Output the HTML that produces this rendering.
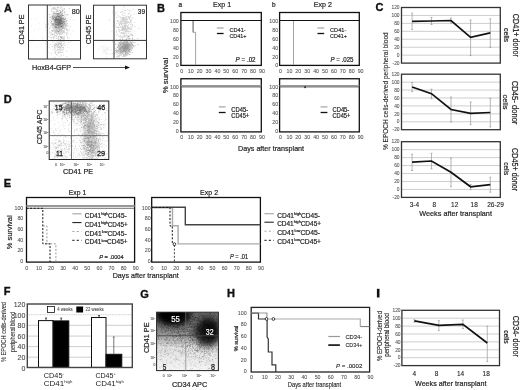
<!DOCTYPE html><html><head><meta charset="utf-8"><style>html,body{margin:0;padding:0;background:#fff;overflow:hidden;}svg{display:block;will-change:transform;}</style></head><body>
<svg width="520" height="390" viewBox="0 0 520 390" font-family='"Liberation Sans", sans-serif'>
<defs>
<filter id="bl6" x="-50%" y="-50%" width="200%" height="200%"><feGaussianBlur stdDeviation="0.6"/></filter>
<filter id="bl10" x="-50%" y="-50%" width="200%" height="200%"><feGaussianBlur stdDeviation="1.0"/></filter>
<filter id="bl15" x="-50%" y="-50%" width="200%" height="200%"><feGaussianBlur stdDeviation="1.5"/></filter>
<filter id="bl20" x="-50%" y="-50%" width="200%" height="200%"><feGaussianBlur stdDeviation="2.0"/></filter>
<filter id="bl25" x="-50%" y="-50%" width="200%" height="200%"><feGaussianBlur stdDeviation="2.5"/></filter>
<filter id="bl30" x="-50%" y="-50%" width="200%" height="200%"><feGaussianBlur stdDeviation="3.0"/></filter>
<filter id="bl35" x="-50%" y="-50%" width="200%" height="200%"><feGaussianBlur stdDeviation="3.5"/></filter>
<filter id="bl40" x="-50%" y="-50%" width="200%" height="200%"><feGaussianBlur stdDeviation="4.0"/></filter>
</defs>
<rect width="520" height="390" fill="#fff"/>
<text x="3.9" y="12.1" font-size="11" font-weight="bold" fill="#111" stroke="#111" stroke-width="0.35">A</text>
<ellipse cx="58.5" cy="22" rx="5" ry="8" fill="#000" fill-opacity="0.2" filter="url(#bl20)" transform="rotate(0,58.5,22)"/>
<path d="M57.5 21.8h0.8v0.8h-0.8zM57.6 18.1h0.8v0.8h-0.8zM55.5 18.5h0.8v0.8h-0.8zM61.6 21.4h0.8v0.8h-0.8zM61.4 20.6h0.8v0.8h-0.8zM59.5 20.3h0.8v0.8h-0.8zM53.3 23.3h0.8v0.8h-0.8zM59.8 21.7h0.8v0.8h-0.8zM53.2 11.7h0.8v0.8h-0.8zM55.6 17.4h0.8v0.8h-0.8zM59.2 19.3h0.8v0.8h-0.8zM59.9 16.6h0.8v0.8h-0.8zM59.2 21.3h0.8v0.8h-0.8zM56.3 27.2h0.8v0.8h-0.8zM60.0 24.9h0.8v0.8h-0.8zM56.4 16.2h0.8v0.8h-0.8zM57.3 19.0h0.8v0.8h-0.8zM60.2 20.6h0.8v0.8h-0.8zM57.0 15.2h0.8v0.8h-0.8zM56.7 25.0h0.8v0.8h-0.8zM55.9 20.6h0.8v0.8h-0.8zM59.6 12.8h0.8v0.8h-0.8zM58.4 25.4h0.8v0.8h-0.8zM52.3 18.1h0.8v0.8h-0.8zM58.0 15.8h0.8v0.8h-0.8zM59.8 19.2h0.8v0.8h-0.8zM53.9 23.2h0.8v0.8h-0.8zM60.3 23.8h0.8v0.8h-0.8zM62.6 21.1h0.8v0.8h-0.8zM58.7 13.7h0.8v0.8h-0.8zM60.1 16.7h0.8v0.8h-0.8zM56.9 13.8h0.8v0.8h-0.8zM55.4 17.1h0.8v0.8h-0.8zM62.2 10.4h0.8v0.8h-0.8zM53.9 20.6h0.8v0.8h-0.8zM62.6 22.1h0.8v0.8h-0.8zM52.6 8.2h0.8v0.8h-0.8zM59.4 16.2h0.8v0.8h-0.8zM54.9 23.9h0.8v0.8h-0.8zM61.6 20.2h0.8v0.8h-0.8zM59.0 21.5h0.8v0.8h-0.8zM63.1 22.3h0.8v0.8h-0.8zM59.9 22.0h0.8v0.8h-0.8zM53.6 25.3h0.8v0.8h-0.8zM61.2 21.9h0.8v0.8h-0.8zM52.4 16.6h0.8v0.8h-0.8zM60.8 11.3h0.8v0.8h-0.8zM57.7 24.1h0.8v0.8h-0.8zM54.4 26.7h0.8v0.8h-0.8zM60.0 18.8h0.8v0.8h-0.8zM59.3 22.4h0.8v0.8h-0.8zM58.7 24.7h0.8v0.8h-0.8zM56.3 17.6h0.8v0.8h-0.8zM61.4 19.6h0.8v0.8h-0.8zM55.7 23.8h0.8v0.8h-0.8zM62.7 17.5h0.8v0.8h-0.8zM54.2 18.9h0.8v0.8h-0.8zM57.9 18.2h0.8v0.8h-0.8zM62.5 14.9h0.8v0.8h-0.8zM62.1 13.8h0.8v0.8h-0.8zM55.9 22.3h0.8v0.8h-0.8zM61.7 23.4h0.8v0.8h-0.8zM59.3 20.1h0.8v0.8h-0.8zM58.8 22.1h0.8v0.8h-0.8zM57.8 20.7h0.8v0.8h-0.8zM60.0 19.5h0.8v0.8h-0.8zM60.6 22.0h0.8v0.8h-0.8zM64.3 21.0h0.8v0.8h-0.8zM57.0 17.8h0.8v0.8h-0.8zM58.3 23.7h0.8v0.8h-0.8zM57.3 21.2h0.8v0.8h-0.8zM63.8 8.0h0.8v0.8h-0.8zM54.9 20.6h0.8v0.8h-0.8zM59.5 20.6h0.8v0.8h-0.8zM57.0 22.4h0.8v0.8h-0.8zM59.1 17.2h0.8v0.8h-0.8zM65.6 21.1h0.8v0.8h-0.8zM56.6 19.1h0.8v0.8h-0.8zM57.6 19.2h0.8v0.8h-0.8zM50.1 17.3h0.8v0.8h-0.8zM61.3 14.2h0.8v0.8h-0.8zM58.1 23.8h0.8v0.8h-0.8zM60.9 26.2h0.8v0.8h-0.8zM53.2 17.9h0.8v0.8h-0.8zM57.3 22.3h0.8v0.8h-0.8zM61.6 7.4h0.8v0.8h-0.8zM61.6 13.0h0.8v0.8h-0.8zM60.3 12.8h0.8v0.8h-0.8zM58.8 24.9h0.8v0.8h-0.8zM57.9 20.4h0.8v0.8h-0.8zM60.7 20.1h0.8v0.8h-0.8zM58.0 26.4h0.8v0.8h-0.8zM61.4 18.2h0.8v0.8h-0.8zM66.5 14.3h0.8v0.8h-0.8zM61.0 18.3h0.8v0.8h-0.8zM58.7 22.7h0.8v0.8h-0.8zM59.0 22.4h0.8v0.8h-0.8zM53.7 12.7h0.8v0.8h-0.8zM60.1 15.2h0.8v0.8h-0.8zM55.2 12.9h0.8v0.8h-0.8zM62.1 22.9h0.8v0.8h-0.8zM62.7 15.3h0.8v0.8h-0.8zM58.3 14.4h0.8v0.8h-0.8zM60.6 26.7h0.8v0.8h-0.8zM55.6 26.5h0.8v0.8h-0.8zM61.3 18.7h0.8v0.8h-0.8zM52.4 25.8h0.8v0.8h-0.8zM58.0 16.8h0.8v0.8h-0.8zM59.5 21.3h0.8v0.8h-0.8zM62.8 14.9h0.8v0.8h-0.8zM61.7 26.2h0.8v0.8h-0.8zM62.7 18.7h0.8v0.8h-0.8zM56.1 24.1h0.8v0.8h-0.8zM58.6 20.1h0.8v0.8h-0.8zM62.6 18.3h0.8v0.8h-0.8zM51.4 17.8h0.8v0.8h-0.8zM52.7 23.2h0.8v0.8h-0.8zM59.3 16.7h0.8v0.8h-0.8zM58.3 23.2h0.8v0.8h-0.8zM58.5 25.5h0.8v0.8h-0.8zM58.1 24.2h0.8v0.8h-0.8zM62.8 26.7h0.8v0.8h-0.8zM56.3 23.5h0.8v0.8h-0.8zM52.7 14.6h0.8v0.8h-0.8zM52.4 24.3h0.8v0.8h-0.8zM54.6 19.4h0.8v0.8h-0.8zM57.7 19.4h0.8v0.8h-0.8zM56.5 20.6h0.8v0.8h-0.8zM63.7 19.7h0.8v0.8h-0.8zM59.9 24.0h0.8v0.8h-0.8zM57.7 13.8h0.8v0.8h-0.8zM56.6 24.3h0.8v0.8h-0.8zM53.4 16.8h0.8v0.8h-0.8zM61.3 23.1h0.8v0.8h-0.8zM58.3 23.1h0.8v0.8h-0.8zM58.8 14.2h0.8v0.8h-0.8zM53.6 16.6h0.8v0.8h-0.8zM61.1 17.0h0.8v0.8h-0.8zM55.6 16.0h0.8v0.8h-0.8zM53.7 19.0h0.8v0.8h-0.8zM54.8 21.1h0.8v0.8h-0.8zM51.2 21.0h0.8v0.8h-0.8zM56.4 10.8h0.8v0.8h-0.8zM60.5 18.3h0.8v0.8h-0.8zM51.6 15.6h0.8v0.8h-0.8zM59.2 17.4h0.8v0.8h-0.8zM60.6 22.9h0.8v0.8h-0.8zM60.3 21.0h0.8v0.8h-0.8zM62.3 22.5h0.8v0.8h-0.8zM59.7 10.1h0.8v0.8h-0.8zM61.0 25.4h0.8v0.8h-0.8zM57.4 17.4h0.8v0.8h-0.8zM64.1 11.6h0.8v0.8h-0.8zM59.7 30.4h0.8v0.8h-0.8zM55.5 22.6h0.8v0.8h-0.8zM64.0 19.0h0.8v0.8h-0.8zM60.0 23.6h0.8v0.8h-0.8zM55.6 19.1h0.8v0.8h-0.8zM59.2 23.2h0.8v0.8h-0.8zM58.2 18.6h0.8v0.8h-0.8zM55.3 17.9h0.8v0.8h-0.8zM61.0 20.0h0.8v0.8h-0.8zM55.7 15.7h0.8v0.8h-0.8zM66.3 24.6h0.8v0.8h-0.8zM60.2 7.8h0.8v0.8h-0.8zM60.2 21.7h0.8v0.8h-0.8zM63.4 21.4h0.8v0.8h-0.8zM58.1 21.9h0.8v0.8h-0.8zM52.5 24.1h0.8v0.8h-0.8zM59.3 16.3h0.8v0.8h-0.8zM62.3 27.6h0.8v0.8h-0.8zM54.1 16.5h0.8v0.8h-0.8zM59.2 20.3h0.8v0.8h-0.8zM57.1 15.1h0.8v0.8h-0.8zM64.7 24.2h0.8v0.8h-0.8zM54.7 13.4h0.8v0.8h-0.8zM63.4 24.0h0.8v0.8h-0.8zM63.8 23.1h0.8v0.8h-0.8zM55.7 20.7h0.8v0.8h-0.8zM51.8 16.1h0.8v0.8h-0.8zM58.1 21.9h0.8v0.8h-0.8zM56.1 18.9h0.8v0.8h-0.8zM59.7 21.2h0.8v0.8h-0.8zM60.2 20.4h0.8v0.8h-0.8zM57.3 23.1h0.8v0.8h-0.8zM58.4 15.8h0.8v0.8h-0.8zM56.4 19.5h0.8v0.8h-0.8zM58.0 20.2h0.8v0.8h-0.8zM58.3 20.3h0.8v0.8h-0.8zM57.9 13.8h0.8v0.8h-0.8zM59.6 24.2h0.8v0.8h-0.8zM59.6 18.6h0.8v0.8h-0.8zM59.6 15.2h0.8v0.8h-0.8zM52.6 19.8h0.8v0.8h-0.8zM55.5 22.8h0.8v0.8h-0.8zM55.0 7.7h0.8v0.8h-0.8zM55.2 26.6h0.8v0.8h-0.8zM57.2 13.3h0.8v0.8h-0.8zM56.0 21.8h0.8v0.8h-0.8zM59.8 20.3h0.8v0.8h-0.8zM62.8 22.7h0.8v0.8h-0.8zM58.2 22.2h0.8v0.8h-0.8zM63.3 23.9h0.8v0.8h-0.8zM61.4 14.6h0.8v0.8h-0.8zM57.9 22.8h0.8v0.8h-0.8zM57.4 24.3h0.8v0.8h-0.8zM60.1 23.6h0.8v0.8h-0.8zM57.7 31.0h0.8v0.8h-0.8zM62.0 18.5h0.8v0.8h-0.8zM58.6 31.2h0.8v0.8h-0.8zM57.3 23.4h0.8v0.8h-0.8zM61.2 19.5h0.8v0.8h-0.8zM54.8 20.3h0.8v0.8h-0.8zM59.4 24.6h0.8v0.8h-0.8zM60.6 19.6h0.8v0.8h-0.8zM60.9 21.9h0.8v0.8h-0.8zM58.9 19.7h0.8v0.8h-0.8zM57.6 22.6h0.8v0.8h-0.8zM55.1 16.7h0.8v0.8h-0.8zM58.3 12.9h0.8v0.8h-0.8zM57.0 10.5h0.8v0.8h-0.8zM56.3 22.1h0.8v0.8h-0.8zM60.0 19.3h0.8v0.8h-0.8zM57.6 13.1h0.8v0.8h-0.8zM63.8 21.8h0.8v0.8h-0.8zM61.6 15.5h0.8v0.8h-0.8zM57.7 11.3h0.8v0.8h-0.8zM60.6 23.7h0.8v0.8h-0.8zM52.6 19.3h0.8v0.8h-0.8zM60.2 11.6h0.8v0.8h-0.8zM52.8 14.7h0.8v0.8h-0.8zM56.4 13.2h0.8v0.8h-0.8zM58.4 20.6h0.8v0.8h-0.8zM60.2 22.7h0.8v0.8h-0.8zM62.8 24.7h0.8v0.8h-0.8zM54.4 17.2h0.8v0.8h-0.8zM55.1 14.7h0.8v0.8h-0.8zM58.1 19.5h0.8v0.8h-0.8zM59.8 12.4h0.8v0.8h-0.8zM54.6 19.4h0.8v0.8h-0.8zM57.7 18.1h0.8v0.8h-0.8zM58.1 16.1h0.8v0.8h-0.8zM60.4 21.1h0.8v0.8h-0.8zM58.0 16.5h0.8v0.8h-0.8zM57.8 7.3h0.8v0.8h-0.8zM55.4 19.7h0.8v0.8h-0.8zM53.8 20.4h0.8v0.8h-0.8zM58.7 13.3h0.8v0.8h-0.8zM57.5 18.1h0.8v0.8h-0.8zM59.7 22.3h0.8v0.8h-0.8zM58.2 15.7h0.8v0.8h-0.8zM57.9 19.2h0.8v0.8h-0.8zM60.5 20.8h0.8v0.8h-0.8zM56.1 13.4h0.8v0.8h-0.8zM57.2 16.2h0.8v0.8h-0.8zM55.0 19.0h0.8v0.8h-0.8zM56.8 20.0h0.8v0.8h-0.8zM59.9 17.6h0.8v0.8h-0.8zM65.3 18.1h0.8v0.8h-0.8zM61.6 20.0h0.8v0.8h-0.8z" fill="#000" fill-opacity="0.35"/>
<path d="M54.9 27.1h0.8v0.8h-0.8zM61.4 44.9h0.8v0.8h-0.8zM60.0 35.9h0.8v0.8h-0.8zM62.2 33.1h0.8v0.8h-0.8zM60.9 23.7h0.8v0.8h-0.8zM60.9 15.8h0.8v0.8h-0.8zM64.2 16.4h0.8v0.8h-0.8zM59.7 43.0h0.8v0.8h-0.8zM57.4 25.2h0.8v0.8h-0.8zM64.1 25.2h0.8v0.8h-0.8zM54.6 27.2h0.8v0.8h-0.8zM61.3 31.0h0.8v0.8h-0.8zM54.8 39.9h0.8v0.8h-0.8zM66.5 25.2h0.8v0.8h-0.8zM59.8 21.4h0.8v0.8h-0.8zM65.3 19.0h0.8v0.8h-0.8zM61.7 20.9h0.8v0.8h-0.8zM55.2 31.1h0.8v0.8h-0.8zM64.9 24.9h0.8v0.8h-0.8zM55.2 31.9h0.8v0.8h-0.8zM58.3 27.6h0.8v0.8h-0.8zM65.8 34.6h0.8v0.8h-0.8zM56.0 44.4h0.8v0.8h-0.8zM58.5 31.7h0.8v0.8h-0.8zM55.4 24.6h0.8v0.8h-0.8zM50.1 40.2h0.8v0.8h-0.8zM65.1 14.7h0.8v0.8h-0.8zM51.3 11.2h0.8v0.8h-0.8zM64.1 21.1h0.8v0.8h-0.8zM58.2 22.3h0.8v0.8h-0.8zM57.9 15.8h0.8v0.8h-0.8zM58.6 12.8h0.8v0.8h-0.8zM58.2 27.6h0.8v0.8h-0.8zM60.7 23.0h0.8v0.8h-0.8zM54.2 26.4h0.8v0.8h-0.8zM56.2 38.3h0.8v0.8h-0.8zM62.2 24.0h0.8v0.8h-0.8zM56.2 19.0h0.8v0.8h-0.8zM54.0 22.0h0.8v0.8h-0.8zM59.9 29.4h0.8v0.8h-0.8zM61.2 42.8h0.8v0.8h-0.8zM55.1 25.1h0.8v0.8h-0.8zM71.9 9.1h0.8v0.8h-0.8zM56.0 26.4h0.8v0.8h-0.8zM59.2 28.5h0.8v0.8h-0.8zM57.4 28.1h0.8v0.8h-0.8zM58.8 31.6h0.8v0.8h-0.8zM49.4 17.5h0.8v0.8h-0.8zM58.5 16.2h0.8v0.8h-0.8zM53.5 30.3h0.8v0.8h-0.8zM55.4 30.4h0.8v0.8h-0.8zM62.1 27.6h0.8v0.8h-0.8zM60.9 24.1h0.8v0.8h-0.8zM51.7 24.7h0.8v0.8h-0.8zM60.7 20.5h0.8v0.8h-0.8zM58.0 31.4h0.8v0.8h-0.8zM54.3 30.4h0.8v0.8h-0.8zM67.4 20.3h0.8v0.8h-0.8zM59.2 23.7h0.8v0.8h-0.8zM65.9 27.7h0.8v0.8h-0.8zM62.8 19.1h0.8v0.8h-0.8zM58.4 24.9h0.8v0.8h-0.8zM50.0 37.2h0.8v0.8h-0.8zM62.8 10.1h0.8v0.8h-0.8zM62.1 23.9h0.8v0.8h-0.8zM60.7 28.1h0.8v0.8h-0.8zM51.3 23.2h0.8v0.8h-0.8zM65.7 20.1h0.8v0.8h-0.8zM53.6 13.4h0.8v0.8h-0.8zM52.6 27.9h0.8v0.8h-0.8zM66.6 28.7h0.8v0.8h-0.8zM59.7 44.0h0.8v0.8h-0.8zM56.0 19.3h0.8v0.8h-0.8zM61.0 29.7h0.8v0.8h-0.8zM53.6 15.1h0.8v0.8h-0.8zM59.9 27.1h0.8v0.8h-0.8zM52.2 23.3h0.8v0.8h-0.8zM55.9 28.9h0.8v0.8h-0.8zM57.9 24.3h0.8v0.8h-0.8zM56.8 34.0h0.8v0.8h-0.8zM65.2 21.9h0.8v0.8h-0.8zM62.6 18.6h0.8v0.8h-0.8zM58.8 31.4h0.8v0.8h-0.8zM65.8 21.7h0.8v0.8h-0.8zM58.1 26.7h0.8v0.8h-0.8zM51.3 25.1h0.8v0.8h-0.8zM55.3 28.2h0.8v0.8h-0.8zM53.1 8.2h0.8v0.8h-0.8zM58.7 27.2h0.8v0.8h-0.8zM55.9 32.6h0.8v0.8h-0.8zM57.2 19.9h0.8v0.8h-0.8zM60.8 11.7h0.8v0.8h-0.8zM55.2 24.8h0.8v0.8h-0.8zM62.6 23.6h0.8v0.8h-0.8zM60.0 19.4h0.8v0.8h-0.8zM59.9 39.1h0.8v0.8h-0.8zM55.2 45.1h0.8v0.8h-0.8zM55.4 25.1h0.8v0.8h-0.8zM59.3 33.7h0.8v0.8h-0.8zM52.6 7.1h0.8v0.8h-0.8zM61.4 31.8h0.8v0.8h-0.8zM61.5 47.4h0.8v0.8h-0.8zM59.5 27.2h0.8v0.8h-0.8zM63.0 28.1h0.8v0.8h-0.8zM66.5 14.5h0.8v0.8h-0.8zM62.4 21.8h0.8v0.8h-0.8zM62.9 43.3h0.8v0.8h-0.8zM58.5 22.8h0.8v0.8h-0.8zM56.1 17.9h0.8v0.8h-0.8zM55.5 30.4h0.8v0.8h-0.8zM58.7 25.6h0.8v0.8h-0.8zM57.7 32.8h0.8v0.8h-0.8zM60.9 23.8h0.8v0.8h-0.8zM61.7 23.7h0.8v0.8h-0.8zM53.0 37.4h0.8v0.8h-0.8zM60.7 16.9h0.8v0.8h-0.8zM63.7 27.9h0.8v0.8h-0.8zM51.0 38.7h0.8v0.8h-0.8zM60.1 32.6h0.8v0.8h-0.8zM59.4 23.7h0.8v0.8h-0.8zM51.1 33.3h0.8v0.8h-0.8zM58.6 22.6h0.8v0.8h-0.8zM60.2 25.7h0.8v0.8h-0.8zM61.7 21.8h0.8v0.8h-0.8zM58.3 6.8h0.8v0.8h-0.8zM56.5 30.7h0.8v0.8h-0.8zM64.9 21.9h0.8v0.8h-0.8zM57.9 38.5h0.8v0.8h-0.8zM56.9 31.2h0.8v0.8h-0.8zM66.6 25.3h0.8v0.8h-0.8zM64.4 19.0h0.8v0.8h-0.8zM59.5 24.3h0.8v0.8h-0.8zM59.1 34.6h0.8v0.8h-0.8zM70.0 19.3h0.8v0.8h-0.8zM55.7 29.2h0.8v0.8h-0.8zM53.4 29.2h0.8v0.8h-0.8zM61.2 22.6h0.8v0.8h-0.8zM61.0 11.8h0.8v0.8h-0.8zM62.1 11.9h0.8v0.8h-0.8zM55.2 20.3h0.8v0.8h-0.8zM56.6 32.3h0.8v0.8h-0.8zM58.9 21.6h0.8v0.8h-0.8zM61.1 38.4h0.8v0.8h-0.8zM58.5 28.1h0.8v0.8h-0.8zM64.5 27.3h0.8v0.8h-0.8zM52.3 46.2h0.8v0.8h-0.8zM69.1 8.1h0.8v0.8h-0.8zM58.3 28.5h0.8v0.8h-0.8zM63.1 30.7h0.8v0.8h-0.8zM57.2 16.0h0.8v0.8h-0.8zM59.0 33.8h0.8v0.8h-0.8zM53.3 16.3h0.8v0.8h-0.8zM58.4 8.5h0.8v0.8h-0.8zM57.3 21.3h0.8v0.8h-0.8zM60.7 19.0h0.8v0.8h-0.8zM54.3 21.6h0.8v0.8h-0.8zM58.3 19.4h0.8v0.8h-0.8zM58.6 31.4h0.8v0.8h-0.8zM64.2 39.5h0.8v0.8h-0.8zM54.7 21.4h0.8v0.8h-0.8zM46.6 41.1h0.8v0.8h-0.8zM55.0 24.7h0.8v0.8h-0.8zM61.0 13.5h0.8v0.8h-0.8zM60.7 24.8h0.8v0.8h-0.8zM49.7 27.5h0.8v0.8h-0.8zM64.2 9.1h0.8v0.8h-0.8zM62.4 26.8h0.8v0.8h-0.8zM60.8 28.8h0.8v0.8h-0.8zM64.8 23.1h0.8v0.8h-0.8zM62.7 21.5h0.8v0.8h-0.8zM62.0 18.1h0.8v0.8h-0.8zM58.0 39.7h0.8v0.8h-0.8zM60.6 23.7h0.8v0.8h-0.8zM53.0 18.3h0.8v0.8h-0.8zM59.4 33.0h0.8v0.8h-0.8zM60.5 29.5h0.8v0.8h-0.8zM58.3 36.5h0.8v0.8h-0.8zM56.6 20.3h0.8v0.8h-0.8zM62.8 25.5h0.8v0.8h-0.8zM57.2 20.1h0.8v0.8h-0.8zM57.3 30.3h0.8v0.8h-0.8zM60.2 14.7h0.8v0.8h-0.8zM60.5 26.5h0.8v0.8h-0.8zM53.7 31.6h0.8v0.8h-0.8zM57.2 22.1h0.8v0.8h-0.8zM62.3 36.2h0.8v0.8h-0.8zM55.2 28.7h0.8v0.8h-0.8zM54.3 44.7h0.8v0.8h-0.8zM56.1 35.2h0.8v0.8h-0.8zM55.4 31.9h0.8v0.8h-0.8zM56.4 29.3h0.8v0.8h-0.8zM58.1 19.3h0.8v0.8h-0.8zM68.8 25.7h0.8v0.8h-0.8zM50.6 32.3h0.8v0.8h-0.8zM50.2 34.8h0.8v0.8h-0.8zM55.7 26.2h0.8v0.8h-0.8zM64.6 26.0h0.8v0.8h-0.8zM51.8 10.6h0.8v0.8h-0.8zM64.2 31.3h0.8v0.8h-0.8zM54.6 32.3h0.8v0.8h-0.8zM60.9 30.5h0.8v0.8h-0.8zM47.7 22.4h0.8v0.8h-0.8zM62.8 31.2h0.8v0.8h-0.8zM59.3 29.2h0.8v0.8h-0.8zM70.7 16.9h0.8v0.8h-0.8zM56.9 25.3h0.8v0.8h-0.8zM62.8 21.2h0.8v0.8h-0.8zM64.0 18.3h0.8v0.8h-0.8zM59.8 20.5h0.8v0.8h-0.8zM59.3 19.1h0.8v0.8h-0.8zM50.8 34.3h0.8v0.8h-0.8zM60.0 20.3h0.8v0.8h-0.8zM59.5 33.4h0.8v0.8h-0.8zM53.8 24.1h0.8v0.8h-0.8zM61.1 29.5h0.8v0.8h-0.8zM56.9 7.1h0.8v0.8h-0.8zM64.5 27.8h0.8v0.8h-0.8zM58.6 22.6h0.8v0.8h-0.8zM59.8 21.4h0.8v0.8h-0.8zM53.6 18.7h0.8v0.8h-0.8zM55.6 19.8h0.8v0.8h-0.8zM52.9 30.4h0.8v0.8h-0.8zM52.2 30.6h0.8v0.8h-0.8zM53.6 28.0h0.8v0.8h-0.8zM65.1 26.7h0.8v0.8h-0.8zM55.0 25.4h0.8v0.8h-0.8zM59.2 10.3h0.8v0.8h-0.8zM55.6 26.4h0.8v0.8h-0.8zM56.2 25.7h0.8v0.8h-0.8zM62.0 31.5h0.8v0.8h-0.8zM62.8 30.0h0.8v0.8h-0.8zM57.1 24.8h0.8v0.8h-0.8zM57.2 22.3h0.8v0.8h-0.8zM57.6 10.3h0.8v0.8h-0.8zM56.9 24.8h0.8v0.8h-0.8zM53.8 24.8h0.8v0.8h-0.8zM61.0 23.6h0.8v0.8h-0.8zM57.5 9.5h0.8v0.8h-0.8zM63.2 47.6h0.8v0.8h-0.8zM46.5 26.1h0.8v0.8h-0.8zM61.0 22.4h0.8v0.8h-0.8zM61.1 5.9h0.8v0.8h-0.8zM62.6 28.2h0.8v0.8h-0.8zM58.6 20.0h0.8v0.8h-0.8zM61.6 20.9h0.8v0.8h-0.8zM59.6 20.7h0.8v0.8h-0.8zM47.7 24.7h0.8v0.8h-0.8zM59.5 31.4h0.8v0.8h-0.8zM54.3 24.7h0.8v0.8h-0.8zM61.5 26.2h0.8v0.8h-0.8zM64.5 41.9h0.8v0.8h-0.8zM54.1 8.7h0.8v0.8h-0.8zM62.6 38.0h0.8v0.8h-0.8zM62.9 31.9h0.8v0.8h-0.8zM55.5 18.9h0.8v0.8h-0.8zM62.8 17.3h0.8v0.8h-0.8zM49.8 16.5h0.8v0.8h-0.8zM70.5 41.3h0.8v0.8h-0.8zM55.2 18.8h0.8v0.8h-0.8zM59.6 18.6h0.8v0.8h-0.8zM64.8 24.3h0.8v0.8h-0.8zM53.3 36.1h0.8v0.8h-0.8zM55.7 26.9h0.8v0.8h-0.8zM58.4 22.3h0.8v0.8h-0.8zM60.1 19.1h0.8v0.8h-0.8zM49.6 6.2h0.8v0.8h-0.8zM52.4 18.6h0.8v0.8h-0.8zM58.4 25.5h0.8v0.8h-0.8zM61.2 26.0h0.8v0.8h-0.8zM54.7 19.0h0.8v0.8h-0.8zM48.3 23.6h0.8v0.8h-0.8zM60.8 29.5h0.8v0.8h-0.8zM57.9 23.5h0.8v0.8h-0.8zM63.0 25.1h0.8v0.8h-0.8zM62.0 30.0h0.8v0.8h-0.8zM59.5 36.1h0.8v0.8h-0.8zM55.8 21.9h0.8v0.8h-0.8zM54.6 18.2h0.8v0.8h-0.8zM66.0 40.0h0.8v0.8h-0.8zM58.6 29.8h0.8v0.8h-0.8zM64.1 31.9h0.8v0.8h-0.8zM64.3 14.3h0.8v0.8h-0.8zM55.4 28.8h0.8v0.8h-0.8zM65.4 25.9h0.8v0.8h-0.8zM54.4 22.0h0.8v0.8h-0.8zM55.3 17.7h0.8v0.8h-0.8zM65.7 19.7h0.8v0.8h-0.8zM58.6 43.4h0.8v0.8h-0.8zM64.2 27.9h0.8v0.8h-0.8zM55.6 28.5h0.8v0.8h-0.8zM66.3 30.3h0.8v0.8h-0.8zM64.6 25.8h0.8v0.8h-0.8zM61.0 23.3h0.8v0.8h-0.8zM60.5 36.1h0.8v0.8h-0.8zM51.6 24.5h0.8v0.8h-0.8zM59.7 20.1h0.8v0.8h-0.8zM57.0 31.7h0.8v0.8h-0.8zM68.1 30.4h0.8v0.8h-0.8zM60.1 11.8h0.8v0.8h-0.8zM67.8 25.7h0.8v0.8h-0.8zM58.3 15.5h0.8v0.8h-0.8zM58.2 15.7h0.8v0.8h-0.8zM58.8 29.0h0.8v0.8h-0.8zM58.6 27.4h0.8v0.8h-0.8zM54.4 37.2h0.8v0.8h-0.8zM55.4 9.5h0.8v0.8h-0.8zM57.6 18.5h0.8v0.8h-0.8zM53.7 22.0h0.8v0.8h-0.8zM59.9 15.0h0.8v0.8h-0.8zM57.8 37.1h0.8v0.8h-0.8zM61.8 23.7h0.8v0.8h-0.8zM59.1 24.0h0.8v0.8h-0.8zM58.3 31.2h0.8v0.8h-0.8zM58.4 17.4h0.8v0.8h-0.8zM61.6 19.8h0.8v0.8h-0.8zM59.2 43.5h0.8v0.8h-0.8zM53.5 15.4h0.8v0.8h-0.8zM49.5 28.1h0.8v0.8h-0.8zM55.4 9.1h0.8v0.8h-0.8zM51.4 30.2h0.8v0.8h-0.8zM54.8 21.9h0.8v0.8h-0.8zM60.1 36.5h0.8v0.8h-0.8zM67.8 33.8h0.8v0.8h-0.8zM59.2 26.6h0.8v0.8h-0.8zM67.2 37.1h0.8v0.8h-0.8zM57.0 28.9h0.8v0.8h-0.8zM59.9 25.4h0.8v0.8h-0.8zM56.1 13.7h0.8v0.8h-0.8zM55.9 11.9h0.8v0.8h-0.8zM64.4 29.6h0.8v0.8h-0.8zM52.7 36.9h0.8v0.8h-0.8zM62.8 8.8h0.8v0.8h-0.8zM67.3 31.9h0.8v0.8h-0.8zM68.4 14.5h0.8v0.8h-0.8zM61.0 28.6h0.8v0.8h-0.8zM59.5 26.5h0.8v0.8h-0.8zM63.6 12.3h0.8v0.8h-0.8zM52.5 13.1h0.8v0.8h-0.8zM55.8 19.9h0.8v0.8h-0.8zM60.3 27.3h0.8v0.8h-0.8zM58.7 19.2h0.8v0.8h-0.8zM56.4 33.1h0.8v0.8h-0.8zM62.2 25.9h0.8v0.8h-0.8zM57.0 38.2h0.8v0.8h-0.8zM55.6 30.5h0.8v0.8h-0.8zM64.0 22.7h0.8v0.8h-0.8zM62.5 15.5h0.8v0.8h-0.8zM63.4 26.7h0.8v0.8h-0.8zM50.9 30.7h0.8v0.8h-0.8zM54.2 35.9h0.8v0.8h-0.8zM55.2 23.6h0.8v0.8h-0.8zM59.9 22.2h0.8v0.8h-0.8zM59.7 20.3h0.8v0.8h-0.8zM61.7 25.0h0.8v0.8h-0.8zM64.1 25.3h0.8v0.8h-0.8zM49.9 25.8h0.8v0.8h-0.8zM60.7 34.1h0.8v0.8h-0.8zM53.3 38.1h0.8v0.8h-0.8zM57.7 45.4h0.8v0.8h-0.8zM57.8 30.8h0.8v0.8h-0.8zM56.7 15.5h0.8v0.8h-0.8zM63.8 32.7h0.8v0.8h-0.8zM65.9 32.3h0.8v0.8h-0.8zM55.7 10.9h0.8v0.8h-0.8zM55.4 19.3h0.8v0.8h-0.8zM54.6 30.0h0.8v0.8h-0.8zM60.1 22.7h0.8v0.8h-0.8zM59.3 23.8h0.8v0.8h-0.8zM59.5 31.4h0.8v0.8h-0.8zM63.1 19.2h0.8v0.8h-0.8zM51.3 37.1h0.8v0.8h-0.8zM59.0 34.4h0.8v0.8h-0.8zM50.6 22.2h0.8v0.8h-0.8zM58.6 12.7h0.8v0.8h-0.8zM56.0 31.2h0.8v0.8h-0.8zM63.7 38.5h0.8v0.8h-0.8zM54.4 13.1h0.8v0.8h-0.8zM61.0 33.0h0.8v0.8h-0.8zM59.4 13.9h0.8v0.8h-0.8zM62.3 31.7h0.8v0.8h-0.8zM61.2 20.9h0.8v0.8h-0.8zM60.0 31.7h0.8v0.8h-0.8zM55.8 9.3h0.8v0.8h-0.8zM60.1 29.1h0.8v0.8h-0.8zM58.6 32.6h0.8v0.8h-0.8zM55.7 24.3h0.8v0.8h-0.8zM57.0 29.9h0.8v0.8h-0.8zM66.2 22.9h0.8v0.8h-0.8zM68.4 38.0h0.8v0.8h-0.8zM62.3 30.0h0.8v0.8h-0.8zM67.0 23.5h0.8v0.8h-0.8zM58.0 16.0h0.8v0.8h-0.8zM60.8 36.4h0.8v0.8h-0.8zM61.1 28.6h0.8v0.8h-0.8zM57.5 26.4h0.8v0.8h-0.8zM51.7 33.9h0.8v0.8h-0.8zM56.5 15.6h0.8v0.8h-0.8zM54.9 18.0h0.8v0.8h-0.8zM62.6 34.0h0.8v0.8h-0.8zM52.0 32.9h0.8v0.8h-0.8zM62.8 20.1h0.8v0.8h-0.8zM51.4 18.7h0.8v0.8h-0.8zM55.5 27.9h0.8v0.8h-0.8zM56.8 7.8h0.8v0.8h-0.8zM59.6 12.0h0.8v0.8h-0.8zM62.8 14.7h0.8v0.8h-0.8zM55.2 17.7h0.8v0.8h-0.8zM55.9 36.0h0.8v0.8h-0.8zM62.6 30.1h0.8v0.8h-0.8zM60.0 11.8h0.8v0.8h-0.8zM56.0 20.3h0.8v0.8h-0.8zM53.8 29.3h0.8v0.8h-0.8zM54.9 19.0h0.8v0.8h-0.8zM53.5 7.5h0.8v0.8h-0.8zM61.4 36.3h0.8v0.8h-0.8zM59.3 16.7h0.8v0.8h-0.8zM45.5 26.5h0.8v0.8h-0.8zM64.3 27.5h0.8v0.8h-0.8zM63.0 37.6h0.8v0.8h-0.8zM63.9 21.2h0.8v0.8h-0.8zM63.6 31.6h0.8v0.8h-0.8zM51.1 21.6h0.8v0.8h-0.8zM51.7 24.1h0.8v0.8h-0.8zM61.3 15.9h0.8v0.8h-0.8zM48.6 36.0h0.8v0.8h-0.8zM60.3 37.5h0.8v0.8h-0.8zM52.1 34.0h0.8v0.8h-0.8zM68.5 42.1h0.8v0.8h-0.8zM57.5 27.3h0.8v0.8h-0.8zM57.8 33.5h0.8v0.8h-0.8zM63.5 25.7h0.8v0.8h-0.8zM52.0 31.3h0.8v0.8h-0.8zM56.2 30.3h0.8v0.8h-0.8zM59.8 38.8h0.8v0.8h-0.8zM64.0 21.2h0.8v0.8h-0.8zM60.2 40.0h0.8v0.8h-0.8zM55.9 28.7h0.8v0.8h-0.8zM64.2 35.7h0.8v0.8h-0.8zM61.0 13.8h0.8v0.8h-0.8zM52.4 27.1h0.8v0.8h-0.8zM60.4 46.7h0.8v0.8h-0.8zM54.4 34.7h0.8v0.8h-0.8zM62.2 10.8h0.8v0.8h-0.8zM54.6 26.4h0.8v0.8h-0.8zM56.1 23.7h0.8v0.8h-0.8zM60.8 18.1h0.8v0.8h-0.8zM60.7 19.6h0.8v0.8h-0.8zM55.9 29.6h0.8v0.8h-0.8zM55.7 27.4h0.8v0.8h-0.8zM66.2 25.2h0.8v0.8h-0.8zM57.8 31.2h0.8v0.8h-0.8zM56.7 34.2h0.8v0.8h-0.8zM52.3 30.3h0.8v0.8h-0.8zM56.0 18.2h0.8v0.8h-0.8zM67.0 17.8h0.8v0.8h-0.8zM66.9 30.6h0.8v0.8h-0.8zM65.5 16.7h0.8v0.8h-0.8zM64.3 37.4h0.8v0.8h-0.8zM57.9 23.9h0.8v0.8h-0.8zM70.3 26.5h0.8v0.8h-0.8zM56.5 19.6h0.8v0.8h-0.8zM60.6 27.8h0.8v0.8h-0.8zM59.4 39.6h0.8v0.8h-0.8zM56.9 29.0h0.8v0.8h-0.8zM65.5 16.5h0.8v0.8h-0.8zM63.5 40.6h0.8v0.8h-0.8zM52.0 15.7h0.8v0.8h-0.8zM53.5 9.3h0.8v0.8h-0.8zM60.7 9.2h0.8v0.8h-0.8zM60.9 37.4h0.8v0.8h-0.8zM50.7 22.3h0.8v0.8h-0.8zM49.3 31.6h0.8v0.8h-0.8zM55.0 22.7h0.8v0.8h-0.8zM58.8 29.6h0.8v0.8h-0.8zM56.8 25.1h0.8v0.8h-0.8zM55.9 26.0h0.8v0.8h-0.8zM52.9 25.5h0.8v0.8h-0.8zM49.2 20.8h0.8v0.8h-0.8zM67.7 25.7h0.8v0.8h-0.8zM52.5 27.2h0.8v0.8h-0.8zM53.8 11.0h0.8v0.8h-0.8zM55.0 31.3h0.8v0.8h-0.8zM60.3 24.2h0.8v0.8h-0.8zM54.1 15.8h0.8v0.8h-0.8zM65.0 27.1h0.8v0.8h-0.8zM53.9 7.1h0.8v0.8h-0.8zM51.9 46.0h0.8v0.8h-0.8zM53.0 24.3h0.8v0.8h-0.8zM59.5 23.7h0.8v0.8h-0.8zM57.2 13.3h0.8v0.8h-0.8zM53.5 39.4h0.8v0.8h-0.8zM54.9 32.2h0.8v0.8h-0.8zM50.4 22.7h0.8v0.8h-0.8zM59.8 33.8h0.8v0.8h-0.8zM53.1 30.1h0.8v0.8h-0.8zM60.4 18.7h0.8v0.8h-0.8zM60.8 17.4h0.8v0.8h-0.8zM54.7 24.8h0.8v0.8h-0.8zM45.5 24.1h0.8v0.8h-0.8zM53.7 12.6h0.8v0.8h-0.8zM56.5 31.5h0.8v0.8h-0.8zM56.6 35.8h0.8v0.8h-0.8zM52.9 13.8h0.8v0.8h-0.8zM65.9 28.4h0.8v0.8h-0.8zM63.0 18.0h0.8v0.8h-0.8zM62.4 27.2h0.8v0.8h-0.8zM61.6 25.2h0.8v0.8h-0.8zM64.3 19.5h0.8v0.8h-0.8zM53.9 12.4h0.8v0.8h-0.8zM64.1 18.7h0.8v0.8h-0.8zM53.5 17.0h0.8v0.8h-0.8zM56.4 14.2h0.8v0.8h-0.8zM57.1 19.7h0.8v0.8h-0.8zM55.9 16.8h0.8v0.8h-0.8zM58.7 21.1h0.8v0.8h-0.8zM59.1 27.1h0.8v0.8h-0.8zM60.1 6.4h0.8v0.8h-0.8zM55.9 18.2h0.8v0.8h-0.8zM62.2 11.6h0.8v0.8h-0.8zM55.1 22.5h0.8v0.8h-0.8zM56.9 33.4h0.8v0.8h-0.8zM56.4 33.2h0.8v0.8h-0.8zM51.5 9.6h0.8v0.8h-0.8zM64.4 28.7h0.8v0.8h-0.8zM60.8 26.0h0.8v0.8h-0.8zM60.8 14.7h0.8v0.8h-0.8zM63.1 20.5h0.8v0.8h-0.8zM63.2 25.7h0.8v0.8h-0.8zM49.0 14.1h0.8v0.8h-0.8zM63.9 23.8h0.8v0.8h-0.8zM56.6 27.1h0.8v0.8h-0.8zM56.5 20.4h0.8v0.8h-0.8zM59.0 26.2h0.8v0.8h-0.8zM65.8 25.4h0.8v0.8h-0.8zM67.5 40.3h0.8v0.8h-0.8zM66.7 34.0h0.8v0.8h-0.8zM59.1 26.2h0.8v0.8h-0.8zM57.8 18.8h0.8v0.8h-0.8zM58.2 19.6h0.8v0.8h-0.8zM66.4 29.5h0.8v0.8h-0.8zM56.4 8.7h0.8v0.8h-0.8zM58.2 21.5h0.8v0.8h-0.8zM53.3 15.3h0.8v0.8h-0.8zM47.7 29.8h0.8v0.8h-0.8zM58.2 46.9h0.8v0.8h-0.8zM58.4 23.7h0.8v0.8h-0.8zM65.4 26.1h0.8v0.8h-0.8zM59.3 21.8h0.8v0.8h-0.8zM55.6 37.7h0.8v0.8h-0.8zM63.3 39.6h0.8v0.8h-0.8zM56.8 25.3h0.8v0.8h-0.8zM54.3 33.2h0.8v0.8h-0.8zM51.8 29.8h0.8v0.8h-0.8zM63.8 37.0h0.8v0.8h-0.8zM54.0 34.3h0.8v0.8h-0.8zM55.1 18.6h0.8v0.8h-0.8zM52.1 34.8h0.8v0.8h-0.8zM66.4 19.9h0.8v0.8h-0.8zM54.9 22.1h0.8v0.8h-0.8zM70.5 33.5h0.8v0.8h-0.8zM55.9 9.7h0.8v0.8h-0.8zM55.3 35.1h0.8v0.8h-0.8zM67.5 22.7h0.8v0.8h-0.8zM55.2 20.7h0.8v0.8h-0.8zM49.4 32.7h0.8v0.8h-0.8zM53.3 34.0h0.8v0.8h-0.8zM50.3 14.2h0.8v0.8h-0.8zM59.9 18.5h0.8v0.8h-0.8zM62.3 25.1h0.8v0.8h-0.8zM52.9 30.3h0.8v0.8h-0.8zM62.5 8.7h0.8v0.8h-0.8zM67.3 29.2h0.8v0.8h-0.8zM62.1 9.2h0.8v0.8h-0.8zM55.0 22.0h0.8v0.8h-0.8zM63.7 12.6h0.8v0.8h-0.8zM54.3 7.7h0.8v0.8h-0.8zM57.3 27.9h0.8v0.8h-0.8zM50.4 20.0h0.8v0.8h-0.8zM60.9 38.5h0.8v0.8h-0.8zM61.7 22.4h0.8v0.8h-0.8zM52.8 17.0h0.8v0.8h-0.8zM55.3 26.2h0.8v0.8h-0.8zM58.3 39.2h0.8v0.8h-0.8zM59.9 15.9h0.8v0.8h-0.8zM65.9 33.1h0.8v0.8h-0.8zM59.0 18.9h0.8v0.8h-0.8zM49.5 16.3h0.8v0.8h-0.8zM62.9 18.2h0.8v0.8h-0.8zM52.2 26.7h0.8v0.8h-0.8zM59.7 30.2h0.8v0.8h-0.8zM61.6 37.0h0.8v0.8h-0.8zM54.5 33.3h0.8v0.8h-0.8zM53.8 30.9h0.8v0.8h-0.8zM59.4 27.1h0.8v0.8h-0.8zM63.1 24.9h0.8v0.8h-0.8zM63.8 32.4h0.8v0.8h-0.8zM59.2 20.2h0.8v0.8h-0.8zM54.9 20.5h0.8v0.8h-0.8zM57.5 24.8h0.8v0.8h-0.8zM72.8 30.4h0.8v0.8h-0.8zM62.2 17.7h0.8v0.8h-0.8zM55.1 22.3h0.8v0.8h-0.8zM59.4 16.2h0.8v0.8h-0.8zM66.2 20.2h0.8v0.8h-0.8zM63.7 5.1h0.8v0.8h-0.8zM58.5 27.4h0.8v0.8h-0.8zM59.4 30.1h0.8v0.8h-0.8zM59.8 26.4h0.8v0.8h-0.8zM49.4 18.9h0.8v0.8h-0.8zM47.3 30.3h0.8v0.8h-0.8zM60.0 23.3h0.8v0.8h-0.8zM54.6 20.1h0.8v0.8h-0.8zM67.4 39.7h0.8v0.8h-0.8zM58.2 35.9h0.8v0.8h-0.8zM50.9 8.6h0.8v0.8h-0.8zM56.2 17.6h0.8v0.8h-0.8zM55.8 26.6h0.8v0.8h-0.8zM73.0 19.4h0.8v0.8h-0.8zM58.7 27.3h0.8v0.8h-0.8zM58.3 32.9h0.8v0.8h-0.8zM67.0 14.4h0.8v0.8h-0.8zM59.3 22.7h0.8v0.8h-0.8zM60.2 12.0h0.8v0.8h-0.8zM50.1 5.3h0.8v0.8h-0.8zM61.0 26.6h0.8v0.8h-0.8zM56.7 18.6h0.8v0.8h-0.8zM51.7 17.2h0.8v0.8h-0.8zM61.8 29.6h0.8v0.8h-0.8zM58.4 29.4h0.8v0.8h-0.8zM55.6 25.6h0.8v0.8h-0.8zM58.7 29.7h0.8v0.8h-0.8zM58.2 23.8h0.8v0.8h-0.8zM57.9 19.5h0.8v0.8h-0.8zM69.2 29.4h0.8v0.8h-0.8zM60.6 44.5h0.8v0.8h-0.8zM65.2 11.8h0.8v0.8h-0.8zM61.8 32.1h0.8v0.8h-0.8zM67.5 36.2h0.8v0.8h-0.8zM62.2 15.0h0.8v0.8h-0.8zM54.3 27.3h0.8v0.8h-0.8zM60.9 16.3h0.8v0.8h-0.8z" fill="#000" fill-opacity="0.22"/>
<path d="M57.0 45.0h0.8v0.8h-0.8zM58.7 48.7h0.8v0.8h-0.8zM57.4 40.8h0.8v0.8h-0.8zM63.2 55.0h0.8v0.8h-0.8zM58.1 52.1h0.8v0.8h-0.8zM60.2 50.3h0.8v0.8h-0.8zM60.3 43.2h0.8v0.8h-0.8zM60.7 52.1h0.8v0.8h-0.8zM55.1 56.8h0.8v0.8h-0.8zM66.4 56.1h0.8v0.8h-0.8zM66.1 50.7h0.8v0.8h-0.8zM57.2 44.0h0.8v0.8h-0.8zM55.4 47.6h0.8v0.8h-0.8zM58.4 50.4h0.8v0.8h-0.8zM67.2 46.9h0.8v0.8h-0.8zM61.1 49.4h0.8v0.8h-0.8zM59.5 46.0h0.8v0.8h-0.8zM58.0 42.9h0.8v0.8h-0.8zM59.2 46.9h0.8v0.8h-0.8zM59.7 42.7h0.8v0.8h-0.8zM58.7 47.2h0.8v0.8h-0.8zM60.8 41.7h0.8v0.8h-0.8zM60.1 51.9h0.8v0.8h-0.8zM60.8 45.2h0.8v0.8h-0.8zM56.6 45.8h0.8v0.8h-0.8zM61.3 54.8h0.8v0.8h-0.8zM57.9 43.8h0.8v0.8h-0.8zM59.9 48.0h0.8v0.8h-0.8zM55.0 43.3h0.8v0.8h-0.8zM58.1 50.4h0.8v0.8h-0.8zM54.0 41.9h0.8v0.8h-0.8zM60.4 40.9h0.8v0.8h-0.8zM58.9 48.8h0.8v0.8h-0.8zM58.1 41.9h0.8v0.8h-0.8zM58.3 45.3h0.8v0.8h-0.8zM59.8 42.8h0.8v0.8h-0.8zM62.6 38.6h0.8v0.8h-0.8zM57.8 47.0h0.8v0.8h-0.8zM62.2 44.0h0.8v0.8h-0.8zM60.6 44.2h0.8v0.8h-0.8zM61.3 55.7h0.8v0.8h-0.8zM57.0 49.2h0.8v0.8h-0.8zM55.0 51.9h0.8v0.8h-0.8zM63.1 47.2h0.8v0.8h-0.8zM54.2 49.0h0.8v0.8h-0.8zM62.9 52.4h0.8v0.8h-0.8zM61.6 37.8h0.8v0.8h-0.8zM55.9 54.1h0.8v0.8h-0.8zM53.8 52.7h0.8v0.8h-0.8zM65.7 50.8h0.8v0.8h-0.8zM62.8 45.3h0.8v0.8h-0.8zM53.8 46.5h0.8v0.8h-0.8zM57.7 46.8h0.8v0.8h-0.8zM61.1 46.3h0.8v0.8h-0.8zM59.2 49.1h0.8v0.8h-0.8zM58.5 56.2h0.8v0.8h-0.8zM60.2 47.4h0.8v0.8h-0.8zM57.7 43.9h0.8v0.8h-0.8zM63.6 47.8h0.8v0.8h-0.8zM54.4 44.2h0.8v0.8h-0.8zM58.0 44.8h0.8v0.8h-0.8zM62.6 41.2h0.8v0.8h-0.8zM60.4 47.7h0.8v0.8h-0.8zM54.0 47.2h0.8v0.8h-0.8zM58.1 49.5h0.8v0.8h-0.8zM56.8 48.5h0.8v0.8h-0.8zM52.2 41.6h0.8v0.8h-0.8zM61.5 52.2h0.8v0.8h-0.8zM58.5 44.0h0.8v0.8h-0.8zM62.6 36.5h0.8v0.8h-0.8zM55.5 50.4h0.8v0.8h-0.8zM61.0 41.8h0.8v0.8h-0.8zM51.3 54.3h0.8v0.8h-0.8zM59.1 42.5h0.8v0.8h-0.8zM58.7 51.5h0.8v0.8h-0.8zM48.7 52.6h0.8v0.8h-0.8zM61.3 36.6h0.8v0.8h-0.8zM61.4 38.1h0.8v0.8h-0.8zM62.8 49.0h0.8v0.8h-0.8zM67.1 43.9h0.8v0.8h-0.8zM58.5 52.2h0.8v0.8h-0.8zM56.1 43.5h0.8v0.8h-0.8zM57.1 46.6h0.8v0.8h-0.8zM54.4 49.4h0.8v0.8h-0.8zM60.6 47.4h0.8v0.8h-0.8zM65.0 45.4h0.8v0.8h-0.8zM63.5 44.3h0.8v0.8h-0.8zM61.4 37.3h0.8v0.8h-0.8zM59.3 46.1h0.8v0.8h-0.8zM56.6 43.9h0.8v0.8h-0.8zM57.2 43.4h0.8v0.8h-0.8zM50.2 44.0h0.8v0.8h-0.8zM56.4 44.4h0.8v0.8h-0.8zM54.5 46.3h0.8v0.8h-0.8zM61.5 45.7h0.8v0.8h-0.8zM56.6 53.8h0.8v0.8h-0.8zM62.2 51.6h0.8v0.8h-0.8zM62.9 45.4h0.8v0.8h-0.8zM58.0 52.6h0.8v0.8h-0.8zM56.4 46.4h0.8v0.8h-0.8zM59.9 48.9h0.8v0.8h-0.8zM57.4 51.9h0.8v0.8h-0.8zM57.8 50.6h0.8v0.8h-0.8zM62.6 50.3h0.8v0.8h-0.8zM61.3 41.2h0.8v0.8h-0.8zM53.5 43.9h0.8v0.8h-0.8zM60.3 54.5h0.8v0.8h-0.8zM53.9 48.5h0.8v0.8h-0.8zM55.3 43.3h0.8v0.8h-0.8zM57.4 50.5h0.8v0.8h-0.8zM59.3 52.9h0.8v0.8h-0.8zM54.8 51.4h0.8v0.8h-0.8zM62.0 47.3h0.8v0.8h-0.8zM60.3 44.2h0.8v0.8h-0.8zM54.4 45.0h0.8v0.8h-0.8zM56.7 55.3h0.8v0.8h-0.8zM59.3 48.6h0.8v0.8h-0.8zM61.3 43.1h0.8v0.8h-0.8zM62.0 48.9h0.8v0.8h-0.8zM52.7 50.0h0.8v0.8h-0.8zM60.6 49.3h0.8v0.8h-0.8zM64.5 44.9h0.8v0.8h-0.8zM60.4 50.7h0.8v0.8h-0.8zM55.1 53.0h0.8v0.8h-0.8zM53.0 40.5h0.8v0.8h-0.8zM60.5 41.6h0.8v0.8h-0.8zM58.1 38.8h0.8v0.8h-0.8zM58.8 41.3h0.8v0.8h-0.8zM59.8 39.3h0.8v0.8h-0.8zM60.2 45.7h0.8v0.8h-0.8zM58.7 46.7h0.8v0.8h-0.8zM59.0 40.4h0.8v0.8h-0.8zM48.8 47.2h0.8v0.8h-0.8zM54.9 44.7h0.8v0.8h-0.8zM60.1 37.1h0.8v0.8h-0.8zM55.6 43.9h0.8v0.8h-0.8zM54.5 48.6h0.8v0.8h-0.8zM58.0 42.9h0.8v0.8h-0.8zM54.8 51.0h0.8v0.8h-0.8zM56.0 49.9h0.8v0.8h-0.8zM60.2 37.5h0.8v0.8h-0.8zM54.4 47.0h0.8v0.8h-0.8zM59.8 50.9h0.8v0.8h-0.8zM61.5 52.2h0.8v0.8h-0.8zM57.1 45.9h0.8v0.8h-0.8zM61.4 44.9h0.8v0.8h-0.8zM62.5 39.1h0.8v0.8h-0.8zM61.0 46.1h0.8v0.8h-0.8zM51.0 51.9h0.8v0.8h-0.8zM59.7 47.1h0.8v0.8h-0.8zM54.4 44.7h0.8v0.8h-0.8zM64.2 42.9h0.8v0.8h-0.8zM45.3 42.7h0.8v0.8h-0.8zM53.9 46.3h0.8v0.8h-0.8zM57.0 42.4h0.8v0.8h-0.8zM55.3 52.2h0.8v0.8h-0.8zM53.0 56.8h0.8v0.8h-0.8zM56.4 41.5h0.8v0.8h-0.8z" fill="#000" fill-opacity="0.2"/>
<path d="M43.9 36.8h0.8v0.8h-0.8zM34.8 39.0h0.8v0.8h-0.8zM30.8 18.9h0.8v0.8h-0.8zM45.6 26.9h0.8v0.8h-0.8zM33.5 36.2h0.8v0.8h-0.8zM44.6 29.7h0.8v0.8h-0.8zM31.0 25.8h0.8v0.8h-0.8zM42.1 39.2h0.8v0.8h-0.8zM49.3 27.0h0.8v0.8h-0.8zM37.6 29.5h0.8v0.8h-0.8zM46.0 18.7h0.8v0.8h-0.8zM44.0 21.9h0.8v0.8h-0.8zM42.3 38.3h0.8v0.8h-0.8zM34.1 29.0h0.8v0.8h-0.8zM41.2 37.0h0.8v0.8h-0.8zM35.3 18.1h0.8v0.8h-0.8zM39.0 27.3h0.8v0.8h-0.8zM32.5 41.2h0.8v0.8h-0.8zM37.3 47.2h0.8v0.8h-0.8zM44.3 30.3h0.8v0.8h-0.8zM43.6 16.7h0.8v0.8h-0.8zM38.4 23.1h0.8v0.8h-0.8zM33.7 30.2h0.8v0.8h-0.8z" fill="#000" fill-opacity="0.1"/>
<rect x="28.5" y="5" width="52.00" height="54.00" fill="none" stroke="#333" stroke-width="1"/>
<line x1="47.3" y1="5" x2="47.3" y2="59" stroke="#333" stroke-width="1" stroke-linecap="butt"/>
<line x1="28.5" y1="40.5" x2="80.5" y2="40.5" stroke="#333" stroke-width="1" stroke-linecap="butt"/>
<text x="79.7" y="14.10" font-size="8" text-anchor="end" fill="#222" stroke="#222" stroke-width="0.2" textLength="8" lengthAdjust="spacingAndGlyphs">80</text>
<text transform="translate(21.3,29.5) rotate(-90)" x="0" y="2.80" font-size="8" text-anchor="middle" fill="#222" stroke="#222" stroke-width="0.2" textLength="29.8" lengthAdjust="spacingAndGlyphs">CD41 PE</text>
<path d="M123.8 36.5h0.8v0.8h-0.8zM109.1 19.6h0.8v0.8h-0.8zM120.3 21.3h0.8v0.8h-0.8zM126.4 28.2h0.8v0.8h-0.8zM124.6 21.2h0.8v0.8h-0.8zM126.8 27.9h0.8v0.8h-0.8zM116.0 22.9h0.8v0.8h-0.8zM118.2 15.5h0.8v0.8h-0.8zM125.2 25.5h0.8v0.8h-0.8zM125.0 18.0h0.8v0.8h-0.8zM123.6 17.7h0.8v0.8h-0.8zM126.3 30.5h0.8v0.8h-0.8zM132.6 35.1h0.8v0.8h-0.8zM120.8 21.3h0.8v0.8h-0.8zM120.2 27.4h0.8v0.8h-0.8zM133.6 30.7h0.8v0.8h-0.8zM114.4 14.9h0.8v0.8h-0.8zM118.6 29.1h0.8v0.8h-0.8zM124.5 27.4h0.8v0.8h-0.8zM132.7 18.4h0.8v0.8h-0.8zM120.6 40.7h0.8v0.8h-0.8zM126.1 18.8h0.8v0.8h-0.8zM115.2 12.8h0.8v0.8h-0.8zM113.3 25.5h0.8v0.8h-0.8zM124.7 32.9h0.8v0.8h-0.8zM123.9 19.5h0.8v0.8h-0.8zM121.1 40.2h0.8v0.8h-0.8zM116.4 26.4h0.8v0.8h-0.8zM124.6 29.9h0.8v0.8h-0.8zM122.6 29.0h0.8v0.8h-0.8zM128.3 23.8h0.8v0.8h-0.8zM122.4 23.5h0.8v0.8h-0.8zM120.1 23.3h0.8v0.8h-0.8zM123.1 26.7h0.8v0.8h-0.8zM130.6 35.5h0.8v0.8h-0.8zM122.5 29.8h0.8v0.8h-0.8zM125.9 31.1h0.8v0.8h-0.8zM124.6 27.1h0.8v0.8h-0.8zM122.3 18.7h0.8v0.8h-0.8zM128.5 35.4h0.8v0.8h-0.8zM127.5 28.5h0.8v0.8h-0.8zM125.7 21.4h0.8v0.8h-0.8zM116.3 30.3h0.8v0.8h-0.8zM125.4 20.6h0.8v0.8h-0.8zM120.1 35.2h0.8v0.8h-0.8zM116.2 39.1h0.8v0.8h-0.8zM127.4 44.0h0.8v0.8h-0.8zM121.2 24.8h0.8v0.8h-0.8zM122.2 26.2h0.8v0.8h-0.8zM123.5 19.0h0.8v0.8h-0.8zM129.4 18.7h0.8v0.8h-0.8zM122.2 29.4h0.8v0.8h-0.8zM122.0 21.5h0.8v0.8h-0.8zM126.1 22.1h0.8v0.8h-0.8zM118.8 24.2h0.8v0.8h-0.8zM123.5 38.6h0.8v0.8h-0.8zM119.5 32.8h0.8v0.8h-0.8zM120.9 22.2h0.8v0.8h-0.8zM123.0 27.2h0.8v0.8h-0.8zM128.5 39.0h0.8v0.8h-0.8zM121.6 35.6h0.8v0.8h-0.8zM129.1 31.5h0.8v0.8h-0.8zM121.0 32.2h0.8v0.8h-0.8zM124.0 27.8h0.8v0.8h-0.8zM123.3 30.3h0.8v0.8h-0.8zM129.6 34.0h0.8v0.8h-0.8zM123.6 33.0h0.8v0.8h-0.8zM131.2 17.5h0.8v0.8h-0.8zM131.3 14.3h0.8v0.8h-0.8zM127.0 29.8h0.8v0.8h-0.8zM131.3 27.2h0.8v0.8h-0.8zM122.3 18.6h0.8v0.8h-0.8zM118.7 31.1h0.8v0.8h-0.8zM123.4 19.3h0.8v0.8h-0.8zM126.9 18.9h0.8v0.8h-0.8zM122.5 21.3h0.8v0.8h-0.8zM132.1 36.7h0.8v0.8h-0.8zM123.8 12.4h0.8v0.8h-0.8zM125.8 25.6h0.8v0.8h-0.8zM126.1 29.5h0.8v0.8h-0.8zM123.0 32.4h0.8v0.8h-0.8zM128.3 26.7h0.8v0.8h-0.8zM122.6 21.2h0.8v0.8h-0.8zM127.7 16.2h0.8v0.8h-0.8zM123.8 19.0h0.8v0.8h-0.8zM118.1 29.8h0.8v0.8h-0.8zM124.4 25.3h0.8v0.8h-0.8zM128.5 13.0h0.8v0.8h-0.8zM124.2 27.3h0.8v0.8h-0.8zM128.3 16.3h0.8v0.8h-0.8zM127.8 26.8h0.8v0.8h-0.8zM130.7 34.1h0.8v0.8h-0.8zM127.0 42.2h0.8v0.8h-0.8zM124.5 21.6h0.8v0.8h-0.8zM122.9 17.5h0.8v0.8h-0.8zM124.4 10.0h0.8v0.8h-0.8zM124.1 28.4h0.8v0.8h-0.8zM129.1 22.2h0.8v0.8h-0.8zM130.9 19.8h0.8v0.8h-0.8zM123.9 10.0h0.8v0.8h-0.8zM121.0 18.7h0.8v0.8h-0.8zM131.2 29.1h0.8v0.8h-0.8zM119.5 29.2h0.8v0.8h-0.8zM126.7 23.2h0.8v0.8h-0.8zM124.6 22.6h0.8v0.8h-0.8zM122.1 11.2h0.8v0.8h-0.8zM124.1 35.0h0.8v0.8h-0.8zM130.9 22.8h0.8v0.8h-0.8zM121.1 23.3h0.8v0.8h-0.8zM128.5 27.7h0.8v0.8h-0.8zM121.9 27.8h0.8v0.8h-0.8zM123.6 29.0h0.8v0.8h-0.8zM122.7 13.5h0.8v0.8h-0.8zM124.8 30.9h0.8v0.8h-0.8zM119.5 24.2h0.8v0.8h-0.8zM128.4 22.1h0.8v0.8h-0.8zM121.6 40.8h0.8v0.8h-0.8zM128.2 33.0h0.8v0.8h-0.8zM120.3 37.7h0.8v0.8h-0.8zM117.1 21.0h0.8v0.8h-0.8zM127.8 35.4h0.8v0.8h-0.8zM120.3 19.8h0.8v0.8h-0.8zM125.4 10.0h0.8v0.8h-0.8zM127.4 29.4h0.8v0.8h-0.8zM122.5 29.2h0.8v0.8h-0.8zM128.0 27.4h0.8v0.8h-0.8zM126.8 36.8h0.8v0.8h-0.8zM122.4 26.3h0.8v0.8h-0.8zM122.2 33.0h0.8v0.8h-0.8zM122.7 28.7h0.8v0.8h-0.8zM125.1 25.5h0.8v0.8h-0.8zM132.2 24.3h0.8v0.8h-0.8zM130.8 31.4h0.8v0.8h-0.8zM130.4 23.7h0.8v0.8h-0.8zM128.6 30.9h0.8v0.8h-0.8zM121.8 27.1h0.8v0.8h-0.8zM123.9 24.7h0.8v0.8h-0.8zM130.3 19.4h0.8v0.8h-0.8zM117.0 11.5h0.8v0.8h-0.8zM122.5 20.0h0.8v0.8h-0.8zM124.6 29.4h0.8v0.8h-0.8zM132.3 27.4h0.8v0.8h-0.8zM126.6 19.3h0.8v0.8h-0.8zM127.1 35.5h0.8v0.8h-0.8zM130.5 9.9h0.8v0.8h-0.8zM128.5 37.2h0.8v0.8h-0.8zM128.2 13.5h0.8v0.8h-0.8zM123.1 29.5h0.8v0.8h-0.8zM126.3 18.7h0.8v0.8h-0.8zM120.6 32.4h0.8v0.8h-0.8zM118.6 36.1h0.8v0.8h-0.8zM124.6 27.3h0.8v0.8h-0.8zM118.6 20.4h0.8v0.8h-0.8zM127.6 13.7h0.8v0.8h-0.8zM133.7 14.2h0.8v0.8h-0.8zM119.1 25.3h0.8v0.8h-0.8zM126.6 30.6h0.8v0.8h-0.8zM122.9 23.4h0.8v0.8h-0.8zM123.5 20.6h0.8v0.8h-0.8zM113.1 32.4h0.8v0.8h-0.8zM125.6 26.2h0.8v0.8h-0.8zM121.7 26.9h0.8v0.8h-0.8zM124.4 24.4h0.8v0.8h-0.8zM129.4 11.8h0.8v0.8h-0.8zM125.6 16.8h0.8v0.8h-0.8zM123.1 36.5h0.8v0.8h-0.8zM119.7 24.2h0.8v0.8h-0.8zM121.9 32.3h0.8v0.8h-0.8zM120.2 12.1h0.8v0.8h-0.8zM126.8 22.3h0.8v0.8h-0.8zM123.1 33.3h0.8v0.8h-0.8zM120.6 22.1h0.8v0.8h-0.8zM125.2 28.2h0.8v0.8h-0.8zM122.2 33.0h0.8v0.8h-0.8zM134.4 21.9h0.8v0.8h-0.8zM132.8 8.8h0.8v0.8h-0.8zM130.7 22.4h0.8v0.8h-0.8zM125.1 22.4h0.8v0.8h-0.8zM121.7 15.2h0.8v0.8h-0.8zM122.8 35.0h0.8v0.8h-0.8zM129.5 22.3h0.8v0.8h-0.8zM122.2 19.6h0.8v0.8h-0.8zM119.2 38.9h0.8v0.8h-0.8zM127.4 25.9h0.8v0.8h-0.8zM122.3 17.1h0.8v0.8h-0.8zM130.3 31.0h0.8v0.8h-0.8zM120.3 32.6h0.8v0.8h-0.8zM119.6 29.9h0.8v0.8h-0.8zM120.3 21.8h0.8v0.8h-0.8zM126.7 28.3h0.8v0.8h-0.8zM129.0 18.6h0.8v0.8h-0.8zM131.5 35.3h0.8v0.8h-0.8zM124.5 28.6h0.8v0.8h-0.8zM121.1 23.8h0.8v0.8h-0.8zM118.7 25.7h0.8v0.8h-0.8zM125.4 35.3h0.8v0.8h-0.8zM128.7 31.3h0.8v0.8h-0.8zM122.9 23.3h0.8v0.8h-0.8zM123.0 26.7h0.8v0.8h-0.8zM116.0 30.9h0.8v0.8h-0.8zM117.6 21.0h0.8v0.8h-0.8zM124.6 21.1h0.8v0.8h-0.8zM131.8 24.2h0.8v0.8h-0.8zM131.4 34.0h0.8v0.8h-0.8zM122.3 28.1h0.8v0.8h-0.8zM130.2 22.4h0.8v0.8h-0.8zM124.9 20.7h0.8v0.8h-0.8zM124.8 22.3h0.8v0.8h-0.8zM124.9 32.7h0.8v0.8h-0.8zM130.7 26.0h0.8v0.8h-0.8zM125.4 31.6h0.8v0.8h-0.8zM123.2 16.9h0.8v0.8h-0.8zM129.4 17.8h0.8v0.8h-0.8zM128.6 17.6h0.8v0.8h-0.8zM132.6 17.0h0.8v0.8h-0.8zM128.2 36.5h0.8v0.8h-0.8zM120.3 36.4h0.8v0.8h-0.8zM120.9 11.5h0.8v0.8h-0.8zM127.7 30.4h0.8v0.8h-0.8zM123.6 5.6h0.8v0.8h-0.8zM124.3 22.7h0.8v0.8h-0.8zM122.8 22.8h0.8v0.8h-0.8zM116.6 20.6h0.8v0.8h-0.8zM132.4 36.9h0.8v0.8h-0.8zM122.9 19.5h0.8v0.8h-0.8zM126.3 33.2h0.8v0.8h-0.8zM127.7 16.0h0.8v0.8h-0.8zM125.2 26.1h0.8v0.8h-0.8zM130.9 34.2h0.8v0.8h-0.8zM126.8 34.3h0.8v0.8h-0.8zM122.8 36.8h0.8v0.8h-0.8zM122.6 28.0h0.8v0.8h-0.8zM128.6 18.0h0.8v0.8h-0.8zM121.4 11.5h0.8v0.8h-0.8zM125.2 24.6h0.8v0.8h-0.8zM123.1 28.8h0.8v0.8h-0.8zM115.2 24.8h0.8v0.8h-0.8zM124.9 23.0h0.8v0.8h-0.8zM128.0 38.5h0.8v0.8h-0.8zM122.5 17.8h0.8v0.8h-0.8zM121.8 25.7h0.8v0.8h-0.8zM127.1 18.4h0.8v0.8h-0.8zM128.9 17.1h0.8v0.8h-0.8zM128.2 28.3h0.8v0.8h-0.8zM126.5 41.6h0.8v0.8h-0.8zM123.3 23.7h0.8v0.8h-0.8zM126.6 31.6h0.8v0.8h-0.8zM118.6 27.1h0.8v0.8h-0.8zM121.2 29.8h0.8v0.8h-0.8zM130.5 25.4h0.8v0.8h-0.8zM124.0 26.4h0.8v0.8h-0.8zM111.5 30.9h0.8v0.8h-0.8zM127.0 26.3h0.8v0.8h-0.8zM122.8 19.4h0.8v0.8h-0.8zM123.7 34.3h0.8v0.8h-0.8zM124.0 35.3h0.8v0.8h-0.8zM113.1 21.5h0.8v0.8h-0.8zM125.7 24.9h0.8v0.8h-0.8zM117.2 19.9h0.8v0.8h-0.8zM130.0 15.1h0.8v0.8h-0.8zM120.1 16.6h0.8v0.8h-0.8zM122.1 29.9h0.8v0.8h-0.8zM127.1 9.4h0.8v0.8h-0.8zM130.9 20.5h0.8v0.8h-0.8zM121.9 37.8h0.8v0.8h-0.8zM124.1 15.5h0.8v0.8h-0.8zM121.7 19.4h0.8v0.8h-0.8zM120.0 22.4h0.8v0.8h-0.8zM128.4 27.7h0.8v0.8h-0.8zM118.4 46.4h0.8v0.8h-0.8zM120.1 25.9h0.8v0.8h-0.8zM124.6 30.8h0.8v0.8h-0.8zM123.0 28.5h0.8v0.8h-0.8zM133.8 25.7h0.8v0.8h-0.8zM119.7 27.5h0.8v0.8h-0.8zM121.0 22.2h0.8v0.8h-0.8zM125.3 27.6h0.8v0.8h-0.8zM123.2 31.5h0.8v0.8h-0.8zM123.6 15.0h0.8v0.8h-0.8zM128.4 22.2h0.8v0.8h-0.8zM129.9 20.0h0.8v0.8h-0.8zM127.0 27.4h0.8v0.8h-0.8zM112.6 13.5h0.8v0.8h-0.8zM119.6 35.8h0.8v0.8h-0.8zM116.2 32.0h0.8v0.8h-0.8zM129.3 28.8h0.8v0.8h-0.8zM127.5 21.2h0.8v0.8h-0.8zM124.5 26.7h0.8v0.8h-0.8zM126.4 30.4h0.8v0.8h-0.8zM123.6 19.6h0.8v0.8h-0.8zM122.0 28.2h0.8v0.8h-0.8zM117.2 15.4h0.8v0.8h-0.8zM122.7 20.8h0.8v0.8h-0.8zM123.0 23.1h0.8v0.8h-0.8zM127.9 9.8h0.8v0.8h-0.8zM123.1 28.6h0.8v0.8h-0.8zM126.7 34.2h0.8v0.8h-0.8zM129.2 16.9h0.8v0.8h-0.8zM127.3 22.4h0.8v0.8h-0.8zM121.0 36.8h0.8v0.8h-0.8zM121.7 18.4h0.8v0.8h-0.8zM122.7 18.4h0.8v0.8h-0.8zM129.0 27.9h0.8v0.8h-0.8zM130.7 28.2h0.8v0.8h-0.8zM121.8 33.1h0.8v0.8h-0.8zM121.6 21.4h0.8v0.8h-0.8zM123.8 25.3h0.8v0.8h-0.8zM129.8 20.3h0.8v0.8h-0.8zM126.1 24.8h0.8v0.8h-0.8zM118.9 16.6h0.8v0.8h-0.8zM123.5 28.1h0.8v0.8h-0.8zM125.9 28.7h0.8v0.8h-0.8zM124.7 21.5h0.8v0.8h-0.8zM126.4 17.3h0.8v0.8h-0.8zM118.5 22.4h0.8v0.8h-0.8zM118.2 21.0h0.8v0.8h-0.8zM121.2 20.7h0.8v0.8h-0.8zM124.3 18.8h0.8v0.8h-0.8zM122.6 11.8h0.8v0.8h-0.8zM125.1 18.2h0.8v0.8h-0.8zM120.9 26.9h0.8v0.8h-0.8zM113.7 22.2h0.8v0.8h-0.8zM124.9 25.8h0.8v0.8h-0.8zM117.9 26.8h0.8v0.8h-0.8zM125.2 17.5h0.8v0.8h-0.8zM127.8 24.6h0.8v0.8h-0.8zM124.6 21.5h0.8v0.8h-0.8zM126.9 25.8h0.8v0.8h-0.8zM129.5 28.5h0.8v0.8h-0.8zM121.8 23.3h0.8v0.8h-0.8zM128.6 22.2h0.8v0.8h-0.8zM126.2 29.0h0.8v0.8h-0.8zM123.7 7.0h0.8v0.8h-0.8zM125.1 26.7h0.8v0.8h-0.8zM125.1 19.1h0.8v0.8h-0.8zM129.9 24.0h0.8v0.8h-0.8zM121.7 19.5h0.8v0.8h-0.8zM126.1 16.6h0.8v0.8h-0.8zM120.0 40.5h0.8v0.8h-0.8zM130.3 33.2h0.8v0.8h-0.8zM130.6 29.6h0.8v0.8h-0.8zM117.0 34.2h0.8v0.8h-0.8zM130.0 28.8h0.8v0.8h-0.8zM115.8 34.6h0.8v0.8h-0.8zM130.6 21.2h0.8v0.8h-0.8zM125.1 31.0h0.8v0.8h-0.8zM124.1 33.5h0.8v0.8h-0.8zM124.9 30.4h0.8v0.8h-0.8zM124.9 13.5h0.8v0.8h-0.8zM120.1 49.5h0.8v0.8h-0.8zM125.7 35.2h0.8v0.8h-0.8zM129.6 38.3h0.8v0.8h-0.8zM127.0 20.4h0.8v0.8h-0.8zM124.6 10.1h0.8v0.8h-0.8zM123.7 32.0h0.8v0.8h-0.8zM114.9 26.5h0.8v0.8h-0.8zM128.2 35.3h0.8v0.8h-0.8zM120.4 19.9h0.8v0.8h-0.8zM116.1 17.1h0.8v0.8h-0.8zM126.9 41.1h0.8v0.8h-0.8zM119.4 35.7h0.8v0.8h-0.8zM126.4 21.2h0.8v0.8h-0.8zM134.3 5.4h0.8v0.8h-0.8zM124.2 26.7h0.8v0.8h-0.8zM134.0 39.0h0.8v0.8h-0.8zM134.6 26.0h0.8v0.8h-0.8zM128.9 35.6h0.8v0.8h-0.8zM126.8 27.8h0.8v0.8h-0.8zM123.7 21.8h0.8v0.8h-0.8zM119.0 40.2h0.8v0.8h-0.8zM122.5 8.8h0.8v0.8h-0.8zM125.7 24.7h0.8v0.8h-0.8zM125.3 39.1h0.8v0.8h-0.8zM124.0 22.9h0.8v0.8h-0.8zM121.2 24.8h0.8v0.8h-0.8zM122.5 26.6h0.8v0.8h-0.8zM138.5 28.1h0.8v0.8h-0.8zM120.7 40.0h0.8v0.8h-0.8zM128.4 31.4h0.8v0.8h-0.8zM127.7 31.4h0.8v0.8h-0.8zM127.5 36.0h0.8v0.8h-0.8zM129.0 35.5h0.8v0.8h-0.8zM122.3 25.0h0.8v0.8h-0.8zM121.2 32.5h0.8v0.8h-0.8zM128.2 21.4h0.8v0.8h-0.8zM127.1 45.4h0.8v0.8h-0.8zM130.0 16.3h0.8v0.8h-0.8zM124.1 29.9h0.8v0.8h-0.8zM124.3 28.0h0.8v0.8h-0.8zM129.8 27.6h0.8v0.8h-0.8zM119.6 30.6h0.8v0.8h-0.8zM124.1 25.9h0.8v0.8h-0.8zM122.0 14.2h0.8v0.8h-0.8zM118.9 22.2h0.8v0.8h-0.8zM129.6 16.0h0.8v0.8h-0.8zM121.3 29.1h0.8v0.8h-0.8zM113.7 35.5h0.8v0.8h-0.8zM121.1 30.1h0.8v0.8h-0.8zM122.3 27.4h0.8v0.8h-0.8zM125.0 25.0h0.8v0.8h-0.8zM116.3 13.5h0.8v0.8h-0.8zM124.3 36.0h0.8v0.8h-0.8zM122.1 29.1h0.8v0.8h-0.8zM125.2 28.8h0.8v0.8h-0.8zM128.9 13.3h0.8v0.8h-0.8zM125.7 23.6h0.8v0.8h-0.8zM123.1 18.3h0.8v0.8h-0.8zM121.0 17.0h0.8v0.8h-0.8zM119.6 44.6h0.8v0.8h-0.8zM132.1 25.1h0.8v0.8h-0.8zM127.8 17.4h0.8v0.8h-0.8zM112.0 10.8h0.8v0.8h-0.8zM125.1 36.2h0.8v0.8h-0.8zM124.3 17.2h0.8v0.8h-0.8zM123.4 17.2h0.8v0.8h-0.8zM118.2 23.2h0.8v0.8h-0.8zM122.7 18.7h0.8v0.8h-0.8zM120.5 17.7h0.8v0.8h-0.8zM125.6 35.9h0.8v0.8h-0.8zM123.6 42.4h0.8v0.8h-0.8zM117.2 27.1h0.8v0.8h-0.8zM119.3 23.7h0.8v0.8h-0.8zM125.0 29.4h0.8v0.8h-0.8zM129.6 20.7h0.8v0.8h-0.8zM118.9 23.5h0.8v0.8h-0.8zM125.8 19.6h0.8v0.8h-0.8zM128.5 38.1h0.8v0.8h-0.8zM118.1 27.8h0.8v0.8h-0.8zM129.1 10.0h0.8v0.8h-0.8zM125.4 23.2h0.8v0.8h-0.8zM118.1 35.3h0.8v0.8h-0.8zM125.5 21.3h0.8v0.8h-0.8zM126.5 30.0h0.8v0.8h-0.8zM127.9 29.5h0.8v0.8h-0.8zM126.3 15.8h0.8v0.8h-0.8zM122.6 26.0h0.8v0.8h-0.8zM112.1 41.6h0.8v0.8h-0.8zM122.8 16.8h0.8v0.8h-0.8zM116.3 26.9h0.8v0.8h-0.8zM124.6 20.4h0.8v0.8h-0.8zM122.6 18.1h0.8v0.8h-0.8zM121.1 24.2h0.8v0.8h-0.8zM121.6 30.3h0.8v0.8h-0.8zM123.9 26.0h0.8v0.8h-0.8zM126.3 34.9h0.8v0.8h-0.8zM127.2 26.8h0.8v0.8h-0.8zM123.8 18.7h0.8v0.8h-0.8z" fill="#000" fill-opacity="0.2"/>
<ellipse cx="124.6" cy="47.5" rx="5" ry="4.5" fill="#000" fill-opacity="0.18" filter="url(#bl20)" transform="rotate(-30,124.6,47.5)"/>
<path d="M123.2 50.2h0.8v0.8h-0.8zM125.5 45.6h0.8v0.8h-0.8zM119.0 43.2h0.8v0.8h-0.8zM125.9 50.7h0.8v0.8h-0.8zM126.2 41.8h0.8v0.8h-0.8zM123.7 48.4h0.8v0.8h-0.8zM120.8 49.7h0.8v0.8h-0.8zM123.8 44.4h0.8v0.8h-0.8zM119.4 51.8h0.8v0.8h-0.8zM126.1 43.6h0.8v0.8h-0.8zM120.4 51.8h0.8v0.8h-0.8zM127.1 45.5h0.8v0.8h-0.8zM131.3 44.4h0.8v0.8h-0.8zM120.2 52.6h0.8v0.8h-0.8zM123.8 48.8h0.8v0.8h-0.8zM124.8 43.5h0.8v0.8h-0.8zM119.6 48.0h0.8v0.8h-0.8zM130.5 41.9h0.8v0.8h-0.8zM130.3 46.5h0.8v0.8h-0.8zM119.9 49.6h0.8v0.8h-0.8zM127.0 43.3h0.8v0.8h-0.8zM115.7 51.1h0.8v0.8h-0.8zM120.0 50.2h0.8v0.8h-0.8zM116.6 49.0h0.8v0.8h-0.8zM121.2 42.7h0.8v0.8h-0.8zM123.6 48.2h0.8v0.8h-0.8zM122.3 43.6h0.8v0.8h-0.8zM125.5 40.6h0.8v0.8h-0.8zM126.8 48.5h0.8v0.8h-0.8zM131.6 48.6h0.8v0.8h-0.8zM126.1 47.9h0.8v0.8h-0.8zM124.7 42.3h0.8v0.8h-0.8zM130.7 47.5h0.8v0.8h-0.8zM123.4 43.4h0.8v0.8h-0.8zM130.8 47.5h0.8v0.8h-0.8zM119.6 51.2h0.8v0.8h-0.8zM132.5 45.0h0.8v0.8h-0.8zM126.3 45.3h0.8v0.8h-0.8zM122.0 52.0h0.8v0.8h-0.8zM137.5 44.1h0.8v0.8h-0.8zM124.1 50.4h0.8v0.8h-0.8zM123.3 50.4h0.8v0.8h-0.8zM128.1 42.6h0.8v0.8h-0.8zM120.1 48.3h0.8v0.8h-0.8zM128.1 47.4h0.8v0.8h-0.8zM129.8 40.8h0.8v0.8h-0.8zM126.7 44.4h0.8v0.8h-0.8zM125.0 48.4h0.8v0.8h-0.8zM120.6 47.6h0.8v0.8h-0.8zM119.7 49.6h0.8v0.8h-0.8zM121.1 46.5h0.8v0.8h-0.8zM125.5 44.6h0.8v0.8h-0.8zM129.4 43.6h0.8v0.8h-0.8zM128.1 47.4h0.8v0.8h-0.8zM120.3 47.7h0.8v0.8h-0.8zM121.1 46.9h0.8v0.8h-0.8zM123.5 54.3h0.8v0.8h-0.8zM122.9 53.6h0.8v0.8h-0.8zM126.5 41.9h0.8v0.8h-0.8zM115.0 52.5h0.8v0.8h-0.8zM116.3 52.3h0.8v0.8h-0.8zM128.9 47.5h0.8v0.8h-0.8zM123.7 46.6h0.8v0.8h-0.8zM125.7 45.9h0.8v0.8h-0.8zM122.4 46.6h0.8v0.8h-0.8zM129.5 43.6h0.8v0.8h-0.8zM126.2 42.6h0.8v0.8h-0.8zM121.6 43.1h0.8v0.8h-0.8zM123.8 50.1h0.8v0.8h-0.8zM125.9 45.1h0.8v0.8h-0.8zM127.1 45.3h0.8v0.8h-0.8zM126.2 47.9h0.8v0.8h-0.8zM126.9 37.5h0.8v0.8h-0.8zM119.2 51.7h0.8v0.8h-0.8zM124.2 55.7h0.8v0.8h-0.8zM123.6 45.5h0.8v0.8h-0.8zM130.8 47.6h0.8v0.8h-0.8zM132.5 47.0h0.8v0.8h-0.8zM123.8 50.2h0.8v0.8h-0.8zM121.3 46.6h0.8v0.8h-0.8zM122.3 47.1h0.8v0.8h-0.8zM127.8 44.6h0.8v0.8h-0.8zM125.9 45.1h0.8v0.8h-0.8zM128.3 36.1h0.8v0.8h-0.8zM123.7 48.2h0.8v0.8h-0.8zM120.1 52.3h0.8v0.8h-0.8zM125.5 51.8h0.8v0.8h-0.8zM128.6 48.5h0.8v0.8h-0.8zM124.0 43.5h0.8v0.8h-0.8zM123.7 45.9h0.8v0.8h-0.8zM125.6 45.3h0.8v0.8h-0.8zM137.3 37.9h0.8v0.8h-0.8zM129.5 44.2h0.8v0.8h-0.8zM123.6 51.0h0.8v0.8h-0.8zM124.6 42.8h0.8v0.8h-0.8zM126.3 46.1h0.8v0.8h-0.8zM116.1 50.4h0.8v0.8h-0.8zM120.2 45.8h0.8v0.8h-0.8zM126.6 47.8h0.8v0.8h-0.8zM123.4 55.6h0.8v0.8h-0.8zM126.3 44.6h0.8v0.8h-0.8zM125.6 46.6h0.8v0.8h-0.8zM115.4 44.0h0.8v0.8h-0.8zM118.8 56.5h0.8v0.8h-0.8zM123.8 46.5h0.8v0.8h-0.8zM122.3 51.6h0.8v0.8h-0.8zM124.7 53.6h0.8v0.8h-0.8zM127.9 52.4h0.8v0.8h-0.8zM124.1 48.8h0.8v0.8h-0.8zM122.8 47.2h0.8v0.8h-0.8zM117.4 47.2h0.8v0.8h-0.8zM120.7 46.0h0.8v0.8h-0.8zM129.6 46.9h0.8v0.8h-0.8zM129.7 49.0h0.8v0.8h-0.8zM128.4 49.9h0.8v0.8h-0.8zM122.1 51.0h0.8v0.8h-0.8zM123.3 45.7h0.8v0.8h-0.8zM129.6 53.9h0.8v0.8h-0.8zM120.5 54.8h0.8v0.8h-0.8zM128.0 43.2h0.8v0.8h-0.8zM125.7 48.3h0.8v0.8h-0.8zM126.2 45.6h0.8v0.8h-0.8zM119.3 48.9h0.8v0.8h-0.8zM128.2 49.2h0.8v0.8h-0.8zM127.3 50.6h0.8v0.8h-0.8zM120.5 48.3h0.8v0.8h-0.8zM126.0 50.6h0.8v0.8h-0.8zM125.2 49.0h0.8v0.8h-0.8zM125.2 54.9h0.8v0.8h-0.8zM115.6 49.7h0.8v0.8h-0.8zM134.9 45.3h0.8v0.8h-0.8zM117.0 49.9h0.8v0.8h-0.8zM118.7 46.5h0.8v0.8h-0.8zM125.5 53.3h0.8v0.8h-0.8zM126.5 49.2h0.8v0.8h-0.8zM128.8 46.9h0.8v0.8h-0.8zM121.0 47.9h0.8v0.8h-0.8zM126.0 45.9h0.8v0.8h-0.8zM121.8 46.8h0.8v0.8h-0.8zM118.4 45.3h0.8v0.8h-0.8zM124.2 46.1h0.8v0.8h-0.8zM124.8 52.4h0.8v0.8h-0.8zM125.8 46.8h0.8v0.8h-0.8zM119.7 44.7h0.8v0.8h-0.8zM126.2 43.7h0.8v0.8h-0.8zM126.4 42.9h0.8v0.8h-0.8zM125.2 46.9h0.8v0.8h-0.8zM128.7 44.7h0.8v0.8h-0.8zM123.1 48.6h0.8v0.8h-0.8zM124.8 53.4h0.8v0.8h-0.8zM123.5 45.6h0.8v0.8h-0.8zM123.3 49.4h0.8v0.8h-0.8zM125.6 49.6h0.8v0.8h-0.8zM118.9 58.0h0.8v0.8h-0.8zM132.2 45.1h0.8v0.8h-0.8zM119.6 49.3h0.8v0.8h-0.8zM126.3 38.6h0.8v0.8h-0.8zM124.7 41.9h0.8v0.8h-0.8zM126.5 51.8h0.8v0.8h-0.8zM128.9 40.6h0.8v0.8h-0.8zM130.3 49.0h0.8v0.8h-0.8zM123.1 49.6h0.8v0.8h-0.8zM130.9 44.3h0.8v0.8h-0.8zM124.5 45.3h0.8v0.8h-0.8zM129.4 38.1h0.8v0.8h-0.8zM130.5 42.1h0.8v0.8h-0.8zM128.4 40.3h0.8v0.8h-0.8zM120.7 46.2h0.8v0.8h-0.8zM128.0 40.4h0.8v0.8h-0.8zM127.1 44.3h0.8v0.8h-0.8zM129.7 44.7h0.8v0.8h-0.8zM126.6 46.1h0.8v0.8h-0.8zM132.0 43.9h0.8v0.8h-0.8zM124.5 54.6h0.8v0.8h-0.8zM124.9 49.7h0.8v0.8h-0.8zM121.5 48.9h0.8v0.8h-0.8zM115.2 50.3h0.8v0.8h-0.8zM121.9 42.5h0.8v0.8h-0.8zM118.7 53.1h0.8v0.8h-0.8zM126.4 41.2h0.8v0.8h-0.8zM132.1 42.7h0.8v0.8h-0.8zM123.1 48.6h0.8v0.8h-0.8zM119.9 42.7h0.8v0.8h-0.8zM121.5 52.5h0.8v0.8h-0.8zM128.5 40.4h0.8v0.8h-0.8zM129.6 46.0h0.8v0.8h-0.8zM126.7 46.9h0.8v0.8h-0.8zM126.3 43.1h0.8v0.8h-0.8zM120.8 45.8h0.8v0.8h-0.8zM123.1 50.0h0.8v0.8h-0.8zM119.6 54.6h0.8v0.8h-0.8zM122.0 45.9h0.8v0.8h-0.8zM127.5 48.1h0.8v0.8h-0.8zM123.2 43.8h0.8v0.8h-0.8zM120.5 42.6h0.8v0.8h-0.8zM129.3 50.0h0.8v0.8h-0.8zM132.3 47.0h0.8v0.8h-0.8zM126.0 49.7h0.8v0.8h-0.8zM128.5 45.3h0.8v0.8h-0.8zM126.1 54.8h0.8v0.8h-0.8zM117.6 44.1h0.8v0.8h-0.8zM120.6 51.2h0.8v0.8h-0.8zM129.5 44.7h0.8v0.8h-0.8zM127.4 46.3h0.8v0.8h-0.8zM125.8 45.0h0.8v0.8h-0.8zM124.5 47.3h0.8v0.8h-0.8zM129.3 54.2h0.8v0.8h-0.8zM117.1 51.4h0.8v0.8h-0.8zM124.6 50.9h0.8v0.8h-0.8zM129.0 48.9h0.8v0.8h-0.8zM127.9 42.9h0.8v0.8h-0.8zM117.5 55.4h0.8v0.8h-0.8zM129.6 42.4h0.8v0.8h-0.8zM129.9 48.3h0.8v0.8h-0.8zM114.4 53.4h0.8v0.8h-0.8zM120.5 52.7h0.8v0.8h-0.8zM121.8 45.4h0.8v0.8h-0.8zM118.2 48.3h0.8v0.8h-0.8zM128.8 43.7h0.8v0.8h-0.8zM116.9 57.3h0.8v0.8h-0.8zM132.2 47.7h0.8v0.8h-0.8zM122.4 43.5h0.8v0.8h-0.8zM117.8 51.2h0.8v0.8h-0.8zM130.0 41.9h0.8v0.8h-0.8zM124.6 46.3h0.8v0.8h-0.8zM123.5 49.4h0.8v0.8h-0.8zM133.3 42.5h0.8v0.8h-0.8zM128.1 50.3h0.8v0.8h-0.8zM123.4 47.1h0.8v0.8h-0.8zM119.0 52.8h0.8v0.8h-0.8zM122.4 45.5h0.8v0.8h-0.8zM124.9 44.1h0.8v0.8h-0.8zM120.3 47.4h0.8v0.8h-0.8zM130.8 44.8h0.8v0.8h-0.8zM126.8 41.3h0.8v0.8h-0.8zM116.5 56.2h0.8v0.8h-0.8zM122.9 42.1h0.8v0.8h-0.8zM124.2 49.7h0.8v0.8h-0.8zM117.4 46.1h0.8v0.8h-0.8zM125.7 43.6h0.8v0.8h-0.8zM127.9 49.9h0.8v0.8h-0.8zM126.4 45.2h0.8v0.8h-0.8zM124.4 45.0h0.8v0.8h-0.8zM124.1 48.6h0.8v0.8h-0.8zM123.4 51.2h0.8v0.8h-0.8zM135.4 42.3h0.8v0.8h-0.8zM126.0 49.9h0.8v0.8h-0.8zM127.3 45.7h0.8v0.8h-0.8zM122.6 51.6h0.8v0.8h-0.8zM127.2 48.4h0.8v0.8h-0.8zM121.3 50.6h0.8v0.8h-0.8zM127.9 45.7h0.8v0.8h-0.8zM127.3 54.6h0.8v0.8h-0.8zM116.8 51.7h0.8v0.8h-0.8zM119.7 43.6h0.8v0.8h-0.8zM123.6 49.6h0.8v0.8h-0.8zM124.8 42.9h0.8v0.8h-0.8zM118.6 46.9h0.8v0.8h-0.8zM124.7 44.2h0.8v0.8h-0.8zM118.4 55.5h0.8v0.8h-0.8zM121.1 47.7h0.8v0.8h-0.8zM122.3 45.8h0.8v0.8h-0.8zM124.8 46.2h0.8v0.8h-0.8zM127.2 42.2h0.8v0.8h-0.8zM118.4 56.2h0.8v0.8h-0.8zM124.3 50.2h0.8v0.8h-0.8zM129.5 48.0h0.8v0.8h-0.8zM124.8 41.5h0.8v0.8h-0.8zM117.9 52.8h0.8v0.8h-0.8zM127.4 48.6h0.8v0.8h-0.8zM117.7 41.4h0.8v0.8h-0.8zM120.2 44.2h0.8v0.8h-0.8zM125.3 43.3h0.8v0.8h-0.8zM131.2 43.2h0.8v0.8h-0.8zM122.3 51.1h0.8v0.8h-0.8zM126.0 43.6h0.8v0.8h-0.8zM128.0 53.5h0.8v0.8h-0.8zM119.5 47.8h0.8v0.8h-0.8zM120.1 41.4h0.8v0.8h-0.8zM127.2 49.2h0.8v0.8h-0.8zM128.7 47.8h0.8v0.8h-0.8zM116.2 49.5h0.8v0.8h-0.8zM121.8 43.7h0.8v0.8h-0.8zM120.0 51.4h0.8v0.8h-0.8zM123.4 54.9h0.8v0.8h-0.8zM126.6 39.7h0.8v0.8h-0.8zM128.3 50.9h0.8v0.8h-0.8zM124.7 42.8h0.8v0.8h-0.8zM132.0 40.4h0.8v0.8h-0.8zM124.2 40.3h0.8v0.8h-0.8zM119.4 42.5h0.8v0.8h-0.8zM129.2 50.4h0.8v0.8h-0.8zM122.9 42.7h0.8v0.8h-0.8zM124.3 48.8h0.8v0.8h-0.8zM118.2 44.8h0.8v0.8h-0.8zM124.2 50.0h0.8v0.8h-0.8zM124.9 48.9h0.8v0.8h-0.8zM119.4 39.5h0.8v0.8h-0.8zM125.9 43.5h0.8v0.8h-0.8zM124.1 46.0h0.8v0.8h-0.8zM126.6 43.9h0.8v0.8h-0.8zM130.7 45.7h0.8v0.8h-0.8zM126.8 49.0h0.8v0.8h-0.8zM129.0 47.6h0.8v0.8h-0.8zM117.3 47.0h0.8v0.8h-0.8zM132.4 46.9h0.8v0.8h-0.8zM127.0 48.4h0.8v0.8h-0.8zM121.9 45.5h0.8v0.8h-0.8zM121.9 52.4h0.8v0.8h-0.8zM126.1 53.5h0.8v0.8h-0.8zM126.7 53.8h0.8v0.8h-0.8zM126.5 42.3h0.8v0.8h-0.8zM131.9 46.5h0.8v0.8h-0.8zM129.6 46.7h0.8v0.8h-0.8zM123.2 48.3h0.8v0.8h-0.8zM119.9 44.2h0.8v0.8h-0.8zM120.9 46.4h0.8v0.8h-0.8zM118.9 48.5h0.8v0.8h-0.8zM125.9 54.5h0.8v0.8h-0.8zM132.4 44.9h0.8v0.8h-0.8zM128.3 45.4h0.8v0.8h-0.8zM126.2 46.7h0.8v0.8h-0.8zM122.3 48.2h0.8v0.8h-0.8zM118.4 50.7h0.8v0.8h-0.8zM123.4 43.6h0.8v0.8h-0.8zM123.1 49.8h0.8v0.8h-0.8zM121.7 49.9h0.8v0.8h-0.8zM127.0 52.5h0.8v0.8h-0.8zM120.0 48.2h0.8v0.8h-0.8zM126.8 52.3h0.8v0.8h-0.8zM125.7 49.8h0.8v0.8h-0.8zM118.4 46.8h0.8v0.8h-0.8zM131.6 44.3h0.8v0.8h-0.8zM133.8 42.0h0.8v0.8h-0.8zM123.4 41.6h0.8v0.8h-0.8zM127.3 47.5h0.8v0.8h-0.8zM133.2 45.5h0.8v0.8h-0.8zM123.5 42.3h0.8v0.8h-0.8zM124.3 51.0h0.8v0.8h-0.8zM127.7 51.0h0.8v0.8h-0.8zM128.3 46.1h0.8v0.8h-0.8zM127.2 47.2h0.8v0.8h-0.8zM118.9 55.3h0.8v0.8h-0.8zM126.2 42.9h0.8v0.8h-0.8zM126.2 47.9h0.8v0.8h-0.8zM128.8 51.6h0.8v0.8h-0.8zM111.7 53.0h0.8v0.8h-0.8zM131.1 41.9h0.8v0.8h-0.8zM116.7 50.6h0.8v0.8h-0.8zM126.0 48.2h0.8v0.8h-0.8zM119.9 46.9h0.8v0.8h-0.8zM125.4 49.9h0.8v0.8h-0.8zM133.9 45.8h0.8v0.8h-0.8zM122.0 39.1h0.8v0.8h-0.8zM129.2 45.5h0.8v0.8h-0.8zM124.1 43.7h0.8v0.8h-0.8zM127.7 39.7h0.8v0.8h-0.8zM125.1 47.6h0.8v0.8h-0.8zM125.9 51.9h0.8v0.8h-0.8zM124.2 47.8h0.8v0.8h-0.8zM128.3 40.4h0.8v0.8h-0.8zM123.4 47.9h0.8v0.8h-0.8zM128.7 43.1h0.8v0.8h-0.8zM128.0 47.8h0.8v0.8h-0.8zM118.3 43.5h0.8v0.8h-0.8zM118.5 49.5h0.8v0.8h-0.8zM125.5 49.8h0.8v0.8h-0.8zM128.1 44.2h0.8v0.8h-0.8zM129.2 49.1h0.8v0.8h-0.8zM126.6 48.6h0.8v0.8h-0.8zM119.1 50.2h0.8v0.8h-0.8zM120.2 44.0h0.8v0.8h-0.8zM123.1 48.2h0.8v0.8h-0.8zM124.4 46.1h0.8v0.8h-0.8zM120.3 49.2h0.8v0.8h-0.8zM121.4 42.8h0.8v0.8h-0.8zM125.0 52.7h0.8v0.8h-0.8zM122.9 43.8h0.8v0.8h-0.8zM130.5 52.1h0.8v0.8h-0.8zM123.3 46.9h0.8v0.8h-0.8zM125.2 50.9h0.8v0.8h-0.8zM126.5 39.9h0.8v0.8h-0.8zM119.9 43.9h0.8v0.8h-0.8zM126.5 47.2h0.8v0.8h-0.8zM132.3 44.1h0.8v0.8h-0.8zM125.9 47.2h0.8v0.8h-0.8zM125.2 55.9h0.8v0.8h-0.8zM125.8 52.6h0.8v0.8h-0.8zM130.2 43.4h0.8v0.8h-0.8zM127.5 45.0h0.8v0.8h-0.8zM125.1 47.8h0.8v0.8h-0.8zM124.7 45.5h0.8v0.8h-0.8zM131.3 44.4h0.8v0.8h-0.8zM127.6 52.8h0.8v0.8h-0.8zM127.3 50.5h0.8v0.8h-0.8zM130.6 49.8h0.8v0.8h-0.8zM132.0 39.8h0.8v0.8h-0.8zM133.0 45.1h0.8v0.8h-0.8zM117.1 47.0h0.8v0.8h-0.8zM118.6 48.9h0.8v0.8h-0.8zM118.2 45.3h0.8v0.8h-0.8zM125.9 47.5h0.8v0.8h-0.8zM121.2 47.4h0.8v0.8h-0.8zM124.2 47.7h0.8v0.8h-0.8zM124.6 46.5h0.8v0.8h-0.8zM128.4 40.1h0.8v0.8h-0.8zM122.5 48.4h0.8v0.8h-0.8zM122.9 45.7h0.8v0.8h-0.8zM122.7 48.6h0.8v0.8h-0.8zM129.9 45.1h0.8v0.8h-0.8zM123.5 49.0h0.8v0.8h-0.8zM123.6 40.2h0.8v0.8h-0.8zM125.8 45.5h0.8v0.8h-0.8zM122.1 50.4h0.8v0.8h-0.8zM124.8 45.1h0.8v0.8h-0.8zM115.2 43.4h0.8v0.8h-0.8zM124.7 46.8h0.8v0.8h-0.8zM126.5 47.6h0.8v0.8h-0.8zM122.5 43.1h0.8v0.8h-0.8zM119.9 48.1h0.8v0.8h-0.8zM119.7 51.6h0.8v0.8h-0.8zM118.9 42.1h0.8v0.8h-0.8zM123.8 40.8h0.8v0.8h-0.8zM131.6 41.6h0.8v0.8h-0.8zM124.4 46.4h0.8v0.8h-0.8zM121.1 41.5h0.8v0.8h-0.8zM116.6 52.8h0.8v0.8h-0.8zM129.0 54.3h0.8v0.8h-0.8zM118.3 51.2h0.8v0.8h-0.8zM124.5 50.5h0.8v0.8h-0.8zM122.4 50.7h0.8v0.8h-0.8zM128.5 48.5h0.8v0.8h-0.8zM130.8 44.9h0.8v0.8h-0.8zM131.2 42.8h0.8v0.8h-0.8zM131.8 34.8h0.8v0.8h-0.8zM124.7 44.2h0.8v0.8h-0.8zM124.6 51.2h0.8v0.8h-0.8zM127.7 46.8h0.8v0.8h-0.8zM131.9 39.6h0.8v0.8h-0.8zM121.1 54.0h0.8v0.8h-0.8zM126.0 39.0h0.8v0.8h-0.8zM126.1 42.4h0.8v0.8h-0.8zM131.0 49.9h0.8v0.8h-0.8zM122.2 52.9h0.8v0.8h-0.8zM121.0 51.8h0.8v0.8h-0.8zM127.1 46.1h0.8v0.8h-0.8zM118.5 47.9h0.8v0.8h-0.8zM114.8 47.9h0.8v0.8h-0.8zM116.6 54.2h0.8v0.8h-0.8zM120.4 39.2h0.8v0.8h-0.8zM127.1 48.0h0.8v0.8h-0.8zM122.4 56.0h0.8v0.8h-0.8zM127.9 46.6h0.8v0.8h-0.8zM121.8 36.8h0.8v0.8h-0.8zM126.7 50.4h0.8v0.8h-0.8zM122.1 42.6h0.8v0.8h-0.8zM124.4 41.0h0.8v0.8h-0.8zM124.6 50.2h0.8v0.8h-0.8zM131.1 46.5h0.8v0.8h-0.8zM125.4 49.9h0.8v0.8h-0.8zM130.6 44.4h0.8v0.8h-0.8zM119.3 45.8h0.8v0.8h-0.8zM119.2 45.4h0.8v0.8h-0.8zM124.1 48.8h0.8v0.8h-0.8zM125.3 47.4h0.8v0.8h-0.8zM123.1 49.3h0.8v0.8h-0.8zM128.4 49.1h0.8v0.8h-0.8zM131.0 44.4h0.8v0.8h-0.8zM123.5 54.1h0.8v0.8h-0.8zM125.5 48.6h0.8v0.8h-0.8zM123.2 51.4h0.8v0.8h-0.8zM122.9 43.9h0.8v0.8h-0.8zM124.3 45.7h0.8v0.8h-0.8zM128.2 44.9h0.8v0.8h-0.8zM125.1 46.3h0.8v0.8h-0.8zM126.1 44.5h0.8v0.8h-0.8zM129.4 40.5h0.8v0.8h-0.8zM122.9 45.1h0.8v0.8h-0.8zM127.4 46.7h0.8v0.8h-0.8zM126.7 45.5h0.8v0.8h-0.8zM121.5 43.9h0.8v0.8h-0.8zM123.2 45.7h0.8v0.8h-0.8zM125.8 48.3h0.8v0.8h-0.8zM128.8 45.7h0.8v0.8h-0.8zM121.4 44.1h0.8v0.8h-0.8zM124.9 48.6h0.8v0.8h-0.8zM133.0 45.7h0.8v0.8h-0.8zM132.2 52.3h0.8v0.8h-0.8zM120.1 53.2h0.8v0.8h-0.8zM129.5 51.1h0.8v0.8h-0.8zM124.6 51.0h0.8v0.8h-0.8zM122.5 47.6h0.8v0.8h-0.8zM124.7 54.1h0.8v0.8h-0.8zM123.7 51.2h0.8v0.8h-0.8zM124.9 44.5h0.8v0.8h-0.8zM125.6 49.5h0.8v0.8h-0.8zM121.5 50.6h0.8v0.8h-0.8zM121.5 44.8h0.8v0.8h-0.8zM125.5 46.1h0.8v0.8h-0.8zM120.4 42.3h0.8v0.8h-0.8zM124.7 48.2h0.8v0.8h-0.8zM122.6 48.6h0.8v0.8h-0.8zM118.0 50.6h0.8v0.8h-0.8zM126.4 47.9h0.8v0.8h-0.8zM122.0 48.3h0.8v0.8h-0.8zM125.2 51.2h0.8v0.8h-0.8zM125.8 47.9h0.8v0.8h-0.8zM121.5 51.5h0.8v0.8h-0.8zM129.6 44.0h0.8v0.8h-0.8zM127.3 47.7h0.8v0.8h-0.8zM124.4 42.5h0.8v0.8h-0.8zM132.2 38.1h0.8v0.8h-0.8zM125.9 45.5h0.8v0.8h-0.8zM129.5 44.3h0.8v0.8h-0.8zM124.8 49.6h0.8v0.8h-0.8zM126.6 44.8h0.8v0.8h-0.8zM127.5 48.0h0.8v0.8h-0.8zM128.8 44.2h0.8v0.8h-0.8zM124.4 45.9h0.8v0.8h-0.8z" fill="#000" fill-opacity="0.3"/>
<path d="M102.9 49.8h0.8v0.8h-0.8zM106.0 53.3h0.8v0.8h-0.8zM104.2 50.2h0.8v0.8h-0.8zM107.9 48.7h0.8v0.8h-0.8zM105.2 49.4h0.8v0.8h-0.8zM103.3 46.0h0.8v0.8h-0.8zM107.8 49.5h0.8v0.8h-0.8zM104.8 45.3h0.8v0.8h-0.8zM105.3 52.5h0.8v0.8h-0.8zM102.1 46.3h0.8v0.8h-0.8zM107.8 53.3h0.8v0.8h-0.8zM108.9 47.3h0.8v0.8h-0.8zM106.5 46.8h0.8v0.8h-0.8zM106.3 47.9h0.8v0.8h-0.8zM105.5 53.0h0.8v0.8h-0.8zM105.8 48.3h0.8v0.8h-0.8zM105.1 49.8h0.8v0.8h-0.8zM103.7 49.6h0.8v0.8h-0.8zM106.5 53.7h0.8v0.8h-0.8zM99.9 45.4h0.8v0.8h-0.8zM101.9 51.6h0.8v0.8h-0.8zM111.1 49.6h0.8v0.8h-0.8zM105.3 52.4h0.8v0.8h-0.8zM98.9 48.5h0.8v0.8h-0.8zM97.3 49.5h0.8v0.8h-0.8zM103.7 47.6h0.8v0.8h-0.8zM105.8 47.3h0.8v0.8h-0.8zM107.8 49.0h0.8v0.8h-0.8zM105.9 56.6h0.8v0.8h-0.8zM103.9 51.8h0.8v0.8h-0.8zM102.9 52.7h0.8v0.8h-0.8zM107.4 49.4h0.8v0.8h-0.8zM107.5 53.8h0.8v0.8h-0.8zM108.4 49.0h0.8v0.8h-0.8zM104.9 52.3h0.8v0.8h-0.8zM101.4 47.2h0.8v0.8h-0.8zM106.2 50.7h0.8v0.8h-0.8zM109.6 54.2h0.8v0.8h-0.8zM105.8 50.3h0.8v0.8h-0.8zM101.7 48.4h0.8v0.8h-0.8z" fill="#000" fill-opacity="0.12"/>
<rect x="93.5" y="5.2" width="53.00" height="53.60" fill="none" stroke="#333" stroke-width="1"/>
<line x1="114" y1="5.2" x2="114" y2="58.8" stroke="#333" stroke-width="1" stroke-linecap="butt"/>
<line x1="93.5" y1="40.4" x2="146.5" y2="40.4" stroke="#333" stroke-width="1" stroke-linecap="butt"/>
<text x="145" y="14.10" font-size="8" text-anchor="end" fill="#222" stroke="#222" stroke-width="0.2" textLength="7.2" lengthAdjust="spacingAndGlyphs">39</text>
<text transform="translate(88.2,29.5) rotate(-90)" x="0" y="2.80" font-size="8" text-anchor="middle" fill="#222" stroke="#222" stroke-width="0.2" textLength="29.5" lengthAdjust="spacingAndGlyphs">CD45 PE</text>
<text x="32" y="70.12" font-size="7.5" text-anchor="start" fill="#222" stroke="#222" stroke-width="0.2" textLength="39" lengthAdjust="spacingAndGlyphs">HoxB4-GFP</text>
<line x1="73" y1="67.5" x2="126" y2="67.5" stroke="#222" stroke-width="0.8" stroke-linecap="butt"/>
<polygon points="125,65.6 130,67.5 125,69.4" fill="#111"/>
<text x="156.9" y="12.1" font-size="11" font-weight="bold" fill="#111" stroke="#111" stroke-width="0.35">B</text>
<text x="178.5" y="7.28" font-size="6.5" text-anchor="start" fill="#222" stroke="#222" stroke-width="0.2" textLength="3.6" lengthAdjust="spacingAndGlyphs">a</text>
<text x="271.9" y="7.28" font-size="6.5" text-anchor="start" fill="#222" stroke="#222" stroke-width="0.2" textLength="3.6" lengthAdjust="spacingAndGlyphs">b</text>
<text x="213.1" y="6.76" font-size="7.6" text-anchor="start" fill="#222" stroke="#222" stroke-width="0.2" textLength="18.1" lengthAdjust="spacingAndGlyphs">Exp 1</text>
<text x="313.8" y="6.76" font-size="7.6" text-anchor="start" fill="#222" stroke="#222" stroke-width="0.2" textLength="18.1" lengthAdjust="spacingAndGlyphs">Exp 2</text>
<rect x="180.9" y="12.5" width="80.40" height="52.90" fill="none" stroke="#111" stroke-width="1.3"/>
<text x="178.8" y="23.36" font-size="5.3" text-anchor="end" fill="#555" stroke="#555" stroke-width="0.08">100</text>
<text x="178.8" y="32.05" font-size="5.3" text-anchor="end" fill="#555" stroke="#555" stroke-width="0.08">80</text>
<text x="178.8" y="41.05" font-size="5.3" text-anchor="end" fill="#555" stroke="#555" stroke-width="0.08">60</text>
<text x="178.8" y="49.95" font-size="5.3" text-anchor="end" fill="#555" stroke="#555" stroke-width="0.08">40</text>
<text x="178.8" y="58.75" font-size="5.3" text-anchor="end" fill="#555" stroke="#555" stroke-width="0.08">20</text>
<text x="178.8" y="67.45" font-size="5.3" text-anchor="end" fill="#555" stroke="#555" stroke-width="0.08">0</text>
<text x="181.8" y="72.86" font-size="5.3" text-anchor="middle" fill="#555" stroke="#555" stroke-width="0.08">0</text>
<text x="190.70000000000002" y="72.86" font-size="5.3" text-anchor="middle" fill="#555" stroke="#555" stroke-width="0.08">10</text>
<text x="199.60000000000002" y="72.86" font-size="5.3" text-anchor="middle" fill="#555" stroke="#555" stroke-width="0.08">20</text>
<text x="208.5" y="72.86" font-size="5.3" text-anchor="middle" fill="#555" stroke="#555" stroke-width="0.08">30</text>
<text x="217.4" y="72.86" font-size="5.3" text-anchor="middle" fill="#555" stroke="#555" stroke-width="0.08">40</text>
<text x="226.3" y="72.86" font-size="5.3" text-anchor="middle" fill="#555" stroke="#555" stroke-width="0.08">50</text>
<text x="235.20000000000002" y="72.86" font-size="5.3" text-anchor="middle" fill="#555" stroke="#555" stroke-width="0.08">60</text>
<text x="244.10000000000002" y="72.86" font-size="5.3" text-anchor="middle" fill="#555" stroke="#555" stroke-width="0.08">70</text>
<text x="253.0" y="72.86" font-size="5.3" text-anchor="middle" fill="#555" stroke="#555" stroke-width="0.08">80</text>
<text x="261.90000000000003" y="72.86" font-size="5.3" text-anchor="middle" fill="#555" stroke="#555" stroke-width="0.08">90</text>
<rect x="180.9" y="78.75" width="80.40" height="53.15" fill="none" stroke="#111" stroke-width="1.3"/>
<text x="178.8" y="88.76" font-size="5.3" text-anchor="end" fill="#555" stroke="#555" stroke-width="0.08">100</text>
<text x="178.8" y="97.45" font-size="5.3" text-anchor="end" fill="#555" stroke="#555" stroke-width="0.08">80</text>
<text x="178.8" y="106.26" font-size="5.3" text-anchor="end" fill="#555" stroke="#555" stroke-width="0.08">60</text>
<text x="178.8" y="114.95" font-size="5.3" text-anchor="end" fill="#555" stroke="#555" stroke-width="0.08">40</text>
<text x="178.8" y="124.06" font-size="5.3" text-anchor="end" fill="#555" stroke="#555" stroke-width="0.08">20</text>
<text x="178.8" y="133.05" font-size="5.3" text-anchor="end" fill="#555" stroke="#555" stroke-width="0.08">0</text>
<text x="181.8" y="139.16" font-size="5.3" text-anchor="middle" fill="#555" stroke="#555" stroke-width="0.08">0</text>
<text x="190.70000000000002" y="139.16" font-size="5.3" text-anchor="middle" fill="#555" stroke="#555" stroke-width="0.08">10</text>
<text x="199.60000000000002" y="139.16" font-size="5.3" text-anchor="middle" fill="#555" stroke="#555" stroke-width="0.08">20</text>
<text x="208.5" y="139.16" font-size="5.3" text-anchor="middle" fill="#555" stroke="#555" stroke-width="0.08">30</text>
<text x="217.4" y="139.16" font-size="5.3" text-anchor="middle" fill="#555" stroke="#555" stroke-width="0.08">40</text>
<text x="226.3" y="139.16" font-size="5.3" text-anchor="middle" fill="#555" stroke="#555" stroke-width="0.08">50</text>
<text x="235.20000000000002" y="139.16" font-size="5.3" text-anchor="middle" fill="#555" stroke="#555" stroke-width="0.08">60</text>
<text x="244.10000000000002" y="139.16" font-size="5.3" text-anchor="middle" fill="#555" stroke="#555" stroke-width="0.08">70</text>
<text x="253.0" y="139.16" font-size="5.3" text-anchor="middle" fill="#555" stroke="#555" stroke-width="0.08">80</text>
<text x="261.90000000000003" y="139.16" font-size="5.3" text-anchor="middle" fill="#555" stroke="#555" stroke-width="0.08">90</text>
<line x1="180.9" y1="85.6" x2="261.3" y2="85.6" stroke="#999" stroke-width="1.4" stroke-linecap="butt"/>
<line x1="180.9" y1="86.9" x2="261.3" y2="86.9" stroke="#555" stroke-width="1.0" stroke-linecap="butt"/>
<rect x="279.6" y="12.5" width="79.70" height="52.90" fill="none" stroke="#111" stroke-width="1.3"/>
<text x="278.2" y="23.36" font-size="5.3" text-anchor="end" fill="#555" stroke="#555" stroke-width="0.08">100</text>
<text x="278.2" y="32.05" font-size="5.3" text-anchor="end" fill="#555" stroke="#555" stroke-width="0.08">80</text>
<text x="278.2" y="41.05" font-size="5.3" text-anchor="end" fill="#555" stroke="#555" stroke-width="0.08">60</text>
<text x="278.2" y="49.95" font-size="5.3" text-anchor="end" fill="#555" stroke="#555" stroke-width="0.08">40</text>
<text x="278.2" y="58.75" font-size="5.3" text-anchor="end" fill="#555" stroke="#555" stroke-width="0.08">20</text>
<text x="278.2" y="67.45" font-size="5.3" text-anchor="end" fill="#555" stroke="#555" stroke-width="0.08">0</text>
<text x="280.5" y="72.86" font-size="5.3" text-anchor="middle" fill="#555" stroke="#555" stroke-width="0.08">0</text>
<text x="289.4" y="72.86" font-size="5.3" text-anchor="middle" fill="#555" stroke="#555" stroke-width="0.08">10</text>
<text x="298.3" y="72.86" font-size="5.3" text-anchor="middle" fill="#555" stroke="#555" stroke-width="0.08">20</text>
<text x="307.2" y="72.86" font-size="5.3" text-anchor="middle" fill="#555" stroke="#555" stroke-width="0.08">30</text>
<text x="316.1" y="72.86" font-size="5.3" text-anchor="middle" fill="#555" stroke="#555" stroke-width="0.08">40</text>
<text x="325.0" y="72.86" font-size="5.3" text-anchor="middle" fill="#555" stroke="#555" stroke-width="0.08">50</text>
<text x="333.9" y="72.86" font-size="5.3" text-anchor="middle" fill="#555" stroke="#555" stroke-width="0.08">60</text>
<text x="342.8" y="72.86" font-size="5.3" text-anchor="middle" fill="#555" stroke="#555" stroke-width="0.08">70</text>
<text x="351.7" y="72.86" font-size="5.3" text-anchor="middle" fill="#555" stroke="#555" stroke-width="0.08">80</text>
<text x="360.6" y="72.86" font-size="5.3" text-anchor="middle" fill="#555" stroke="#555" stroke-width="0.08">90</text>
<rect x="279.6" y="78.75" width="79.70" height="53.15" fill="none" stroke="#111" stroke-width="1.3"/>
<text x="278.2" y="88.76" font-size="5.3" text-anchor="end" fill="#555" stroke="#555" stroke-width="0.08">100</text>
<text x="278.2" y="97.45" font-size="5.3" text-anchor="end" fill="#555" stroke="#555" stroke-width="0.08">80</text>
<text x="278.2" y="106.26" font-size="5.3" text-anchor="end" fill="#555" stroke="#555" stroke-width="0.08">60</text>
<text x="278.2" y="114.95" font-size="5.3" text-anchor="end" fill="#555" stroke="#555" stroke-width="0.08">40</text>
<text x="278.2" y="124.06" font-size="5.3" text-anchor="end" fill="#555" stroke="#555" stroke-width="0.08">20</text>
<text x="278.2" y="133.05" font-size="5.3" text-anchor="end" fill="#555" stroke="#555" stroke-width="0.08">0</text>
<text x="280.5" y="139.16" font-size="5.3" text-anchor="middle" fill="#555" stroke="#555" stroke-width="0.08">0</text>
<text x="289.4" y="139.16" font-size="5.3" text-anchor="middle" fill="#555" stroke="#555" stroke-width="0.08">10</text>
<text x="298.3" y="139.16" font-size="5.3" text-anchor="middle" fill="#555" stroke="#555" stroke-width="0.08">20</text>
<text x="307.2" y="139.16" font-size="5.3" text-anchor="middle" fill="#555" stroke="#555" stroke-width="0.08">30</text>
<text x="316.1" y="139.16" font-size="5.3" text-anchor="middle" fill="#555" stroke="#555" stroke-width="0.08">40</text>
<text x="325.0" y="139.16" font-size="5.3" text-anchor="middle" fill="#555" stroke="#555" stroke-width="0.08">50</text>
<text x="333.9" y="139.16" font-size="5.3" text-anchor="middle" fill="#555" stroke="#555" stroke-width="0.08">60</text>
<text x="342.8" y="139.16" font-size="5.3" text-anchor="middle" fill="#555" stroke="#555" stroke-width="0.08">70</text>
<text x="351.7" y="139.16" font-size="5.3" text-anchor="middle" fill="#555" stroke="#555" stroke-width="0.08">80</text>
<text x="360.6" y="139.16" font-size="5.3" text-anchor="middle" fill="#555" stroke="#555" stroke-width="0.08">90</text>
<line x1="279.6" y1="85.6" x2="359.3" y2="85.6" stroke="#999" stroke-width="1.4" stroke-linecap="butt"/>
<line x1="279.6" y1="86.9" x2="359.3" y2="86.9" stroke="#555" stroke-width="1.0" stroke-linecap="butt"/>
<polyline points="193.1,20.5 193.1,32.3 195.6,32.3 195.6,65" fill="none" stroke="#999" stroke-width="0.9" stroke-linejoin="miter"/>
<line x1="193.1" y1="21" x2="193.1" y2="32.3" stroke="#777" stroke-width="0.9" stroke-linecap="butt"/>
<line x1="180.9" y1="20.5" x2="261.3" y2="20.5" stroke="#111" stroke-width="1.2" stroke-linecap="butt"/>
<line x1="293.5" y1="20.5" x2="293.5" y2="65" stroke="#999" stroke-width="0.9" stroke-linecap="butt"/>
<line x1="279.6" y1="20.5" x2="359.3" y2="20.5" stroke="#111" stroke-width="1.2" stroke-linecap="butt"/>
<line x1="216.9" y1="28.0" x2="223.6" y2="28.0" stroke="#aaa" stroke-width="1.3" stroke-linecap="butt"/>
<line x1="216.9" y1="33.5" x2="223.6" y2="33.5" stroke="#111" stroke-width="1.3" stroke-linecap="butt"/>
<text x="229.4" y="32.37" font-size="5.9" text-anchor="start" fill="#222" stroke="#222" stroke-width="0.15" textLength="16.3" lengthAdjust="spacingAndGlyphs">CD41-</text>
<text x="229.4" y="38.36" font-size="5.9" text-anchor="start" fill="#222" stroke="#222" stroke-width="0.15" textLength="17.0" lengthAdjust="spacingAndGlyphs">CD41+</text>
<line x1="317.5" y1="28.0" x2="324.2" y2="28.0" stroke="#aaa" stroke-width="1.3" stroke-linecap="butt"/>
<line x1="317.5" y1="33.5" x2="324.2" y2="33.5" stroke="#111" stroke-width="1.3" stroke-linecap="butt"/>
<text x="330.0" y="32.37" font-size="5.9" text-anchor="start" fill="#222" stroke="#222" stroke-width="0.15" textLength="16.3" lengthAdjust="spacingAndGlyphs">CD41-</text>
<text x="330.0" y="38.36" font-size="5.9" text-anchor="start" fill="#222" stroke="#222" stroke-width="0.15" textLength="17.0" lengthAdjust="spacingAndGlyphs">CD41+</text>
<line x1="218.8" y1="106.9" x2="225.60000000000002" y2="106.9" stroke="#aaa" stroke-width="1.3" stroke-linecap="butt"/>
<line x1="218.8" y1="112.5" x2="225.60000000000002" y2="112.5" stroke="#111" stroke-width="1.3" stroke-linecap="butt"/>
<text x="231.3" y="111.88" font-size="6.5" text-anchor="start" fill="#222" stroke="#222" stroke-width="0.2" textLength="16.8" lengthAdjust="spacingAndGlyphs">CD45-</text>
<text x="231.3" y="118.18" font-size="6.5" text-anchor="start" fill="#222" stroke="#222" stroke-width="0.2" textLength="17.8" lengthAdjust="spacingAndGlyphs">CD45+</text>
<line x1="320.6" y1="106.9" x2="327.40000000000003" y2="106.9" stroke="#aaa" stroke-width="1.3" stroke-linecap="butt"/>
<line x1="320.6" y1="112.5" x2="327.40000000000003" y2="112.5" stroke="#111" stroke-width="1.3" stroke-linecap="butt"/>
<text x="332.5" y="111.88" font-size="6.5" text-anchor="start" fill="#222" stroke="#222" stroke-width="0.2" textLength="16.8" lengthAdjust="spacingAndGlyphs">CD45-</text>
<text x="332.5" y="118.18" font-size="6.5" text-anchor="start" fill="#222" stroke="#222" stroke-width="0.2" textLength="17.8" lengthAdjust="spacingAndGlyphs">CD45+</text>
<rect x="304.3" y="86.3" width="1.6" height="1.8" fill="#222"/>
<text x="235.6" y="61.67" font-size="6.5" text-anchor="start" fill="#222" stroke="#222" stroke-width="0.2" textLength="20" lengthAdjust="spacingAndGlyphs"><tspan font-style="italic">P</tspan> =  .02</text>
<text x="330.6" y="61.67" font-size="6.5" text-anchor="start" fill="#222" stroke="#222" stroke-width="0.2" textLength="22.9" lengthAdjust="spacingAndGlyphs"><tspan font-style="italic">P</tspan> =  .025</text>
<text transform="translate(164.8,75.6) rotate(-90)" x="0" y="2.73" font-size="7.8" text-anchor="middle" fill="#222" stroke="#222" stroke-width="0.2" textLength="35.5" lengthAdjust="spacingAndGlyphs">% survival</text>
<text x="238.1" y="150.53" font-size="7.8" text-anchor="start" fill="#222" stroke="#222" stroke-width="0.2" textLength="66" lengthAdjust="spacingAndGlyphs">Days after transplant</text>
<text x="375.6" y="11.4" font-size="11" font-weight="bold" fill="#111" stroke="#111" stroke-width="0.35">C</text>
<line x1="401.5" y1="15.442857142857143" x2="500.3" y2="15.442857142857143" stroke="#c8c8c8" stroke-width="0.9" stroke-linecap="butt"/>
<line x1="401.5" y1="23.385714285714286" x2="500.3" y2="23.385714285714286" stroke="#c8c8c8" stroke-width="0.9" stroke-linecap="butt"/>
<line x1="401.5" y1="31.32857142857143" x2="500.3" y2="31.32857142857143" stroke="#c8c8c8" stroke-width="0.9" stroke-linecap="butt"/>
<line x1="401.5" y1="39.27142857142857" x2="500.3" y2="39.27142857142857" stroke="#c8c8c8" stroke-width="0.9" stroke-linecap="butt"/>
<line x1="401.5" y1="47.214285714285715" x2="500.3" y2="47.214285714285715" stroke="#c8c8c8" stroke-width="0.9" stroke-linecap="butt"/>
<line x1="401.5" y1="55.15714285714286" x2="500.3" y2="55.15714285714286" stroke="#c8c8c8" stroke-width="0.9" stroke-linecap="butt"/>
<text x="399.6" y="9.21" font-size="4.9" text-anchor="end" fill="#555" stroke="#555" stroke-width="0.08">120</text>
<text x="399.6" y="17.16" font-size="4.9" text-anchor="end" fill="#555" stroke="#555" stroke-width="0.08">100</text>
<text x="399.6" y="25.10" font-size="4.9" text-anchor="end" fill="#555" stroke="#555" stroke-width="0.08">80</text>
<text x="399.6" y="33.04" font-size="4.9" text-anchor="end" fill="#555" stroke="#555" stroke-width="0.08">60</text>
<text x="399.6" y="40.99" font-size="4.9" text-anchor="end" fill="#555" stroke="#555" stroke-width="0.08">40</text>
<text x="399.6" y="48.93" font-size="4.9" text-anchor="end" fill="#555" stroke="#555" stroke-width="0.08">20</text>
<text x="399.6" y="56.87" font-size="4.9" text-anchor="end" fill="#555" stroke="#555" stroke-width="0.08">0</text>
<text x="399.6" y="64.81" font-size="4.9" text-anchor="end" fill="#555" stroke="#555" stroke-width="0.08">-20</text>
<line x1="412.1" y1="13.1" x2="412.1" y2="29.4" stroke="#999" stroke-width="0.7" stroke-linecap="butt"/>
<line x1="411.1" y1="13.1" x2="413.1" y2="13.1" stroke="#999" stroke-width="0.7" stroke-linecap="butt"/>
<line x1="411.1" y1="29.4" x2="413.1" y2="29.4" stroke="#999" stroke-width="0.7" stroke-linecap="butt"/>
<line x1="431.5" y1="17.5" x2="431.5" y2="24.5" stroke="#999" stroke-width="0.7" stroke-linecap="butt"/>
<line x1="430.5" y1="17.5" x2="432.5" y2="17.5" stroke="#999" stroke-width="0.7" stroke-linecap="butt"/>
<line x1="430.5" y1="24.5" x2="432.5" y2="24.5" stroke="#999" stroke-width="0.7" stroke-linecap="butt"/>
<line x1="451.0" y1="18" x2="451.0" y2="23" stroke="#999" stroke-width="0.7" stroke-linecap="butt"/>
<line x1="450.0" y1="18" x2="452.0" y2="18" stroke="#999" stroke-width="0.7" stroke-linecap="butt"/>
<line x1="450.0" y1="23" x2="452.0" y2="23" stroke="#999" stroke-width="0.7" stroke-linecap="butt"/>
<line x1="470.6" y1="20" x2="470.6" y2="55.6" stroke="#999" stroke-width="0.7" stroke-linecap="butt"/>
<line x1="469.6" y1="20" x2="471.6" y2="20" stroke="#999" stroke-width="0.7" stroke-linecap="butt"/>
<line x1="469.6" y1="55.6" x2="471.6" y2="55.6" stroke="#999" stroke-width="0.7" stroke-linecap="butt"/>
<line x1="490.3" y1="18.8" x2="490.3" y2="47.5" stroke="#999" stroke-width="0.7" stroke-linecap="butt"/>
<line x1="489.3" y1="18.8" x2="491.3" y2="18.8" stroke="#999" stroke-width="0.7" stroke-linecap="butt"/>
<line x1="489.3" y1="47.5" x2="491.3" y2="47.5" stroke="#999" stroke-width="0.7" stroke-linecap="butt"/>
<polyline points="412.1,21.3 431.5,21.0 451.0,20.5 470.6,37.3 490.3,32.8" fill="none" stroke="#111" stroke-width="1.7" stroke-linejoin="miter"/>
<rect x="401.5" y="7.5" width="98.80" height="55.60" fill="none" stroke="#333" stroke-width="1.3"/>
<line x1="401.5" y1="82.12857142857143" x2="500.3" y2="82.12857142857143" stroke="#c8c8c8" stroke-width="0.9" stroke-linecap="butt"/>
<line x1="401.5" y1="90.05714285714285" x2="500.3" y2="90.05714285714285" stroke="#c8c8c8" stroke-width="0.9" stroke-linecap="butt"/>
<line x1="401.5" y1="97.98571428571428" x2="500.3" y2="97.98571428571428" stroke="#c8c8c8" stroke-width="0.9" stroke-linecap="butt"/>
<line x1="401.5" y1="105.91428571428571" x2="500.3" y2="105.91428571428571" stroke="#c8c8c8" stroke-width="0.9" stroke-linecap="butt"/>
<line x1="401.5" y1="113.84285714285713" x2="500.3" y2="113.84285714285713" stroke="#c8c8c8" stroke-width="0.9" stroke-linecap="butt"/>
<line x1="401.5" y1="121.77142857142856" x2="500.3" y2="121.77142857142856" stroke="#c8c8c8" stroke-width="0.9" stroke-linecap="butt"/>
<text x="399.6" y="75.92" font-size="4.9" text-anchor="end" fill="#555" stroke="#555" stroke-width="0.08">120</text>
<text x="399.6" y="83.84" font-size="4.9" text-anchor="end" fill="#555" stroke="#555" stroke-width="0.08">100</text>
<text x="399.6" y="91.77" font-size="4.9" text-anchor="end" fill="#555" stroke="#555" stroke-width="0.08">80</text>
<text x="399.6" y="99.70" font-size="4.9" text-anchor="end" fill="#555" stroke="#555" stroke-width="0.08">60</text>
<text x="399.6" y="107.63" font-size="4.9" text-anchor="end" fill="#555" stroke="#555" stroke-width="0.08">40</text>
<text x="399.6" y="115.56" font-size="4.9" text-anchor="end" fill="#555" stroke="#555" stroke-width="0.08">20</text>
<text x="399.6" y="123.49" font-size="4.9" text-anchor="end" fill="#555" stroke="#555" stroke-width="0.08">0</text>
<text x="399.6" y="131.41" font-size="4.9" text-anchor="end" fill="#555" stroke="#555" stroke-width="0.08">-20</text>
<line x1="412.1" y1="82.5" x2="412.1" y2="91.7" stroke="#999" stroke-width="0.7" stroke-linecap="butt"/>
<line x1="411.1" y1="82.5" x2="413.1" y2="82.5" stroke="#999" stroke-width="0.7" stroke-linecap="butt"/>
<line x1="411.1" y1="91.7" x2="413.1" y2="91.7" stroke="#999" stroke-width="0.7" stroke-linecap="butt"/>
<line x1="431.5" y1="89.2" x2="431.5" y2="98.7" stroke="#999" stroke-width="0.7" stroke-linecap="butt"/>
<line x1="430.5" y1="89.2" x2="432.5" y2="89.2" stroke="#999" stroke-width="0.7" stroke-linecap="butt"/>
<line x1="430.5" y1="98.7" x2="432.5" y2="98.7" stroke="#999" stroke-width="0.7" stroke-linecap="butt"/>
<line x1="451.0" y1="97" x2="451.0" y2="122" stroke="#999" stroke-width="0.7" stroke-linecap="butt"/>
<line x1="450.0" y1="97" x2="452.0" y2="97" stroke="#999" stroke-width="0.7" stroke-linecap="butt"/>
<line x1="450.0" y1="122" x2="452.0" y2="122" stroke="#999" stroke-width="0.7" stroke-linecap="butt"/>
<line x1="470.6" y1="102" x2="470.6" y2="124.7" stroke="#999" stroke-width="0.7" stroke-linecap="butt"/>
<line x1="469.6" y1="102" x2="471.6" y2="102" stroke="#999" stroke-width="0.7" stroke-linecap="butt"/>
<line x1="469.6" y1="124.7" x2="471.6" y2="124.7" stroke="#999" stroke-width="0.7" stroke-linecap="butt"/>
<line x1="490.3" y1="98.3" x2="490.3" y2="127" stroke="#999" stroke-width="0.7" stroke-linecap="butt"/>
<line x1="489.3" y1="98.3" x2="491.3" y2="98.3" stroke="#999" stroke-width="0.7" stroke-linecap="butt"/>
<line x1="489.3" y1="127" x2="491.3" y2="127" stroke="#999" stroke-width="0.7" stroke-linecap="butt"/>
<polyline points="412.1,87.0 431.5,93.7 451.0,109.5 470.6,113.3 490.3,112.5" fill="none" stroke="#111" stroke-width="1.7" stroke-linejoin="miter"/>
<rect x="401.5" y="74.2" width="98.80" height="55.50" fill="none" stroke="#333" stroke-width="1.3"/>
<line x1="401.5" y1="149.65714285714284" x2="500.3" y2="149.65714285714284" stroke="#c8c8c8" stroke-width="0.9" stroke-linecap="butt"/>
<line x1="401.5" y1="157.6142857142857" x2="500.3" y2="157.6142857142857" stroke="#c8c8c8" stroke-width="0.9" stroke-linecap="butt"/>
<line x1="401.5" y1="165.57142857142856" x2="500.3" y2="165.57142857142856" stroke="#c8c8c8" stroke-width="0.9" stroke-linecap="butt"/>
<line x1="401.5" y1="173.52857142857144" x2="500.3" y2="173.52857142857144" stroke="#c8c8c8" stroke-width="0.9" stroke-linecap="butt"/>
<line x1="401.5" y1="181.4857142857143" x2="500.3" y2="181.4857142857143" stroke="#c8c8c8" stroke-width="0.9" stroke-linecap="butt"/>
<line x1="401.5" y1="189.44285714285715" x2="500.3" y2="189.44285714285715" stroke="#c8c8c8" stroke-width="0.9" stroke-linecap="butt"/>
<text x="399.6" y="143.41" font-size="4.9" text-anchor="end" fill="#555" stroke="#555" stroke-width="0.08">120</text>
<text x="399.6" y="151.37" font-size="4.9" text-anchor="end" fill="#555" stroke="#555" stroke-width="0.08">100</text>
<text x="399.6" y="159.33" font-size="4.9" text-anchor="end" fill="#555" stroke="#555" stroke-width="0.08">80</text>
<text x="399.6" y="167.29" font-size="4.9" text-anchor="end" fill="#555" stroke="#555" stroke-width="0.08">60</text>
<text x="399.6" y="175.24" font-size="4.9" text-anchor="end" fill="#555" stroke="#555" stroke-width="0.08">40</text>
<text x="399.6" y="183.20" font-size="4.9" text-anchor="end" fill="#555" stroke="#555" stroke-width="0.08">20</text>
<text x="399.6" y="191.16" font-size="4.9" text-anchor="end" fill="#555" stroke="#555" stroke-width="0.08">0</text>
<text x="399.6" y="199.12" font-size="4.9" text-anchor="end" fill="#555" stroke="#555" stroke-width="0.08">-20</text>
<line x1="412.1" y1="154.2" x2="412.1" y2="170.5" stroke="#999" stroke-width="0.7" stroke-linecap="butt"/>
<line x1="411.1" y1="154.2" x2="413.1" y2="154.2" stroke="#999" stroke-width="0.7" stroke-linecap="butt"/>
<line x1="411.1" y1="170.5" x2="413.1" y2="170.5" stroke="#999" stroke-width="0.7" stroke-linecap="butt"/>
<line x1="431.5" y1="153.3" x2="431.5" y2="168.8" stroke="#999" stroke-width="0.7" stroke-linecap="butt"/>
<line x1="430.5" y1="153.3" x2="432.5" y2="153.3" stroke="#999" stroke-width="0.7" stroke-linecap="butt"/>
<line x1="430.5" y1="168.8" x2="432.5" y2="168.8" stroke="#999" stroke-width="0.7" stroke-linecap="butt"/>
<line x1="451.0" y1="158" x2="451.0" y2="186.7" stroke="#999" stroke-width="0.7" stroke-linecap="butt"/>
<line x1="450.0" y1="158" x2="452.0" y2="158" stroke="#999" stroke-width="0.7" stroke-linecap="butt"/>
<line x1="450.0" y1="186.7" x2="452.0" y2="186.7" stroke="#999" stroke-width="0.7" stroke-linecap="butt"/>
<line x1="470.6" y1="184.5" x2="470.6" y2="189.7" stroke="#999" stroke-width="0.7" stroke-linecap="butt"/>
<line x1="469.6" y1="184.5" x2="471.6" y2="184.5" stroke="#999" stroke-width="0.7" stroke-linecap="butt"/>
<line x1="469.6" y1="189.7" x2="471.6" y2="189.7" stroke="#999" stroke-width="0.7" stroke-linecap="butt"/>
<line x1="490.3" y1="177.2" x2="490.3" y2="192.2" stroke="#999" stroke-width="0.7" stroke-linecap="butt"/>
<line x1="489.3" y1="177.2" x2="491.3" y2="177.2" stroke="#999" stroke-width="0.7" stroke-linecap="butt"/>
<line x1="489.3" y1="192.2" x2="491.3" y2="192.2" stroke="#999" stroke-width="0.7" stroke-linecap="butt"/>
<polyline points="412.1,162.2 431.5,161.0 451.0,172.2 470.6,186.8 490.3,184.7" fill="none" stroke="#111" stroke-width="1.7" stroke-linejoin="miter"/>
<rect x="401.5" y="141.7" width="98.80" height="55.70" fill="none" stroke="#333" stroke-width="1.3"/>
<text x="414.4" y="206.78" font-size="6.5" text-anchor="middle" fill="#222" stroke="#222" stroke-width="0.1">3-4</text>
<text x="434.2" y="206.78" font-size="6.5" text-anchor="middle" fill="#222" stroke="#222" stroke-width="0.1">8</text>
<text x="454.7" y="206.78" font-size="6.5" text-anchor="middle" fill="#222" stroke="#222" stroke-width="0.1">12</text>
<text x="474.2" y="206.78" font-size="6.5" text-anchor="middle" fill="#222" stroke="#222" stroke-width="0.1">18</text>
<text x="495.5" y="206.78" font-size="6.5" text-anchor="middle" fill="#222" stroke="#222" stroke-width="0.1">26-29</text>
<text x="419.3" y="215.80" font-size="8" text-anchor="start" fill="#222" stroke="#222" stroke-width="0.2" textLength="72.6" lengthAdjust="spacingAndGlyphs">Weeks after transplant</text>
<text transform="translate(385.1,91.2) rotate(-90)" x="0" y="2.45" font-size="7" text-anchor="middle" fill="#222" stroke="#222" stroke-width="0.1" textLength="117.7" lengthAdjust="spacingAndGlyphs">% EPOCH cells-derived peripheral blood</text>
<text transform="translate(516.0,35.3) rotate(90)" x="0" y="3.01" font-size="8.6" text-anchor="middle" fill="#222" stroke="#222" stroke-width="0.2" textLength="43" lengthAdjust="spacingAndGlyphs">CD41+ donor</text>
<text transform="translate(506.2,35.0) rotate(90)" x="0" y="2.45" font-size="7" text-anchor="middle" fill="#222" stroke="#222" stroke-width="0.2" textLength="14" lengthAdjust="spacingAndGlyphs">cells</text>
<text transform="translate(515.2,102.6) rotate(90)" x="0" y="3.01" font-size="8.6" text-anchor="middle" fill="#222" stroke="#222" stroke-width="0.2" textLength="43.6" lengthAdjust="spacingAndGlyphs">CD45- donor</text>
<text transform="translate(505.8,101.9) rotate(90)" x="0" y="2.45" font-size="7" text-anchor="middle" fill="#222" stroke="#222" stroke-width="0.2" textLength="15" lengthAdjust="spacingAndGlyphs">cells</text>
<text transform="translate(515.3,169.6) rotate(90)" x="0" y="3.01" font-size="8.6" text-anchor="middle" fill="#222" stroke="#222" stroke-width="0.2" textLength="43.2" lengthAdjust="spacingAndGlyphs">CD45+ donor</text>
<text transform="translate(506.0,168.7) rotate(90)" x="0" y="2.45" font-size="7" text-anchor="middle" fill="#222" stroke="#222" stroke-width="0.2" textLength="13" lengthAdjust="spacingAndGlyphs">cells</text>
<text x="3.75" y="103.1" font-size="11" font-weight="bold" fill="#111" stroke="#111" stroke-width="0.35">D</text>
<path d="M100.9 104.7h0.8v0.8h-0.8zM63.2 111.0h0.8v0.8h-0.8zM83.5 127.2h0.8v0.8h-0.8zM73.3 151.9h0.8v0.8h-0.8zM87.9 150.3h0.8v0.8h-0.8zM105.0 116.7h0.8v0.8h-0.8zM104.1 124.6h0.8v0.8h-0.8zM52.7 153.4h0.8v0.8h-0.8zM55.7 102.5h0.8v0.8h-0.8zM66.4 117.9h0.8v0.8h-0.8zM105.6 150.9h0.8v0.8h-0.8zM74.0 131.5h0.8v0.8h-0.8zM98.8 147.3h0.8v0.8h-0.8zM87.5 130.6h0.8v0.8h-0.8zM56.4 115.3h0.8v0.8h-0.8zM87.7 134.7h0.8v0.8h-0.8zM96.0 152.5h0.8v0.8h-0.8zM105.3 112.4h0.8v0.8h-0.8zM54.1 152.4h0.8v0.8h-0.8zM82.7 111.8h0.8v0.8h-0.8zM89.7 116.0h0.8v0.8h-0.8zM63.4 122.3h0.8v0.8h-0.8zM80.0 139.9h0.8v0.8h-0.8zM53.9 143.5h0.8v0.8h-0.8zM85.8 128.2h0.8v0.8h-0.8zM88.5 146.8h0.8v0.8h-0.8zM50.3 128.5h0.8v0.8h-0.8zM88.9 141.7h0.8v0.8h-0.8zM87.1 111.7h0.8v0.8h-0.8zM105.1 146.0h0.8v0.8h-0.8zM63.2 125.9h0.8v0.8h-0.8zM105.1 113.2h0.8v0.8h-0.8zM73.3 156.0h0.8v0.8h-0.8zM101.7 114.7h0.8v0.8h-0.8zM92.2 121.9h0.8v0.8h-0.8zM88.0 145.0h0.8v0.8h-0.8zM57.1 114.1h0.8v0.8h-0.8zM62.1 116.6h0.8v0.8h-0.8zM51.8 109.2h0.8v0.8h-0.8zM73.2 125.4h0.8v0.8h-0.8zM54.2 134.5h0.8v0.8h-0.8zM104.2 134.2h0.8v0.8h-0.8zM70.3 141.4h0.8v0.8h-0.8zM75.0 111.4h0.8v0.8h-0.8zM77.5 102.5h0.8v0.8h-0.8zM88.8 110.6h0.8v0.8h-0.8zM71.1 156.1h0.8v0.8h-0.8zM94.0 148.9h0.8v0.8h-0.8zM86.8 137.5h0.8v0.8h-0.8zM90.4 156.3h0.8v0.8h-0.8zM61.0 144.9h0.8v0.8h-0.8zM67.1 116.0h0.8v0.8h-0.8zM97.2 135.6h0.8v0.8h-0.8zM98.8 151.1h0.8v0.8h-0.8zM83.7 112.7h0.8v0.8h-0.8zM50.6 131.8h0.8v0.8h-0.8zM91.6 116.9h0.8v0.8h-0.8zM53.7 101.8h0.8v0.8h-0.8zM59.7 141.0h0.8v0.8h-0.8zM49.9 114.5h0.8v0.8h-0.8zM65.0 141.8h0.8v0.8h-0.8zM106.8 102.6h0.8v0.8h-0.8zM56.3 154.5h0.8v0.8h-0.8zM105.8 109.9h0.8v0.8h-0.8zM69.1 131.1h0.8v0.8h-0.8zM68.2 125.2h0.8v0.8h-0.8zM77.4 116.2h0.8v0.8h-0.8zM52.9 106.3h0.8v0.8h-0.8zM59.1 106.7h0.8v0.8h-0.8zM85.8 141.0h0.8v0.8h-0.8zM64.9 146.4h0.8v0.8h-0.8zM91.8 120.9h0.8v0.8h-0.8zM78.1 112.2h0.8v0.8h-0.8zM103.4 133.3h0.8v0.8h-0.8zM52.7 110.2h0.8v0.8h-0.8zM89.7 123.3h0.8v0.8h-0.8zM91.1 114.5h0.8v0.8h-0.8zM95.8 147.0h0.8v0.8h-0.8zM55.1 134.7h0.8v0.8h-0.8zM60.8 141.6h0.8v0.8h-0.8zM96.2 146.4h0.8v0.8h-0.8zM63.1 106.8h0.8v0.8h-0.8zM88.0 133.5h0.8v0.8h-0.8zM57.7 112.4h0.8v0.8h-0.8zM83.4 107.6h0.8v0.8h-0.8zM86.3 115.2h0.8v0.8h-0.8zM64.6 125.5h0.8v0.8h-0.8zM80.5 142.6h0.8v0.8h-0.8zM51.5 142.6h0.8v0.8h-0.8zM62.5 118.0h0.8v0.8h-0.8zM86.7 140.7h0.8v0.8h-0.8zM85.2 152.6h0.8v0.8h-0.8zM61.5 119.1h0.8v0.8h-0.8zM88.0 116.3h0.8v0.8h-0.8zM58.8 114.3h0.8v0.8h-0.8zM94.3 148.4h0.8v0.8h-0.8zM91.1 155.9h0.8v0.8h-0.8zM95.6 119.1h0.8v0.8h-0.8zM67.9 142.4h0.8v0.8h-0.8zM52.9 136.0h0.8v0.8h-0.8zM54.9 104.3h0.8v0.8h-0.8zM79.4 110.1h0.8v0.8h-0.8zM103.6 151.2h0.8v0.8h-0.8zM76.4 112.7h0.8v0.8h-0.8zM56.6 130.2h0.8v0.8h-0.8zM79.8 122.1h0.8v0.8h-0.8zM91.1 131.5h0.8v0.8h-0.8zM94.5 107.5h0.8v0.8h-0.8zM53.7 123.4h0.8v0.8h-0.8zM77.6 115.8h0.8v0.8h-0.8zM88.3 114.1h0.8v0.8h-0.8zM68.1 128.5h0.8v0.8h-0.8zM90.9 145.2h0.8v0.8h-0.8zM71.2 126.8h0.8v0.8h-0.8zM103.3 154.5h0.8v0.8h-0.8zM85.5 107.5h0.8v0.8h-0.8zM76.0 137.6h0.8v0.8h-0.8zM65.8 103.6h0.8v0.8h-0.8zM106.4 153.1h0.8v0.8h-0.8zM57.2 127.9h0.8v0.8h-0.8zM85.5 118.5h0.8v0.8h-0.8zM53.7 144.1h0.8v0.8h-0.8zM94.3 126.3h0.8v0.8h-0.8zM54.7 123.8h0.8v0.8h-0.8zM55.1 156.1h0.8v0.8h-0.8zM52.7 117.8h0.8v0.8h-0.8zM94.1 109.2h0.8v0.8h-0.8zM55.9 105.5h0.8v0.8h-0.8zM59.2 131.7h0.8v0.8h-0.8zM97.9 111.1h0.8v0.8h-0.8zM59.7 144.9h0.8v0.8h-0.8zM74.3 120.7h0.8v0.8h-0.8zM56.8 115.3h0.8v0.8h-0.8zM105.9 108.1h0.8v0.8h-0.8zM64.7 143.5h0.8v0.8h-0.8zM101.2 152.8h0.8v0.8h-0.8zM77.0 155.7h0.8v0.8h-0.8zM84.6 117.9h0.8v0.8h-0.8zM76.6 142.1h0.8v0.8h-0.8zM92.1 108.9h0.8v0.8h-0.8zM60.9 155.8h0.8v0.8h-0.8zM55.9 147.6h0.8v0.8h-0.8zM69.3 115.6h0.8v0.8h-0.8zM64.4 128.1h0.8v0.8h-0.8zM107.0 109.9h0.8v0.8h-0.8zM99.1 119.7h0.8v0.8h-0.8zM59.7 143.7h0.8v0.8h-0.8zM69.4 112.1h0.8v0.8h-0.8zM73.9 148.1h0.8v0.8h-0.8zM99.6 134.1h0.8v0.8h-0.8zM50.3 144.8h0.8v0.8h-0.8zM84.8 152.5h0.8v0.8h-0.8zM104.7 120.0h0.8v0.8h-0.8zM98.7 147.9h0.8v0.8h-0.8zM65.1 122.2h0.8v0.8h-0.8zM71.4 121.5h0.8v0.8h-0.8zM71.6 107.8h0.8v0.8h-0.8zM62.8 153.1h0.8v0.8h-0.8zM73.4 137.6h0.8v0.8h-0.8zM101.0 144.3h0.8v0.8h-0.8zM63.8 153.6h0.8v0.8h-0.8zM96.2 157.7h0.8v0.8h-0.8zM91.8 144.3h0.8v0.8h-0.8zM96.7 115.9h0.8v0.8h-0.8zM87.6 123.1h0.8v0.8h-0.8zM98.2 109.1h0.8v0.8h-0.8zM80.9 120.6h0.8v0.8h-0.8zM97.1 121.1h0.8v0.8h-0.8zM98.5 149.6h0.8v0.8h-0.8zM100.5 109.4h0.8v0.8h-0.8zM103.9 143.7h0.8v0.8h-0.8zM88.8 138.5h0.8v0.8h-0.8zM52.5 150.8h0.8v0.8h-0.8zM81.4 127.3h0.8v0.8h-0.8zM69.3 145.9h0.8v0.8h-0.8zM94.9 150.8h0.8v0.8h-0.8zM62.1 120.8h0.8v0.8h-0.8zM64.1 107.2h0.8v0.8h-0.8zM68.6 103.0h0.8v0.8h-0.8zM95.7 114.4h0.8v0.8h-0.8zM53.8 105.3h0.8v0.8h-0.8zM92.5 112.8h0.8v0.8h-0.8zM76.4 124.3h0.8v0.8h-0.8zM96.1 155.6h0.8v0.8h-0.8zM67.6 137.4h0.8v0.8h-0.8zM101.4 128.2h0.8v0.8h-0.8zM101.7 143.1h0.8v0.8h-0.8zM67.7 151.1h0.8v0.8h-0.8zM82.8 107.5h0.8v0.8h-0.8zM83.7 148.5h0.8v0.8h-0.8zM79.7 128.9h0.8v0.8h-0.8zM73.8 151.4h0.8v0.8h-0.8zM88.2 113.3h0.8v0.8h-0.8zM70.6 122.1h0.8v0.8h-0.8zM105.1 141.0h0.8v0.8h-0.8zM56.9 153.3h0.8v0.8h-0.8zM51.7 135.0h0.8v0.8h-0.8zM74.7 142.2h0.8v0.8h-0.8zM74.5 106.7h0.8v0.8h-0.8zM80.0 148.0h0.8v0.8h-0.8zM95.3 121.7h0.8v0.8h-0.8zM62.6 143.7h0.8v0.8h-0.8zM96.0 113.9h0.8v0.8h-0.8zM100.7 157.8h0.8v0.8h-0.8zM74.8 123.1h0.8v0.8h-0.8zM90.7 154.2h0.8v0.8h-0.8zM61.4 118.6h0.8v0.8h-0.8zM68.7 143.0h0.8v0.8h-0.8zM60.5 132.5h0.8v0.8h-0.8zM78.6 139.4h0.8v0.8h-0.8zM58.0 155.7h0.8v0.8h-0.8zM107.5 133.3h0.8v0.8h-0.8zM95.7 111.9h0.8v0.8h-0.8zM102.3 132.8h0.8v0.8h-0.8zM93.6 150.7h0.8v0.8h-0.8zM70.6 153.9h0.8v0.8h-0.8zM61.7 102.8h0.8v0.8h-0.8zM78.7 152.5h0.8v0.8h-0.8zM101.7 155.6h0.8v0.8h-0.8zM79.2 154.4h0.8v0.8h-0.8zM82.1 109.6h0.8v0.8h-0.8zM86.2 147.1h0.8v0.8h-0.8zM74.2 135.6h0.8v0.8h-0.8zM64.7 117.1h0.8v0.8h-0.8zM74.0 130.6h0.8v0.8h-0.8zM76.8 106.7h0.8v0.8h-0.8zM50.0 120.8h0.8v0.8h-0.8zM91.1 143.9h0.8v0.8h-0.8zM63.4 116.0h0.8v0.8h-0.8zM79.6 111.4h0.8v0.8h-0.8zM84.5 152.8h0.8v0.8h-0.8zM61.4 134.7h0.8v0.8h-0.8zM91.4 144.0h0.8v0.8h-0.8zM90.9 141.8h0.8v0.8h-0.8zM65.5 149.0h0.8v0.8h-0.8zM103.2 104.5h0.8v0.8h-0.8zM104.3 126.6h0.8v0.8h-0.8zM54.7 105.4h0.8v0.8h-0.8zM95.8 139.9h0.8v0.8h-0.8zM57.9 127.6h0.8v0.8h-0.8zM86.6 158.1h0.8v0.8h-0.8zM69.1 145.0h0.8v0.8h-0.8zM63.9 112.8h0.8v0.8h-0.8zM59.0 124.8h0.8v0.8h-0.8zM85.4 118.7h0.8v0.8h-0.8zM59.1 113.9h0.8v0.8h-0.8zM54.6 112.5h0.8v0.8h-0.8zM68.0 130.1h0.8v0.8h-0.8zM60.3 128.7h0.8v0.8h-0.8zM75.1 156.7h0.8v0.8h-0.8zM77.8 155.1h0.8v0.8h-0.8zM76.9 112.7h0.8v0.8h-0.8zM83.9 109.7h0.8v0.8h-0.8zM59.5 105.7h0.8v0.8h-0.8zM90.2 156.3h0.8v0.8h-0.8zM73.0 121.6h0.8v0.8h-0.8zM74.3 121.5h0.8v0.8h-0.8zM89.6 123.7h0.8v0.8h-0.8zM58.5 150.5h0.8v0.8h-0.8zM82.8 101.9h0.8v0.8h-0.8zM98.8 142.8h0.8v0.8h-0.8zM70.2 137.2h0.8v0.8h-0.8zM102.9 124.3h0.8v0.8h-0.8zM74.7 118.4h0.8v0.8h-0.8zM81.7 139.1h0.8v0.8h-0.8zM92.2 155.3h0.8v0.8h-0.8zM58.1 122.2h0.8v0.8h-0.8zM98.9 146.4h0.8v0.8h-0.8zM83.8 139.9h0.8v0.8h-0.8zM69.4 155.1h0.8v0.8h-0.8zM81.5 124.3h0.8v0.8h-0.8zM60.2 108.0h0.8v0.8h-0.8zM101.6 146.9h0.8v0.8h-0.8zM51.2 119.8h0.8v0.8h-0.8zM77.4 129.6h0.8v0.8h-0.8zM70.7 152.3h0.8v0.8h-0.8zM69.9 131.7h0.8v0.8h-0.8zM103.4 137.7h0.8v0.8h-0.8zM77.3 120.4h0.8v0.8h-0.8zM72.1 136.0h0.8v0.8h-0.8zM95.1 116.3h0.8v0.8h-0.8zM71.1 123.5h0.8v0.8h-0.8zM70.7 153.3h0.8v0.8h-0.8zM80.9 117.1h0.8v0.8h-0.8zM68.9 148.1h0.8v0.8h-0.8zM59.0 140.6h0.8v0.8h-0.8zM51.0 112.5h0.8v0.8h-0.8zM53.1 147.2h0.8v0.8h-0.8zM58.2 114.4h0.8v0.8h-0.8zM53.0 116.5h0.8v0.8h-0.8zM92.1 142.3h0.8v0.8h-0.8zM102.3 155.2h0.8v0.8h-0.8zM81.5 153.8h0.8v0.8h-0.8zM54.9 154.0h0.8v0.8h-0.8zM74.8 112.4h0.8v0.8h-0.8zM92.9 150.2h0.8v0.8h-0.8zM72.0 106.8h0.8v0.8h-0.8zM100.2 144.2h0.8v0.8h-0.8zM84.2 156.9h0.8v0.8h-0.8zM51.9 104.7h0.8v0.8h-0.8zM56.9 102.7h0.8v0.8h-0.8zM90.6 137.2h0.8v0.8h-0.8zM56.2 110.7h0.8v0.8h-0.8zM60.2 136.0h0.8v0.8h-0.8zM88.6 156.5h0.8v0.8h-0.8zM70.5 157.0h0.8v0.8h-0.8zM74.8 123.7h0.8v0.8h-0.8zM64.3 114.7h0.8v0.8h-0.8zM106.0 157.9h0.8v0.8h-0.8zM90.5 111.4h0.8v0.8h-0.8zM60.1 110.1h0.8v0.8h-0.8zM70.0 143.3h0.8v0.8h-0.8zM53.1 131.6h0.8v0.8h-0.8zM89.0 103.4h0.8v0.8h-0.8zM75.1 146.3h0.8v0.8h-0.8zM83.0 127.1h0.8v0.8h-0.8zM100.6 135.6h0.8v0.8h-0.8zM69.2 123.9h0.8v0.8h-0.8zM104.2 150.2h0.8v0.8h-0.8zM102.6 133.3h0.8v0.8h-0.8zM57.9 111.4h0.8v0.8h-0.8zM71.9 140.7h0.8v0.8h-0.8zM50.0 147.0h0.8v0.8h-0.8zM95.1 130.7h0.8v0.8h-0.8zM50.0 146.8h0.8v0.8h-0.8zM73.6 139.5h0.8v0.8h-0.8zM82.6 142.8h0.8v0.8h-0.8zM73.3 155.9h0.8v0.8h-0.8zM104.9 154.2h0.8v0.8h-0.8zM85.3 119.4h0.8v0.8h-0.8zM71.5 116.7h0.8v0.8h-0.8zM101.9 146.4h0.8v0.8h-0.8zM95.3 148.1h0.8v0.8h-0.8zM107.0 140.5h0.8v0.8h-0.8zM68.1 144.5h0.8v0.8h-0.8zM64.9 136.1h0.8v0.8h-0.8zM58.9 150.1h0.8v0.8h-0.8zM77.9 117.1h0.8v0.8h-0.8zM103.0 106.2h0.8v0.8h-0.8zM103.5 144.4h0.8v0.8h-0.8zM58.3 144.7h0.8v0.8h-0.8zM82.8 152.9h0.8v0.8h-0.8zM83.6 125.7h0.8v0.8h-0.8zM103.6 106.4h0.8v0.8h-0.8zM94.6 107.3h0.8v0.8h-0.8zM65.7 107.9h0.8v0.8h-0.8zM100.1 126.5h0.8v0.8h-0.8zM91.7 116.0h0.8v0.8h-0.8zM91.9 138.3h0.8v0.8h-0.8zM55.3 129.5h0.8v0.8h-0.8zM91.4 113.7h0.8v0.8h-0.8zM87.5 117.3h0.8v0.8h-0.8zM71.1 153.7h0.8v0.8h-0.8zM104.2 158.1h0.8v0.8h-0.8zM74.4 133.9h0.8v0.8h-0.8zM96.4 144.5h0.8v0.8h-0.8zM76.1 150.5h0.8v0.8h-0.8zM72.9 155.4h0.8v0.8h-0.8zM77.0 108.2h0.8v0.8h-0.8zM93.0 109.7h0.8v0.8h-0.8zM89.0 104.5h0.8v0.8h-0.8zM106.8 132.2h0.8v0.8h-0.8zM92.5 108.9h0.8v0.8h-0.8zM86.5 122.8h0.8v0.8h-0.8zM64.1 147.7h0.8v0.8h-0.8zM51.6 128.6h0.8v0.8h-0.8zM54.7 149.8h0.8v0.8h-0.8zM101.3 103.5h0.8v0.8h-0.8zM76.6 128.1h0.8v0.8h-0.8zM91.2 142.8h0.8v0.8h-0.8zM69.5 154.4h0.8v0.8h-0.8zM60.4 109.2h0.8v0.8h-0.8zM96.8 108.3h0.8v0.8h-0.8zM60.4 129.9h0.8v0.8h-0.8zM69.1 110.8h0.8v0.8h-0.8zM103.4 128.4h0.8v0.8h-0.8zM95.1 115.7h0.8v0.8h-0.8zM102.4 114.0h0.8v0.8h-0.8zM102.1 136.2h0.8v0.8h-0.8zM105.8 145.2h0.8v0.8h-0.8zM86.2 131.7h0.8v0.8h-0.8zM99.1 126.6h0.8v0.8h-0.8zM55.4 153.3h0.8v0.8h-0.8zM96.3 140.2h0.8v0.8h-0.8zM92.7 114.7h0.8v0.8h-0.8zM76.5 148.2h0.8v0.8h-0.8zM105.3 153.8h0.8v0.8h-0.8zM59.0 140.3h0.8v0.8h-0.8zM81.7 124.5h0.8v0.8h-0.8zM59.4 109.3h0.8v0.8h-0.8zM76.9 129.5h0.8v0.8h-0.8zM65.2 122.3h0.8v0.8h-0.8zM81.7 144.7h0.8v0.8h-0.8zM83.8 110.7h0.8v0.8h-0.8zM100.9 122.3h0.8v0.8h-0.8zM105.2 157.2h0.8v0.8h-0.8zM57.8 134.5h0.8v0.8h-0.8zM105.6 123.3h0.8v0.8h-0.8zM81.3 119.3h0.8v0.8h-0.8zM51.4 113.1h0.8v0.8h-0.8zM56.9 117.6h0.8v0.8h-0.8zM86.1 133.4h0.8v0.8h-0.8zM104.5 140.4h0.8v0.8h-0.8zM70.6 155.3h0.8v0.8h-0.8zM86.3 132.3h0.8v0.8h-0.8zM99.6 139.5h0.8v0.8h-0.8zM70.5 135.8h0.8v0.8h-0.8zM67.1 156.5h0.8v0.8h-0.8zM63.8 156.7h0.8v0.8h-0.8zM53.4 102.1h0.8v0.8h-0.8zM81.7 113.2h0.8v0.8h-0.8zM79.0 108.2h0.8v0.8h-0.8zM98.1 139.4h0.8v0.8h-0.8zM89.2 154.0h0.8v0.8h-0.8zM107.0 140.0h0.8v0.8h-0.8zM90.9 101.6h0.8v0.8h-0.8zM52.5 125.7h0.8v0.8h-0.8zM105.7 119.2h0.8v0.8h-0.8zM82.6 102.0h0.8v0.8h-0.8zM73.7 152.7h0.8v0.8h-0.8zM83.8 148.2h0.8v0.8h-0.8zM50.5 113.0h0.8v0.8h-0.8zM60.1 148.7h0.8v0.8h-0.8zM55.6 154.3h0.8v0.8h-0.8zM65.2 151.4h0.8v0.8h-0.8zM79.5 119.8h0.8v0.8h-0.8zM105.6 124.5h0.8v0.8h-0.8zM90.0 105.3h0.8v0.8h-0.8zM97.7 157.1h0.8v0.8h-0.8zM56.1 143.8h0.8v0.8h-0.8zM65.3 109.9h0.8v0.8h-0.8zM70.8 139.0h0.8v0.8h-0.8zM104.8 157.9h0.8v0.8h-0.8zM107.1 136.8h0.8v0.8h-0.8zM87.5 110.6h0.8v0.8h-0.8zM91.7 132.8h0.8v0.8h-0.8zM70.5 152.5h0.8v0.8h-0.8zM64.4 109.5h0.8v0.8h-0.8zM58.8 110.0h0.8v0.8h-0.8zM83.7 146.9h0.8v0.8h-0.8zM59.0 130.0h0.8v0.8h-0.8zM82.9 133.3h0.8v0.8h-0.8zM73.6 132.3h0.8v0.8h-0.8zM50.6 104.8h0.8v0.8h-0.8zM74.1 114.9h0.8v0.8h-0.8zM93.4 115.2h0.8v0.8h-0.8zM97.3 115.2h0.8v0.8h-0.8zM55.1 128.6h0.8v0.8h-0.8zM72.1 120.5h0.8v0.8h-0.8zM93.9 114.1h0.8v0.8h-0.8zM88.4 148.8h0.8v0.8h-0.8zM75.9 130.0h0.8v0.8h-0.8zM103.1 135.7h0.8v0.8h-0.8zM60.2 105.4h0.8v0.8h-0.8zM54.4 120.3h0.8v0.8h-0.8zM54.8 138.3h0.8v0.8h-0.8zM74.2 119.0h0.8v0.8h-0.8zM79.3 154.6h0.8v0.8h-0.8zM63.8 110.3h0.8v0.8h-0.8zM67.3 119.9h0.8v0.8h-0.8zM102.3 141.5h0.8v0.8h-0.8zM74.5 110.9h0.8v0.8h-0.8zM52.3 108.4h0.8v0.8h-0.8zM98.7 138.2h0.8v0.8h-0.8zM58.8 136.9h0.8v0.8h-0.8zM53.1 130.2h0.8v0.8h-0.8zM69.1 107.3h0.8v0.8h-0.8zM92.6 142.1h0.8v0.8h-0.8zM79.2 111.0h0.8v0.8h-0.8zM88.4 126.1h0.8v0.8h-0.8zM87.9 106.7h0.8v0.8h-0.8zM101.9 101.7h0.8v0.8h-0.8zM62.6 124.1h0.8v0.8h-0.8zM61.2 106.5h0.8v0.8h-0.8zM89.4 157.9h0.8v0.8h-0.8zM69.1 116.6h0.8v0.8h-0.8zM88.5 114.1h0.8v0.8h-0.8zM72.9 140.5h0.8v0.8h-0.8zM74.6 110.3h0.8v0.8h-0.8zM53.8 132.3h0.8v0.8h-0.8zM107.0 153.7h0.8v0.8h-0.8zM55.5 130.0h0.8v0.8h-0.8zM77.9 112.5h0.8v0.8h-0.8zM88.4 129.6h0.8v0.8h-0.8zM96.4 118.1h0.8v0.8h-0.8zM103.7 147.7h0.8v0.8h-0.8zM77.1 109.5h0.8v0.8h-0.8zM77.7 108.7h0.8v0.8h-0.8zM89.3 141.0h0.8v0.8h-0.8zM83.1 156.9h0.8v0.8h-0.8zM52.3 142.1h0.8v0.8h-0.8zM96.0 107.9h0.8v0.8h-0.8zM68.3 104.5h0.8v0.8h-0.8zM83.4 142.5h0.8v0.8h-0.8zM69.8 140.9h0.8v0.8h-0.8zM70.9 141.9h0.8v0.8h-0.8zM65.7 157.0h0.8v0.8h-0.8zM75.0 101.7h0.8v0.8h-0.8zM55.0 142.7h0.8v0.8h-0.8zM99.7 137.6h0.8v0.8h-0.8z" fill="#000" fill-opacity="0.15"/>
<path d="M61.3 144.6h0.8v0.8h-0.8zM54.4 155.1h0.8v0.8h-0.8zM64.1 148.0h0.8v0.8h-0.8zM68.1 147.9h0.8v0.8h-0.8zM72.3 141.3h0.8v0.8h-0.8zM68.2 141.0h0.8v0.8h-0.8zM71.9 146.1h0.8v0.8h-0.8zM70.6 145.1h0.8v0.8h-0.8zM64.8 156.0h0.8v0.8h-0.8zM55.7 148.7h0.8v0.8h-0.8zM56.1 154.0h0.8v0.8h-0.8zM57.8 145.4h0.8v0.8h-0.8zM60.6 156.2h0.8v0.8h-0.8zM54.7 147.8h0.8v0.8h-0.8zM59.7 144.2h0.8v0.8h-0.8zM56.5 146.9h0.8v0.8h-0.8zM63.4 137.2h0.8v0.8h-0.8zM63.6 139.7h0.8v0.8h-0.8zM55.2 147.5h0.8v0.8h-0.8zM60.2 154.9h0.8v0.8h-0.8zM58.7 135.5h0.8v0.8h-0.8zM50.7 149.2h0.8v0.8h-0.8zM63.8 155.5h0.8v0.8h-0.8zM58.2 152.7h0.8v0.8h-0.8zM54.6 157.1h0.8v0.8h-0.8zM61.5 143.3h0.8v0.8h-0.8zM56.1 139.3h0.8v0.8h-0.8zM54.9 139.9h0.8v0.8h-0.8zM61.6 150.5h0.8v0.8h-0.8zM60.9 149.4h0.8v0.8h-0.8zM70.3 146.0h0.8v0.8h-0.8zM53.2 132.0h0.8v0.8h-0.8zM63.7 143.2h0.8v0.8h-0.8zM60.3 150.9h0.8v0.8h-0.8zM65.2 137.0h0.8v0.8h-0.8zM55.3 148.5h0.8v0.8h-0.8zM61.0 156.0h0.8v0.8h-0.8zM58.5 133.5h0.8v0.8h-0.8zM70.2 136.6h0.8v0.8h-0.8zM55.2 150.7h0.8v0.8h-0.8zM63.7 151.7h0.8v0.8h-0.8zM65.8 143.0h0.8v0.8h-0.8zM70.8 136.2h0.8v0.8h-0.8zM57.9 150.0h0.8v0.8h-0.8zM63.0 141.3h0.8v0.8h-0.8zM73.1 158.3h0.8v0.8h-0.8zM55.5 150.6h0.8v0.8h-0.8zM57.6 145.0h0.8v0.8h-0.8zM68.9 148.9h0.8v0.8h-0.8zM61.2 148.7h0.8v0.8h-0.8zM53.8 156.5h0.8v0.8h-0.8zM56.7 157.2h0.8v0.8h-0.8zM58.8 144.8h0.8v0.8h-0.8zM72.4 149.3h0.8v0.8h-0.8zM57.5 144.3h0.8v0.8h-0.8zM66.3 145.2h0.8v0.8h-0.8zM54.2 143.3h0.8v0.8h-0.8zM61.2 149.7h0.8v0.8h-0.8zM57.4 157.0h0.8v0.8h-0.8zM55.3 143.0h0.8v0.8h-0.8zM65.5 151.4h0.8v0.8h-0.8zM59.3 154.7h0.8v0.8h-0.8zM62.4 157.3h0.8v0.8h-0.8zM60.6 149.4h0.8v0.8h-0.8zM65.7 135.8h0.8v0.8h-0.8zM68.5 150.3h0.8v0.8h-0.8zM63.4 157.7h0.8v0.8h-0.8zM64.3 134.8h0.8v0.8h-0.8zM55.4 145.9h0.8v0.8h-0.8zM63.0 144.9h0.8v0.8h-0.8zM68.6 152.2h0.8v0.8h-0.8zM62.1 148.4h0.8v0.8h-0.8zM64.5 149.7h0.8v0.8h-0.8zM56.9 153.5h0.8v0.8h-0.8zM56.2 147.7h0.8v0.8h-0.8zM59.5 139.9h0.8v0.8h-0.8zM66.2 147.5h0.8v0.8h-0.8zM53.9 147.5h0.8v0.8h-0.8zM52.4 158.0h0.8v0.8h-0.8zM58.0 152.9h0.8v0.8h-0.8zM55.2 142.0h0.8v0.8h-0.8zM61.4 150.9h0.8v0.8h-0.8zM68.5 146.1h0.8v0.8h-0.8zM69.7 154.7h0.8v0.8h-0.8zM55.9 146.8h0.8v0.8h-0.8zM58.2 154.2h0.8v0.8h-0.8zM68.4 146.2h0.8v0.8h-0.8zM58.6 150.4h0.8v0.8h-0.8zM56.6 139.2h0.8v0.8h-0.8zM55.3 150.4h0.8v0.8h-0.8zM49.3 151.5h0.8v0.8h-0.8zM54.0 156.1h0.8v0.8h-0.8zM66.9 148.9h0.8v0.8h-0.8zM72.3 145.4h0.8v0.8h-0.8zM58.3 140.7h0.8v0.8h-0.8zM57.4 148.8h0.8v0.8h-0.8zM66.7 156.9h0.8v0.8h-0.8zM60.1 142.9h0.8v0.8h-0.8zM59.7 145.0h0.8v0.8h-0.8zM58.7 145.2h0.8v0.8h-0.8zM55.9 147.6h0.8v0.8h-0.8zM58.4 146.8h0.8v0.8h-0.8zM52.4 149.0h0.8v0.8h-0.8zM66.0 152.5h0.8v0.8h-0.8zM58.2 140.1h0.8v0.8h-0.8zM53.0 139.8h0.8v0.8h-0.8zM57.5 145.8h0.8v0.8h-0.8zM49.7 152.7h0.8v0.8h-0.8zM51.3 143.2h0.8v0.8h-0.8zM57.0 153.8h0.8v0.8h-0.8zM74.8 145.5h0.8v0.8h-0.8zM60.1 145.3h0.8v0.8h-0.8zM60.6 146.8h0.8v0.8h-0.8zM79.1 140.4h0.8v0.8h-0.8zM61.2 142.5h0.8v0.8h-0.8zM64.5 144.4h0.8v0.8h-0.8zM66.0 140.5h0.8v0.8h-0.8zM76.6 149.5h0.8v0.8h-0.8zM49.7 152.9h0.8v0.8h-0.8zM58.7 140.0h0.8v0.8h-0.8zM65.1 144.4h0.8v0.8h-0.8zM67.1 144.2h0.8v0.8h-0.8zM68.3 149.0h0.8v0.8h-0.8zM64.5 149.1h0.8v0.8h-0.8zM59.5 145.5h0.8v0.8h-0.8zM65.1 152.9h0.8v0.8h-0.8zM73.7 140.1h0.8v0.8h-0.8zM69.5 147.5h0.8v0.8h-0.8zM63.6 142.5h0.8v0.8h-0.8zM73.4 142.3h0.8v0.8h-0.8zM61.4 143.0h0.8v0.8h-0.8zM75.4 156.7h0.8v0.8h-0.8zM52.9 144.9h0.8v0.8h-0.8zM64.5 145.0h0.8v0.8h-0.8zM59.6 140.6h0.8v0.8h-0.8zM63.7 140.5h0.8v0.8h-0.8zM64.6 143.4h0.8v0.8h-0.8zM59.6 141.4h0.8v0.8h-0.8zM62.8 152.8h0.8v0.8h-0.8zM68.4 146.1h0.8v0.8h-0.8zM53.8 147.5h0.8v0.8h-0.8zM73.6 149.9h0.8v0.8h-0.8zM61.6 133.7h0.8v0.8h-0.8zM59.0 151.8h0.8v0.8h-0.8zM55.5 157.3h0.8v0.8h-0.8zM58.1 142.0h0.8v0.8h-0.8zM58.0 147.4h0.8v0.8h-0.8zM68.9 144.1h0.8v0.8h-0.8zM49.7 147.5h0.8v0.8h-0.8zM65.6 158.6h0.8v0.8h-0.8zM54.3 158.2h0.8v0.8h-0.8zM66.7 151.1h0.8v0.8h-0.8zM56.7 142.0h0.8v0.8h-0.8zM55.4 154.4h0.8v0.8h-0.8zM63.5 155.4h0.8v0.8h-0.8zM74.5 148.1h0.8v0.8h-0.8zM53.0 144.9h0.8v0.8h-0.8zM59.5 145.4h0.8v0.8h-0.8zM63.0 142.3h0.8v0.8h-0.8zM70.0 138.7h0.8v0.8h-0.8zM56.4 136.4h0.8v0.8h-0.8zM52.3 152.1h0.8v0.8h-0.8zM66.3 146.7h0.8v0.8h-0.8zM67.8 152.3h0.8v0.8h-0.8zM58.0 147.8h0.8v0.8h-0.8zM59.0 150.6h0.8v0.8h-0.8zM65.8 156.4h0.8v0.8h-0.8zM64.9 155.4h0.8v0.8h-0.8zM54.7 146.2h0.8v0.8h-0.8zM78.1 149.7h0.8v0.8h-0.8zM62.6 149.9h0.8v0.8h-0.8zM63.0 139.0h0.8v0.8h-0.8zM57.2 146.8h0.8v0.8h-0.8zM63.2 142.1h0.8v0.8h-0.8zM61.3 143.0h0.8v0.8h-0.8zM52.9 143.5h0.8v0.8h-0.8zM56.5 153.8h0.8v0.8h-0.8z" fill="#000" fill-opacity="0.18"/>
<ellipse cx="76" cy="108" rx="12" ry="4" fill="#000" fill-opacity="0.15" filter="url(#bl25)" transform="rotate(0,76,108)"/>
<ellipse cx="90" cy="135" rx="6" ry="18" fill="#000" fill-opacity="0.12" filter="url(#bl30)" transform="rotate(0,90,135)"/>
<path d="M86.9 109.8h0.8v0.8h-0.8zM73.1 106.3h0.8v0.8h-0.8zM61.1 106.4h0.8v0.8h-0.8zM88.8 111.6h0.8v0.8h-0.8zM77.0 107.3h0.8v0.8h-0.8zM75.0 109.3h0.8v0.8h-0.8zM74.9 109.4h0.8v0.8h-0.8zM68.2 108.2h0.8v0.8h-0.8zM71.9 111.4h0.8v0.8h-0.8zM64.0 112.1h0.8v0.8h-0.8zM74.2 106.4h0.8v0.8h-0.8zM75.2 108.4h0.8v0.8h-0.8zM72.9 109.3h0.8v0.8h-0.8zM69.9 102.7h0.8v0.8h-0.8zM81.2 107.9h0.8v0.8h-0.8zM89.7 109.2h0.8v0.8h-0.8zM57.3 111.9h0.8v0.8h-0.8zM68.9 109.7h0.8v0.8h-0.8zM94.6 111.4h0.8v0.8h-0.8zM65.3 107.7h0.8v0.8h-0.8zM60.8 110.1h0.8v0.8h-0.8zM80.0 104.8h0.8v0.8h-0.8zM79.0 110.9h0.8v0.8h-0.8zM82.1 105.9h0.8v0.8h-0.8zM68.9 104.5h0.8v0.8h-0.8zM63.6 109.0h0.8v0.8h-0.8zM75.4 112.1h0.8v0.8h-0.8zM77.4 107.0h0.8v0.8h-0.8zM62.4 112.8h0.8v0.8h-0.8zM76.5 107.9h0.8v0.8h-0.8zM66.1 104.8h0.8v0.8h-0.8zM80.6 105.0h0.8v0.8h-0.8zM80.2 110.0h0.8v0.8h-0.8zM71.6 103.0h0.8v0.8h-0.8zM78.6 112.4h0.8v0.8h-0.8zM67.7 104.1h0.8v0.8h-0.8zM84.6 108.5h0.8v0.8h-0.8zM69.5 111.8h0.8v0.8h-0.8zM72.6 109.4h0.8v0.8h-0.8zM71.4 105.7h0.8v0.8h-0.8zM76.9 105.4h0.8v0.8h-0.8zM59.3 106.3h0.8v0.8h-0.8zM85.9 111.4h0.8v0.8h-0.8zM94.2 111.1h0.8v0.8h-0.8zM89.3 108.8h0.8v0.8h-0.8zM71.2 109.5h0.8v0.8h-0.8zM66.6 110.3h0.8v0.8h-0.8zM71.0 108.8h0.8v0.8h-0.8zM67.5 107.6h0.8v0.8h-0.8zM83.7 107.4h0.8v0.8h-0.8zM69.1 108.9h0.8v0.8h-0.8zM82.8 107.5h0.8v0.8h-0.8zM64.7 103.2h0.8v0.8h-0.8zM63.2 111.3h0.8v0.8h-0.8zM74.2 109.5h0.8v0.8h-0.8zM84.5 108.9h0.8v0.8h-0.8zM79.3 106.5h0.8v0.8h-0.8zM60.8 110.0h0.8v0.8h-0.8zM74.2 109.8h0.8v0.8h-0.8zM65.6 107.6h0.8v0.8h-0.8zM92.8 105.4h0.8v0.8h-0.8zM75.9 112.1h0.8v0.8h-0.8zM73.0 108.4h0.8v0.8h-0.8zM56.2 110.4h0.8v0.8h-0.8zM71.1 112.0h0.8v0.8h-0.8zM74.2 106.9h0.8v0.8h-0.8zM78.8 107.3h0.8v0.8h-0.8zM70.5 112.8h0.8v0.8h-0.8zM83.7 108.4h0.8v0.8h-0.8zM82.1 110.6h0.8v0.8h-0.8zM80.1 108.2h0.8v0.8h-0.8zM75.6 109.3h0.8v0.8h-0.8zM80.0 109.1h0.8v0.8h-0.8zM70.1 107.8h0.8v0.8h-0.8zM79.0 105.0h0.8v0.8h-0.8zM74.9 110.4h0.8v0.8h-0.8zM76.5 107.2h0.8v0.8h-0.8zM74.8 106.6h0.8v0.8h-0.8zM83.7 106.9h0.8v0.8h-0.8zM60.3 104.3h0.8v0.8h-0.8zM77.6 108.7h0.8v0.8h-0.8zM70.8 104.0h0.8v0.8h-0.8zM73.7 105.5h0.8v0.8h-0.8zM69.2 108.0h0.8v0.8h-0.8zM68.2 109.0h0.8v0.8h-0.8zM68.5 106.6h0.8v0.8h-0.8zM73.0 112.5h0.8v0.8h-0.8zM88.9 110.9h0.8v0.8h-0.8zM68.5 108.1h0.8v0.8h-0.8zM83.1 110.5h0.8v0.8h-0.8zM60.7 107.9h0.8v0.8h-0.8zM68.5 110.3h0.8v0.8h-0.8zM80.6 106.4h0.8v0.8h-0.8zM93.9 107.2h0.8v0.8h-0.8zM96.5 107.5h0.8v0.8h-0.8zM74.3 113.9h0.8v0.8h-0.8zM70.4 106.6h0.8v0.8h-0.8zM88.0 107.9h0.8v0.8h-0.8zM79.2 104.2h0.8v0.8h-0.8zM90.8 111.1h0.8v0.8h-0.8zM78.1 110.2h0.8v0.8h-0.8zM70.6 106.6h0.8v0.8h-0.8zM61.2 109.2h0.8v0.8h-0.8zM85.9 110.7h0.8v0.8h-0.8zM83.1 110.2h0.8v0.8h-0.8zM66.9 104.1h0.8v0.8h-0.8zM80.6 108.6h0.8v0.8h-0.8zM83.7 107.2h0.8v0.8h-0.8zM67.2 109.4h0.8v0.8h-0.8zM70.1 103.0h0.8v0.8h-0.8zM69.6 105.4h0.8v0.8h-0.8zM65.2 106.4h0.8v0.8h-0.8zM83.4 115.2h0.8v0.8h-0.8zM90.2 106.8h0.8v0.8h-0.8zM85.1 107.8h0.8v0.8h-0.8zM78.5 106.0h0.8v0.8h-0.8zM74.3 102.9h0.8v0.8h-0.8zM90.8 105.7h0.8v0.8h-0.8zM80.2 106.3h0.8v0.8h-0.8zM77.4 104.5h0.8v0.8h-0.8zM71.7 110.8h0.8v0.8h-0.8zM80.2 102.1h0.8v0.8h-0.8zM82.5 104.1h0.8v0.8h-0.8zM77.5 109.6h0.8v0.8h-0.8zM69.3 107.1h0.8v0.8h-0.8zM72.8 109.3h0.8v0.8h-0.8zM83.1 112.2h0.8v0.8h-0.8zM77.9 114.1h0.8v0.8h-0.8zM66.7 113.5h0.8v0.8h-0.8zM72.7 110.4h0.8v0.8h-0.8zM73.9 108.3h0.8v0.8h-0.8zM66.9 109.2h0.8v0.8h-0.8zM92.8 108.5h0.8v0.8h-0.8zM74.8 108.1h0.8v0.8h-0.8zM81.3 107.4h0.8v0.8h-0.8zM75.0 108.7h0.8v0.8h-0.8zM86.5 110.9h0.8v0.8h-0.8zM65.7 106.1h0.8v0.8h-0.8zM75.2 110.6h0.8v0.8h-0.8zM83.5 107.4h0.8v0.8h-0.8zM93.7 107.6h0.8v0.8h-0.8zM87.4 112.4h0.8v0.8h-0.8zM89.1 108.7h0.8v0.8h-0.8zM80.1 103.4h0.8v0.8h-0.8zM59.3 106.2h0.8v0.8h-0.8zM81.3 111.3h0.8v0.8h-0.8zM74.1 111.2h0.8v0.8h-0.8zM80.1 112.7h0.8v0.8h-0.8zM61.0 105.5h0.8v0.8h-0.8zM66.6 104.9h0.8v0.8h-0.8zM89.5 105.2h0.8v0.8h-0.8zM67.7 106.8h0.8v0.8h-0.8zM82.8 106.7h0.8v0.8h-0.8zM81.5 109.7h0.8v0.8h-0.8zM66.9 104.3h0.8v0.8h-0.8zM89.4 105.9h0.8v0.8h-0.8zM65.6 109.2h0.8v0.8h-0.8zM75.5 105.2h0.8v0.8h-0.8zM84.7 110.8h0.8v0.8h-0.8zM77.5 105.7h0.8v0.8h-0.8zM67.3 101.8h0.8v0.8h-0.8zM78.4 109.2h0.8v0.8h-0.8zM66.9 108.1h0.8v0.8h-0.8zM103.9 104.6h0.8v0.8h-0.8zM59.9 109.9h0.8v0.8h-0.8zM71.2 106.5h0.8v0.8h-0.8zM80.5 107.7h0.8v0.8h-0.8zM83.8 109.6h0.8v0.8h-0.8zM85.2 108.4h0.8v0.8h-0.8zM56.0 112.2h0.8v0.8h-0.8zM60.0 111.2h0.8v0.8h-0.8zM77.2 103.8h0.8v0.8h-0.8zM75.6 110.7h0.8v0.8h-0.8zM66.0 108.2h0.8v0.8h-0.8zM68.5 105.0h0.8v0.8h-0.8zM69.6 111.9h0.8v0.8h-0.8zM81.1 108.0h0.8v0.8h-0.8zM74.3 108.4h0.8v0.8h-0.8zM77.5 108.6h0.8v0.8h-0.8zM59.8 110.8h0.8v0.8h-0.8zM81.2 104.4h0.8v0.8h-0.8zM73.7 107.8h0.8v0.8h-0.8zM69.8 109.7h0.8v0.8h-0.8zM72.6 107.2h0.8v0.8h-0.8zM66.6 107.2h0.8v0.8h-0.8zM65.8 108.2h0.8v0.8h-0.8zM86.7 111.1h0.8v0.8h-0.8zM78.8 103.9h0.8v0.8h-0.8zM84.1 110.9h0.8v0.8h-0.8zM93.2 101.2h0.8v0.8h-0.8zM75.1 107.0h0.8v0.8h-0.8zM84.6 104.7h0.8v0.8h-0.8zM71.6 115.1h0.8v0.8h-0.8zM83.8 102.0h0.8v0.8h-0.8zM75.2 112.2h0.8v0.8h-0.8zM69.5 109.8h0.8v0.8h-0.8zM75.9 103.6h0.8v0.8h-0.8zM69.5 111.5h0.8v0.8h-0.8zM85.5 106.2h0.8v0.8h-0.8zM85.0 105.9h0.8v0.8h-0.8zM77.2 108.0h0.8v0.8h-0.8zM63.9 109.0h0.8v0.8h-0.8zM67.7 105.4h0.8v0.8h-0.8zM67.6 105.0h0.8v0.8h-0.8zM82.9 108.2h0.8v0.8h-0.8zM77.3 107.2h0.8v0.8h-0.8zM75.6 107.2h0.8v0.8h-0.8zM65.4 103.4h0.8v0.8h-0.8zM75.7 111.1h0.8v0.8h-0.8zM77.1 112.9h0.8v0.8h-0.8zM62.9 107.2h0.8v0.8h-0.8zM69.5 111.8h0.8v0.8h-0.8zM90.0 106.4h0.8v0.8h-0.8zM81.5 107.3h0.8v0.8h-0.8zM66.2 107.7h0.8v0.8h-0.8zM65.8 112.8h0.8v0.8h-0.8zM80.2 111.6h0.8v0.8h-0.8zM82.1 108.3h0.8v0.8h-0.8zM53.9 108.3h0.8v0.8h-0.8zM84.0 113.2h0.8v0.8h-0.8zM65.9 110.4h0.8v0.8h-0.8zM77.9 107.5h0.8v0.8h-0.8zM72.5 109.6h0.8v0.8h-0.8zM80.1 110.0h0.8v0.8h-0.8zM71.4 104.0h0.8v0.8h-0.8zM86.7 112.0h0.8v0.8h-0.8zM70.0 107.9h0.8v0.8h-0.8zM82.1 102.6h0.8v0.8h-0.8zM79.4 115.4h0.8v0.8h-0.8zM77.4 105.9h0.8v0.8h-0.8zM93.1 108.0h0.8v0.8h-0.8zM76.9 106.7h0.8v0.8h-0.8zM76.6 102.5h0.8v0.8h-0.8zM63.6 103.5h0.8v0.8h-0.8zM83.0 107.7h0.8v0.8h-0.8zM85.2 101.8h0.8v0.8h-0.8zM69.7 112.5h0.8v0.8h-0.8zM68.0 102.3h0.8v0.8h-0.8zM68.4 107.0h0.8v0.8h-0.8zM74.9 112.0h0.8v0.8h-0.8zM86.8 112.8h0.8v0.8h-0.8zM80.1 106.5h0.8v0.8h-0.8zM70.6 103.5h0.8v0.8h-0.8zM86.3 111.8h0.8v0.8h-0.8zM75.8 105.3h0.8v0.8h-0.8zM81.0 109.5h0.8v0.8h-0.8zM76.4 104.4h0.8v0.8h-0.8zM77.1 106.3h0.8v0.8h-0.8zM81.5 109.8h0.8v0.8h-0.8zM78.9 106.7h0.8v0.8h-0.8zM88.5 110.4h0.8v0.8h-0.8zM86.2 110.6h0.8v0.8h-0.8zM80.9 109.2h0.8v0.8h-0.8zM65.5 102.4h0.8v0.8h-0.8zM66.7 109.9h0.8v0.8h-0.8zM83.1 108.6h0.8v0.8h-0.8zM75.8 113.6h0.8v0.8h-0.8zM71.5 102.5h0.8v0.8h-0.8zM61.3 107.0h0.8v0.8h-0.8zM81.2 110.3h0.8v0.8h-0.8zM73.0 110.5h0.8v0.8h-0.8zM74.6 105.8h0.8v0.8h-0.8zM71.7 110.3h0.8v0.8h-0.8zM83.4 104.6h0.8v0.8h-0.8zM66.3 108.4h0.8v0.8h-0.8zM93.8 104.4h0.8v0.8h-0.8zM63.9 109.3h0.8v0.8h-0.8zM79.5 106.1h0.8v0.8h-0.8zM74.8 109.5h0.8v0.8h-0.8zM59.6 107.9h0.8v0.8h-0.8zM80.3 110.8h0.8v0.8h-0.8zM85.3 107.8h0.8v0.8h-0.8zM62.3 112.1h0.8v0.8h-0.8zM81.8 106.1h0.8v0.8h-0.8zM84.1 111.2h0.8v0.8h-0.8zM70.9 105.7h0.8v0.8h-0.8zM67.6 107.8h0.8v0.8h-0.8zM65.5 109.2h0.8v0.8h-0.8zM91.7 104.4h0.8v0.8h-0.8zM84.2 106.4h0.8v0.8h-0.8zM79.8 107.6h0.8v0.8h-0.8zM86.3 105.8h0.8v0.8h-0.8zM81.5 105.6h0.8v0.8h-0.8zM77.0 108.0h0.8v0.8h-0.8zM84.6 103.2h0.8v0.8h-0.8zM63.1 112.3h0.8v0.8h-0.8zM78.4 113.2h0.8v0.8h-0.8zM65.9 108.6h0.8v0.8h-0.8zM80.3 113.4h0.8v0.8h-0.8zM74.5 106.6h0.8v0.8h-0.8zM81.3 107.7h0.8v0.8h-0.8zM68.4 110.3h0.8v0.8h-0.8zM58.2 104.9h0.8v0.8h-0.8zM87.0 106.5h0.8v0.8h-0.8zM72.2 109.1h0.8v0.8h-0.8zM84.9 109.6h0.8v0.8h-0.8zM66.5 106.3h0.8v0.8h-0.8zM84.2 107.6h0.8v0.8h-0.8zM69.4 110.7h0.8v0.8h-0.8zM85.1 114.7h0.8v0.8h-0.8zM65.5 105.8h0.8v0.8h-0.8zM68.9 109.1h0.8v0.8h-0.8zM70.8 111.4h0.8v0.8h-0.8zM51.4 111.0h0.8v0.8h-0.8zM69.3 107.2h0.8v0.8h-0.8zM80.0 108.6h0.8v0.8h-0.8zM66.1 112.6h0.8v0.8h-0.8zM80.1 106.5h0.8v0.8h-0.8zM76.8 104.6h0.8v0.8h-0.8zM64.2 107.1h0.8v0.8h-0.8zM78.2 108.3h0.8v0.8h-0.8zM68.2 103.8h0.8v0.8h-0.8zM60.3 112.9h0.8v0.8h-0.8zM78.2 105.5h0.8v0.8h-0.8zM85.4 109.7h0.8v0.8h-0.8zM71.4 106.1h0.8v0.8h-0.8zM85.0 109.0h0.8v0.8h-0.8zM89.4 109.1h0.8v0.8h-0.8zM69.9 106.2h0.8v0.8h-0.8zM68.8 108.8h0.8v0.8h-0.8zM77.2 109.9h0.8v0.8h-0.8zM79.0 104.8h0.8v0.8h-0.8zM73.2 105.1h0.8v0.8h-0.8zM79.2 104.0h0.8v0.8h-0.8zM69.9 105.4h0.8v0.8h-0.8zM69.6 107.2h0.8v0.8h-0.8zM88.3 107.2h0.8v0.8h-0.8zM62.4 107.1h0.8v0.8h-0.8zM81.6 109.7h0.8v0.8h-0.8zM77.1 114.1h0.8v0.8h-0.8zM84.7 108.3h0.8v0.8h-0.8zM85.7 103.9h0.8v0.8h-0.8zM73.5 105.3h0.8v0.8h-0.8zM76.6 113.0h0.8v0.8h-0.8zM70.7 112.9h0.8v0.8h-0.8zM66.1 112.4h0.8v0.8h-0.8zM60.2 105.4h0.8v0.8h-0.8zM83.7 107.7h0.8v0.8h-0.8zM76.3 108.0h0.8v0.8h-0.8zM76.6 107.5h0.8v0.8h-0.8zM66.4 107.1h0.8v0.8h-0.8zM76.0 105.2h0.8v0.8h-0.8zM79.1 113.4h0.8v0.8h-0.8zM60.6 106.3h0.8v0.8h-0.8zM72.5 108.1h0.8v0.8h-0.8zM75.8 105.8h0.8v0.8h-0.8zM74.7 108.0h0.8v0.8h-0.8zM74.2 112.7h0.8v0.8h-0.8zM76.1 103.5h0.8v0.8h-0.8zM61.3 109.8h0.8v0.8h-0.8zM72.0 106.1h0.8v0.8h-0.8zM63.1 107.1h0.8v0.8h-0.8zM74.2 105.9h0.8v0.8h-0.8zM71.9 110.7h0.8v0.8h-0.8zM81.9 109.7h0.8v0.8h-0.8zM73.5 103.8h0.8v0.8h-0.8zM81.8 112.6h0.8v0.8h-0.8zM86.2 111.6h0.8v0.8h-0.8zM77.4 109.2h0.8v0.8h-0.8zM74.9 111.8h0.8v0.8h-0.8zM72.7 114.6h0.8v0.8h-0.8zM81.8 107.0h0.8v0.8h-0.8zM75.0 103.1h0.8v0.8h-0.8zM68.6 107.1h0.8v0.8h-0.8zM96.4 105.5h0.8v0.8h-0.8zM83.0 108.2h0.8v0.8h-0.8zM72.4 109.9h0.8v0.8h-0.8zM57.6 110.9h0.8v0.8h-0.8zM91.9 108.9h0.8v0.8h-0.8zM74.5 108.5h0.8v0.8h-0.8zM80.8 106.5h0.8v0.8h-0.8zM76.1 109.5h0.8v0.8h-0.8zM71.9 109.2h0.8v0.8h-0.8zM77.9 110.2h0.8v0.8h-0.8zM66.4 106.4h0.8v0.8h-0.8zM71.3 111.7h0.8v0.8h-0.8zM77.2 102.9h0.8v0.8h-0.8zM63.8 114.0h0.8v0.8h-0.8zM78.0 104.0h0.8v0.8h-0.8zM67.0 108.4h0.8v0.8h-0.8zM87.5 113.0h0.8v0.8h-0.8zM71.8 107.1h0.8v0.8h-0.8zM91.8 105.0h0.8v0.8h-0.8zM88.7 109.0h0.8v0.8h-0.8zM75.8 112.0h0.8v0.8h-0.8zM79.2 105.4h0.8v0.8h-0.8zM61.7 108.0h0.8v0.8h-0.8zM79.5 112.2h0.8v0.8h-0.8zM52.2 112.1h0.8v0.8h-0.8zM80.4 112.7h0.8v0.8h-0.8zM82.0 108.7h0.8v0.8h-0.8zM78.8 109.2h0.8v0.8h-0.8zM69.5 107.7h0.8v0.8h-0.8zM76.1 106.6h0.8v0.8h-0.8zM62.2 103.6h0.8v0.8h-0.8zM79.4 109.6h0.8v0.8h-0.8zM75.9 104.4h0.8v0.8h-0.8zM82.4 106.8h0.8v0.8h-0.8zM56.9 112.8h0.8v0.8h-0.8zM62.0 114.9h0.8v0.8h-0.8zM79.7 106.6h0.8v0.8h-0.8zM54.5 105.8h0.8v0.8h-0.8zM87.9 112.2h0.8v0.8h-0.8zM77.3 102.7h0.8v0.8h-0.8zM71.7 107.1h0.8v0.8h-0.8zM79.0 107.6h0.8v0.8h-0.8zM78.0 103.0h0.8v0.8h-0.8zM69.4 112.4h0.8v0.8h-0.8zM62.3 110.8h0.8v0.8h-0.8zM95.2 110.0h0.8v0.8h-0.8zM62.9 111.8h0.8v0.8h-0.8zM58.8 109.0h0.8v0.8h-0.8zM71.4 111.8h0.8v0.8h-0.8zM85.3 108.6h0.8v0.8h-0.8zM90.7 111.0h0.8v0.8h-0.8zM70.8 105.0h0.8v0.8h-0.8zM96.5 106.8h0.8v0.8h-0.8zM78.6 107.6h0.8v0.8h-0.8zM70.9 103.1h0.8v0.8h-0.8zM73.7 107.6h0.8v0.8h-0.8zM83.6 106.4h0.8v0.8h-0.8zM61.3 104.7h0.8v0.8h-0.8zM74.7 108.8h0.8v0.8h-0.8zM81.3 106.8h0.8v0.8h-0.8zM79.7 108.4h0.8v0.8h-0.8zM89.8 107.8h0.8v0.8h-0.8zM76.3 109.7h0.8v0.8h-0.8zM85.7 105.2h0.8v0.8h-0.8zM70.9 107.2h0.8v0.8h-0.8zM56.4 112.0h0.8v0.8h-0.8zM84.4 108.1h0.8v0.8h-0.8zM104.4 111.9h0.8v0.8h-0.8zM92.7 112.8h0.8v0.8h-0.8zM82.9 103.6h0.8v0.8h-0.8zM88.4 109.3h0.8v0.8h-0.8zM64.5 108.2h0.8v0.8h-0.8zM81.6 111.0h0.8v0.8h-0.8zM76.5 106.4h0.8v0.8h-0.8zM81.7 105.7h0.8v0.8h-0.8zM74.3 110.4h0.8v0.8h-0.8zM62.4 109.2h0.8v0.8h-0.8zM57.9 105.1h0.8v0.8h-0.8zM64.2 107.7h0.8v0.8h-0.8zM81.3 107.8h0.8v0.8h-0.8zM83.0 108.3h0.8v0.8h-0.8zM73.2 109.5h0.8v0.8h-0.8zM72.9 108.4h0.8v0.8h-0.8zM84.1 106.2h0.8v0.8h-0.8zM85.1 104.6h0.8v0.8h-0.8zM73.1 102.6h0.8v0.8h-0.8zM70.4 112.9h0.8v0.8h-0.8zM78.1 111.9h0.8v0.8h-0.8zM62.2 104.9h0.8v0.8h-0.8zM79.1 110.6h0.8v0.8h-0.8zM82.3 102.8h0.8v0.8h-0.8zM79.5 107.8h0.8v0.8h-0.8zM76.1 109.5h0.8v0.8h-0.8zM72.6 102.8h0.8v0.8h-0.8zM65.7 103.5h0.8v0.8h-0.8zM63.5 107.6h0.8v0.8h-0.8zM86.4 105.8h0.8v0.8h-0.8zM68.3 104.5h0.8v0.8h-0.8zM59.9 108.2h0.8v0.8h-0.8zM70.8 107.3h0.8v0.8h-0.8zM66.6 109.5h0.8v0.8h-0.8zM64.5 109.7h0.8v0.8h-0.8zM69.2 110.4h0.8v0.8h-0.8zM67.2 109.4h0.8v0.8h-0.8zM78.9 107.8h0.8v0.8h-0.8zM89.3 108.5h0.8v0.8h-0.8zM67.2 110.1h0.8v0.8h-0.8zM67.8 106.3h0.8v0.8h-0.8zM75.1 108.6h0.8v0.8h-0.8zM89.9 102.6h0.8v0.8h-0.8zM72.7 111.5h0.8v0.8h-0.8zM73.6 109.0h0.8v0.8h-0.8zM88.4 104.2h0.8v0.8h-0.8zM75.4 110.5h0.8v0.8h-0.8zM69.9 102.6h0.8v0.8h-0.8zM66.3 108.6h0.8v0.8h-0.8zM76.7 113.7h0.8v0.8h-0.8zM86.6 103.2h0.8v0.8h-0.8zM84.1 110.8h0.8v0.8h-0.8zM89.2 107.5h0.8v0.8h-0.8zM70.1 108.5h0.8v0.8h-0.8zM88.6 109.9h0.8v0.8h-0.8zM89.9 110.4h0.8v0.8h-0.8zM69.8 104.9h0.8v0.8h-0.8zM91.2 103.3h0.8v0.8h-0.8zM71.9 107.0h0.8v0.8h-0.8zM67.0 106.2h0.8v0.8h-0.8zM75.1 115.4h0.8v0.8h-0.8zM74.4 106.4h0.8v0.8h-0.8zM76.1 110.9h0.8v0.8h-0.8zM67.8 106.7h0.8v0.8h-0.8zM59.7 110.2h0.8v0.8h-0.8zM81.0 112.6h0.8v0.8h-0.8zM64.5 114.7h0.8v0.8h-0.8zM82.7 107.1h0.8v0.8h-0.8zM71.6 107.0h0.8v0.8h-0.8zM64.4 110.4h0.8v0.8h-0.8zM69.7 105.8h0.8v0.8h-0.8zM79.5 108.3h0.8v0.8h-0.8zM69.9 107.3h0.8v0.8h-0.8zM70.7 112.2h0.8v0.8h-0.8zM83.8 105.8h0.8v0.8h-0.8zM74.6 112.2h0.8v0.8h-0.8zM72.5 113.5h0.8v0.8h-0.8zM78.9 110.1h0.8v0.8h-0.8zM56.8 110.6h0.8v0.8h-0.8zM78.0 109.8h0.8v0.8h-0.8zM79.2 109.6h0.8v0.8h-0.8zM70.5 110.8h0.8v0.8h-0.8zM75.6 104.8h0.8v0.8h-0.8zM66.1 108.5h0.8v0.8h-0.8zM77.9 101.2h0.8v0.8h-0.8zM56.9 111.3h0.8v0.8h-0.8zM74.9 116.8h0.8v0.8h-0.8zM61.5 107.2h0.8v0.8h-0.8zM69.7 109.7h0.8v0.8h-0.8zM87.4 113.0h0.8v0.8h-0.8zM66.1 111.8h0.8v0.8h-0.8zM64.3 109.0h0.8v0.8h-0.8zM76.5 109.9h0.8v0.8h-0.8zM68.0 112.1h0.8v0.8h-0.8zM74.4 107.9h0.8v0.8h-0.8zM72.7 104.7h0.8v0.8h-0.8zM81.3 109.0h0.8v0.8h-0.8zM79.0 113.8h0.8v0.8h-0.8zM67.4 107.1h0.8v0.8h-0.8zM75.1 110.7h0.8v0.8h-0.8zM73.4 110.9h0.8v0.8h-0.8zM79.0 102.5h0.8v0.8h-0.8zM69.0 101.7h0.8v0.8h-0.8zM72.5 106.7h0.8v0.8h-0.8zM80.2 108.5h0.8v0.8h-0.8zM74.4 111.9h0.8v0.8h-0.8zM80.2 104.2h0.8v0.8h-0.8zM68.9 109.0h0.8v0.8h-0.8zM90.0 107.4h0.8v0.8h-0.8zM73.5 108.8h0.8v0.8h-0.8zM81.9 107.7h0.8v0.8h-0.8zM77.6 106.7h0.8v0.8h-0.8zM70.2 105.5h0.8v0.8h-0.8z" fill="#000" fill-opacity="0.33"/>
<path d="M90.7 151.5h0.8v0.8h-0.8zM90.4 129.9h0.8v0.8h-0.8zM92.2 118.7h0.8v0.8h-0.8zM63.8 105.9h0.8v0.8h-0.8zM67.2 114.2h0.8v0.8h-0.8zM83.4 116.4h0.8v0.8h-0.8zM89.2 133.8h0.8v0.8h-0.8zM93.4 150.3h0.8v0.8h-0.8zM75.1 110.6h0.8v0.8h-0.8zM90.0 118.2h0.8v0.8h-0.8zM97.7 123.7h0.8v0.8h-0.8zM64.2 110.4h0.8v0.8h-0.8zM92.4 128.1h0.8v0.8h-0.8zM86.6 107.8h0.8v0.8h-0.8zM68.2 102.3h0.8v0.8h-0.8zM92.3 123.1h0.8v0.8h-0.8zM85.8 116.1h0.8v0.8h-0.8zM91.4 120.6h0.8v0.8h-0.8zM87.1 125.6h0.8v0.8h-0.8zM94.8 145.6h0.8v0.8h-0.8zM97.5 145.2h0.8v0.8h-0.8zM84.2 139.6h0.8v0.8h-0.8zM94.0 130.6h0.8v0.8h-0.8zM73.1 106.5h0.8v0.8h-0.8zM86.8 117.3h0.8v0.8h-0.8zM93.9 129.9h0.8v0.8h-0.8zM90.3 151.2h0.8v0.8h-0.8zM90.1 137.1h0.8v0.8h-0.8zM89.9 121.8h0.8v0.8h-0.8zM91.3 117.5h0.8v0.8h-0.8zM77.1 113.6h0.8v0.8h-0.8zM87.3 154.4h0.8v0.8h-0.8zM93.2 112.1h0.8v0.8h-0.8zM89.1 129.9h0.8v0.8h-0.8zM92.4 145.8h0.8v0.8h-0.8zM73.3 119.5h0.8v0.8h-0.8zM68.5 103.6h0.8v0.8h-0.8zM87.0 126.1h0.8v0.8h-0.8zM99.5 132.6h0.8v0.8h-0.8zM74.9 114.2h0.8v0.8h-0.8zM94.2 126.7h0.8v0.8h-0.8zM91.8 152.6h0.8v0.8h-0.8zM80.1 108.5h0.8v0.8h-0.8zM91.2 123.2h0.8v0.8h-0.8zM96.7 121.3h0.8v0.8h-0.8zM84.8 117.9h0.8v0.8h-0.8zM92.4 148.0h0.8v0.8h-0.8zM82.7 108.6h0.8v0.8h-0.8zM85.7 150.2h0.8v0.8h-0.8zM86.5 137.6h0.8v0.8h-0.8zM80.7 141.9h0.8v0.8h-0.8zM69.9 104.0h0.8v0.8h-0.8zM91.7 121.0h0.8v0.8h-0.8zM83.2 107.1h0.8v0.8h-0.8zM93.1 116.1h0.8v0.8h-0.8zM68.2 109.8h0.8v0.8h-0.8zM90.1 131.2h0.8v0.8h-0.8zM97.9 124.7h0.8v0.8h-0.8zM87.1 144.5h0.8v0.8h-0.8zM80.3 111.3h0.8v0.8h-0.8zM97.7 153.5h0.8v0.8h-0.8zM93.4 146.3h0.8v0.8h-0.8zM88.6 118.4h0.8v0.8h-0.8zM96.5 146.7h0.8v0.8h-0.8zM78.8 111.7h0.8v0.8h-0.8zM86.6 114.1h0.8v0.8h-0.8zM80.5 108.5h0.8v0.8h-0.8zM89.8 136.7h0.8v0.8h-0.8zM90.7 131.4h0.8v0.8h-0.8zM89.6 122.5h0.8v0.8h-0.8zM87.8 119.6h0.8v0.8h-0.8zM97.5 141.8h0.8v0.8h-0.8zM88.8 144.9h0.8v0.8h-0.8zM75.3 109.5h0.8v0.8h-0.8zM83.9 114.2h0.8v0.8h-0.8zM86.4 154.5h0.8v0.8h-0.8zM83.7 117.1h0.8v0.8h-0.8zM84.3 150.4h0.8v0.8h-0.8zM61.4 106.9h0.8v0.8h-0.8zM92.9 155.1h0.8v0.8h-0.8zM92.2 116.3h0.8v0.8h-0.8zM91.1 155.1h0.8v0.8h-0.8zM77.4 111.2h0.8v0.8h-0.8zM93.5 151.1h0.8v0.8h-0.8zM95.9 145.5h0.8v0.8h-0.8zM91.0 157.4h0.8v0.8h-0.8zM92.3 135.7h0.8v0.8h-0.8zM99.9 139.1h0.8v0.8h-0.8zM67.4 105.1h0.8v0.8h-0.8zM86.7 116.8h0.8v0.8h-0.8zM84.1 145.5h0.8v0.8h-0.8zM95.8 152.6h0.8v0.8h-0.8zM69.7 110.9h0.8v0.8h-0.8zM87.7 131.7h0.8v0.8h-0.8zM81.0 114.8h0.8v0.8h-0.8zM77.7 109.7h0.8v0.8h-0.8zM88.9 125.0h0.8v0.8h-0.8zM88.6 152.8h0.8v0.8h-0.8zM85.1 115.5h0.8v0.8h-0.8zM69.9 111.8h0.8v0.8h-0.8zM72.4 117.4h0.8v0.8h-0.8zM93.3 145.9h0.8v0.8h-0.8zM64.5 102.3h0.8v0.8h-0.8zM91.0 116.5h0.8v0.8h-0.8zM69.4 104.6h0.8v0.8h-0.8zM83.7 113.6h0.8v0.8h-0.8zM71.9 113.9h0.8v0.8h-0.8zM92.3 125.8h0.8v0.8h-0.8zM88.3 143.8h0.8v0.8h-0.8zM81.0 113.9h0.8v0.8h-0.8zM91.4 119.6h0.8v0.8h-0.8zM89.6 136.4h0.8v0.8h-0.8zM66.9 104.9h0.8v0.8h-0.8zM83.5 123.0h0.8v0.8h-0.8zM89.5 132.1h0.8v0.8h-0.8zM81.1 118.5h0.8v0.8h-0.8zM87.4 155.3h0.8v0.8h-0.8zM73.9 105.6h0.8v0.8h-0.8zM92.1 115.4h0.8v0.8h-0.8zM93.8 131.5h0.8v0.8h-0.8zM87.0 115.1h0.8v0.8h-0.8zM76.3 114.7h0.8v0.8h-0.8zM97.7 129.5h0.8v0.8h-0.8zM65.2 108.5h0.8v0.8h-0.8zM94.5 120.1h0.8v0.8h-0.8zM94.4 140.5h0.8v0.8h-0.8zM92.9 117.0h0.8v0.8h-0.8zM88.7 130.7h0.8v0.8h-0.8zM94.8 142.3h0.8v0.8h-0.8zM87.9 110.8h0.8v0.8h-0.8zM64.6 114.1h0.8v0.8h-0.8zM97.3 148.9h0.8v0.8h-0.8zM83.4 116.4h0.8v0.8h-0.8zM99.0 119.1h0.8v0.8h-0.8zM90.6 144.9h0.8v0.8h-0.8zM81.2 111.5h0.8v0.8h-0.8zM89.3 132.4h0.8v0.8h-0.8zM85.9 109.5h0.8v0.8h-0.8zM63.2 111.6h0.8v0.8h-0.8zM77.7 107.6h0.8v0.8h-0.8zM95.9 144.7h0.8v0.8h-0.8zM70.2 101.6h0.8v0.8h-0.8zM92.1 140.8h0.8v0.8h-0.8zM71.8 112.7h0.8v0.8h-0.8zM88.3 145.2h0.8v0.8h-0.8zM94.1 150.0h0.8v0.8h-0.8zM68.6 107.5h0.8v0.8h-0.8zM93.4 136.3h0.8v0.8h-0.8zM92.5 146.4h0.8v0.8h-0.8zM97.3 158.1h0.8v0.8h-0.8zM77.1 114.3h0.8v0.8h-0.8zM95.3 157.9h0.8v0.8h-0.8zM77.5 109.5h0.8v0.8h-0.8zM84.5 136.1h0.8v0.8h-0.8zM78.9 118.5h0.8v0.8h-0.8zM94.6 134.7h0.8v0.8h-0.8zM90.9 141.2h0.8v0.8h-0.8zM87.2 117.1h0.8v0.8h-0.8zM69.6 111.2h0.8v0.8h-0.8zM65.8 101.8h0.8v0.8h-0.8zM93.8 137.9h0.8v0.8h-0.8zM89.2 143.2h0.8v0.8h-0.8zM88.8 130.0h0.8v0.8h-0.8zM77.8 105.3h0.8v0.8h-0.8zM92.8 155.5h0.8v0.8h-0.8zM94.0 125.6h0.8v0.8h-0.8zM81.7 127.4h0.8v0.8h-0.8zM88.0 124.4h0.8v0.8h-0.8zM91.4 142.7h0.8v0.8h-0.8zM91.6 153.5h0.8v0.8h-0.8zM72.5 115.6h0.8v0.8h-0.8zM77.6 110.2h0.8v0.8h-0.8zM64.2 112.3h0.8v0.8h-0.8zM80.9 110.6h0.8v0.8h-0.8zM78.1 115.0h0.8v0.8h-0.8zM85.8 116.6h0.8v0.8h-0.8zM91.0 141.1h0.8v0.8h-0.8zM65.2 117.2h0.8v0.8h-0.8zM91.9 128.5h0.8v0.8h-0.8zM94.9 153.2h0.8v0.8h-0.8zM94.2 130.2h0.8v0.8h-0.8zM89.2 126.0h0.8v0.8h-0.8zM90.8 132.7h0.8v0.8h-0.8zM97.8 154.0h0.8v0.8h-0.8zM73.7 112.5h0.8v0.8h-0.8zM94.8 140.2h0.8v0.8h-0.8zM90.4 115.4h0.8v0.8h-0.8zM90.2 125.7h0.8v0.8h-0.8zM93.6 121.2h0.8v0.8h-0.8zM78.4 112.9h0.8v0.8h-0.8zM88.5 128.9h0.8v0.8h-0.8zM91.4 144.2h0.8v0.8h-0.8zM92.5 128.7h0.8v0.8h-0.8zM77.2 111.7h0.8v0.8h-0.8zM90.3 147.9h0.8v0.8h-0.8zM74.0 107.8h0.8v0.8h-0.8zM70.4 111.4h0.8v0.8h-0.8zM98.5 133.9h0.8v0.8h-0.8zM75.4 108.2h0.8v0.8h-0.8zM89.2 113.6h0.8v0.8h-0.8zM81.2 116.6h0.8v0.8h-0.8zM91.7 150.9h0.8v0.8h-0.8zM84.7 129.7h0.8v0.8h-0.8zM91.3 152.0h0.8v0.8h-0.8zM88.6 129.3h0.8v0.8h-0.8zM92.8 149.0h0.8v0.8h-0.8zM84.2 126.0h0.8v0.8h-0.8zM107.5 137.5h0.8v0.8h-0.8zM90.9 150.0h0.8v0.8h-0.8zM94.7 121.7h0.8v0.8h-0.8zM90.9 116.5h0.8v0.8h-0.8zM90.2 127.7h0.8v0.8h-0.8zM92.5 123.8h0.8v0.8h-0.8zM86.6 124.2h0.8v0.8h-0.8zM89.1 127.1h0.8v0.8h-0.8zM54.6 104.1h0.8v0.8h-0.8zM79.8 115.6h0.8v0.8h-0.8zM84.0 140.1h0.8v0.8h-0.8zM66.3 110.2h0.8v0.8h-0.8zM83.3 118.7h0.8v0.8h-0.8zM85.9 156.8h0.8v0.8h-0.8zM87.5 150.1h0.8v0.8h-0.8zM90.8 146.5h0.8v0.8h-0.8zM85.6 152.9h0.8v0.8h-0.8zM68.3 104.7h0.8v0.8h-0.8zM89.9 142.5h0.8v0.8h-0.8zM85.2 125.2h0.8v0.8h-0.8zM78.0 115.7h0.8v0.8h-0.8zM93.3 157.7h0.8v0.8h-0.8zM95.5 145.3h0.8v0.8h-0.8zM89.8 135.0h0.8v0.8h-0.8zM74.8 106.9h0.8v0.8h-0.8zM82.5 146.2h0.8v0.8h-0.8zM89.9 124.7h0.8v0.8h-0.8zM92.8 124.2h0.8v0.8h-0.8zM83.6 144.8h0.8v0.8h-0.8zM69.1 110.5h0.8v0.8h-0.8zM70.3 119.0h0.8v0.8h-0.8zM85.8 138.1h0.8v0.8h-0.8zM96.9 146.0h0.8v0.8h-0.8zM69.1 106.8h0.8v0.8h-0.8zM83.2 114.9h0.8v0.8h-0.8zM87.1 130.2h0.8v0.8h-0.8zM72.2 104.5h0.8v0.8h-0.8zM88.6 104.9h0.8v0.8h-0.8zM92.8 151.6h0.8v0.8h-0.8zM84.6 118.0h0.8v0.8h-0.8zM93.6 138.5h0.8v0.8h-0.8zM99.3 122.3h0.8v0.8h-0.8zM93.4 123.4h0.8v0.8h-0.8zM91.3 122.1h0.8v0.8h-0.8zM82.6 112.5h0.8v0.8h-0.8zM97.9 135.0h0.8v0.8h-0.8zM91.9 117.3h0.8v0.8h-0.8zM91.5 150.1h0.8v0.8h-0.8zM73.5 111.0h0.8v0.8h-0.8zM60.9 107.9h0.8v0.8h-0.8zM66.4 107.0h0.8v0.8h-0.8zM87.7 108.7h0.8v0.8h-0.8zM73.0 110.4h0.8v0.8h-0.8zM73.7 103.3h0.8v0.8h-0.8zM92.5 153.2h0.8v0.8h-0.8zM91.9 138.2h0.8v0.8h-0.8zM89.3 155.5h0.8v0.8h-0.8zM82.3 115.0h0.8v0.8h-0.8zM92.3 131.3h0.8v0.8h-0.8zM67.9 107.5h0.8v0.8h-0.8zM82.5 110.3h0.8v0.8h-0.8zM95.9 139.8h0.8v0.8h-0.8zM97.8 131.0h0.8v0.8h-0.8zM92.6 126.0h0.8v0.8h-0.8zM72.6 115.6h0.8v0.8h-0.8zM71.8 111.0h0.8v0.8h-0.8zM87.6 142.2h0.8v0.8h-0.8zM88.3 153.0h0.8v0.8h-0.8zM94.0 124.7h0.8v0.8h-0.8zM78.1 113.5h0.8v0.8h-0.8zM94.3 137.9h0.8v0.8h-0.8zM77.5 115.4h0.8v0.8h-0.8zM61.6 108.1h0.8v0.8h-0.8zM94.1 125.8h0.8v0.8h-0.8zM91.1 135.4h0.8v0.8h-0.8zM87.6 123.7h0.8v0.8h-0.8zM87.6 141.3h0.8v0.8h-0.8zM85.4 103.5h0.8v0.8h-0.8zM91.2 154.5h0.8v0.8h-0.8zM100.3 133.6h0.8v0.8h-0.8zM89.4 139.5h0.8v0.8h-0.8zM94.0 139.2h0.8v0.8h-0.8zM89.1 137.5h0.8v0.8h-0.8zM71.5 112.5h0.8v0.8h-0.8zM62.5 104.1h0.8v0.8h-0.8zM82.1 148.7h0.8v0.8h-0.8zM86.4 121.3h0.8v0.8h-0.8zM94.4 119.4h0.8v0.8h-0.8zM62.4 110.3h0.8v0.8h-0.8zM87.1 131.5h0.8v0.8h-0.8zM91.3 150.3h0.8v0.8h-0.8zM64.3 102.9h0.8v0.8h-0.8zM90.7 133.7h0.8v0.8h-0.8zM92.6 115.5h0.8v0.8h-0.8zM73.5 115.1h0.8v0.8h-0.8zM94.6 132.4h0.8v0.8h-0.8zM95.3 147.3h0.8v0.8h-0.8zM95.6 146.6h0.8v0.8h-0.8zM90.2 146.3h0.8v0.8h-0.8zM91.2 147.5h0.8v0.8h-0.8zM58.2 105.0h0.8v0.8h-0.8zM93.4 130.0h0.8v0.8h-0.8zM93.3 132.1h0.8v0.8h-0.8zM72.6 110.1h0.8v0.8h-0.8zM86.2 126.6h0.8v0.8h-0.8zM99.3 145.4h0.8v0.8h-0.8zM95.7 124.5h0.8v0.8h-0.8zM68.6 106.5h0.8v0.8h-0.8zM82.0 153.7h0.8v0.8h-0.8zM87.4 128.8h0.8v0.8h-0.8zM88.4 138.4h0.8v0.8h-0.8zM88.4 115.5h0.8v0.8h-0.8zM68.1 110.6h0.8v0.8h-0.8zM66.9 120.2h0.8v0.8h-0.8zM81.8 108.4h0.8v0.8h-0.8zM61.0 109.8h0.8v0.8h-0.8zM98.0 144.1h0.8v0.8h-0.8zM85.6 132.3h0.8v0.8h-0.8zM93.5 131.2h0.8v0.8h-0.8zM69.4 117.4h0.8v0.8h-0.8zM84.8 127.6h0.8v0.8h-0.8zM86.2 126.8h0.8v0.8h-0.8zM64.7 109.3h0.8v0.8h-0.8zM96.3 153.3h0.8v0.8h-0.8zM76.6 107.2h0.8v0.8h-0.8zM88.1 139.1h0.8v0.8h-0.8zM90.8 147.8h0.8v0.8h-0.8zM91.5 118.2h0.8v0.8h-0.8zM77.2 113.7h0.8v0.8h-0.8zM73.7 104.3h0.8v0.8h-0.8zM81.8 120.5h0.8v0.8h-0.8zM64.5 114.0h0.8v0.8h-0.8zM87.7 126.0h0.8v0.8h-0.8zM76.8 107.3h0.8v0.8h-0.8zM100.5 146.2h0.8v0.8h-0.8zM79.8 112.2h0.8v0.8h-0.8zM90.7 118.1h0.8v0.8h-0.8zM91.4 150.0h0.8v0.8h-0.8zM83.1 111.8h0.8v0.8h-0.8zM92.4 145.3h0.8v0.8h-0.8zM88.5 150.3h0.8v0.8h-0.8zM85.1 115.5h0.8v0.8h-0.8zM94.4 145.8h0.8v0.8h-0.8zM65.7 102.0h0.8v0.8h-0.8zM93.4 134.6h0.8v0.8h-0.8zM88.1 153.9h0.8v0.8h-0.8zM61.5 106.1h0.8v0.8h-0.8zM94.1 135.2h0.8v0.8h-0.8zM84.0 135.7h0.8v0.8h-0.8zM87.1 139.4h0.8v0.8h-0.8zM73.7 113.4h0.8v0.8h-0.8zM92.1 144.0h0.8v0.8h-0.8zM92.4 157.1h0.8v0.8h-0.8zM93.8 119.4h0.8v0.8h-0.8zM79.7 121.2h0.8v0.8h-0.8zM87.8 122.4h0.8v0.8h-0.8zM93.1 120.2h0.8v0.8h-0.8zM88.5 125.7h0.8v0.8h-0.8zM66.0 109.5h0.8v0.8h-0.8zM98.7 122.9h0.8v0.8h-0.8zM74.0 108.8h0.8v0.8h-0.8zM93.9 136.2h0.8v0.8h-0.8zM89.3 114.0h0.8v0.8h-0.8zM84.8 121.4h0.8v0.8h-0.8zM84.7 111.8h0.8v0.8h-0.8zM68.9 108.4h0.8v0.8h-0.8zM98.0 139.9h0.8v0.8h-0.8zM89.7 114.4h0.8v0.8h-0.8zM87.1 124.2h0.8v0.8h-0.8zM79.9 108.7h0.8v0.8h-0.8zM90.5 142.0h0.8v0.8h-0.8zM90.1 121.3h0.8v0.8h-0.8zM91.1 120.1h0.8v0.8h-0.8zM74.8 112.3h0.8v0.8h-0.8zM86.8 142.3h0.8v0.8h-0.8zM79.5 113.6h0.8v0.8h-0.8zM71.2 104.6h0.8v0.8h-0.8zM82.8 105.4h0.8v0.8h-0.8zM84.4 115.1h0.8v0.8h-0.8zM92.9 122.1h0.8v0.8h-0.8zM86.8 157.8h0.8v0.8h-0.8zM83.3 120.1h0.8v0.8h-0.8zM81.1 113.6h0.8v0.8h-0.8zM81.0 135.4h0.8v0.8h-0.8zM98.4 147.1h0.8v0.8h-0.8zM93.6 146.5h0.8v0.8h-0.8zM95.2 151.1h0.8v0.8h-0.8zM87.8 133.3h0.8v0.8h-0.8zM70.3 108.8h0.8v0.8h-0.8zM75.9 105.4h0.8v0.8h-0.8zM89.8 154.1h0.8v0.8h-0.8zM83.2 109.8h0.8v0.8h-0.8zM88.3 132.1h0.8v0.8h-0.8zM64.1 109.4h0.8v0.8h-0.8zM92.3 147.4h0.8v0.8h-0.8zM84.3 110.6h0.8v0.8h-0.8zM93.7 132.8h0.8v0.8h-0.8zM89.6 137.5h0.8v0.8h-0.8zM94.0 120.4h0.8v0.8h-0.8zM86.9 129.8h0.8v0.8h-0.8zM71.1 104.7h0.8v0.8h-0.8zM84.9 118.0h0.8v0.8h-0.8zM93.4 149.0h0.8v0.8h-0.8zM89.3 129.5h0.8v0.8h-0.8zM66.0 105.9h0.8v0.8h-0.8zM92.4 128.0h0.8v0.8h-0.8zM71.4 105.2h0.8v0.8h-0.8zM88.2 152.0h0.8v0.8h-0.8zM69.7 106.9h0.8v0.8h-0.8zM99.2 149.6h0.8v0.8h-0.8zM90.9 126.4h0.8v0.8h-0.8zM66.3 107.5h0.8v0.8h-0.8zM94.8 142.8h0.8v0.8h-0.8zM89.4 121.1h0.8v0.8h-0.8zM81.0 109.2h0.8v0.8h-0.8zM94.6 143.4h0.8v0.8h-0.8zM91.3 139.6h0.8v0.8h-0.8zM94.8 153.7h0.8v0.8h-0.8zM87.9 137.6h0.8v0.8h-0.8zM87.4 145.0h0.8v0.8h-0.8zM88.5 138.9h0.8v0.8h-0.8zM92.0 148.7h0.8v0.8h-0.8zM96.6 126.1h0.8v0.8h-0.8zM72.1 107.0h0.8v0.8h-0.8zM73.0 103.2h0.8v0.8h-0.8zM84.4 114.8h0.8v0.8h-0.8zM85.8 153.3h0.8v0.8h-0.8zM84.2 124.7h0.8v0.8h-0.8zM87.7 139.9h0.8v0.8h-0.8zM74.9 112.1h0.8v0.8h-0.8zM93.1 146.9h0.8v0.8h-0.8zM93.4 135.6h0.8v0.8h-0.8zM92.9 151.1h0.8v0.8h-0.8zM90.0 120.0h0.8v0.8h-0.8zM86.0 110.3h0.8v0.8h-0.8zM89.9 123.3h0.8v0.8h-0.8zM87.6 142.1h0.8v0.8h-0.8zM101.3 124.1h0.8v0.8h-0.8zM72.0 109.8h0.8v0.8h-0.8zM80.3 111.7h0.8v0.8h-0.8zM77.2 105.7h0.8v0.8h-0.8zM66.1 113.6h0.8v0.8h-0.8zM72.3 118.9h0.8v0.8h-0.8zM90.1 125.8h0.8v0.8h-0.8zM65.3 108.6h0.8v0.8h-0.8zM66.3 108.0h0.8v0.8h-0.8zM84.6 133.6h0.8v0.8h-0.8zM93.1 133.2h0.8v0.8h-0.8zM92.3 135.7h0.8v0.8h-0.8zM88.1 123.0h0.8v0.8h-0.8zM84.7 145.8h0.8v0.8h-0.8zM90.6 147.1h0.8v0.8h-0.8zM81.8 117.3h0.8v0.8h-0.8zM95.9 141.8h0.8v0.8h-0.8zM71.4 117.7h0.8v0.8h-0.8zM69.2 107.7h0.8v0.8h-0.8zM66.5 105.9h0.8v0.8h-0.8zM93.8 140.5h0.8v0.8h-0.8zM90.3 118.2h0.8v0.8h-0.8zM85.1 110.3h0.8v0.8h-0.8zM92.5 152.5h0.8v0.8h-0.8zM95.6 148.1h0.8v0.8h-0.8zM92.7 128.7h0.8v0.8h-0.8zM80.5 116.3h0.8v0.8h-0.8zM84.9 108.8h0.8v0.8h-0.8zM98.5 149.8h0.8v0.8h-0.8zM88.4 121.8h0.8v0.8h-0.8zM86.0 140.5h0.8v0.8h-0.8zM94.1 132.0h0.8v0.8h-0.8zM97.7 141.0h0.8v0.8h-0.8zM90.3 122.9h0.8v0.8h-0.8zM83.0 123.2h0.8v0.8h-0.8zM65.5 108.7h0.8v0.8h-0.8zM91.7 132.4h0.8v0.8h-0.8zM82.5 108.4h0.8v0.8h-0.8zM91.0 145.6h0.8v0.8h-0.8zM101.3 127.7h0.8v0.8h-0.8zM95.9 135.6h0.8v0.8h-0.8zM88.6 120.2h0.8v0.8h-0.8zM90.0 149.8h0.8v0.8h-0.8zM94.2 142.4h0.8v0.8h-0.8zM97.4 130.8h0.8v0.8h-0.8zM70.3 106.1h0.8v0.8h-0.8zM89.6 139.3h0.8v0.8h-0.8zM95.8 137.4h0.8v0.8h-0.8zM84.8 151.1h0.8v0.8h-0.8zM87.7 137.9h0.8v0.8h-0.8zM91.3 127.5h0.8v0.8h-0.8zM95.2 141.1h0.8v0.8h-0.8zM86.2 135.8h0.8v0.8h-0.8zM96.5 134.9h0.8v0.8h-0.8zM68.9 117.0h0.8v0.8h-0.8zM68.5 101.1h0.8v0.8h-0.8zM90.9 158.1h0.8v0.8h-0.8zM76.8 119.6h0.8v0.8h-0.8zM90.3 124.7h0.8v0.8h-0.8zM64.1 110.1h0.8v0.8h-0.8zM91.5 156.0h0.8v0.8h-0.8zM94.2 141.8h0.8v0.8h-0.8zM82.3 113.8h0.8v0.8h-0.8zM92.7 140.3h0.8v0.8h-0.8zM90.6 138.2h0.8v0.8h-0.8zM84.0 108.9h0.8v0.8h-0.8zM73.2 114.5h0.8v0.8h-0.8zM69.5 109.5h0.8v0.8h-0.8zM74.6 108.2h0.8v0.8h-0.8zM92.7 136.6h0.8v0.8h-0.8zM97.1 126.1h0.8v0.8h-0.8zM90.9 116.4h0.8v0.8h-0.8zM89.5 158.2h0.8v0.8h-0.8zM78.7 106.7h0.8v0.8h-0.8zM97.2 148.1h0.8v0.8h-0.8zM83.3 138.1h0.8v0.8h-0.8zM64.9 105.0h0.8v0.8h-0.8zM90.8 140.7h0.8v0.8h-0.8zM89.4 128.1h0.8v0.8h-0.8zM83.0 118.8h0.8v0.8h-0.8zM94.6 127.2h0.8v0.8h-0.8zM82.5 114.2h0.8v0.8h-0.8zM93.3 145.8h0.8v0.8h-0.8zM93.3 111.0h0.8v0.8h-0.8zM94.7 155.4h0.8v0.8h-0.8zM68.4 113.9h0.8v0.8h-0.8zM64.9 113.1h0.8v0.8h-0.8zM93.0 137.5h0.8v0.8h-0.8zM86.5 115.8h0.8v0.8h-0.8zM89.4 141.2h0.8v0.8h-0.8zM79.6 112.1h0.8v0.8h-0.8zM84.8 107.1h0.8v0.8h-0.8zM72.2 112.0h0.8v0.8h-0.8zM70.4 104.3h0.8v0.8h-0.8zM76.3 111.3h0.8v0.8h-0.8zM86.8 143.6h0.8v0.8h-0.8zM100.3 135.0h0.8v0.8h-0.8zM85.8 141.7h0.8v0.8h-0.8zM90.5 117.9h0.8v0.8h-0.8zM78.9 112.1h0.8v0.8h-0.8zM55.7 106.9h0.8v0.8h-0.8zM93.0 143.1h0.8v0.8h-0.8zM87.6 126.8h0.8v0.8h-0.8zM87.2 116.1h0.8v0.8h-0.8zM92.1 118.4h0.8v0.8h-0.8zM71.7 113.2h0.8v0.8h-0.8zM82.3 115.8h0.8v0.8h-0.8zM90.6 152.7h0.8v0.8h-0.8zM94.0 135.7h0.8v0.8h-0.8zM96.0 131.1h0.8v0.8h-0.8zM92.6 145.2h0.8v0.8h-0.8zM75.1 105.6h0.8v0.8h-0.8zM78.9 117.0h0.8v0.8h-0.8zM97.6 146.2h0.8v0.8h-0.8zM75.2 110.5h0.8v0.8h-0.8zM75.8 112.7h0.8v0.8h-0.8zM94.3 126.7h0.8v0.8h-0.8zM89.0 124.5h0.8v0.8h-0.8zM92.6 115.7h0.8v0.8h-0.8zM94.2 138.0h0.8v0.8h-0.8zM80.3 109.6h0.8v0.8h-0.8zM88.0 150.3h0.8v0.8h-0.8zM66.5 113.1h0.8v0.8h-0.8zM76.1 107.7h0.8v0.8h-0.8zM91.5 141.7h0.8v0.8h-0.8zM85.2 112.3h0.8v0.8h-0.8zM70.4 111.5h0.8v0.8h-0.8zM92.1 148.2h0.8v0.8h-0.8zM92.3 157.0h0.8v0.8h-0.8zM88.0 114.9h0.8v0.8h-0.8zM84.1 140.7h0.8v0.8h-0.8zM86.9 115.4h0.8v0.8h-0.8zM84.4 138.1h0.8v0.8h-0.8zM76.6 113.4h0.8v0.8h-0.8zM90.6 144.6h0.8v0.8h-0.8zM96.4 139.8h0.8v0.8h-0.8zM81.4 104.8h0.8v0.8h-0.8zM92.2 137.0h0.8v0.8h-0.8zM91.7 132.3h0.8v0.8h-0.8zM94.7 143.7h0.8v0.8h-0.8zM85.0 116.9h0.8v0.8h-0.8zM84.5 132.8h0.8v0.8h-0.8zM95.6 124.1h0.8v0.8h-0.8zM86.8 121.8h0.8v0.8h-0.8zM75.9 117.3h0.8v0.8h-0.8zM83.3 151.6h0.8v0.8h-0.8zM65.2 108.8h0.8v0.8h-0.8zM89.6 144.0h0.8v0.8h-0.8zM86.3 150.4h0.8v0.8h-0.8zM89.7 118.9h0.8v0.8h-0.8zM93.5 113.6h0.8v0.8h-0.8zM85.1 137.6h0.8v0.8h-0.8zM78.5 109.5h0.8v0.8h-0.8zM92.7 131.8h0.8v0.8h-0.8zM90.8 130.9h0.8v0.8h-0.8zM73.3 112.1h0.8v0.8h-0.8zM93.5 131.9h0.8v0.8h-0.8zM97.6 142.4h0.8v0.8h-0.8zM95.0 127.9h0.8v0.8h-0.8zM93.0 133.5h0.8v0.8h-0.8zM91.2 122.3h0.8v0.8h-0.8zM94.9 148.3h0.8v0.8h-0.8zM79.6 113.0h0.8v0.8h-0.8zM86.4 108.7h0.8v0.8h-0.8zM95.7 126.2h0.8v0.8h-0.8zM96.3 134.1h0.8v0.8h-0.8zM70.8 114.1h0.8v0.8h-0.8zM69.9 114.4h0.8v0.8h-0.8zM92.9 125.7h0.8v0.8h-0.8zM90.2 136.4h0.8v0.8h-0.8zM78.3 134.4h0.8v0.8h-0.8zM67.9 110.1h0.8v0.8h-0.8zM98.5 125.2h0.8v0.8h-0.8zM67.5 108.4h0.8v0.8h-0.8zM89.5 149.8h0.8v0.8h-0.8zM75.9 113.6h0.8v0.8h-0.8zM85.5 115.9h0.8v0.8h-0.8zM93.5 118.2h0.8v0.8h-0.8zM90.7 116.2h0.8v0.8h-0.8zM86.7 143.9h0.8v0.8h-0.8zM76.6 109.9h0.8v0.8h-0.8zM78.5 114.0h0.8v0.8h-0.8zM100.4 140.6h0.8v0.8h-0.8zM80.0 105.9h0.8v0.8h-0.8zM97.5 122.5h0.8v0.8h-0.8zM90.3 119.4h0.8v0.8h-0.8zM87.1 136.3h0.8v0.8h-0.8zM78.4 112.5h0.8v0.8h-0.8zM90.9 128.1h0.8v0.8h-0.8zM94.7 127.5h0.8v0.8h-0.8zM97.7 143.4h0.8v0.8h-0.8zM85.2 122.2h0.8v0.8h-0.8zM75.3 111.1h0.8v0.8h-0.8zM78.7 107.7h0.8v0.8h-0.8zM82.8 145.1h0.8v0.8h-0.8zM90.1 145.5h0.8v0.8h-0.8zM76.6 109.6h0.8v0.8h-0.8zM97.3 147.1h0.8v0.8h-0.8zM80.4 117.6h0.8v0.8h-0.8zM95.1 155.7h0.8v0.8h-0.8zM96.2 152.7h0.8v0.8h-0.8zM93.9 135.0h0.8v0.8h-0.8zM90.9 113.1h0.8v0.8h-0.8zM90.1 126.7h0.8v0.8h-0.8zM71.1 110.0h0.8v0.8h-0.8zM80.1 109.7h0.8v0.8h-0.8zM71.5 110.3h0.8v0.8h-0.8zM92.4 133.6h0.8v0.8h-0.8zM92.5 132.3h0.8v0.8h-0.8zM87.4 135.5h0.8v0.8h-0.8zM93.1 118.8h0.8v0.8h-0.8zM83.8 137.0h0.8v0.8h-0.8zM89.6 108.5h0.8v0.8h-0.8zM86.5 143.5h0.8v0.8h-0.8zM93.7 148.6h0.8v0.8h-0.8zM60.1 108.4h0.8v0.8h-0.8zM95.1 152.2h0.8v0.8h-0.8zM96.0 127.8h0.8v0.8h-0.8zM95.1 132.6h0.8v0.8h-0.8zM68.5 113.1h0.8v0.8h-0.8zM86.4 151.5h0.8v0.8h-0.8zM65.5 111.9h0.8v0.8h-0.8zM96.5 150.7h0.8v0.8h-0.8zM99.0 148.2h0.8v0.8h-0.8zM64.3 108.9h0.8v0.8h-0.8zM72.3 116.5h0.8v0.8h-0.8zM94.0 131.1h0.8v0.8h-0.8zM74.8 105.6h0.8v0.8h-0.8zM101.5 119.0h0.8v0.8h-0.8zM77.5 113.4h0.8v0.8h-0.8zM87.6 129.2h0.8v0.8h-0.8zM87.9 141.2h0.8v0.8h-0.8zM93.1 134.4h0.8v0.8h-0.8zM94.8 128.3h0.8v0.8h-0.8zM92.7 113.8h0.8v0.8h-0.8zM86.0 151.5h0.8v0.8h-0.8zM92.3 151.6h0.8v0.8h-0.8zM72.2 108.5h0.8v0.8h-0.8zM97.0 149.3h0.8v0.8h-0.8zM85.6 149.1h0.8v0.8h-0.8zM92.3 131.6h0.8v0.8h-0.8zM89.5 140.4h0.8v0.8h-0.8zM91.1 130.9h0.8v0.8h-0.8zM86.0 143.9h0.8v0.8h-0.8zM87.1 146.6h0.8v0.8h-0.8zM84.6 125.1h0.8v0.8h-0.8zM89.3 155.7h0.8v0.8h-0.8zM84.7 111.0h0.8v0.8h-0.8zM84.8 154.3h0.8v0.8h-0.8zM88.6 144.7h0.8v0.8h-0.8zM97.4 153.8h0.8v0.8h-0.8zM88.7 123.5h0.8v0.8h-0.8zM87.3 124.9h0.8v0.8h-0.8zM63.3 103.7h0.8v0.8h-0.8zM85.0 141.7h0.8v0.8h-0.8zM65.7 108.8h0.8v0.8h-0.8zM88.2 126.8h0.8v0.8h-0.8zM92.0 125.4h0.8v0.8h-0.8zM92.3 153.4h0.8v0.8h-0.8zM86.5 133.7h0.8v0.8h-0.8zM84.9 138.4h0.8v0.8h-0.8zM93.6 134.6h0.8v0.8h-0.8zM87.3 153.9h0.8v0.8h-0.8zM98.6 141.5h0.8v0.8h-0.8zM80.4 116.0h0.8v0.8h-0.8zM62.4 107.4h0.8v0.8h-0.8zM88.5 143.0h0.8v0.8h-0.8zM86.9 143.7h0.8v0.8h-0.8zM87.7 154.4h0.8v0.8h-0.8zM92.0 119.7h0.8v0.8h-0.8zM77.4 116.7h0.8v0.8h-0.8zM79.2 109.2h0.8v0.8h-0.8zM90.8 139.5h0.8v0.8h-0.8zM85.9 116.1h0.8v0.8h-0.8zM87.0 153.2h0.8v0.8h-0.8zM66.0 112.3h0.8v0.8h-0.8zM94.1 137.9h0.8v0.8h-0.8zM75.5 109.6h0.8v0.8h-0.8zM90.7 118.8h0.8v0.8h-0.8zM66.8 104.9h0.8v0.8h-0.8zM95.3 139.3h0.8v0.8h-0.8zM92.2 153.1h0.8v0.8h-0.8zM66.5 103.9h0.8v0.8h-0.8zM85.5 120.8h0.8v0.8h-0.8zM77.0 105.2h0.8v0.8h-0.8zM66.3 118.6h0.8v0.8h-0.8zM80.6 118.1h0.8v0.8h-0.8zM98.5 112.4h0.8v0.8h-0.8zM72.9 112.2h0.8v0.8h-0.8zM88.2 126.4h0.8v0.8h-0.8zM92.2 149.8h0.8v0.8h-0.8zM70.5 111.5h0.8v0.8h-0.8zM84.8 124.5h0.8v0.8h-0.8zM95.5 154.2h0.8v0.8h-0.8zM95.9 137.4h0.8v0.8h-0.8zM93.1 147.6h0.8v0.8h-0.8zM80.4 106.2h0.8v0.8h-0.8zM97.0 143.5h0.8v0.8h-0.8zM91.2 114.4h0.8v0.8h-0.8zM88.0 154.1h0.8v0.8h-0.8zM88.9 104.1h0.8v0.8h-0.8zM89.1 130.2h0.8v0.8h-0.8zM85.8 120.3h0.8v0.8h-0.8zM96.5 138.0h0.8v0.8h-0.8zM87.7 149.9h0.8v0.8h-0.8zM98.6 142.4h0.8v0.8h-0.8zM96.2 128.7h0.8v0.8h-0.8zM86.9 153.0h0.8v0.8h-0.8zM60.5 107.4h0.8v0.8h-0.8zM67.7 107.8h0.8v0.8h-0.8zM95.2 152.8h0.8v0.8h-0.8zM88.6 136.8h0.8v0.8h-0.8zM97.0 127.3h0.8v0.8h-0.8zM86.1 141.8h0.8v0.8h-0.8zM86.6 144.0h0.8v0.8h-0.8zM89.6 115.7h0.8v0.8h-0.8zM85.6 110.7h0.8v0.8h-0.8zM85.2 141.5h0.8v0.8h-0.8zM91.9 148.8h0.8v0.8h-0.8zM80.4 117.9h0.8v0.8h-0.8zM56.7 105.6h0.8v0.8h-0.8zM72.6 105.3h0.8v0.8h-0.8zM89.8 150.1h0.8v0.8h-0.8zM89.7 141.5h0.8v0.8h-0.8zM96.3 142.5h0.8v0.8h-0.8zM73.2 110.7h0.8v0.8h-0.8zM81.7 116.3h0.8v0.8h-0.8zM82.8 147.3h0.8v0.8h-0.8zM94.5 157.5h0.8v0.8h-0.8zM82.8 113.5h0.8v0.8h-0.8zM89.6 145.7h0.8v0.8h-0.8zM87.7 111.3h0.8v0.8h-0.8zM95.4 133.0h0.8v0.8h-0.8zM68.5 104.9h0.8v0.8h-0.8zM96.3 125.4h0.8v0.8h-0.8zM91.8 116.6h0.8v0.8h-0.8zM93.7 135.1h0.8v0.8h-0.8zM86.5 121.4h0.8v0.8h-0.8zM89.8 116.7h0.8v0.8h-0.8zM92.4 151.0h0.8v0.8h-0.8zM89.6 140.0h0.8v0.8h-0.8zM87.6 152.0h0.8v0.8h-0.8zM78.4 119.1h0.8v0.8h-0.8zM86.1 135.0h0.8v0.8h-0.8zM80.3 110.4h0.8v0.8h-0.8zM93.8 133.5h0.8v0.8h-0.8zM83.8 121.4h0.8v0.8h-0.8zM85.9 108.7h0.8v0.8h-0.8zM95.1 118.1h0.8v0.8h-0.8zM85.5 123.9h0.8v0.8h-0.8zM91.7 126.5h0.8v0.8h-0.8zM87.8 152.0h0.8v0.8h-0.8zM95.8 147.2h0.8v0.8h-0.8zM61.5 105.0h0.8v0.8h-0.8zM92.7 126.5h0.8v0.8h-0.8zM90.2 149.6h0.8v0.8h-0.8zM69.1 110.6h0.8v0.8h-0.8zM93.3 124.6h0.8v0.8h-0.8zM78.2 117.3h0.8v0.8h-0.8zM84.7 113.4h0.8v0.8h-0.8zM60.8 105.2h0.8v0.8h-0.8zM78.9 111.6h0.8v0.8h-0.8zM74.2 105.8h0.8v0.8h-0.8zM73.3 110.8h0.8v0.8h-0.8zM64.5 116.2h0.8v0.8h-0.8zM91.3 144.8h0.8v0.8h-0.8zM85.5 128.7h0.8v0.8h-0.8zM83.8 128.4h0.8v0.8h-0.8zM77.7 117.0h0.8v0.8h-0.8zM88.5 158.4h0.8v0.8h-0.8zM89.4 121.5h0.8v0.8h-0.8zM93.4 147.4h0.8v0.8h-0.8zM75.7 109.2h0.8v0.8h-0.8zM68.9 109.7h0.8v0.8h-0.8zM90.5 130.6h0.8v0.8h-0.8zM77.9 114.5h0.8v0.8h-0.8zM96.6 144.4h0.8v0.8h-0.8zM85.2 118.0h0.8v0.8h-0.8zM91.6 120.5h0.8v0.8h-0.8zM90.8 125.1h0.8v0.8h-0.8zM81.7 113.5h0.8v0.8h-0.8zM84.1 135.6h0.8v0.8h-0.8zM91.6 135.0h0.8v0.8h-0.8zM79.3 110.5h0.8v0.8h-0.8zM90.2 147.8h0.8v0.8h-0.8zM91.1 118.4h0.8v0.8h-0.8zM93.0 143.1h0.8v0.8h-0.8zM84.3 137.4h0.8v0.8h-0.8zM97.6 117.0h0.8v0.8h-0.8zM78.6 112.9h0.8v0.8h-0.8zM92.4 114.3h0.8v0.8h-0.8zM91.4 149.9h0.8v0.8h-0.8zM90.5 126.1h0.8v0.8h-0.8zM89.1 145.2h0.8v0.8h-0.8zM84.7 144.8h0.8v0.8h-0.8zM84.8 132.9h0.8v0.8h-0.8zM66.4 110.9h0.8v0.8h-0.8zM92.1 133.6h0.8v0.8h-0.8zM75.4 114.5h0.8v0.8h-0.8zM89.0 120.9h0.8v0.8h-0.8zM90.8 127.4h0.8v0.8h-0.8zM70.3 112.2h0.8v0.8h-0.8zM72.5 110.6h0.8v0.8h-0.8zM94.4 136.6h0.8v0.8h-0.8zM70.5 108.5h0.8v0.8h-0.8zM92.1 128.6h0.8v0.8h-0.8zM95.4 155.2h0.8v0.8h-0.8zM97.9 145.7h0.8v0.8h-0.8zM81.1 118.9h0.8v0.8h-0.8zM87.2 117.7h0.8v0.8h-0.8zM83.7 118.2h0.8v0.8h-0.8zM76.5 123.1h0.8v0.8h-0.8zM89.9 137.1h0.8v0.8h-0.8zM83.8 126.2h0.8v0.8h-0.8zM92.5 117.9h0.8v0.8h-0.8zM68.5 107.6h0.8v0.8h-0.8zM88.6 140.8h0.8v0.8h-0.8zM80.3 151.2h0.8v0.8h-0.8zM100.7 124.0h0.8v0.8h-0.8zM84.6 110.0h0.8v0.8h-0.8zM98.4 134.8h0.8v0.8h-0.8zM92.3 142.8h0.8v0.8h-0.8zM66.5 108.3h0.8v0.8h-0.8zM79.2 154.0h0.8v0.8h-0.8zM89.2 140.4h0.8v0.8h-0.8zM82.5 113.6h0.8v0.8h-0.8zM90.8 150.6h0.8v0.8h-0.8zM89.5 128.8h0.8v0.8h-0.8zM93.8 138.2h0.8v0.8h-0.8zM98.8 152.4h0.8v0.8h-0.8zM94.0 136.1h0.8v0.8h-0.8zM88.4 142.5h0.8v0.8h-0.8zM76.8 112.9h0.8v0.8h-0.8zM82.3 134.1h0.8v0.8h-0.8zM91.3 143.8h0.8v0.8h-0.8zM68.0 114.7h0.8v0.8h-0.8zM69.2 106.3h0.8v0.8h-0.8zM91.3 109.6h0.8v0.8h-0.8zM86.6 141.8h0.8v0.8h-0.8zM96.3 153.4h0.8v0.8h-0.8zM70.3 108.2h0.8v0.8h-0.8zM70.2 107.1h0.8v0.8h-0.8zM90.6 138.1h0.8v0.8h-0.8zM97.5 150.8h0.8v0.8h-0.8zM92.6 151.2h0.8v0.8h-0.8zM97.6 142.7h0.8v0.8h-0.8zM64.8 113.9h0.8v0.8h-0.8zM88.9 120.2h0.8v0.8h-0.8zM71.4 110.1h0.8v0.8h-0.8zM94.0 148.5h0.8v0.8h-0.8zM66.9 104.8h0.8v0.8h-0.8zM73.3 106.6h0.8v0.8h-0.8zM93.9 135.7h0.8v0.8h-0.8zM89.0 143.8h0.8v0.8h-0.8zM85.9 113.8h0.8v0.8h-0.8zM85.5 121.9h0.8v0.8h-0.8zM70.7 113.2h0.8v0.8h-0.8zM88.5 125.3h0.8v0.8h-0.8zM74.5 112.6h0.8v0.8h-0.8zM92.8 144.4h0.8v0.8h-0.8zM66.9 113.7h0.8v0.8h-0.8zM83.3 140.1h0.8v0.8h-0.8zM89.8 156.4h0.8v0.8h-0.8zM71.8 107.7h0.8v0.8h-0.8zM92.6 150.7h0.8v0.8h-0.8zM94.8 132.6h0.8v0.8h-0.8zM86.1 108.7h0.8v0.8h-0.8zM93.8 140.9h0.8v0.8h-0.8zM93.0 154.9h0.8v0.8h-0.8zM92.9 131.2h0.8v0.8h-0.8zM86.6 137.6h0.8v0.8h-0.8zM96.2 149.6h0.8v0.8h-0.8zM84.2 107.3h0.8v0.8h-0.8zM93.3 124.2h0.8v0.8h-0.8zM85.2 134.2h0.8v0.8h-0.8zM90.6 153.3h0.8v0.8h-0.8zM89.2 112.4h0.8v0.8h-0.8zM96.7 150.2h0.8v0.8h-0.8zM81.2 117.7h0.8v0.8h-0.8zM83.5 148.6h0.8v0.8h-0.8zM75.9 110.4h0.8v0.8h-0.8zM74.9 111.4h0.8v0.8h-0.8zM88.4 125.3h0.8v0.8h-0.8zM85.2 141.6h0.8v0.8h-0.8zM69.2 109.8h0.8v0.8h-0.8zM75.9 108.1h0.8v0.8h-0.8zM87.4 134.4h0.8v0.8h-0.8zM96.7 138.6h0.8v0.8h-0.8zM90.9 144.9h0.8v0.8h-0.8zM91.9 123.6h0.8v0.8h-0.8zM88.5 144.6h0.8v0.8h-0.8zM85.5 120.7h0.8v0.8h-0.8zM85.3 140.3h0.8v0.8h-0.8zM92.0 149.1h0.8v0.8h-0.8zM88.7 118.3h0.8v0.8h-0.8zM88.1 118.2h0.8v0.8h-0.8zM62.7 116.8h0.8v0.8h-0.8zM91.4 144.6h0.8v0.8h-0.8zM88.2 114.8h0.8v0.8h-0.8zM82.8 115.6h0.8v0.8h-0.8zM89.2 114.0h0.8v0.8h-0.8zM64.4 113.2h0.8v0.8h-0.8zM75.1 114.4h0.8v0.8h-0.8zM90.0 124.0h0.8v0.8h-0.8zM69.9 107.7h0.8v0.8h-0.8zM87.1 126.0h0.8v0.8h-0.8zM94.7 129.4h0.8v0.8h-0.8zM70.7 117.1h0.8v0.8h-0.8zM92.1 125.8h0.8v0.8h-0.8zM82.2 109.2h0.8v0.8h-0.8zM93.3 154.5h0.8v0.8h-0.8zM95.8 133.6h0.8v0.8h-0.8zM96.3 146.7h0.8v0.8h-0.8zM83.3 111.2h0.8v0.8h-0.8zM75.5 117.2h0.8v0.8h-0.8zM95.5 135.4h0.8v0.8h-0.8zM69.5 105.7h0.8v0.8h-0.8zM87.1 138.4h0.8v0.8h-0.8zM67.1 115.4h0.8v0.8h-0.8zM95.5 115.8h0.8v0.8h-0.8zM91.3 125.8h0.8v0.8h-0.8zM87.0 117.2h0.8v0.8h-0.8zM94.7 152.9h0.8v0.8h-0.8zM78.0 115.4h0.8v0.8h-0.8zM85.5 118.5h0.8v0.8h-0.8zM102.0 137.6h0.8v0.8h-0.8zM71.6 112.8h0.8v0.8h-0.8zM77.2 116.6h0.8v0.8h-0.8zM65.3 106.5h0.8v0.8h-0.8zM77.9 115.3h0.8v0.8h-0.8zM92.1 144.6h0.8v0.8h-0.8zM63.6 115.0h0.8v0.8h-0.8zM84.6 123.3h0.8v0.8h-0.8zM62.8 103.3h0.8v0.8h-0.8zM64.1 113.6h0.8v0.8h-0.8zM77.1 111.1h0.8v0.8h-0.8zM88.2 129.6h0.8v0.8h-0.8zM85.7 137.3h0.8v0.8h-0.8zM80.9 115.6h0.8v0.8h-0.8zM87.0 152.9h0.8v0.8h-0.8zM72.4 109.3h0.8v0.8h-0.8zM88.6 132.6h0.8v0.8h-0.8zM88.4 144.9h0.8v0.8h-0.8zM89.8 126.4h0.8v0.8h-0.8zM87.5 140.9h0.8v0.8h-0.8zM83.7 108.3h0.8v0.8h-0.8zM91.5 113.8h0.8v0.8h-0.8zM95.3 129.9h0.8v0.8h-0.8zM96.5 114.3h0.8v0.8h-0.8zM87.2 137.0h0.8v0.8h-0.8zM73.2 103.4h0.8v0.8h-0.8zM84.4 131.5h0.8v0.8h-0.8zM62.8 110.2h0.8v0.8h-0.8zM88.4 135.4h0.8v0.8h-0.8zM89.5 151.3h0.8v0.8h-0.8zM67.3 104.0h0.8v0.8h-0.8zM91.4 120.2h0.8v0.8h-0.8zM65.1 107.2h0.8v0.8h-0.8zM78.7 115.2h0.8v0.8h-0.8zM74.9 105.9h0.8v0.8h-0.8zM94.0 158.0h0.8v0.8h-0.8zM70.0 112.2h0.8v0.8h-0.8zM67.2 105.1h0.8v0.8h-0.8zM94.6 132.8h0.8v0.8h-0.8zM58.5 104.0h0.8v0.8h-0.8zM88.3 129.6h0.8v0.8h-0.8zM87.5 144.3h0.8v0.8h-0.8zM87.6 123.9h0.8v0.8h-0.8zM95.0 129.7h0.8v0.8h-0.8zM58.6 112.2h0.8v0.8h-0.8zM66.1 109.4h0.8v0.8h-0.8zM90.6 126.6h0.8v0.8h-0.8zM94.7 142.2h0.8v0.8h-0.8zM90.5 123.2h0.8v0.8h-0.8zM91.0 146.5h0.8v0.8h-0.8zM75.4 106.2h0.8v0.8h-0.8zM90.3 132.7h0.8v0.8h-0.8zM86.7 155.3h0.8v0.8h-0.8zM97.0 145.4h0.8v0.8h-0.8zM86.6 113.1h0.8v0.8h-0.8zM69.5 107.8h0.8v0.8h-0.8zM91.6 126.3h0.8v0.8h-0.8zM90.8 137.3h0.8v0.8h-0.8zM65.6 107.7h0.8v0.8h-0.8zM82.2 135.1h0.8v0.8h-0.8zM86.9 138.1h0.8v0.8h-0.8zM90.2 125.6h0.8v0.8h-0.8zM88.7 131.9h0.8v0.8h-0.8zM81.3 127.1h0.8v0.8h-0.8zM93.8 124.6h0.8v0.8h-0.8zM101.5 133.4h0.8v0.8h-0.8zM92.2 123.7h0.8v0.8h-0.8zM84.5 127.9h0.8v0.8h-0.8zM83.3 110.7h0.8v0.8h-0.8zM83.7 109.9h0.8v0.8h-0.8zM91.0 142.9h0.8v0.8h-0.8zM90.1 129.7h0.8v0.8h-0.8zM93.4 151.9h0.8v0.8h-0.8zM59.1 110.9h0.8v0.8h-0.8zM103.5 123.6h0.8v0.8h-0.8zM91.5 140.1h0.8v0.8h-0.8zM62.7 113.2h0.8v0.8h-0.8zM86.0 118.9h0.8v0.8h-0.8zM90.0 148.4h0.8v0.8h-0.8zM90.3 127.0h0.8v0.8h-0.8zM80.8 121.4h0.8v0.8h-0.8zM71.4 117.1h0.8v0.8h-0.8zM77.4 112.1h0.8v0.8h-0.8zM81.8 111.5h0.8v0.8h-0.8zM84.9 143.3h0.8v0.8h-0.8zM90.2 124.4h0.8v0.8h-0.8zM71.2 112.7h0.8v0.8h-0.8zM65.6 103.0h0.8v0.8h-0.8zM89.6 120.9h0.8v0.8h-0.8zM72.0 108.3h0.8v0.8h-0.8zM80.1 147.6h0.8v0.8h-0.8zM88.0 149.7h0.8v0.8h-0.8zM89.9 114.6h0.8v0.8h-0.8zM98.8 137.8h0.8v0.8h-0.8zM90.4 119.5h0.8v0.8h-0.8zM82.9 133.8h0.8v0.8h-0.8zM86.0 153.9h0.8v0.8h-0.8zM61.7 105.3h0.8v0.8h-0.8zM80.5 107.7h0.8v0.8h-0.8zM90.6 143.5h0.8v0.8h-0.8zM99.6 143.6h0.8v0.8h-0.8zM90.9 128.9h0.8v0.8h-0.8zM91.2 124.5h0.8v0.8h-0.8zM69.3 114.9h0.8v0.8h-0.8zM89.0 110.7h0.8v0.8h-0.8zM84.6 114.9h0.8v0.8h-0.8zM90.1 128.3h0.8v0.8h-0.8zM99.2 143.4h0.8v0.8h-0.8zM96.8 123.8h0.8v0.8h-0.8zM77.5 104.8h0.8v0.8h-0.8zM84.6 109.8h0.8v0.8h-0.8zM94.0 146.5h0.8v0.8h-0.8zM82.2 154.9h0.8v0.8h-0.8zM77.7 111.2h0.8v0.8h-0.8zM79.5 110.1h0.8v0.8h-0.8zM86.3 134.7h0.8v0.8h-0.8zM77.9 112.1h0.8v0.8h-0.8zM67.7 105.1h0.8v0.8h-0.8zM86.6 111.5h0.8v0.8h-0.8zM93.9 129.8h0.8v0.8h-0.8zM94.9 141.6h0.8v0.8h-0.8zM91.4 152.7h0.8v0.8h-0.8zM69.4 105.2h0.8v0.8h-0.8zM86.0 113.3h0.8v0.8h-0.8zM89.9 131.9h0.8v0.8h-0.8zM94.7 149.0h0.8v0.8h-0.8zM87.2 142.8h0.8v0.8h-0.8zM81.8 115.6h0.8v0.8h-0.8zM83.0 114.7h0.8v0.8h-0.8zM85.0 118.2h0.8v0.8h-0.8zM94.3 126.5h0.8v0.8h-0.8zM74.5 112.4h0.8v0.8h-0.8zM91.6 126.5h0.8v0.8h-0.8zM88.8 144.2h0.8v0.8h-0.8zM87.4 119.3h0.8v0.8h-0.8zM83.5 109.3h0.8v0.8h-0.8zM96.1 142.0h0.8v0.8h-0.8zM66.1 113.5h0.8v0.8h-0.8zM83.7 114.7h0.8v0.8h-0.8zM88.1 124.9h0.8v0.8h-0.8zM79.1 109.7h0.8v0.8h-0.8zM94.6 139.4h0.8v0.8h-0.8zM69.3 108.1h0.8v0.8h-0.8zM69.5 104.0h0.8v0.8h-0.8zM81.6 119.1h0.8v0.8h-0.8zM87.8 156.0h0.8v0.8h-0.8zM73.0 112.0h0.8v0.8h-0.8zM79.1 110.3h0.8v0.8h-0.8zM70.1 111.6h0.8v0.8h-0.8zM68.2 108.2h0.8v0.8h-0.8zM96.4 128.0h0.8v0.8h-0.8zM98.1 147.5h0.8v0.8h-0.8zM84.4 147.9h0.8v0.8h-0.8zM88.9 127.9h0.8v0.8h-0.8zM88.4 115.0h0.8v0.8h-0.8zM81.0 148.7h0.8v0.8h-0.8zM91.3 116.9h0.8v0.8h-0.8zM91.5 123.2h0.8v0.8h-0.8zM65.2 105.6h0.8v0.8h-0.8zM89.2 146.1h0.8v0.8h-0.8zM91.2 122.0h0.8v0.8h-0.8zM93.4 154.9h0.8v0.8h-0.8zM89.4 124.6h0.8v0.8h-0.8zM91.6 153.1h0.8v0.8h-0.8zM88.5 129.6h0.8v0.8h-0.8zM90.7 114.9h0.8v0.8h-0.8zM88.6 134.9h0.8v0.8h-0.8zM91.1 154.7h0.8v0.8h-0.8zM74.7 104.1h0.8v0.8h-0.8zM90.8 119.9h0.8v0.8h-0.8zM79.0 112.9h0.8v0.8h-0.8zM71.7 110.3h0.8v0.8h-0.8zM93.9 149.7h0.8v0.8h-0.8zM91.1 115.7h0.8v0.8h-0.8zM58.5 101.8h0.8v0.8h-0.8zM95.1 136.3h0.8v0.8h-0.8zM93.9 152.0h0.8v0.8h-0.8zM94.2 140.2h0.8v0.8h-0.8zM88.6 111.6h0.8v0.8h-0.8zM86.9 153.4h0.8v0.8h-0.8zM73.7 118.7h0.8v0.8h-0.8zM87.1 107.1h0.8v0.8h-0.8zM91.5 128.5h0.8v0.8h-0.8zM83.1 126.7h0.8v0.8h-0.8zM89.9 141.7h0.8v0.8h-0.8zM72.4 112.4h0.8v0.8h-0.8zM73.3 108.8h0.8v0.8h-0.8zM81.2 107.8h0.8v0.8h-0.8zM69.6 108.4h0.8v0.8h-0.8zM65.0 108.0h0.8v0.8h-0.8zM86.0 118.0h0.8v0.8h-0.8zM101.9 139.8h0.8v0.8h-0.8zM82.3 115.0h0.8v0.8h-0.8zM93.0 145.4h0.8v0.8h-0.8zM77.0 116.9h0.8v0.8h-0.8zM89.2 114.9h0.8v0.8h-0.8zM95.6 151.7h0.8v0.8h-0.8zM94.0 126.9h0.8v0.8h-0.8zM103.0 127.3h0.8v0.8h-0.8zM88.2 133.2h0.8v0.8h-0.8zM88.9 133.1h0.8v0.8h-0.8zM86.7 112.9h0.8v0.8h-0.8zM83.8 114.1h0.8v0.8h-0.8zM74.5 113.6h0.8v0.8h-0.8zM76.7 122.2h0.8v0.8h-0.8zM86.7 124.1h0.8v0.8h-0.8zM93.2 122.0h0.8v0.8h-0.8zM89.0 126.7h0.8v0.8h-0.8zM81.0 112.5h0.8v0.8h-0.8zM61.8 111.3h0.8v0.8h-0.8zM71.7 104.7h0.8v0.8h-0.8zM85.0 135.0h0.8v0.8h-0.8zM95.7 139.3h0.8v0.8h-0.8zM81.1 107.8h0.8v0.8h-0.8zM91.1 113.4h0.8v0.8h-0.8zM71.8 119.4h0.8v0.8h-0.8zM63.5 111.1h0.8v0.8h-0.8zM94.1 124.2h0.8v0.8h-0.8zM86.6 115.6h0.8v0.8h-0.8zM63.6 114.0h0.8v0.8h-0.8zM94.0 151.9h0.8v0.8h-0.8zM87.6 147.3h0.8v0.8h-0.8zM71.6 109.9h0.8v0.8h-0.8zM96.7 133.1h0.8v0.8h-0.8zM95.0 144.8h0.8v0.8h-0.8zM83.6 113.6h0.8v0.8h-0.8zM88.2 137.0h0.8v0.8h-0.8zM82.3 134.4h0.8v0.8h-0.8zM85.4 122.3h0.8v0.8h-0.8zM83.8 122.8h0.8v0.8h-0.8zM95.7 130.1h0.8v0.8h-0.8zM98.1 122.1h0.8v0.8h-0.8zM90.4 129.7h0.8v0.8h-0.8zM85.0 120.3h0.8v0.8h-0.8zM75.1 112.2h0.8v0.8h-0.8zM67.1 103.6h0.8v0.8h-0.8zM76.9 111.6h0.8v0.8h-0.8zM87.9 117.9h0.8v0.8h-0.8zM90.8 128.7h0.8v0.8h-0.8zM57.8 108.2h0.8v0.8h-0.8zM88.6 138.4h0.8v0.8h-0.8zM68.3 103.8h0.8v0.8h-0.8zM90.9 118.9h0.8v0.8h-0.8zM92.3 133.1h0.8v0.8h-0.8zM90.6 150.0h0.8v0.8h-0.8zM82.7 106.2h0.8v0.8h-0.8zM68.7 113.3h0.8v0.8h-0.8zM99.7 124.0h0.8v0.8h-0.8zM90.8 126.8h0.8v0.8h-0.8zM97.8 125.5h0.8v0.8h-0.8zM95.8 143.0h0.8v0.8h-0.8zM65.6 114.0h0.8v0.8h-0.8zM89.4 119.8h0.8v0.8h-0.8zM89.5 144.8h0.8v0.8h-0.8zM91.6 120.0h0.8v0.8h-0.8zM92.9 141.4h0.8v0.8h-0.8zM95.5 142.3h0.8v0.8h-0.8zM88.8 127.8h0.8v0.8h-0.8zM104.7 151.3h0.8v0.8h-0.8zM84.9 151.3h0.8v0.8h-0.8zM82.5 154.9h0.8v0.8h-0.8zM90.6 147.4h0.8v0.8h-0.8zM93.5 139.1h0.8v0.8h-0.8zM84.1 116.2h0.8v0.8h-0.8zM93.2 152.2h0.8v0.8h-0.8zM89.8 135.7h0.8v0.8h-0.8zM93.0 127.3h0.8v0.8h-0.8zM81.4 120.1h0.8v0.8h-0.8zM80.6 119.7h0.8v0.8h-0.8zM98.3 139.3h0.8v0.8h-0.8zM68.7 111.0h0.8v0.8h-0.8zM92.2 148.9h0.8v0.8h-0.8zM95.1 129.7h0.8v0.8h-0.8zM89.3 135.6h0.8v0.8h-0.8zM87.7 127.6h0.8v0.8h-0.8zM69.2 101.7h0.8v0.8h-0.8zM90.3 111.4h0.8v0.8h-0.8zM95.8 125.9h0.8v0.8h-0.8zM71.0 106.8h0.8v0.8h-0.8zM91.4 140.2h0.8v0.8h-0.8zM97.7 133.0h0.8v0.8h-0.8zM82.6 117.4h0.8v0.8h-0.8zM89.2 141.4h0.8v0.8h-0.8zM94.7 146.8h0.8v0.8h-0.8zM92.6 124.6h0.8v0.8h-0.8zM89.4 151.5h0.8v0.8h-0.8zM88.7 128.1h0.8v0.8h-0.8zM85.8 106.0h0.8v0.8h-0.8zM89.1 150.0h0.8v0.8h-0.8zM86.3 111.3h0.8v0.8h-0.8zM91.1 149.0h0.8v0.8h-0.8zM89.1 114.6h0.8v0.8h-0.8zM88.1 119.9h0.8v0.8h-0.8zM93.1 121.3h0.8v0.8h-0.8zM92.0 133.5h0.8v0.8h-0.8zM92.0 136.4h0.8v0.8h-0.8zM96.9 128.1h0.8v0.8h-0.8zM90.9 112.3h0.8v0.8h-0.8zM83.8 113.1h0.8v0.8h-0.8zM80.0 107.1h0.8v0.8h-0.8zM92.6 148.5h0.8v0.8h-0.8zM81.5 105.4h0.8v0.8h-0.8zM85.8 119.2h0.8v0.8h-0.8zM76.5 107.1h0.8v0.8h-0.8zM67.3 112.4h0.8v0.8h-0.8zM90.2 150.4h0.8v0.8h-0.8zM88.6 119.8h0.8v0.8h-0.8zM88.7 120.3h0.8v0.8h-0.8zM92.7 127.3h0.8v0.8h-0.8zM81.6 108.7h0.8v0.8h-0.8zM87.3 118.8h0.8v0.8h-0.8zM72.3 105.2h0.8v0.8h-0.8zM82.6 108.3h0.8v0.8h-0.8zM80.3 114.5h0.8v0.8h-0.8zM80.0 119.7h0.8v0.8h-0.8zM85.1 124.8h0.8v0.8h-0.8zM68.1 110.1h0.8v0.8h-0.8zM68.4 109.0h0.8v0.8h-0.8zM84.4 125.4h0.8v0.8h-0.8zM92.1 118.2h0.8v0.8h-0.8zM58.5 105.3h0.8v0.8h-0.8zM84.2 119.1h0.8v0.8h-0.8zM82.2 102.7h0.8v0.8h-0.8zM77.5 110.6h0.8v0.8h-0.8zM72.1 104.4h0.8v0.8h-0.8zM98.9 151.4h0.8v0.8h-0.8zM87.1 116.8h0.8v0.8h-0.8zM70.1 106.9h0.8v0.8h-0.8zM93.5 137.8h0.8v0.8h-0.8zM86.6 147.7h0.8v0.8h-0.8zM91.7 152.1h0.8v0.8h-0.8zM88.1 140.5h0.8v0.8h-0.8zM84.2 117.5h0.8v0.8h-0.8zM84.9 120.3h0.8v0.8h-0.8zM79.9 113.7h0.8v0.8h-0.8zM97.7 144.3h0.8v0.8h-0.8zM93.2 149.2h0.8v0.8h-0.8zM90.7 144.8h0.8v0.8h-0.8zM85.4 111.4h0.8v0.8h-0.8zM93.2 145.6h0.8v0.8h-0.8zM64.7 106.3h0.8v0.8h-0.8zM88.9 124.3h0.8v0.8h-0.8zM92.6 129.7h0.8v0.8h-0.8zM80.8 105.9h0.8v0.8h-0.8zM61.6 117.9h0.8v0.8h-0.8zM80.6 116.9h0.8v0.8h-0.8zM92.8 145.4h0.8v0.8h-0.8zM93.4 134.9h0.8v0.8h-0.8zM85.3 114.6h0.8v0.8h-0.8zM68.5 106.3h0.8v0.8h-0.8zM69.1 109.6h0.8v0.8h-0.8zM76.8 109.8h0.8v0.8h-0.8zM78.4 112.4h0.8v0.8h-0.8zM96.4 132.7h0.8v0.8h-0.8zM66.6 106.6h0.8v0.8h-0.8zM93.1 131.5h0.8v0.8h-0.8zM76.4 106.1h0.8v0.8h-0.8zM96.1 145.8h0.8v0.8h-0.8zM89.1 129.7h0.8v0.8h-0.8zM92.0 124.0h0.8v0.8h-0.8zM89.1 145.3h0.8v0.8h-0.8zM80.2 107.0h0.8v0.8h-0.8zM83.2 113.9h0.8v0.8h-0.8zM72.0 108.2h0.8v0.8h-0.8zM87.6 116.4h0.8v0.8h-0.8zM84.3 116.3h0.8v0.8h-0.8zM62.7 108.8h0.8v0.8h-0.8zM90.9 136.4h0.8v0.8h-0.8zM68.1 112.4h0.8v0.8h-0.8zM66.9 106.5h0.8v0.8h-0.8zM91.2 130.4h0.8v0.8h-0.8zM86.0 149.0h0.8v0.8h-0.8zM84.0 127.2h0.8v0.8h-0.8zM66.0 110.9h0.8v0.8h-0.8zM84.4 135.9h0.8v0.8h-0.8zM78.2 120.4h0.8v0.8h-0.8zM87.9 140.1h0.8v0.8h-0.8zM95.8 144.7h0.8v0.8h-0.8zM79.5 109.2h0.8v0.8h-0.8zM91.8 150.5h0.8v0.8h-0.8zM81.4 105.9h0.8v0.8h-0.8zM84.4 107.6h0.8v0.8h-0.8zM78.5 107.1h0.8v0.8h-0.8zM77.4 104.3h0.8v0.8h-0.8zM74.2 113.9h0.8v0.8h-0.8zM86.6 121.5h0.8v0.8h-0.8zM93.8 155.5h0.8v0.8h-0.8zM103.6 121.3h0.8v0.8h-0.8zM63.1 106.3h0.8v0.8h-0.8zM81.0 114.4h0.8v0.8h-0.8zM95.0 155.7h0.8v0.8h-0.8zM90.6 148.6h0.8v0.8h-0.8zM76.9 106.6h0.8v0.8h-0.8zM92.7 129.2h0.8v0.8h-0.8zM80.3 136.7h0.8v0.8h-0.8zM92.9 124.6h0.8v0.8h-0.8zM84.4 134.1h0.8v0.8h-0.8zM77.3 116.7h0.8v0.8h-0.8z" fill="#000" fill-opacity="0.22"/>
<path d="M85.7 129.7h0.8v0.8h-0.8zM92.6 112.5h0.8v0.8h-0.8zM84.6 122.1h0.8v0.8h-0.8zM86.7 113.7h0.8v0.8h-0.8zM86.6 129.9h0.8v0.8h-0.8zM96.0 133.7h0.8v0.8h-0.8zM92.1 102.1h0.8v0.8h-0.8zM83.8 117.8h0.8v0.8h-0.8zM62.7 134.3h0.8v0.8h-0.8zM93.3 122.0h0.8v0.8h-0.8zM88.9 125.9h0.8v0.8h-0.8zM84.3 133.0h0.8v0.8h-0.8zM100.7 128.6h0.8v0.8h-0.8zM81.5 124.1h0.8v0.8h-0.8zM93.9 127.8h0.8v0.8h-0.8zM80.5 129.7h0.8v0.8h-0.8zM91.8 126.7h0.8v0.8h-0.8zM82.6 121.9h0.8v0.8h-0.8zM70.7 121.9h0.8v0.8h-0.8zM82.4 119.7h0.8v0.8h-0.8zM83.7 119.6h0.8v0.8h-0.8zM86.7 122.9h0.8v0.8h-0.8zM81.1 121.0h0.8v0.8h-0.8zM85.3 126.0h0.8v0.8h-0.8zM89.5 119.3h0.8v0.8h-0.8zM79.4 109.1h0.8v0.8h-0.8zM76.0 125.3h0.8v0.8h-0.8zM78.6 134.8h0.8v0.8h-0.8zM84.7 119.0h0.8v0.8h-0.8zM84.7 117.8h0.8v0.8h-0.8zM80.9 122.6h0.8v0.8h-0.8zM74.4 123.1h0.8v0.8h-0.8zM85.3 114.9h0.8v0.8h-0.8zM94.2 124.9h0.8v0.8h-0.8zM94.7 116.8h0.8v0.8h-0.8zM76.0 112.7h0.8v0.8h-0.8zM73.4 107.1h0.8v0.8h-0.8zM98.6 118.3h0.8v0.8h-0.8zM87.6 117.9h0.8v0.8h-0.8zM84.8 134.6h0.8v0.8h-0.8zM72.1 114.3h0.8v0.8h-0.8zM87.1 114.9h0.8v0.8h-0.8zM91.6 132.3h0.8v0.8h-0.8zM93.2 128.0h0.8v0.8h-0.8zM84.7 130.0h0.8v0.8h-0.8zM79.6 112.7h0.8v0.8h-0.8zM83.9 120.1h0.8v0.8h-0.8zM95.8 114.3h0.8v0.8h-0.8zM95.2 115.9h0.8v0.8h-0.8zM75.9 108.7h0.8v0.8h-0.8zM85.7 110.7h0.8v0.8h-0.8zM87.7 122.4h0.8v0.8h-0.8zM82.8 106.8h0.8v0.8h-0.8zM81.8 125.6h0.8v0.8h-0.8zM71.7 127.5h0.8v0.8h-0.8zM86.1 117.8h0.8v0.8h-0.8zM87.6 127.2h0.8v0.8h-0.8zM85.8 115.9h0.8v0.8h-0.8zM92.3 116.7h0.8v0.8h-0.8zM88.9 129.8h0.8v0.8h-0.8zM96.5 134.7h0.8v0.8h-0.8zM94.2 123.2h0.8v0.8h-0.8zM84.4 123.5h0.8v0.8h-0.8zM90.2 145.7h0.8v0.8h-0.8zM91.3 115.5h0.8v0.8h-0.8zM98.2 109.5h0.8v0.8h-0.8zM94.1 112.0h0.8v0.8h-0.8zM77.3 118.1h0.8v0.8h-0.8zM83.7 111.4h0.8v0.8h-0.8zM91.0 121.2h0.8v0.8h-0.8zM96.8 114.0h0.8v0.8h-0.8zM71.5 127.5h0.8v0.8h-0.8zM84.2 129.8h0.8v0.8h-0.8zM67.2 112.2h0.8v0.8h-0.8zM86.7 137.5h0.8v0.8h-0.8zM76.1 107.0h0.8v0.8h-0.8zM82.4 133.2h0.8v0.8h-0.8zM98.7 111.3h0.8v0.8h-0.8zM81.1 107.5h0.8v0.8h-0.8zM79.2 114.4h0.8v0.8h-0.8zM89.4 131.0h0.8v0.8h-0.8zM105.1 119.2h0.8v0.8h-0.8zM92.6 123.8h0.8v0.8h-0.8zM87.0 137.3h0.8v0.8h-0.8zM91.6 134.4h0.8v0.8h-0.8zM88.4 128.9h0.8v0.8h-0.8zM90.1 121.3h0.8v0.8h-0.8zM80.4 118.9h0.8v0.8h-0.8zM86.1 119.0h0.8v0.8h-0.8zM83.3 116.5h0.8v0.8h-0.8zM92.9 120.1h0.8v0.8h-0.8zM85.1 120.3h0.8v0.8h-0.8zM96.5 117.8h0.8v0.8h-0.8zM97.3 115.2h0.8v0.8h-0.8zM98.3 126.9h0.8v0.8h-0.8zM82.1 125.6h0.8v0.8h-0.8zM95.1 114.5h0.8v0.8h-0.8zM84.2 124.5h0.8v0.8h-0.8zM84.3 119.7h0.8v0.8h-0.8zM86.2 124.5h0.8v0.8h-0.8zM92.2 133.7h0.8v0.8h-0.8zM83.4 145.3h0.8v0.8h-0.8zM83.4 136.1h0.8v0.8h-0.8zM85.0 110.6h0.8v0.8h-0.8zM82.5 119.3h0.8v0.8h-0.8zM94.6 106.1h0.8v0.8h-0.8zM80.9 121.0h0.8v0.8h-0.8zM91.3 125.2h0.8v0.8h-0.8zM92.9 120.8h0.8v0.8h-0.8zM84.1 131.6h0.8v0.8h-0.8zM99.8 125.0h0.8v0.8h-0.8zM87.3 115.3h0.8v0.8h-0.8zM102.9 125.2h0.8v0.8h-0.8zM91.0 109.3h0.8v0.8h-0.8zM90.9 141.3h0.8v0.8h-0.8zM84.7 120.4h0.8v0.8h-0.8zM98.3 120.6h0.8v0.8h-0.8zM92.8 137.4h0.8v0.8h-0.8zM76.7 115.5h0.8v0.8h-0.8zM91.5 123.0h0.8v0.8h-0.8zM86.3 120.7h0.8v0.8h-0.8zM87.1 124.9h0.8v0.8h-0.8zM82.2 119.8h0.8v0.8h-0.8zM87.9 113.4h0.8v0.8h-0.8zM89.6 104.7h0.8v0.8h-0.8zM91.1 121.1h0.8v0.8h-0.8zM76.6 132.7h0.8v0.8h-0.8zM76.7 138.4h0.8v0.8h-0.8zM80.2 131.6h0.8v0.8h-0.8zM85.5 134.8h0.8v0.8h-0.8zM84.3 130.2h0.8v0.8h-0.8zM83.5 107.2h0.8v0.8h-0.8zM89.1 125.8h0.8v0.8h-0.8zM89.2 135.3h0.8v0.8h-0.8zM80.2 110.7h0.8v0.8h-0.8zM88.1 116.5h0.8v0.8h-0.8zM85.2 122.0h0.8v0.8h-0.8zM79.5 130.7h0.8v0.8h-0.8zM85.1 136.2h0.8v0.8h-0.8zM88.0 130.4h0.8v0.8h-0.8zM83.7 116.8h0.8v0.8h-0.8zM81.8 115.1h0.8v0.8h-0.8zM89.6 123.1h0.8v0.8h-0.8zM77.4 109.8h0.8v0.8h-0.8zM79.2 107.6h0.8v0.8h-0.8zM79.0 110.0h0.8v0.8h-0.8zM91.7 112.8h0.8v0.8h-0.8zM81.3 121.1h0.8v0.8h-0.8zM86.3 125.4h0.8v0.8h-0.8zM92.1 127.1h0.8v0.8h-0.8zM83.3 131.9h0.8v0.8h-0.8zM89.0 116.4h0.8v0.8h-0.8zM97.9 112.7h0.8v0.8h-0.8zM89.8 132.0h0.8v0.8h-0.8zM86.9 124.8h0.8v0.8h-0.8zM87.0 127.3h0.8v0.8h-0.8zM87.8 122.1h0.8v0.8h-0.8zM91.6 107.0h0.8v0.8h-0.8zM88.0 119.6h0.8v0.8h-0.8zM101.6 124.3h0.8v0.8h-0.8zM80.8 127.2h0.8v0.8h-0.8zM83.0 112.6h0.8v0.8h-0.8zM83.8 126.0h0.8v0.8h-0.8zM95.5 130.3h0.8v0.8h-0.8zM87.9 120.7h0.8v0.8h-0.8zM87.6 131.6h0.8v0.8h-0.8zM85.0 131.2h0.8v0.8h-0.8zM79.7 121.9h0.8v0.8h-0.8zM92.2 127.6h0.8v0.8h-0.8zM87.6 118.0h0.8v0.8h-0.8zM71.8 118.6h0.8v0.8h-0.8zM79.3 118.8h0.8v0.8h-0.8zM98.6 115.9h0.8v0.8h-0.8zM92.8 121.9h0.8v0.8h-0.8zM77.3 122.9h0.8v0.8h-0.8zM92.0 112.6h0.8v0.8h-0.8zM76.9 119.0h0.8v0.8h-0.8zM91.8 117.3h0.8v0.8h-0.8zM89.4 125.7h0.8v0.8h-0.8zM86.1 125.6h0.8v0.8h-0.8zM96.1 120.5h0.8v0.8h-0.8zM88.6 113.6h0.8v0.8h-0.8zM80.3 121.2h0.8v0.8h-0.8zM92.5 116.7h0.8v0.8h-0.8zM75.1 129.3h0.8v0.8h-0.8zM104.8 101.6h0.8v0.8h-0.8zM77.7 123.0h0.8v0.8h-0.8zM89.9 114.5h0.8v0.8h-0.8zM88.7 130.7h0.8v0.8h-0.8zM83.9 127.8h0.8v0.8h-0.8zM87.0 114.7h0.8v0.8h-0.8zM81.2 117.2h0.8v0.8h-0.8zM96.5 131.2h0.8v0.8h-0.8zM87.9 109.7h0.8v0.8h-0.8zM82.2 118.8h0.8v0.8h-0.8zM70.9 121.9h0.8v0.8h-0.8zM88.3 111.6h0.8v0.8h-0.8zM82.7 118.4h0.8v0.8h-0.8zM100.6 127.3h0.8v0.8h-0.8zM92.1 122.7h0.8v0.8h-0.8zM76.0 129.3h0.8v0.8h-0.8zM80.7 106.8h0.8v0.8h-0.8zM91.8 119.3h0.8v0.8h-0.8zM86.0 126.1h0.8v0.8h-0.8zM84.2 125.3h0.8v0.8h-0.8zM96.2 119.5h0.8v0.8h-0.8zM83.3 122.2h0.8v0.8h-0.8zM91.1 118.9h0.8v0.8h-0.8zM86.7 116.6h0.8v0.8h-0.8zM85.4 126.3h0.8v0.8h-0.8zM79.6 120.6h0.8v0.8h-0.8zM74.6 116.5h0.8v0.8h-0.8zM86.6 126.2h0.8v0.8h-0.8zM78.0 121.2h0.8v0.8h-0.8zM78.8 124.5h0.8v0.8h-0.8zM88.1 125.5h0.8v0.8h-0.8zM84.4 110.8h0.8v0.8h-0.8zM81.6 111.4h0.8v0.8h-0.8zM80.7 121.6h0.8v0.8h-0.8zM94.5 116.9h0.8v0.8h-0.8zM80.0 123.6h0.8v0.8h-0.8zM69.9 137.7h0.8v0.8h-0.8zM74.0 130.0h0.8v0.8h-0.8zM93.7 129.6h0.8v0.8h-0.8zM85.2 127.8h0.8v0.8h-0.8zM83.3 129.6h0.8v0.8h-0.8zM80.9 115.6h0.8v0.8h-0.8zM89.0 118.4h0.8v0.8h-0.8zM91.3 115.2h0.8v0.8h-0.8zM88.1 114.3h0.8v0.8h-0.8zM85.2 138.9h0.8v0.8h-0.8zM77.6 112.3h0.8v0.8h-0.8zM73.5 120.2h0.8v0.8h-0.8zM98.7 118.5h0.8v0.8h-0.8zM93.3 120.6h0.8v0.8h-0.8zM81.1 137.8h0.8v0.8h-0.8zM94.4 107.5h0.8v0.8h-0.8zM78.4 125.3h0.8v0.8h-0.8zM91.1 120.3h0.8v0.8h-0.8zM88.5 126.3h0.8v0.8h-0.8zM83.3 129.9h0.8v0.8h-0.8zM79.4 128.0h0.8v0.8h-0.8zM93.1 123.6h0.8v0.8h-0.8zM83.3 121.9h0.8v0.8h-0.8zM68.8 124.0h0.8v0.8h-0.8zM75.0 106.1h0.8v0.8h-0.8zM92.0 114.8h0.8v0.8h-0.8zM88.8 122.4h0.8v0.8h-0.8zM72.3 114.9h0.8v0.8h-0.8zM83.9 125.7h0.8v0.8h-0.8zM86.6 112.1h0.8v0.8h-0.8zM81.9 122.8h0.8v0.8h-0.8zM76.1 118.5h0.8v0.8h-0.8zM81.8 105.3h0.8v0.8h-0.8zM99.4 128.9h0.8v0.8h-0.8zM82.4 129.5h0.8v0.8h-0.8zM77.9 134.1h0.8v0.8h-0.8zM83.1 123.1h0.8v0.8h-0.8zM81.5 122.7h0.8v0.8h-0.8zM88.6 122.3h0.8v0.8h-0.8zM79.6 128.0h0.8v0.8h-0.8zM90.3 122.0h0.8v0.8h-0.8zM94.2 116.2h0.8v0.8h-0.8zM95.9 120.8h0.8v0.8h-0.8zM97.8 118.5h0.8v0.8h-0.8zM84.1 123.7h0.8v0.8h-0.8zM94.5 133.4h0.8v0.8h-0.8zM82.5 116.3h0.8v0.8h-0.8zM91.9 131.8h0.8v0.8h-0.8zM91.5 119.4h0.8v0.8h-0.8zM95.9 121.8h0.8v0.8h-0.8zM87.3 126.9h0.8v0.8h-0.8zM81.6 104.2h0.8v0.8h-0.8zM87.7 127.6h0.8v0.8h-0.8zM89.4 126.3h0.8v0.8h-0.8zM87.3 130.2h0.8v0.8h-0.8zM86.9 133.8h0.8v0.8h-0.8zM86.4 128.3h0.8v0.8h-0.8zM81.7 124.4h0.8v0.8h-0.8zM89.3 123.1h0.8v0.8h-0.8zM98.0 122.4h0.8v0.8h-0.8zM94.7 124.8h0.8v0.8h-0.8zM94.5 114.9h0.8v0.8h-0.8zM83.2 129.6h0.8v0.8h-0.8zM79.7 125.1h0.8v0.8h-0.8zM90.4 123.5h0.8v0.8h-0.8zM89.4 126.3h0.8v0.8h-0.8zM84.2 125.3h0.8v0.8h-0.8zM82.0 118.5h0.8v0.8h-0.8zM73.7 121.2h0.8v0.8h-0.8zM72.9 122.2h0.8v0.8h-0.8zM87.6 113.4h0.8v0.8h-0.8zM86.6 124.3h0.8v0.8h-0.8zM83.3 114.8h0.8v0.8h-0.8zM85.2 125.2h0.8v0.8h-0.8zM93.2 137.3h0.8v0.8h-0.8zM70.7 124.7h0.8v0.8h-0.8zM89.4 117.0h0.8v0.8h-0.8zM88.5 138.5h0.8v0.8h-0.8zM86.9 132.8h0.8v0.8h-0.8z" fill="#000" fill-opacity="0.15"/>
<path d="M95.2 143.1h0.8v0.8h-0.8zM78.8 157.3h0.8v0.8h-0.8zM97.5 131.4h0.8v0.8h-0.8zM89.0 140.8h0.8v0.8h-0.8zM91.0 147.6h0.8v0.8h-0.8zM95.5 141.8h0.8v0.8h-0.8zM99.3 131.8h0.8v0.8h-0.8zM89.5 152.6h0.8v0.8h-0.8zM94.3 143.9h0.8v0.8h-0.8zM80.7 148.9h0.8v0.8h-0.8zM93.6 128.9h0.8v0.8h-0.8zM87.6 152.0h0.8v0.8h-0.8zM78.4 145.3h0.8v0.8h-0.8zM82.3 135.1h0.8v0.8h-0.8zM92.0 157.1h0.8v0.8h-0.8zM95.6 141.2h0.8v0.8h-0.8zM92.5 131.3h0.8v0.8h-0.8zM82.8 151.8h0.8v0.8h-0.8zM88.1 138.0h0.8v0.8h-0.8zM81.0 144.9h0.8v0.8h-0.8zM100.8 129.1h0.8v0.8h-0.8zM84.9 157.0h0.8v0.8h-0.8zM80.7 141.5h0.8v0.8h-0.8zM90.3 157.1h0.8v0.8h-0.8zM89.9 146.0h0.8v0.8h-0.8zM92.1 150.1h0.8v0.8h-0.8zM82.7 138.6h0.8v0.8h-0.8zM88.9 150.0h0.8v0.8h-0.8zM84.1 140.6h0.8v0.8h-0.8zM86.4 150.0h0.8v0.8h-0.8zM87.9 152.4h0.8v0.8h-0.8zM91.9 138.9h0.8v0.8h-0.8zM88.6 135.9h0.8v0.8h-0.8zM90.5 154.2h0.8v0.8h-0.8zM85.2 131.2h0.8v0.8h-0.8zM92.5 144.4h0.8v0.8h-0.8zM89.9 151.1h0.8v0.8h-0.8zM91.8 155.3h0.8v0.8h-0.8zM87.8 127.4h0.8v0.8h-0.8zM87.6 144.3h0.8v0.8h-0.8zM88.0 150.5h0.8v0.8h-0.8zM88.8 158.6h0.8v0.8h-0.8zM86.9 146.9h0.8v0.8h-0.8zM85.4 138.1h0.8v0.8h-0.8zM88.2 153.8h0.8v0.8h-0.8zM90.1 145.4h0.8v0.8h-0.8zM82.9 128.5h0.8v0.8h-0.8zM89.0 144.9h0.8v0.8h-0.8zM98.6 150.3h0.8v0.8h-0.8zM92.1 155.7h0.8v0.8h-0.8zM85.6 136.0h0.8v0.8h-0.8zM94.8 141.8h0.8v0.8h-0.8zM84.0 155.3h0.8v0.8h-0.8zM95.3 137.2h0.8v0.8h-0.8zM97.8 140.1h0.8v0.8h-0.8zM93.7 145.2h0.8v0.8h-0.8zM88.4 141.5h0.8v0.8h-0.8zM93.4 152.5h0.8v0.8h-0.8zM93.9 144.5h0.8v0.8h-0.8zM98.4 145.3h0.8v0.8h-0.8zM90.7 147.5h0.8v0.8h-0.8zM94.2 150.1h0.8v0.8h-0.8zM80.8 152.8h0.8v0.8h-0.8zM85.2 147.7h0.8v0.8h-0.8zM89.2 149.4h0.8v0.8h-0.8zM78.2 153.2h0.8v0.8h-0.8zM101.4 143.3h0.8v0.8h-0.8zM94.4 152.6h0.8v0.8h-0.8zM91.5 142.5h0.8v0.8h-0.8zM93.1 149.4h0.8v0.8h-0.8zM97.1 154.5h0.8v0.8h-0.8zM86.5 120.9h0.8v0.8h-0.8zM97.4 151.4h0.8v0.8h-0.8zM90.8 141.6h0.8v0.8h-0.8zM90.5 143.7h0.8v0.8h-0.8zM92.6 155.5h0.8v0.8h-0.8zM91.3 150.2h0.8v0.8h-0.8zM83.8 148.1h0.8v0.8h-0.8zM90.3 146.3h0.8v0.8h-0.8zM88.8 149.8h0.8v0.8h-0.8zM87.2 145.2h0.8v0.8h-0.8zM85.6 136.2h0.8v0.8h-0.8zM87.4 143.3h0.8v0.8h-0.8zM84.7 125.1h0.8v0.8h-0.8zM98.1 156.2h0.8v0.8h-0.8zM88.1 152.0h0.8v0.8h-0.8zM84.5 132.5h0.8v0.8h-0.8zM91.7 152.2h0.8v0.8h-0.8zM86.6 147.0h0.8v0.8h-0.8zM74.8 145.8h0.8v0.8h-0.8zM95.2 148.5h0.8v0.8h-0.8zM90.9 152.2h0.8v0.8h-0.8zM79.7 135.4h0.8v0.8h-0.8zM83.7 149.2h0.8v0.8h-0.8zM86.9 130.1h0.8v0.8h-0.8zM94.4 145.3h0.8v0.8h-0.8zM81.8 135.6h0.8v0.8h-0.8zM92.0 150.2h0.8v0.8h-0.8zM93.4 152.9h0.8v0.8h-0.8zM83.7 153.7h0.8v0.8h-0.8zM94.9 143.4h0.8v0.8h-0.8zM85.5 142.6h0.8v0.8h-0.8zM87.1 151.7h0.8v0.8h-0.8zM93.8 147.2h0.8v0.8h-0.8zM88.5 131.1h0.8v0.8h-0.8zM87.9 138.1h0.8v0.8h-0.8zM87.3 150.1h0.8v0.8h-0.8zM85.7 142.2h0.8v0.8h-0.8zM84.3 144.7h0.8v0.8h-0.8zM88.6 156.0h0.8v0.8h-0.8zM80.3 155.2h0.8v0.8h-0.8zM93.2 142.3h0.8v0.8h-0.8zM86.6 148.8h0.8v0.8h-0.8zM92.6 145.6h0.8v0.8h-0.8zM89.2 147.2h0.8v0.8h-0.8zM84.6 149.4h0.8v0.8h-0.8zM92.9 147.5h0.8v0.8h-0.8zM84.3 147.0h0.8v0.8h-0.8zM89.5 149.8h0.8v0.8h-0.8zM87.9 154.4h0.8v0.8h-0.8zM95.4 154.4h0.8v0.8h-0.8zM91.2 157.9h0.8v0.8h-0.8zM89.8 145.5h0.8v0.8h-0.8zM82.9 147.2h0.8v0.8h-0.8zM96.0 138.5h0.8v0.8h-0.8zM93.9 135.7h0.8v0.8h-0.8zM90.2 136.6h0.8v0.8h-0.8zM91.4 145.7h0.8v0.8h-0.8zM93.9 142.4h0.8v0.8h-0.8zM81.4 142.8h0.8v0.8h-0.8zM92.9 156.1h0.8v0.8h-0.8zM91.4 147.2h0.8v0.8h-0.8zM93.4 145.3h0.8v0.8h-0.8zM87.7 149.0h0.8v0.8h-0.8zM95.4 142.6h0.8v0.8h-0.8zM92.4 141.3h0.8v0.8h-0.8zM86.3 148.6h0.8v0.8h-0.8zM83.4 139.5h0.8v0.8h-0.8zM84.1 141.7h0.8v0.8h-0.8zM93.0 147.7h0.8v0.8h-0.8zM83.3 126.0h0.8v0.8h-0.8zM92.2 141.5h0.8v0.8h-0.8zM95.2 143.5h0.8v0.8h-0.8zM83.5 141.4h0.8v0.8h-0.8zM82.4 134.5h0.8v0.8h-0.8zM93.5 142.3h0.8v0.8h-0.8zM93.4 142.1h0.8v0.8h-0.8zM88.8 142.2h0.8v0.8h-0.8zM87.3 141.2h0.8v0.8h-0.8zM97.4 146.5h0.8v0.8h-0.8zM96.2 156.9h0.8v0.8h-0.8zM89.4 145.7h0.8v0.8h-0.8zM87.6 148.1h0.8v0.8h-0.8zM92.3 147.0h0.8v0.8h-0.8zM85.9 138.5h0.8v0.8h-0.8zM83.8 141.4h0.8v0.8h-0.8zM89.8 152.2h0.8v0.8h-0.8zM89.4 149.1h0.8v0.8h-0.8zM91.8 157.0h0.8v0.8h-0.8zM83.5 156.7h0.8v0.8h-0.8zM92.1 151.8h0.8v0.8h-0.8zM82.5 145.0h0.8v0.8h-0.8zM88.7 152.6h0.8v0.8h-0.8zM93.4 153.1h0.8v0.8h-0.8zM83.5 158.1h0.8v0.8h-0.8zM90.3 155.2h0.8v0.8h-0.8zM89.9 140.9h0.8v0.8h-0.8zM103.0 152.8h0.8v0.8h-0.8zM93.7 143.0h0.8v0.8h-0.8zM88.8 156.8h0.8v0.8h-0.8zM95.9 137.6h0.8v0.8h-0.8zM82.3 157.2h0.8v0.8h-0.8zM92.9 144.8h0.8v0.8h-0.8zM88.5 142.2h0.8v0.8h-0.8zM98.9 145.6h0.8v0.8h-0.8zM83.1 155.0h0.8v0.8h-0.8zM89.5 150.1h0.8v0.8h-0.8zM88.0 146.7h0.8v0.8h-0.8zM80.6 151.7h0.8v0.8h-0.8zM86.5 143.7h0.8v0.8h-0.8zM91.5 158.2h0.8v0.8h-0.8zM79.2 145.9h0.8v0.8h-0.8zM92.7 155.9h0.8v0.8h-0.8zM85.4 149.8h0.8v0.8h-0.8zM91.9 155.1h0.8v0.8h-0.8zM86.8 145.4h0.8v0.8h-0.8zM87.4 156.9h0.8v0.8h-0.8zM95.3 143.2h0.8v0.8h-0.8zM89.2 149.0h0.8v0.8h-0.8zM85.4 146.1h0.8v0.8h-0.8zM94.2 153.8h0.8v0.8h-0.8zM86.5 141.4h0.8v0.8h-0.8zM89.3 134.3h0.8v0.8h-0.8zM91.5 148.1h0.8v0.8h-0.8zM83.3 145.0h0.8v0.8h-0.8zM86.6 144.7h0.8v0.8h-0.8zM85.1 153.7h0.8v0.8h-0.8zM89.6 147.1h0.8v0.8h-0.8zM90.3 130.8h0.8v0.8h-0.8zM101.9 145.2h0.8v0.8h-0.8zM88.3 137.4h0.8v0.8h-0.8zM86.1 150.9h0.8v0.8h-0.8zM95.1 155.2h0.8v0.8h-0.8zM87.9 132.1h0.8v0.8h-0.8zM91.9 152.0h0.8v0.8h-0.8zM88.3 143.4h0.8v0.8h-0.8zM98.7 133.5h0.8v0.8h-0.8zM87.4 141.9h0.8v0.8h-0.8zM82.1 141.1h0.8v0.8h-0.8zM85.9 157.8h0.8v0.8h-0.8zM81.2 135.3h0.8v0.8h-0.8zM91.2 133.8h0.8v0.8h-0.8zM79.9 141.7h0.8v0.8h-0.8zM83.9 138.7h0.8v0.8h-0.8zM89.1 151.0h0.8v0.8h-0.8zM86.7 144.7h0.8v0.8h-0.8zM93.5 145.8h0.8v0.8h-0.8zM93.6 142.1h0.8v0.8h-0.8zM92.3 158.0h0.8v0.8h-0.8zM88.3 144.2h0.8v0.8h-0.8zM89.1 151.1h0.8v0.8h-0.8zM83.9 147.4h0.8v0.8h-0.8zM81.3 152.7h0.8v0.8h-0.8zM88.3 140.7h0.8v0.8h-0.8zM90.6 145.1h0.8v0.8h-0.8zM90.1 149.1h0.8v0.8h-0.8z" fill="#000" fill-opacity="0.2"/>
<rect x="49.2" y="101" width="59.60" height="58.50" fill="none" stroke="#222" stroke-width="1"/>
<line x1="71.5" y1="101" x2="71.5" y2="159.5" stroke="#555" stroke-width="0.8" stroke-linecap="butt"/>
<line x1="49.2" y1="135.6" x2="108.8" y2="135.6" stroke="#555" stroke-width="0.8" stroke-linecap="butt"/>
<text x="54.8" y="109.53" font-size="7.8" text-anchor="start" fill="#222" stroke="#222" stroke-width="0.3" textLength="7.7" lengthAdjust="spacingAndGlyphs">15</text>
<text x="105.3" y="109.53" font-size="7.8" text-anchor="end" fill="#222" stroke="#222" stroke-width="0.3" textLength="8.0" lengthAdjust="spacingAndGlyphs">46</text>
<text x="56.0" y="155.93" font-size="7.8" text-anchor="start" fill="#222" stroke="#222" stroke-width="0.3" textLength="7" lengthAdjust="spacingAndGlyphs">11</text>
<text x="105.2" y="155.93" font-size="7.8" text-anchor="end" fill="#222" stroke="#222" stroke-width="0.3" textLength="8.2" lengthAdjust="spacingAndGlyphs">29</text>
<text transform="translate(38.9,126.9) rotate(-90)" x="0" y="2.62" font-size="7.5" text-anchor="middle" fill="#222" stroke="#222" stroke-width="0.2" textLength="34.6" lengthAdjust="spacingAndGlyphs">CD45 APC</text>
<text x="63" y="174.32" font-size="7.5" text-anchor="start" fill="#222" stroke="#222" stroke-width="0.2" textLength="30" lengthAdjust="spacingAndGlyphs">CD41 PE</text>
<text transform="translate(48.3,106.3) rotate(0)" x="0" y="1.2" font-size="3.4" fill="#555" stroke="#555" stroke-width="0.1" text-anchor="end">10<tspan font-size="2.4" dy="-1.2">4</tspan></text>
<text transform="translate(48.3,119.8) rotate(0)" x="0" y="1.2" font-size="3.4" fill="#555" stroke="#555" stroke-width="0.1" text-anchor="end">10<tspan font-size="2.4" dy="-1.2">3</tspan></text>
<text transform="translate(48.3,133) rotate(0)" x="0" y="1.2" font-size="3.4" fill="#555" stroke="#555" stroke-width="0.1" text-anchor="end">10<tspan font-size="2.4" dy="-1.2">2</tspan></text>
<text transform="translate(48.3,146.9) rotate(0)" x="0" y="1.2" font-size="3.4" fill="#555" stroke="#555" stroke-width="0.1" text-anchor="end">10<tspan font-size="2.4" dy="-1.2">1</tspan></text>
<text transform="translate(48.3,153) rotate(0)" x="0" y="1.2" font-size="3.4" fill="#555" stroke="#555" stroke-width="0.1" text-anchor="end">0</text>
<text transform="translate(56,164.7) rotate(0)" x="0" y="1.2" font-size="3.4" fill="#555" stroke="#555" stroke-width="0.1" text-anchor="middle">0</text>
<text transform="translate(62.3,164.7) rotate(0)" x="0" y="1.2" font-size="3.4" fill="#555" stroke="#555" stroke-width="0.1" text-anchor="middle">10<tspan font-size="2.4" dy="-1.2">1</tspan></text>
<text transform="translate(76,164.7) rotate(0)" x="0" y="1.2" font-size="3.4" fill="#555" stroke="#555" stroke-width="0.1" text-anchor="middle">10<tspan font-size="2.4" dy="-1.2">2</tspan></text>
<text transform="translate(89.2,164.7) rotate(0)" x="0" y="1.2" font-size="3.4" fill="#555" stroke="#555" stroke-width="0.1" text-anchor="middle">10<tspan font-size="2.4" dy="-1.2">3</tspan></text>
<text transform="translate(102.3,164.7) rotate(0)" x="0" y="1.2" font-size="3.4" fill="#555" stroke="#555" stroke-width="0.1" text-anchor="middle">10<tspan font-size="2.4" dy="-1.2">4</tspan></text>
<text x="3.75" y="186.5" font-size="11" font-weight="bold" fill="#111" stroke="#111" stroke-width="0.35">E</text>
<text x="68.8" y="194.76" font-size="7.6" text-anchor="start" fill="#222" stroke="#222" stroke-width="0.2" textLength="17.4" lengthAdjust="spacingAndGlyphs">Exp 1</text>
<text x="200.0" y="194.76" font-size="7.6" text-anchor="start" fill="#222" stroke="#222" stroke-width="0.2" textLength="18.1" lengthAdjust="spacingAndGlyphs">Exp 2</text>
<rect x="26.5" y="197.5" width="108.10" height="64.60" fill="none" stroke="#111" stroke-width="1.3"/>
<text x="23.3" y="209.60" font-size="5.3" text-anchor="end" fill="#555" stroke="#555" stroke-width="0.08">100</text>
<text x="23.3" y="220.35" font-size="5.3" text-anchor="end" fill="#555" stroke="#555" stroke-width="0.08">80</text>
<text x="23.3" y="231.16" font-size="5.3" text-anchor="end" fill="#555" stroke="#555" stroke-width="0.08">60</text>
<text x="23.3" y="241.75" font-size="5.3" text-anchor="end" fill="#555" stroke="#555" stroke-width="0.08">40</text>
<text x="23.3" y="252.45" font-size="5.3" text-anchor="end" fill="#555" stroke="#555" stroke-width="0.08">20</text>
<text x="23.3" y="263.25" font-size="5.3" text-anchor="end" fill="#555" stroke="#555" stroke-width="0.08">0</text>
<text x="26.8" y="269.56" font-size="5.3" text-anchor="middle" fill="#555" stroke="#555" stroke-width="0.08">0</text>
<text x="38.9" y="269.56" font-size="5.3" text-anchor="middle" fill="#555" stroke="#555" stroke-width="0.08">10</text>
<text x="51.0" y="269.56" font-size="5.3" text-anchor="middle" fill="#555" stroke="#555" stroke-width="0.08">20</text>
<text x="63.099999999999994" y="269.56" font-size="5.3" text-anchor="middle" fill="#555" stroke="#555" stroke-width="0.08">30</text>
<text x="75.2" y="269.56" font-size="5.3" text-anchor="middle" fill="#555" stroke="#555" stroke-width="0.08">40</text>
<text x="87.3" y="269.56" font-size="5.3" text-anchor="middle" fill="#555" stroke="#555" stroke-width="0.08">50</text>
<text x="99.39999999999999" y="269.56" font-size="5.3" text-anchor="middle" fill="#555" stroke="#555" stroke-width="0.08">60</text>
<text x="111.5" y="269.56" font-size="5.3" text-anchor="middle" fill="#555" stroke="#555" stroke-width="0.08">70</text>
<text x="123.6" y="269.56" font-size="5.3" text-anchor="middle" fill="#555" stroke="#555" stroke-width="0.08">80</text>
<text x="135.7" y="269.56" font-size="5.3" text-anchor="middle" fill="#555" stroke="#555" stroke-width="0.08">90</text>
<rect x="151.7" y="197.5" width="108.70" height="64.60" fill="none" stroke="#111" stroke-width="1.3"/>
<text x="150.6" y="209.60" font-size="5.3" text-anchor="end" fill="#555" stroke="#555" stroke-width="0.08">100</text>
<text x="150.6" y="220.35" font-size="5.3" text-anchor="end" fill="#555" stroke="#555" stroke-width="0.08">80</text>
<text x="150.6" y="231.16" font-size="5.3" text-anchor="end" fill="#555" stroke="#555" stroke-width="0.08">60</text>
<text x="150.6" y="241.75" font-size="5.3" text-anchor="end" fill="#555" stroke="#555" stroke-width="0.08">40</text>
<text x="150.6" y="252.45" font-size="5.3" text-anchor="end" fill="#555" stroke="#555" stroke-width="0.08">20</text>
<text x="150.6" y="263.25" font-size="5.3" text-anchor="end" fill="#555" stroke="#555" stroke-width="0.08">0</text>
<text x="152.0" y="269.56" font-size="5.3" text-anchor="middle" fill="#555" stroke="#555" stroke-width="0.08">0</text>
<text x="164.1" y="269.56" font-size="5.3" text-anchor="middle" fill="#555" stroke="#555" stroke-width="0.08">10</text>
<text x="176.2" y="269.56" font-size="5.3" text-anchor="middle" fill="#555" stroke="#555" stroke-width="0.08">20</text>
<text x="188.3" y="269.56" font-size="5.3" text-anchor="middle" fill="#555" stroke="#555" stroke-width="0.08">30</text>
<text x="200.4" y="269.56" font-size="5.3" text-anchor="middle" fill="#555" stroke="#555" stroke-width="0.08">40</text>
<text x="212.5" y="269.56" font-size="5.3" text-anchor="middle" fill="#555" stroke="#555" stroke-width="0.08">50</text>
<text x="224.6" y="269.56" font-size="5.3" text-anchor="middle" fill="#555" stroke="#555" stroke-width="0.08">60</text>
<text x="236.7" y="269.56" font-size="5.3" text-anchor="middle" fill="#555" stroke="#555" stroke-width="0.08">70</text>
<text x="248.8" y="269.56" font-size="5.3" text-anchor="middle" fill="#555" stroke="#555" stroke-width="0.08">80</text>
<text x="260.9" y="269.56" font-size="5.3" text-anchor="middle" fill="#555" stroke="#555" stroke-width="0.08">90</text>
<line x1="26.5" y1="206.0" x2="134.6" y2="206.0" stroke="#999" stroke-width="1.8" stroke-linecap="butt"/>
<line x1="26.5" y1="208.3" x2="134.6" y2="208.3" stroke="#333" stroke-width="0.7" stroke-linecap="butt"/>
<polyline points="26.5,208.3 42.8,208.3 42.8,243.8 50.0,243.8 50.0,262" fill="none" stroke="#111" stroke-width="1.0" stroke-dasharray="2,1.6" stroke-linejoin="miter"/>
<polyline points="42.8,226.0 46.9,226.0 46.9,243.8 55.9,243.8 55.9,262" fill="none" stroke="#999" stroke-width="1.0" stroke-dasharray="2,1.6" stroke-linejoin="miter"/>
<polyline points="151.7,207.8 172.5,207.8 172.5,225.8 178.1,225.8 178.1,243.9 260.4,243.9" fill="none" stroke="#aaa" stroke-width="1.4" stroke-linejoin="miter"/>
<polyline points="151.7,207.3 185.3,207.3 185.3,224.7 260.4,224.7" fill="none" stroke="#444" stroke-width="1.4" stroke-linejoin="miter"/>
<polyline points="151.7,207.5 170.0,207.5 170.0,226 172.3,226 172.3,243 174.4,244" fill="none" stroke="#111" stroke-width="1.0" stroke-dasharray="2,1.6" stroke-linejoin="miter"/>
<line x1="174.4" y1="245" x2="174.4" y2="262" stroke="#111" stroke-width="0.8" stroke-dasharray="2,1.6" stroke-linecap="butt"/>
<circle cx="174.4" cy="244.2" r="1.4" fill="#fff" stroke="#111" stroke-width="0.8"/>
<line x1="72.3" y1="213.8" x2="81.5" y2="213.8" stroke="#aaa" stroke-width="1.2" stroke-linecap="butt"/>
<line x1="72.3" y1="222.6" x2="81.5" y2="222.6" stroke="#111" stroke-width="1.0" stroke-linecap="butt"/>
<line x1="72.3" y1="231.5" x2="81.5" y2="231.5" stroke="#aaa" stroke-width="1.0" stroke-dasharray="2.2,2.2" stroke-linecap="butt"/>
<line x1="72.3" y1="240.3" x2="81.5" y2="240.3" stroke="#111" stroke-width="1.0" stroke-dasharray="2.2,2.2" stroke-linecap="butt"/>
<text x="84.8" y="217.85" font-size="7" fill="#222" stroke="#222" stroke-width="0.2" textLength="41.8" lengthAdjust="spacingAndGlyphs">CD41<tspan font-size="4" dy="-2.6">high</tspan><tspan dy="2.6">CD45-</tspan></text>
<text x="84.8" y="226.65" font-size="7" fill="#222" stroke="#222" stroke-width="0.2" textLength="42.8" lengthAdjust="spacingAndGlyphs">CD41<tspan font-size="4" dy="-2.6">high</tspan><tspan dy="2.6">CD45+</tspan></text>
<text x="84.8" y="235.55" font-size="7" fill="#222" stroke="#222" stroke-width="0.2" textLength="41.8" lengthAdjust="spacingAndGlyphs">CD41<tspan font-size="4" dy="-2.6">low</tspan><tspan dy="2.6">CD45-</tspan></text>
<text x="84.8" y="244.35" font-size="7" fill="#222" stroke="#222" stroke-width="0.2" textLength="42.8" lengthAdjust="spacingAndGlyphs">CD41<tspan font-size="4" dy="-2.6">low</tspan><tspan dy="2.6">CD45+</tspan></text>
<line x1="264.4" y1="213.7" x2="273.8" y2="213.7" stroke="#aaa" stroke-width="1.2" stroke-linecap="butt"/>
<line x1="264.4" y1="222.2" x2="273.8" y2="222.2" stroke="#111" stroke-width="1.0" stroke-linecap="butt"/>
<line x1="264.4" y1="231.2" x2="273.8" y2="231.2" stroke="#aaa" stroke-width="1.0" stroke-dasharray="2.2,2.2" stroke-linecap="butt"/>
<line x1="264.4" y1="240.3" x2="273.8" y2="240.3" stroke="#111" stroke-width="1.0" stroke-dasharray="2.2,2.2" stroke-linecap="butt"/>
<text x="277.2" y="217.55" font-size="7" fill="#222" stroke="#222" stroke-width="0.2" textLength="42.8" lengthAdjust="spacingAndGlyphs">CD41<tspan font-size="4" dy="-2.6">high</tspan><tspan dy="2.6">CD45-</tspan></text>
<text x="277.2" y="226.05" font-size="7" fill="#222" stroke="#222" stroke-width="0.2" textLength="43.8" lengthAdjust="spacingAndGlyphs">CD41<tspan font-size="4" dy="-2.6">high</tspan><tspan dy="2.6">CD45+</tspan></text>
<text x="277.2" y="235.05" font-size="7" fill="#222" stroke="#222" stroke-width="0.2" textLength="42.8" lengthAdjust="spacingAndGlyphs">CD41<tspan font-size="4" dy="-2.6">low</tspan><tspan dy="2.6">CD45-</tspan></text>
<text x="277.2" y="244.05" font-size="7" fill="#222" stroke="#222" stroke-width="0.2" textLength="43.8" lengthAdjust="spacingAndGlyphs">CD41<tspan font-size="4" dy="-2.6">low</tspan><tspan dy="2.6">CD45+</tspan></text>
<text x="99.2" y="259.40" font-size="6" text-anchor="start" fill="#222" stroke="#222" stroke-width="0.2" textLength="24.4" lengthAdjust="spacingAndGlyphs"><tspan font-style="italic">P</tspan> = .0004</text>
<text x="230.0" y="259.17" font-size="6.5" text-anchor="start" fill="#222" stroke="#222" stroke-width="0.2" textLength="18.1" lengthAdjust="spacingAndGlyphs"><tspan font-style="italic">P</tspan> = .01</text>
<text x="112.7" y="277.53" font-size="7.8" text-anchor="start" fill="#222" stroke="#222" stroke-width="0.2" textLength="66" lengthAdjust="spacingAndGlyphs">Days after transplant</text>
<text transform="translate(9.1,232.3) rotate(-90)" x="0" y="2.80" font-size="8" text-anchor="middle" fill="#222" stroke="#222" stroke-width="0.2" textLength="33.7" lengthAdjust="spacingAndGlyphs">% survival</text>
<text x="3.75" y="294.8" font-size="11" font-weight="bold" fill="#111" stroke="#111" stroke-width="0.35">F</text>
<line x1="27.3" y1="325.3" x2="132.3" y2="325.3" stroke="#c8c8c8" stroke-width="0.9" stroke-linecap="butt"/>
<line x1="27.3" y1="336.1" x2="132.3" y2="336.1" stroke="#c8c8c8" stroke-width="0.9" stroke-linecap="butt"/>
<line x1="27.3" y1="346.6" x2="132.3" y2="346.6" stroke="#c8c8c8" stroke-width="0.9" stroke-linecap="butt"/>
<line x1="27.3" y1="357.2" x2="132.3" y2="357.2" stroke="#c8c8c8" stroke-width="0.9" stroke-linecap="butt"/>
<line x1="27.3" y1="314.7" x2="132.3" y2="314.7" stroke="#c4c4c4" stroke-width="0.9" stroke-dasharray="1,0.8" stroke-linecap="butt"/>
<text x="25.4" y="307.05" font-size="7.0" text-anchor="end" fill="#444" stroke="#444" stroke-width="0.08">120</text>
<text x="25.4" y="317.75" font-size="7.0" text-anchor="end" fill="#444" stroke="#444" stroke-width="0.08">100</text>
<text x="25.4" y="328.45" font-size="7.0" text-anchor="end" fill="#444" stroke="#444" stroke-width="0.08">80</text>
<text x="25.4" y="338.95" font-size="7.0" text-anchor="end" fill="#444" stroke="#444" stroke-width="0.08">60</text>
<text x="25.4" y="349.45" font-size="7.0" text-anchor="end" fill="#444" stroke="#444" stroke-width="0.08">40</text>
<text x="25.4" y="360.45" font-size="7.0" text-anchor="end" fill="#444" stroke="#444" stroke-width="0.08">20</text>
<text x="25.4" y="370.65" font-size="7.0" text-anchor="end" fill="#444" stroke="#444" stroke-width="0.08">0</text>
<rect x="38.5" y="320.6" width="14.6" height="46.8" fill="#fff" stroke="#111" stroke-width="1"/>
<rect x="53.1" y="320.9" width="15.7" height="46.5" fill="#000" stroke="#111" stroke-width="1"/>
<rect x="91.5" y="317.5" width="14.5" height="49.9" fill="#fff" stroke="#111" stroke-width="1"/>
<rect x="106.0" y="354.3" width="15.8" height="13.1" fill="#000" stroke="#111" stroke-width="1"/>
<line x1="46" y1="318.0" x2="46" y2="320.6" stroke="#222" stroke-width="0.8" stroke-linecap="butt"/>
<line x1="45" y1="318.0" x2="47" y2="318.0" stroke="#222" stroke-width="0.8" stroke-linecap="butt"/>
<line x1="61.2" y1="318.1" x2="61.2" y2="320.9" stroke="#222" stroke-width="0.8" stroke-linecap="butt"/>
<line x1="60.2" y1="318.1" x2="62.2" y2="318.1" stroke="#222" stroke-width="0.8" stroke-linecap="butt"/>
<line x1="99" y1="315.6" x2="99" y2="317.5" stroke="#222" stroke-width="0.8" stroke-linecap="butt"/>
<line x1="98" y1="315.6" x2="100" y2="315.6" stroke="#222" stroke-width="0.8" stroke-linecap="butt"/>
<line x1="113.8" y1="337" x2="113.8" y2="354.3" stroke="#555" stroke-width="0.8" stroke-linecap="butt"/>
<line x1="112.8" y1="337" x2="114.8" y2="337" stroke="#555" stroke-width="0.8" stroke-linecap="butt"/>
<rect x="27.3" y="304.0" width="105.00" height="63.50" fill="none" stroke="#444" stroke-width="1.4"/>
<rect x="47.5" y="306.5" width="7" height="6" fill="#fff" stroke="#111" stroke-width="0.8"/>
<rect x="76.3" y="306.5" width="6.8" height="6" fill="#000"/>
<text x="57.3" y="311.46" font-size="5.3" text-anchor="start" fill="#444" stroke="#444" stroke-width="0.08" textLength="15.4" lengthAdjust="spacingAndGlyphs">4 weeks</text>
<text x="85.6" y="311.46" font-size="5.3" text-anchor="start" fill="#444" stroke="#444" stroke-width="0.08" textLength="18.1" lengthAdjust="spacingAndGlyphs">22 weeks</text>
<text x="43.8" y="377.6" font-size="7.5" fill="#222" textLength="20" lengthAdjust="spacingAndGlyphs">CD45<tspan font-size="4" dy="-3">-</tspan></text>
<text x="43.8" y="385.8" font-size="7.5" fill="#222" textLength="28.5" lengthAdjust="spacingAndGlyphs">CD41<tspan font-size="4" dy="-3">high</tspan></text>
<text x="95.4" y="377.6" font-size="7.5" fill="#222" textLength="20.3" lengthAdjust="spacingAndGlyphs">CD45<tspan font-size="4" dy="-3">+</tspan></text>
<text x="95.4" y="385.8" font-size="7.5" fill="#222" textLength="28.4" lengthAdjust="spacingAndGlyphs">CD41<tspan font-size="4" dy="-3">high</tspan></text>
<text transform="translate(4.2,332.0) rotate(-90)" x="0" y="2.20" font-size="6.3" text-anchor="middle" fill="#333" stroke="#333" stroke-width="0.08" textLength="60" lengthAdjust="spacingAndGlyphs">% EPOCH cells-derived</text>
<text transform="translate(12.4,332.0) rotate(-90)" x="0" y="2.20" font-size="6.3" text-anchor="middle" fill="#333" stroke="#333" stroke-width="0.08" textLength="40" lengthAdjust="spacingAndGlyphs">peripheral blood</text>
<text x="140.3" y="297.8" font-size="11" font-weight="bold" fill="#111" stroke="#111" stroke-width="0.35">G</text>
<clipPath id="cg"><rect x="156.6" y="312.2" width="61.8" height="58.4"/></clipPath>
<g clip-path="url(#cg)">
<linearGradient id="gg" x1="0" y1="0" x2="0" y2="1"><stop offset="0" stop-color="#000" stop-opacity="0.6"/><stop offset="0.35" stop-color="#000" stop-opacity="0.45"/><stop offset="0.6" stop-color="#000" stop-opacity="0.12"/><stop offset="1" stop-color="#000" stop-opacity="0.04"/></linearGradient>
<rect x="156.6" y="312.2" width="61.8" height="58.4" fill="url(#gg)"/>
<ellipse cx="173" cy="315" rx="18" ry="11" fill="#000" fill-opacity="0.95" filter="url(#bl30)" transform="rotate(0,173,315)"/>
<ellipse cx="172" cy="314" rx="11" ry="7" fill="#000" fill-opacity="0.9" filter="url(#bl20)" transform="rotate(0,172,314)"/>
<ellipse cx="208" cy="332" rx="13" ry="15" fill="#000" fill-opacity="0.8" filter="url(#bl35)" transform="rotate(0,208,332)"/>
<ellipse cx="210" cy="331" rx="7" ry="9" fill="#000" fill-opacity="0.4" filter="url(#bl20)" transform="rotate(0,210,331)"/>
<path d="M214.3 342.9h0.8v0.8h-0.8zM207.6 368.6h0.8v0.8h-0.8zM162.5 363.5h0.8v0.8h-0.8zM158.2 352.2h0.8v0.8h-0.8zM204.7 334.3h0.8v0.8h-0.8zM210.6 356.0h0.8v0.8h-0.8zM187.0 328.4h0.8v0.8h-0.8zM166.6 316.8h0.8v0.8h-0.8zM189.6 342.3h0.8v0.8h-0.8zM168.3 342.6h0.8v0.8h-0.8zM161.8 329.6h0.8v0.8h-0.8zM197.3 321.1h0.8v0.8h-0.8zM188.5 320.1h0.8v0.8h-0.8zM210.1 324.5h0.8v0.8h-0.8zM213.1 364.6h0.8v0.8h-0.8zM215.1 328.5h0.8v0.8h-0.8zM198.0 316.5h0.8v0.8h-0.8zM215.5 351.7h0.8v0.8h-0.8zM159.2 320.3h0.8v0.8h-0.8zM163.4 332.2h0.8v0.8h-0.8zM213.4 357.2h0.8v0.8h-0.8zM176.6 358.4h0.8v0.8h-0.8zM157.6 343.4h0.8v0.8h-0.8zM180.4 316.8h0.8v0.8h-0.8zM212.3 349.8h0.8v0.8h-0.8zM216.9 348.8h0.8v0.8h-0.8zM194.4 319.7h0.8v0.8h-0.8zM185.7 363.3h0.8v0.8h-0.8zM190.6 348.7h0.8v0.8h-0.8zM184.7 332.8h0.8v0.8h-0.8zM157.7 324.9h0.8v0.8h-0.8zM168.2 317.7h0.8v0.8h-0.8zM160.3 355.3h0.8v0.8h-0.8zM216.9 352.1h0.8v0.8h-0.8zM207.0 324.4h0.8v0.8h-0.8zM208.1 334.1h0.8v0.8h-0.8zM208.5 326.0h0.8v0.8h-0.8zM175.0 342.4h0.8v0.8h-0.8zM170.5 327.2h0.8v0.8h-0.8zM200.7 357.3h0.8v0.8h-0.8zM216.2 349.6h0.8v0.8h-0.8zM178.1 339.1h0.8v0.8h-0.8zM192.3 346.1h0.8v0.8h-0.8zM212.2 344.7h0.8v0.8h-0.8zM214.9 339.6h0.8v0.8h-0.8zM183.9 314.1h0.8v0.8h-0.8zM176.5 339.9h0.8v0.8h-0.8zM157.7 337.4h0.8v0.8h-0.8zM164.0 327.7h0.8v0.8h-0.8zM210.2 364.4h0.8v0.8h-0.8zM163.9 345.8h0.8v0.8h-0.8zM186.3 315.5h0.8v0.8h-0.8zM174.9 342.8h0.8v0.8h-0.8zM182.6 344.8h0.8v0.8h-0.8zM161.0 347.3h0.8v0.8h-0.8zM193.8 323.3h0.8v0.8h-0.8zM191.1 365.5h0.8v0.8h-0.8zM210.6 347.5h0.8v0.8h-0.8zM188.3 355.0h0.8v0.8h-0.8zM184.3 352.6h0.8v0.8h-0.8zM179.4 344.0h0.8v0.8h-0.8zM201.2 345.7h0.8v0.8h-0.8zM193.3 334.3h0.8v0.8h-0.8zM178.1 349.7h0.8v0.8h-0.8zM183.8 337.5h0.8v0.8h-0.8zM179.8 329.0h0.8v0.8h-0.8zM194.7 362.3h0.8v0.8h-0.8zM168.7 349.3h0.8v0.8h-0.8zM189.0 348.6h0.8v0.8h-0.8zM196.9 335.2h0.8v0.8h-0.8zM157.6 333.1h0.8v0.8h-0.8zM188.4 348.2h0.8v0.8h-0.8zM212.8 349.8h0.8v0.8h-0.8zM196.3 332.4h0.8v0.8h-0.8zM204.8 319.8h0.8v0.8h-0.8zM210.3 340.3h0.8v0.8h-0.8zM184.3 351.7h0.8v0.8h-0.8zM189.7 369.0h0.8v0.8h-0.8zM164.3 316.1h0.8v0.8h-0.8zM192.8 325.3h0.8v0.8h-0.8zM170.7 369.1h0.8v0.8h-0.8zM188.9 329.1h0.8v0.8h-0.8zM179.0 325.3h0.8v0.8h-0.8zM172.2 320.1h0.8v0.8h-0.8zM215.8 354.2h0.8v0.8h-0.8zM178.6 318.7h0.8v0.8h-0.8zM215.7 363.0h0.8v0.8h-0.8zM162.7 361.8h0.8v0.8h-0.8zM190.2 368.3h0.8v0.8h-0.8zM183.5 337.2h0.8v0.8h-0.8zM157.5 345.2h0.8v0.8h-0.8zM171.4 362.5h0.8v0.8h-0.8zM170.5 362.6h0.8v0.8h-0.8zM177.1 358.2h0.8v0.8h-0.8zM200.0 365.4h0.8v0.8h-0.8zM191.6 332.9h0.8v0.8h-0.8zM172.8 325.8h0.8v0.8h-0.8zM163.2 329.5h0.8v0.8h-0.8zM176.1 359.2h0.8v0.8h-0.8zM157.4 341.0h0.8v0.8h-0.8zM187.6 321.5h0.8v0.8h-0.8zM198.7 324.3h0.8v0.8h-0.8zM201.7 322.1h0.8v0.8h-0.8zM209.9 330.2h0.8v0.8h-0.8zM162.7 321.0h0.8v0.8h-0.8zM169.3 320.0h0.8v0.8h-0.8zM175.9 367.5h0.8v0.8h-0.8zM179.6 334.8h0.8v0.8h-0.8zM202.3 316.7h0.8v0.8h-0.8zM162.3 361.8h0.8v0.8h-0.8zM176.7 322.4h0.8v0.8h-0.8zM168.1 354.7h0.8v0.8h-0.8zM215.8 335.1h0.8v0.8h-0.8zM199.8 338.7h0.8v0.8h-0.8zM169.3 330.4h0.8v0.8h-0.8zM177.4 326.7h0.8v0.8h-0.8zM204.8 317.7h0.8v0.8h-0.8zM180.3 354.2h0.8v0.8h-0.8zM159.0 367.1h0.8v0.8h-0.8zM194.0 349.5h0.8v0.8h-0.8zM168.6 324.0h0.8v0.8h-0.8zM207.8 367.8h0.8v0.8h-0.8zM157.9 358.8h0.8v0.8h-0.8zM169.0 316.9h0.8v0.8h-0.8zM192.9 317.9h0.8v0.8h-0.8zM207.6 360.4h0.8v0.8h-0.8zM174.2 320.7h0.8v0.8h-0.8zM187.9 355.0h0.8v0.8h-0.8zM159.3 352.4h0.8v0.8h-0.8zM164.4 333.9h0.8v0.8h-0.8zM166.9 317.1h0.8v0.8h-0.8zM189.2 329.5h0.8v0.8h-0.8zM211.8 363.8h0.8v0.8h-0.8zM200.7 341.5h0.8v0.8h-0.8zM195.9 331.4h0.8v0.8h-0.8zM185.2 343.6h0.8v0.8h-0.8zM182.4 337.7h0.8v0.8h-0.8zM208.3 368.6h0.8v0.8h-0.8zM201.3 361.2h0.8v0.8h-0.8zM175.4 316.7h0.8v0.8h-0.8zM170.4 340.8h0.8v0.8h-0.8zM203.0 354.1h0.8v0.8h-0.8zM212.1 356.7h0.8v0.8h-0.8zM175.0 315.6h0.8v0.8h-0.8zM186.0 331.2h0.8v0.8h-0.8zM209.4 363.8h0.8v0.8h-0.8zM189.4 356.4h0.8v0.8h-0.8zM200.8 342.0h0.8v0.8h-0.8zM183.6 366.5h0.8v0.8h-0.8zM205.0 344.9h0.8v0.8h-0.8zM216.4 320.9h0.8v0.8h-0.8zM203.3 343.7h0.8v0.8h-0.8zM176.4 319.7h0.8v0.8h-0.8zM192.0 361.8h0.8v0.8h-0.8zM167.6 363.4h0.8v0.8h-0.8zM216.4 323.5h0.8v0.8h-0.8zM190.3 340.0h0.8v0.8h-0.8zM177.2 319.3h0.8v0.8h-0.8zM173.1 365.9h0.8v0.8h-0.8zM207.6 366.4h0.8v0.8h-0.8zM187.0 340.8h0.8v0.8h-0.8zM160.7 336.7h0.8v0.8h-0.8zM192.0 368.8h0.8v0.8h-0.8zM160.9 349.7h0.8v0.8h-0.8zM159.8 367.6h0.8v0.8h-0.8zM169.2 351.8h0.8v0.8h-0.8zM195.2 324.2h0.8v0.8h-0.8zM184.8 336.5h0.8v0.8h-0.8zM167.8 335.0h0.8v0.8h-0.8zM160.8 352.6h0.8v0.8h-0.8zM215.5 343.2h0.8v0.8h-0.8zM181.1 341.7h0.8v0.8h-0.8zM165.7 354.4h0.8v0.8h-0.8zM198.6 318.4h0.8v0.8h-0.8zM179.7 319.5h0.8v0.8h-0.8zM199.2 313.3h0.8v0.8h-0.8zM209.4 316.2h0.8v0.8h-0.8zM207.3 323.4h0.8v0.8h-0.8zM188.8 352.8h0.8v0.8h-0.8zM213.5 362.1h0.8v0.8h-0.8zM166.2 353.1h0.8v0.8h-0.8zM182.9 322.0h0.8v0.8h-0.8zM184.8 365.7h0.8v0.8h-0.8zM158.2 352.1h0.8v0.8h-0.8zM189.7 362.5h0.8v0.8h-0.8zM185.6 326.6h0.8v0.8h-0.8zM208.2 318.6h0.8v0.8h-0.8zM198.5 329.2h0.8v0.8h-0.8zM160.2 322.0h0.8v0.8h-0.8zM208.2 321.4h0.8v0.8h-0.8zM212.3 320.9h0.8v0.8h-0.8zM212.9 315.5h0.8v0.8h-0.8zM196.7 342.8h0.8v0.8h-0.8zM192.9 365.0h0.8v0.8h-0.8zM170.7 368.8h0.8v0.8h-0.8zM191.3 358.4h0.8v0.8h-0.8zM172.1 369.0h0.8v0.8h-0.8zM200.4 339.2h0.8v0.8h-0.8zM170.1 362.3h0.8v0.8h-0.8zM190.7 368.6h0.8v0.8h-0.8zM210.2 355.0h0.8v0.8h-0.8zM200.5 322.0h0.8v0.8h-0.8zM207.0 353.0h0.8v0.8h-0.8zM162.9 316.4h0.8v0.8h-0.8zM163.1 324.9h0.8v0.8h-0.8zM203.0 356.0h0.8v0.8h-0.8zM198.8 333.4h0.8v0.8h-0.8zM213.5 321.1h0.8v0.8h-0.8zM170.7 337.5h0.8v0.8h-0.8zM172.7 354.2h0.8v0.8h-0.8zM207.2 354.7h0.8v0.8h-0.8zM176.5 345.4h0.8v0.8h-0.8zM176.0 343.6h0.8v0.8h-0.8zM189.0 321.2h0.8v0.8h-0.8zM207.9 358.6h0.8v0.8h-0.8zM203.8 317.7h0.8v0.8h-0.8zM171.1 355.0h0.8v0.8h-0.8zM205.6 347.5h0.8v0.8h-0.8zM213.2 336.7h0.8v0.8h-0.8zM170.7 339.4h0.8v0.8h-0.8zM175.2 334.1h0.8v0.8h-0.8zM204.1 330.8h0.8v0.8h-0.8zM199.9 346.1h0.8v0.8h-0.8zM158.3 341.4h0.8v0.8h-0.8zM209.2 349.2h0.8v0.8h-0.8zM208.2 348.7h0.8v0.8h-0.8zM216.9 314.7h0.8v0.8h-0.8zM182.6 323.7h0.8v0.8h-0.8zM202.5 329.2h0.8v0.8h-0.8zM197.0 349.7h0.8v0.8h-0.8zM158.0 347.3h0.8v0.8h-0.8zM176.8 326.8h0.8v0.8h-0.8zM195.9 348.3h0.8v0.8h-0.8zM169.9 352.8h0.8v0.8h-0.8zM161.5 315.6h0.8v0.8h-0.8zM210.4 365.1h0.8v0.8h-0.8zM214.0 368.9h0.8v0.8h-0.8zM201.6 344.8h0.8v0.8h-0.8zM188.9 342.8h0.8v0.8h-0.8zM213.8 367.3h0.8v0.8h-0.8zM183.2 323.9h0.8v0.8h-0.8zM189.4 336.5h0.8v0.8h-0.8zM205.7 364.8h0.8v0.8h-0.8zM194.3 317.1h0.8v0.8h-0.8zM189.2 319.8h0.8v0.8h-0.8zM189.3 358.9h0.8v0.8h-0.8zM197.5 339.0h0.8v0.8h-0.8zM166.5 365.3h0.8v0.8h-0.8zM209.5 340.2h0.8v0.8h-0.8zM160.1 350.9h0.8v0.8h-0.8zM181.1 335.0h0.8v0.8h-0.8zM179.8 328.1h0.8v0.8h-0.8zM165.5 349.4h0.8v0.8h-0.8zM188.2 336.9h0.8v0.8h-0.8zM202.2 341.0h0.8v0.8h-0.8zM166.7 327.7h0.8v0.8h-0.8zM190.6 350.3h0.8v0.8h-0.8zM195.1 354.8h0.8v0.8h-0.8zM178.5 356.0h0.8v0.8h-0.8zM192.1 326.9h0.8v0.8h-0.8zM164.5 348.0h0.8v0.8h-0.8zM208.0 366.4h0.8v0.8h-0.8zM206.2 359.2h0.8v0.8h-0.8zM192.5 326.4h0.8v0.8h-0.8zM174.8 361.4h0.8v0.8h-0.8zM173.4 340.0h0.8v0.8h-0.8zM190.1 313.5h0.8v0.8h-0.8zM163.7 323.8h0.8v0.8h-0.8zM204.9 357.0h0.8v0.8h-0.8zM162.3 321.7h0.8v0.8h-0.8zM216.4 321.9h0.8v0.8h-0.8zM205.2 345.7h0.8v0.8h-0.8zM209.5 354.3h0.8v0.8h-0.8zM162.9 356.1h0.8v0.8h-0.8zM200.1 314.9h0.8v0.8h-0.8zM213.7 329.1h0.8v0.8h-0.8zM185.0 342.2h0.8v0.8h-0.8zM190.4 344.8h0.8v0.8h-0.8zM161.0 360.9h0.8v0.8h-0.8zM188.5 318.1h0.8v0.8h-0.8zM187.3 323.2h0.8v0.8h-0.8zM183.0 353.3h0.8v0.8h-0.8zM202.4 321.7h0.8v0.8h-0.8zM174.3 367.4h0.8v0.8h-0.8zM194.8 323.0h0.8v0.8h-0.8zM193.7 326.6h0.8v0.8h-0.8zM161.5 349.8h0.8v0.8h-0.8zM163.7 320.5h0.8v0.8h-0.8zM197.8 367.3h0.8v0.8h-0.8zM161.1 355.0h0.8v0.8h-0.8zM165.6 315.8h0.8v0.8h-0.8zM158.0 313.6h0.8v0.8h-0.8zM201.0 363.9h0.8v0.8h-0.8zM157.8 321.0h0.8v0.8h-0.8zM159.8 335.6h0.8v0.8h-0.8zM176.4 323.4h0.8v0.8h-0.8zM206.1 318.4h0.8v0.8h-0.8zM195.1 320.6h0.8v0.8h-0.8zM196.4 319.8h0.8v0.8h-0.8zM168.9 368.6h0.8v0.8h-0.8z" fill="#000" fill-opacity="0.13"/>
<path d="M184.7 353.6h0.8v0.8h-0.8zM177.5 344.9h0.8v0.8h-0.8zM172.2 336.7h0.8v0.8h-0.8zM170.0 342.5h0.8v0.8h-0.8zM190.1 343.7h0.8v0.8h-0.8zM163.0 343.5h0.8v0.8h-0.8zM217.3 340.0h0.8v0.8h-0.8zM188.3 352.9h0.8v0.8h-0.8zM170.9 342.1h0.8v0.8h-0.8zM176.5 347.1h0.8v0.8h-0.8zM189.0 347.0h0.8v0.8h-0.8zM196.3 344.0h0.8v0.8h-0.8zM190.0 336.7h0.8v0.8h-0.8zM180.5 356.2h0.8v0.8h-0.8zM191.8 341.5h0.8v0.8h-0.8zM189.8 353.1h0.8v0.8h-0.8zM173.7 343.0h0.8v0.8h-0.8zM185.2 342.1h0.8v0.8h-0.8zM189.2 346.6h0.8v0.8h-0.8zM163.7 341.8h0.8v0.8h-0.8zM162.2 348.0h0.8v0.8h-0.8zM192.2 350.4h0.8v0.8h-0.8zM169.5 342.4h0.8v0.8h-0.8zM208.6 349.0h0.8v0.8h-0.8zM199.5 347.5h0.8v0.8h-0.8zM194.4 352.4h0.8v0.8h-0.8zM212.2 359.7h0.8v0.8h-0.8zM181.7 351.7h0.8v0.8h-0.8zM204.3 348.9h0.8v0.8h-0.8zM192.3 337.4h0.8v0.8h-0.8zM208.8 340.0h0.8v0.8h-0.8zM174.0 340.2h0.8v0.8h-0.8zM198.2 339.4h0.8v0.8h-0.8zM196.1 349.8h0.8v0.8h-0.8zM189.0 343.7h0.8v0.8h-0.8zM198.9 354.9h0.8v0.8h-0.8zM177.8 338.9h0.8v0.8h-0.8zM175.0 340.0h0.8v0.8h-0.8zM182.2 344.9h0.8v0.8h-0.8zM170.7 343.1h0.8v0.8h-0.8zM166.7 347.6h0.8v0.8h-0.8zM204.0 333.7h0.8v0.8h-0.8zM191.4 356.3h0.8v0.8h-0.8zM181.4 352.2h0.8v0.8h-0.8zM193.2 339.7h0.8v0.8h-0.8zM206.8 341.9h0.8v0.8h-0.8zM194.1 343.3h0.8v0.8h-0.8zM182.7 347.0h0.8v0.8h-0.8zM213.4 334.6h0.8v0.8h-0.8zM164.7 346.7h0.8v0.8h-0.8zM206.4 344.7h0.8v0.8h-0.8zM183.2 349.6h0.8v0.8h-0.8zM202.3 337.1h0.8v0.8h-0.8zM209.5 352.4h0.8v0.8h-0.8zM202.7 340.3h0.8v0.8h-0.8zM161.2 350.4h0.8v0.8h-0.8zM192.2 350.7h0.8v0.8h-0.8zM160.1 325.9h0.8v0.8h-0.8zM209.3 352.8h0.8v0.8h-0.8zM181.5 346.0h0.8v0.8h-0.8zM196.0 351.1h0.8v0.8h-0.8zM183.2 342.5h0.8v0.8h-0.8zM167.5 353.0h0.8v0.8h-0.8zM189.0 322.9h0.8v0.8h-0.8zM193.8 342.1h0.8v0.8h-0.8zM161.6 342.5h0.8v0.8h-0.8zM161.5 342.9h0.8v0.8h-0.8zM176.1 349.5h0.8v0.8h-0.8zM166.8 333.7h0.8v0.8h-0.8zM174.9 336.7h0.8v0.8h-0.8zM201.8 344.6h0.8v0.8h-0.8zM186.4 345.7h0.8v0.8h-0.8zM192.9 352.7h0.8v0.8h-0.8zM208.9 345.2h0.8v0.8h-0.8zM161.0 343.5h0.8v0.8h-0.8zM199.9 339.8h0.8v0.8h-0.8zM212.1 339.5h0.8v0.8h-0.8zM164.5 351.6h0.8v0.8h-0.8zM185.0 348.2h0.8v0.8h-0.8zM180.9 346.2h0.8v0.8h-0.8zM175.3 358.8h0.8v0.8h-0.8zM200.1 345.1h0.8v0.8h-0.8zM196.4 351.6h0.8v0.8h-0.8zM176.5 347.2h0.8v0.8h-0.8zM191.1 342.2h0.8v0.8h-0.8zM171.5 344.6h0.8v0.8h-0.8zM181.0 343.2h0.8v0.8h-0.8zM200.0 346.5h0.8v0.8h-0.8zM179.9 341.4h0.8v0.8h-0.8zM197.0 343.5h0.8v0.8h-0.8zM181.1 344.5h0.8v0.8h-0.8zM199.2 347.3h0.8v0.8h-0.8zM185.0 348.1h0.8v0.8h-0.8zM178.2 342.5h0.8v0.8h-0.8zM193.9 334.1h0.8v0.8h-0.8zM193.7 333.0h0.8v0.8h-0.8zM163.7 353.7h0.8v0.8h-0.8zM191.9 338.5h0.8v0.8h-0.8zM179.9 337.1h0.8v0.8h-0.8zM185.1 345.4h0.8v0.8h-0.8zM189.4 351.3h0.8v0.8h-0.8zM174.1 331.1h0.8v0.8h-0.8zM163.7 337.5h0.8v0.8h-0.8zM179.6 343.0h0.8v0.8h-0.8zM186.1 355.2h0.8v0.8h-0.8zM187.5 338.7h0.8v0.8h-0.8zM180.9 340.1h0.8v0.8h-0.8zM182.2 349.9h0.8v0.8h-0.8zM164.4 350.7h0.8v0.8h-0.8zM160.1 359.5h0.8v0.8h-0.8zM186.0 347.6h0.8v0.8h-0.8zM179.9 339.6h0.8v0.8h-0.8zM199.3 336.6h0.8v0.8h-0.8zM159.6 349.7h0.8v0.8h-0.8zM179.5 340.3h0.8v0.8h-0.8zM196.9 355.6h0.8v0.8h-0.8zM181.3 345.1h0.8v0.8h-0.8zM198.2 352.3h0.8v0.8h-0.8zM207.6 350.6h0.8v0.8h-0.8zM173.8 349.6h0.8v0.8h-0.8zM187.1 334.5h0.8v0.8h-0.8zM211.6 349.9h0.8v0.8h-0.8zM214.3 345.6h0.8v0.8h-0.8zM201.5 345.5h0.8v0.8h-0.8zM190.2 352.1h0.8v0.8h-0.8zM188.1 350.1h0.8v0.8h-0.8zM186.3 354.3h0.8v0.8h-0.8zM200.0 334.8h0.8v0.8h-0.8zM176.8 341.8h0.8v0.8h-0.8zM197.1 350.0h0.8v0.8h-0.8zM175.1 357.8h0.8v0.8h-0.8zM209.6 335.0h0.8v0.8h-0.8zM180.3 346.4h0.8v0.8h-0.8zM188.0 349.8h0.8v0.8h-0.8zM195.0 348.5h0.8v0.8h-0.8zM184.3 348.0h0.8v0.8h-0.8zM176.0 359.2h0.8v0.8h-0.8zM188.2 354.3h0.8v0.8h-0.8zM189.1 345.0h0.8v0.8h-0.8zM183.4 337.3h0.8v0.8h-0.8zM189.6 342.9h0.8v0.8h-0.8zM212.5 343.8h0.8v0.8h-0.8zM177.9 342.4h0.8v0.8h-0.8zM184.1 341.7h0.8v0.8h-0.8zM212.6 347.9h0.8v0.8h-0.8zM180.5 352.0h0.8v0.8h-0.8zM204.4 339.3h0.8v0.8h-0.8zM209.9 353.3h0.8v0.8h-0.8zM182.2 337.1h0.8v0.8h-0.8zM208.8 343.7h0.8v0.8h-0.8zM183.0 344.1h0.8v0.8h-0.8zM181.7 351.6h0.8v0.8h-0.8zM165.4 349.6h0.8v0.8h-0.8zM210.0 353.1h0.8v0.8h-0.8zM201.4 347.8h0.8v0.8h-0.8zM183.2 345.2h0.8v0.8h-0.8zM169.7 357.2h0.8v0.8h-0.8zM184.8 339.3h0.8v0.8h-0.8zM203.6 356.1h0.8v0.8h-0.8zM192.6 343.9h0.8v0.8h-0.8zM165.0 350.3h0.8v0.8h-0.8zM182.3 341.6h0.8v0.8h-0.8zM199.0 337.4h0.8v0.8h-0.8zM201.7 329.8h0.8v0.8h-0.8zM174.9 336.5h0.8v0.8h-0.8zM182.3 351.3h0.8v0.8h-0.8zM161.4 355.1h0.8v0.8h-0.8zM173.7 342.8h0.8v0.8h-0.8zM206.7 341.1h0.8v0.8h-0.8zM215.8 344.7h0.8v0.8h-0.8zM185.3 339.6h0.8v0.8h-0.8zM209.8 345.6h0.8v0.8h-0.8zM177.6 339.7h0.8v0.8h-0.8zM174.7 345.4h0.8v0.8h-0.8zM173.0 351.3h0.8v0.8h-0.8zM186.5 341.9h0.8v0.8h-0.8zM196.3 355.5h0.8v0.8h-0.8zM208.5 346.9h0.8v0.8h-0.8zM203.4 335.8h0.8v0.8h-0.8zM172.5 352.7h0.8v0.8h-0.8zM185.4 346.4h0.8v0.8h-0.8zM199.6 348.5h0.8v0.8h-0.8zM196.1 342.7h0.8v0.8h-0.8zM181.4 354.7h0.8v0.8h-0.8zM177.6 336.4h0.8v0.8h-0.8zM180.4 352.0h0.8v0.8h-0.8zM175.1 350.1h0.8v0.8h-0.8zM193.2 353.9h0.8v0.8h-0.8zM197.5 351.0h0.8v0.8h-0.8zM197.3 348.8h0.8v0.8h-0.8zM169.4 344.9h0.8v0.8h-0.8zM206.2 348.6h0.8v0.8h-0.8zM185.2 348.3h0.8v0.8h-0.8zM180.9 353.2h0.8v0.8h-0.8zM181.2 341.0h0.8v0.8h-0.8zM172.6 340.3h0.8v0.8h-0.8zM195.3 357.9h0.8v0.8h-0.8zM200.4 343.8h0.8v0.8h-0.8zM198.5 340.5h0.8v0.8h-0.8zM182.5 346.2h0.8v0.8h-0.8zM187.7 351.2h0.8v0.8h-0.8zM198.0 358.5h0.8v0.8h-0.8zM203.7 344.1h0.8v0.8h-0.8zM192.5 340.4h0.8v0.8h-0.8zM175.5 343.8h0.8v0.8h-0.8zM207.3 341.4h0.8v0.8h-0.8zM157.0 339.3h0.8v0.8h-0.8zM164.1 344.8h0.8v0.8h-0.8zM181.6 338.3h0.8v0.8h-0.8zM172.0 343.3h0.8v0.8h-0.8zM195.2 350.1h0.8v0.8h-0.8zM213.3 344.3h0.8v0.8h-0.8zM199.8 346.5h0.8v0.8h-0.8zM166.3 341.8h0.8v0.8h-0.8zM205.7 344.0h0.8v0.8h-0.8zM166.1 338.3h0.8v0.8h-0.8zM196.2 335.4h0.8v0.8h-0.8zM194.8 340.3h0.8v0.8h-0.8zM194.6 336.9h0.8v0.8h-0.8zM204.2 344.5h0.8v0.8h-0.8zM158.0 336.5h0.8v0.8h-0.8zM188.9 335.2h0.8v0.8h-0.8zM194.1 349.2h0.8v0.8h-0.8zM175.0 355.3h0.8v0.8h-0.8zM215.7 348.1h0.8v0.8h-0.8zM196.6 349.1h0.8v0.8h-0.8zM182.7 354.7h0.8v0.8h-0.8zM177.4 329.4h0.8v0.8h-0.8zM188.1 348.9h0.8v0.8h-0.8zM203.7 338.7h0.8v0.8h-0.8zM214.7 340.6h0.8v0.8h-0.8zM200.0 350.8h0.8v0.8h-0.8zM191.2 353.5h0.8v0.8h-0.8zM178.2 359.6h0.8v0.8h-0.8zM197.3 343.2h0.8v0.8h-0.8zM168.6 353.5h0.8v0.8h-0.8zM188.9 339.7h0.8v0.8h-0.8zM178.5 346.5h0.8v0.8h-0.8zM206.8 356.4h0.8v0.8h-0.8zM175.8 356.2h0.8v0.8h-0.8zM158.5 350.7h0.8v0.8h-0.8zM185.1 348.9h0.8v0.8h-0.8zM179.4 341.3h0.8v0.8h-0.8zM193.3 353.5h0.8v0.8h-0.8zM180.0 338.9h0.8v0.8h-0.8zM161.8 349.4h0.8v0.8h-0.8zM198.5 350.3h0.8v0.8h-0.8zM175.9 343.2h0.8v0.8h-0.8zM190.3 352.6h0.8v0.8h-0.8zM194.5 358.8h0.8v0.8h-0.8zM180.0 334.1h0.8v0.8h-0.8zM173.3 343.9h0.8v0.8h-0.8zM213.2 348.1h0.8v0.8h-0.8zM211.1 346.7h0.8v0.8h-0.8zM188.7 342.2h0.8v0.8h-0.8zM164.0 349.4h0.8v0.8h-0.8zM194.8 349.8h0.8v0.8h-0.8zM177.5 343.2h0.8v0.8h-0.8zM195.1 350.0h0.8v0.8h-0.8zM207.0 351.9h0.8v0.8h-0.8zM182.8 346.9h0.8v0.8h-0.8zM186.8 356.1h0.8v0.8h-0.8zM182.9 352.3h0.8v0.8h-0.8zM197.4 344.8h0.8v0.8h-0.8zM202.4 351.8h0.8v0.8h-0.8zM180.2 351.7h0.8v0.8h-0.8zM181.8 347.1h0.8v0.8h-0.8zM159.7 355.8h0.8v0.8h-0.8zM180.5 347.0h0.8v0.8h-0.8zM187.0 351.0h0.8v0.8h-0.8zM176.7 350.9h0.8v0.8h-0.8zM171.8 336.2h0.8v0.8h-0.8zM197.8 347.1h0.8v0.8h-0.8zM204.9 333.2h0.8v0.8h-0.8zM190.0 341.8h0.8v0.8h-0.8zM184.2 343.4h0.8v0.8h-0.8zM180.6 341.6h0.8v0.8h-0.8zM207.6 334.6h0.8v0.8h-0.8zM170.4 338.3h0.8v0.8h-0.8zM168.1 354.3h0.8v0.8h-0.8zM201.0 352.0h0.8v0.8h-0.8zM194.6 347.6h0.8v0.8h-0.8zM176.6 339.6h0.8v0.8h-0.8zM199.9 362.5h0.8v0.8h-0.8zM180.7 354.4h0.8v0.8h-0.8zM174.2 346.3h0.8v0.8h-0.8zM200.1 342.3h0.8v0.8h-0.8zM198.7 344.4h0.8v0.8h-0.8zM191.7 348.4h0.8v0.8h-0.8zM213.3 351.8h0.8v0.8h-0.8zM208.2 348.5h0.8v0.8h-0.8zM167.2 354.9h0.8v0.8h-0.8zM217.6 349.2h0.8v0.8h-0.8zM203.2 344.5h0.8v0.8h-0.8zM160.0 352.6h0.8v0.8h-0.8zM173.8 358.7h0.8v0.8h-0.8zM201.2 345.9h0.8v0.8h-0.8zM176.0 346.7h0.8v0.8h-0.8zM168.3 343.5h0.8v0.8h-0.8zM195.9 339.9h0.8v0.8h-0.8zM182.0 343.0h0.8v0.8h-0.8zM160.9 358.9h0.8v0.8h-0.8zM199.2 345.5h0.8v0.8h-0.8zM166.6 346.2h0.8v0.8h-0.8zM167.4 339.6h0.8v0.8h-0.8zM184.2 360.4h0.8v0.8h-0.8zM177.2 326.7h0.8v0.8h-0.8zM160.5 345.1h0.8v0.8h-0.8zM189.0 341.0h0.8v0.8h-0.8zM175.6 335.1h0.8v0.8h-0.8zM191.2 341.5h0.8v0.8h-0.8zM207.6 339.1h0.8v0.8h-0.8zM210.9 342.9h0.8v0.8h-0.8zM191.5 344.2h0.8v0.8h-0.8zM199.9 353.7h0.8v0.8h-0.8zM177.2 340.0h0.8v0.8h-0.8zM190.3 356.9h0.8v0.8h-0.8zM174.8 343.2h0.8v0.8h-0.8zM180.0 350.6h0.8v0.8h-0.8zM171.2 344.8h0.8v0.8h-0.8zM171.3 344.5h0.8v0.8h-0.8zM209.5 353.4h0.8v0.8h-0.8zM183.4 363.0h0.8v0.8h-0.8zM174.1 349.1h0.8v0.8h-0.8zM178.4 331.2h0.8v0.8h-0.8zM164.7 354.3h0.8v0.8h-0.8zM185.3 347.8h0.8v0.8h-0.8zM212.0 346.2h0.8v0.8h-0.8zM175.4 341.9h0.8v0.8h-0.8zM169.4 349.7h0.8v0.8h-0.8zM178.5 349.4h0.8v0.8h-0.8zM158.5 343.1h0.8v0.8h-0.8zM185.7 353.9h0.8v0.8h-0.8zM193.0 356.3h0.8v0.8h-0.8zM165.1 351.1h0.8v0.8h-0.8zM167.1 350.6h0.8v0.8h-0.8zM171.0 348.8h0.8v0.8h-0.8zM196.5 341.2h0.8v0.8h-0.8zM192.4 338.9h0.8v0.8h-0.8zM206.4 352.1h0.8v0.8h-0.8zM184.5 350.6h0.8v0.8h-0.8zM178.8 340.8h0.8v0.8h-0.8zM205.1 352.7h0.8v0.8h-0.8zM199.2 356.9h0.8v0.8h-0.8zM175.3 343.2h0.8v0.8h-0.8zM195.8 327.9h0.8v0.8h-0.8zM183.4 346.4h0.8v0.8h-0.8zM168.9 347.5h0.8v0.8h-0.8zM208.1 341.8h0.8v0.8h-0.8zM198.6 345.0h0.8v0.8h-0.8zM184.5 346.8h0.8v0.8h-0.8zM216.9 349.5h0.8v0.8h-0.8zM200.9 347.0h0.8v0.8h-0.8zM187.2 346.7h0.8v0.8h-0.8zM177.7 335.7h0.8v0.8h-0.8zM216.5 358.3h0.8v0.8h-0.8zM198.2 338.1h0.8v0.8h-0.8zM183.9 342.6h0.8v0.8h-0.8zM175.4 340.9h0.8v0.8h-0.8zM178.1 351.2h0.8v0.8h-0.8zM187.2 345.0h0.8v0.8h-0.8zM182.7 345.9h0.8v0.8h-0.8zM175.4 344.8h0.8v0.8h-0.8zM204.0 344.5h0.8v0.8h-0.8zM171.6 345.2h0.8v0.8h-0.8zM189.1 345.5h0.8v0.8h-0.8zM182.3 350.7h0.8v0.8h-0.8zM186.6 339.3h0.8v0.8h-0.8zM198.5 341.2h0.8v0.8h-0.8zM202.5 351.5h0.8v0.8h-0.8zM196.9 348.1h0.8v0.8h-0.8zM161.1 344.7h0.8v0.8h-0.8zM189.9 350.3h0.8v0.8h-0.8zM165.5 345.0h0.8v0.8h-0.8zM157.4 347.2h0.8v0.8h-0.8zM188.9 346.8h0.8v0.8h-0.8zM183.6 342.1h0.8v0.8h-0.8zM178.7 351.3h0.8v0.8h-0.8zM205.3 342.6h0.8v0.8h-0.8zM185.1 343.1h0.8v0.8h-0.8zM200.8 347.3h0.8v0.8h-0.8zM173.3 340.1h0.8v0.8h-0.8zM212.8 336.6h0.8v0.8h-0.8zM204.1 349.8h0.8v0.8h-0.8zM203.8 353.6h0.8v0.8h-0.8z" fill="#000" fill-opacity="0.22"/>
<path d="M177.3 357.9h0.8v0.8h-0.8zM208.6 362.3h0.8v0.8h-0.8zM171.1 352.2h0.8v0.8h-0.8zM175.9 346.1h0.8v0.8h-0.8zM175.4 360.5h0.8v0.8h-0.8zM191.3 356.3h0.8v0.8h-0.8zM190.9 363.0h0.8v0.8h-0.8zM161.6 351.8h0.8v0.8h-0.8zM208.4 363.6h0.8v0.8h-0.8zM157.1 352.5h0.8v0.8h-0.8zM184.3 365.8h0.8v0.8h-0.8zM217.0 368.8h0.8v0.8h-0.8zM157.3 348.1h0.8v0.8h-0.8zM176.4 357.6h0.8v0.8h-0.8zM179.8 359.9h0.8v0.8h-0.8zM208.8 358.0h0.8v0.8h-0.8zM192.7 357.9h0.8v0.8h-0.8zM186.9 364.9h0.8v0.8h-0.8zM162.2 365.8h0.8v0.8h-0.8zM192.6 350.8h0.8v0.8h-0.8zM208.3 358.1h0.8v0.8h-0.8zM166.9 338.7h0.8v0.8h-0.8zM165.9 360.9h0.8v0.8h-0.8zM165.0 365.4h0.8v0.8h-0.8zM192.3 357.4h0.8v0.8h-0.8zM206.1 358.3h0.8v0.8h-0.8zM209.9 368.9h0.8v0.8h-0.8zM205.9 350.7h0.8v0.8h-0.8zM201.9 356.0h0.8v0.8h-0.8zM194.2 365.4h0.8v0.8h-0.8zM173.1 359.6h0.8v0.8h-0.8zM183.3 363.6h0.8v0.8h-0.8zM182.4 365.8h0.8v0.8h-0.8zM165.5 346.6h0.8v0.8h-0.8zM195.6 357.0h0.8v0.8h-0.8zM194.2 365.4h0.8v0.8h-0.8zM210.2 355.4h0.8v0.8h-0.8zM179.0 343.2h0.8v0.8h-0.8zM166.2 359.9h0.8v0.8h-0.8zM192.1 346.7h0.8v0.8h-0.8zM204.5 357.7h0.8v0.8h-0.8zM211.3 355.3h0.8v0.8h-0.8zM208.4 349.6h0.8v0.8h-0.8zM202.6 361.1h0.8v0.8h-0.8zM204.4 361.9h0.8v0.8h-0.8zM179.4 350.6h0.8v0.8h-0.8zM165.3 357.0h0.8v0.8h-0.8zM200.0 353.1h0.8v0.8h-0.8zM194.0 363.4h0.8v0.8h-0.8zM180.6 352.5h0.8v0.8h-0.8zM202.1 356.6h0.8v0.8h-0.8zM194.2 357.0h0.8v0.8h-0.8zM206.3 357.9h0.8v0.8h-0.8zM192.3 357.4h0.8v0.8h-0.8zM168.1 341.2h0.8v0.8h-0.8zM199.2 348.6h0.8v0.8h-0.8zM196.0 362.9h0.8v0.8h-0.8zM190.6 365.2h0.8v0.8h-0.8zM172.8 353.6h0.8v0.8h-0.8zM210.8 365.3h0.8v0.8h-0.8zM166.4 363.0h0.8v0.8h-0.8zM212.2 348.4h0.8v0.8h-0.8zM187.6 356.6h0.8v0.8h-0.8zM201.4 344.8h0.8v0.8h-0.8zM202.7 358.0h0.8v0.8h-0.8zM181.6 342.0h0.8v0.8h-0.8zM201.5 361.2h0.8v0.8h-0.8zM203.7 345.1h0.8v0.8h-0.8zM191.8 368.2h0.8v0.8h-0.8zM171.5 362.2h0.8v0.8h-0.8zM189.5 345.7h0.8v0.8h-0.8zM164.5 367.7h0.8v0.8h-0.8zM185.0 367.4h0.8v0.8h-0.8zM194.7 364.8h0.8v0.8h-0.8zM178.8 359.7h0.8v0.8h-0.8zM179.3 364.9h0.8v0.8h-0.8zM174.8 366.4h0.8v0.8h-0.8zM183.6 362.1h0.8v0.8h-0.8zM189.2 344.9h0.8v0.8h-0.8zM205.7 353.6h0.8v0.8h-0.8zM191.6 361.1h0.8v0.8h-0.8zM156.7 366.1h0.8v0.8h-0.8zM207.3 362.4h0.8v0.8h-0.8zM200.3 360.7h0.8v0.8h-0.8zM156.9 354.2h0.8v0.8h-0.8zM205.1 355.5h0.8v0.8h-0.8zM187.9 360.8h0.8v0.8h-0.8zM189.2 360.0h0.8v0.8h-0.8zM197.9 358.0h0.8v0.8h-0.8zM163.3 356.0h0.8v0.8h-0.8zM208.1 352.9h0.8v0.8h-0.8zM197.6 360.3h0.8v0.8h-0.8zM168.1 336.7h0.8v0.8h-0.8zM186.9 352.2h0.8v0.8h-0.8zM173.7 365.1h0.8v0.8h-0.8zM170.6 360.7h0.8v0.8h-0.8zM189.9 359.5h0.8v0.8h-0.8zM208.3 356.9h0.8v0.8h-0.8zM181.3 353.0h0.8v0.8h-0.8zM188.2 358.4h0.8v0.8h-0.8zM171.2 357.0h0.8v0.8h-0.8zM159.7 359.2h0.8v0.8h-0.8zM195.1 366.2h0.8v0.8h-0.8zM208.6 354.2h0.8v0.8h-0.8zM178.6 349.9h0.8v0.8h-0.8zM199.1 368.9h0.8v0.8h-0.8zM196.0 366.3h0.8v0.8h-0.8zM200.2 364.7h0.8v0.8h-0.8zM216.1 355.8h0.8v0.8h-0.8zM170.1 349.0h0.8v0.8h-0.8zM183.7 363.4h0.8v0.8h-0.8zM204.6 351.3h0.8v0.8h-0.8zM178.8 368.2h0.8v0.8h-0.8zM211.7 360.7h0.8v0.8h-0.8zM199.0 337.5h0.8v0.8h-0.8zM199.4 360.9h0.8v0.8h-0.8zM157.1 359.4h0.8v0.8h-0.8zM197.2 357.1h0.8v0.8h-0.8zM204.5 364.7h0.8v0.8h-0.8zM188.4 356.1h0.8v0.8h-0.8zM161.7 366.6h0.8v0.8h-0.8zM174.9 360.4h0.8v0.8h-0.8zM159.7 357.4h0.8v0.8h-0.8zM171.8 345.6h0.8v0.8h-0.8zM169.9 362.4h0.8v0.8h-0.8zM194.6 356.5h0.8v0.8h-0.8zM191.1 349.2h0.8v0.8h-0.8zM170.6 356.8h0.8v0.8h-0.8zM204.5 355.6h0.8v0.8h-0.8zM183.7 360.5h0.8v0.8h-0.8zM198.8 359.4h0.8v0.8h-0.8zM185.7 359.9h0.8v0.8h-0.8zM182.1 348.7h0.8v0.8h-0.8zM205.6 357.1h0.8v0.8h-0.8zM179.8 363.7h0.8v0.8h-0.8zM167.3 352.6h0.8v0.8h-0.8zM205.2 364.6h0.8v0.8h-0.8zM161.3 358.8h0.8v0.8h-0.8zM182.1 352.9h0.8v0.8h-0.8zM165.4 352.8h0.8v0.8h-0.8zM179.3 367.0h0.8v0.8h-0.8zM200.8 368.3h0.8v0.8h-0.8zM205.0 363.7h0.8v0.8h-0.8zM212.8 361.4h0.8v0.8h-0.8zM181.2 361.9h0.8v0.8h-0.8zM179.0 352.8h0.8v0.8h-0.8zM196.7 349.6h0.8v0.8h-0.8zM183.8 368.6h0.8v0.8h-0.8zM189.9 364.2h0.8v0.8h-0.8zM201.1 360.9h0.8v0.8h-0.8zM189.5 362.6h0.8v0.8h-0.8zM166.2 362.4h0.8v0.8h-0.8zM163.9 352.3h0.8v0.8h-0.8zM174.5 347.9h0.8v0.8h-0.8zM198.1 363.0h0.8v0.8h-0.8zM203.4 352.4h0.8v0.8h-0.8zM202.6 349.4h0.8v0.8h-0.8zM178.3 363.6h0.8v0.8h-0.8zM166.6 359.5h0.8v0.8h-0.8zM208.4 359.2h0.8v0.8h-0.8zM207.4 354.2h0.8v0.8h-0.8z" fill="#000" fill-opacity="0.15"/>
<path d="M217.0 319.4h0.8v0.8h-0.8zM170.1 325.2h0.8v0.8h-0.8zM186.7 322.0h0.8v0.8h-0.8zM168.8 313.9h0.8v0.8h-0.8zM198.8 331.0h0.8v0.8h-0.8zM172.3 326.9h0.8v0.8h-0.8zM196.0 328.2h0.8v0.8h-0.8zM183.8 325.4h0.8v0.8h-0.8zM192.6 316.0h0.8v0.8h-0.8zM184.3 331.7h0.8v0.8h-0.8zM176.1 336.1h0.8v0.8h-0.8zM182.4 315.7h0.8v0.8h-0.8zM181.3 313.5h0.8v0.8h-0.8zM187.4 323.0h0.8v0.8h-0.8zM181.1 328.6h0.8v0.8h-0.8zM192.8 320.3h0.8v0.8h-0.8zM203.3 321.2h0.8v0.8h-0.8zM204.8 336.4h0.8v0.8h-0.8zM194.5 332.9h0.8v0.8h-0.8zM160.7 329.8h0.8v0.8h-0.8zM157.7 323.5h0.8v0.8h-0.8zM171.7 318.5h0.8v0.8h-0.8zM168.5 325.2h0.8v0.8h-0.8zM199.6 315.2h0.8v0.8h-0.8zM157.4 329.0h0.8v0.8h-0.8zM204.4 318.1h0.8v0.8h-0.8zM194.0 318.4h0.8v0.8h-0.8zM208.1 339.8h0.8v0.8h-0.8zM174.4 321.0h0.8v0.8h-0.8zM186.8 330.4h0.8v0.8h-0.8zM181.4 323.7h0.8v0.8h-0.8zM166.5 343.1h0.8v0.8h-0.8zM201.4 329.2h0.8v0.8h-0.8zM201.4 326.7h0.8v0.8h-0.8zM179.4 335.0h0.8v0.8h-0.8zM204.4 330.4h0.8v0.8h-0.8zM198.5 331.3h0.8v0.8h-0.8zM181.5 328.7h0.8v0.8h-0.8zM188.6 322.9h0.8v0.8h-0.8zM199.8 343.1h0.8v0.8h-0.8zM178.5 335.2h0.8v0.8h-0.8zM166.9 323.4h0.8v0.8h-0.8zM207.2 324.4h0.8v0.8h-0.8zM193.9 314.8h0.8v0.8h-0.8zM164.4 339.1h0.8v0.8h-0.8zM190.1 324.3h0.8v0.8h-0.8zM159.8 316.2h0.8v0.8h-0.8zM166.7 324.6h0.8v0.8h-0.8zM184.8 319.8h0.8v0.8h-0.8zM173.8 325.9h0.8v0.8h-0.8zM210.1 313.1h0.8v0.8h-0.8zM159.0 334.6h0.8v0.8h-0.8zM158.9 321.5h0.8v0.8h-0.8zM189.3 340.4h0.8v0.8h-0.8zM185.4 334.1h0.8v0.8h-0.8zM189.8 318.2h0.8v0.8h-0.8zM203.2 337.5h0.8v0.8h-0.8zM183.0 332.0h0.8v0.8h-0.8zM166.2 337.5h0.8v0.8h-0.8zM174.3 318.2h0.8v0.8h-0.8zM200.3 342.0h0.8v0.8h-0.8zM158.8 323.3h0.8v0.8h-0.8zM195.9 320.2h0.8v0.8h-0.8zM206.8 325.9h0.8v0.8h-0.8zM165.9 322.5h0.8v0.8h-0.8zM211.1 334.4h0.8v0.8h-0.8zM185.3 328.7h0.8v0.8h-0.8zM176.8 326.1h0.8v0.8h-0.8zM175.3 326.4h0.8v0.8h-0.8zM176.8 326.7h0.8v0.8h-0.8zM200.7 324.8h0.8v0.8h-0.8zM161.5 329.2h0.8v0.8h-0.8zM182.2 320.8h0.8v0.8h-0.8zM198.1 317.9h0.8v0.8h-0.8zM205.4 329.7h0.8v0.8h-0.8zM173.4 319.1h0.8v0.8h-0.8zM184.6 317.3h0.8v0.8h-0.8zM189.9 322.0h0.8v0.8h-0.8zM165.4 330.4h0.8v0.8h-0.8zM177.5 328.9h0.8v0.8h-0.8zM178.4 322.6h0.8v0.8h-0.8zM197.3 333.1h0.8v0.8h-0.8zM206.7 324.8h0.8v0.8h-0.8zM216.2 322.1h0.8v0.8h-0.8zM158.6 317.7h0.8v0.8h-0.8zM187.7 324.7h0.8v0.8h-0.8zM191.7 324.1h0.8v0.8h-0.8zM182.0 322.3h0.8v0.8h-0.8zM187.8 315.4h0.8v0.8h-0.8zM212.2 338.1h0.8v0.8h-0.8zM187.7 344.4h0.8v0.8h-0.8zM167.9 332.7h0.8v0.8h-0.8zM172.4 333.6h0.8v0.8h-0.8zM189.3 333.1h0.8v0.8h-0.8zM199.0 329.5h0.8v0.8h-0.8zM181.6 338.6h0.8v0.8h-0.8zM194.1 329.1h0.8v0.8h-0.8zM215.2 322.8h0.8v0.8h-0.8zM188.6 312.7h0.8v0.8h-0.8zM211.0 322.4h0.8v0.8h-0.8zM189.0 326.1h0.8v0.8h-0.8zM205.8 330.4h0.8v0.8h-0.8zM193.9 326.5h0.8v0.8h-0.8zM202.7 329.8h0.8v0.8h-0.8zM212.7 328.3h0.8v0.8h-0.8zM193.0 330.8h0.8v0.8h-0.8zM180.5 331.1h0.8v0.8h-0.8zM183.0 331.1h0.8v0.8h-0.8zM172.1 335.0h0.8v0.8h-0.8zM157.1 319.4h0.8v0.8h-0.8zM186.1 327.1h0.8v0.8h-0.8zM171.4 321.6h0.8v0.8h-0.8zM192.1 333.9h0.8v0.8h-0.8zM212.5 321.0h0.8v0.8h-0.8zM185.8 322.4h0.8v0.8h-0.8zM157.1 321.2h0.8v0.8h-0.8zM209.3 313.6h0.8v0.8h-0.8zM212.0 331.5h0.8v0.8h-0.8zM202.5 331.4h0.8v0.8h-0.8zM198.6 330.5h0.8v0.8h-0.8zM210.6 328.6h0.8v0.8h-0.8zM199.5 328.7h0.8v0.8h-0.8zM189.9 317.6h0.8v0.8h-0.8zM162.8 312.4h0.8v0.8h-0.8zM200.7 322.2h0.8v0.8h-0.8zM212.1 351.6h0.8v0.8h-0.8zM202.3 321.1h0.8v0.8h-0.8zM194.6 323.3h0.8v0.8h-0.8zM192.7 342.8h0.8v0.8h-0.8zM192.8 340.2h0.8v0.8h-0.8zM203.4 332.6h0.8v0.8h-0.8zM164.2 319.8h0.8v0.8h-0.8zM190.5 323.2h0.8v0.8h-0.8zM172.5 324.1h0.8v0.8h-0.8zM193.2 315.9h0.8v0.8h-0.8zM184.5 340.5h0.8v0.8h-0.8zM183.5 325.1h0.8v0.8h-0.8zM212.1 326.7h0.8v0.8h-0.8zM214.2 327.9h0.8v0.8h-0.8zM210.2 336.6h0.8v0.8h-0.8zM217.4 326.7h0.8v0.8h-0.8zM199.8 358.5h0.8v0.8h-0.8zM163.2 326.7h0.8v0.8h-0.8zM196.5 319.0h0.8v0.8h-0.8zM203.5 323.7h0.8v0.8h-0.8zM202.8 326.7h0.8v0.8h-0.8zM168.9 334.0h0.8v0.8h-0.8zM193.5 324.8h0.8v0.8h-0.8zM196.0 333.3h0.8v0.8h-0.8zM201.2 344.5h0.8v0.8h-0.8zM186.6 337.2h0.8v0.8h-0.8zM186.6 316.8h0.8v0.8h-0.8zM186.1 328.8h0.8v0.8h-0.8zM172.8 318.3h0.8v0.8h-0.8zM192.4 332.5h0.8v0.8h-0.8zM182.7 329.2h0.8v0.8h-0.8zM177.3 322.1h0.8v0.8h-0.8zM191.0 333.3h0.8v0.8h-0.8zM196.0 341.9h0.8v0.8h-0.8zM203.6 322.0h0.8v0.8h-0.8zM195.3 312.9h0.8v0.8h-0.8zM173.2 313.6h0.8v0.8h-0.8zM207.4 321.2h0.8v0.8h-0.8zM188.9 325.7h0.8v0.8h-0.8zM183.2 315.0h0.8v0.8h-0.8zM186.6 331.0h0.8v0.8h-0.8zM183.3 324.2h0.8v0.8h-0.8zM193.3 327.1h0.8v0.8h-0.8zM180.7 334.3h0.8v0.8h-0.8zM197.2 337.9h0.8v0.8h-0.8zM176.2 335.7h0.8v0.8h-0.8zM193.8 319.0h0.8v0.8h-0.8zM185.1 326.0h0.8v0.8h-0.8zM179.1 322.4h0.8v0.8h-0.8zM174.9 327.0h0.8v0.8h-0.8zM163.0 344.9h0.8v0.8h-0.8zM185.0 313.1h0.8v0.8h-0.8zM158.2 326.3h0.8v0.8h-0.8zM191.8 319.6h0.8v0.8h-0.8zM171.7 323.2h0.8v0.8h-0.8zM192.4 330.8h0.8v0.8h-0.8zM175.7 327.3h0.8v0.8h-0.8zM194.6 331.9h0.8v0.8h-0.8zM158.3 338.5h0.8v0.8h-0.8zM164.1 323.3h0.8v0.8h-0.8zM178.2 321.0h0.8v0.8h-0.8zM172.2 332.0h0.8v0.8h-0.8zM202.7 328.1h0.8v0.8h-0.8zM162.5 319.7h0.8v0.8h-0.8zM186.2 328.5h0.8v0.8h-0.8zM176.5 322.8h0.8v0.8h-0.8zM172.7 339.0h0.8v0.8h-0.8zM203.8 314.8h0.8v0.8h-0.8zM202.7 326.5h0.8v0.8h-0.8zM171.9 331.9h0.8v0.8h-0.8zM175.5 322.5h0.8v0.8h-0.8zM187.7 326.9h0.8v0.8h-0.8zM178.8 327.6h0.8v0.8h-0.8zM187.4 326.7h0.8v0.8h-0.8zM194.9 319.6h0.8v0.8h-0.8zM160.8 324.4h0.8v0.8h-0.8zM211.3 327.9h0.8v0.8h-0.8zM191.7 318.7h0.8v0.8h-0.8zM165.2 314.4h0.8v0.8h-0.8zM169.5 321.9h0.8v0.8h-0.8zM157.4 324.0h0.8v0.8h-0.8zM156.8 330.6h0.8v0.8h-0.8zM176.7 327.0h0.8v0.8h-0.8zM194.7 331.7h0.8v0.8h-0.8zM180.5 323.8h0.8v0.8h-0.8zM182.8 329.7h0.8v0.8h-0.8zM173.9 323.7h0.8v0.8h-0.8zM190.2 322.1h0.8v0.8h-0.8zM166.4 336.7h0.8v0.8h-0.8zM197.0 317.2h0.8v0.8h-0.8zM170.5 321.9h0.8v0.8h-0.8zM197.7 337.9h0.8v0.8h-0.8zM213.9 329.8h0.8v0.8h-0.8zM188.7 330.7h0.8v0.8h-0.8zM172.1 319.0h0.8v0.8h-0.8zM197.6 326.8h0.8v0.8h-0.8zM191.9 316.3h0.8v0.8h-0.8zM192.2 312.7h0.8v0.8h-0.8zM205.3 325.2h0.8v0.8h-0.8zM174.9 321.0h0.8v0.8h-0.8zM173.8 336.8h0.8v0.8h-0.8zM187.7 327.3h0.8v0.8h-0.8zM168.8 313.8h0.8v0.8h-0.8zM191.9 321.3h0.8v0.8h-0.8zM197.1 334.1h0.8v0.8h-0.8zM185.1 329.7h0.8v0.8h-0.8zM190.8 327.1h0.8v0.8h-0.8zM177.3 327.1h0.8v0.8h-0.8zM195.8 325.7h0.8v0.8h-0.8zM178.6 312.6h0.8v0.8h-0.8zM166.7 338.5h0.8v0.8h-0.8zM207.0 327.6h0.8v0.8h-0.8zM193.0 323.8h0.8v0.8h-0.8zM200.5 333.3h0.8v0.8h-0.8zM182.6 327.7h0.8v0.8h-0.8zM169.2 320.2h0.8v0.8h-0.8zM164.9 321.3h0.8v0.8h-0.8zM171.0 321.7h0.8v0.8h-0.8zM196.6 315.0h0.8v0.8h-0.8zM189.3 336.9h0.8v0.8h-0.8zM191.1 314.6h0.8v0.8h-0.8zM175.7 335.1h0.8v0.8h-0.8zM182.3 319.7h0.8v0.8h-0.8zM202.5 318.9h0.8v0.8h-0.8zM165.9 330.3h0.8v0.8h-0.8zM187.7 319.5h0.8v0.8h-0.8zM196.4 334.5h0.8v0.8h-0.8zM208.3 326.0h0.8v0.8h-0.8zM196.2 329.3h0.8v0.8h-0.8zM158.8 339.3h0.8v0.8h-0.8zM174.6 320.3h0.8v0.8h-0.8zM171.5 316.8h0.8v0.8h-0.8zM208.5 325.1h0.8v0.8h-0.8zM190.6 324.6h0.8v0.8h-0.8zM167.5 324.2h0.8v0.8h-0.8zM163.9 329.3h0.8v0.8h-0.8zM165.8 319.5h0.8v0.8h-0.8zM202.6 330.2h0.8v0.8h-0.8zM199.6 339.4h0.8v0.8h-0.8zM181.9 320.7h0.8v0.8h-0.8zM198.2 317.9h0.8v0.8h-0.8zM170.6 333.2h0.8v0.8h-0.8zM196.4 325.0h0.8v0.8h-0.8zM204.9 322.2h0.8v0.8h-0.8zM185.1 337.2h0.8v0.8h-0.8zM176.0 328.7h0.8v0.8h-0.8zM199.6 324.1h0.8v0.8h-0.8zM204.3 329.5h0.8v0.8h-0.8zM167.5 327.6h0.8v0.8h-0.8zM209.9 337.4h0.8v0.8h-0.8zM187.7 318.7h0.8v0.8h-0.8zM177.8 330.0h0.8v0.8h-0.8zM186.0 312.4h0.8v0.8h-0.8zM185.5 325.5h0.8v0.8h-0.8zM173.0 337.6h0.8v0.8h-0.8zM195.8 334.5h0.8v0.8h-0.8zM189.3 316.7h0.8v0.8h-0.8zM208.2 334.6h0.8v0.8h-0.8zM176.2 313.7h0.8v0.8h-0.8zM203.1 320.2h0.8v0.8h-0.8zM165.1 324.4h0.8v0.8h-0.8zM198.0 318.7h0.8v0.8h-0.8zM188.1 333.6h0.8v0.8h-0.8zM201.2 340.3h0.8v0.8h-0.8zM205.1 324.4h0.8v0.8h-0.8zM176.2 320.6h0.8v0.8h-0.8zM168.7 339.6h0.8v0.8h-0.8zM167.4 343.2h0.8v0.8h-0.8zM197.7 328.1h0.8v0.8h-0.8zM203.9 316.6h0.8v0.8h-0.8zM204.2 322.7h0.8v0.8h-0.8zM197.4 327.1h0.8v0.8h-0.8zM214.0 314.0h0.8v0.8h-0.8zM160.8 330.7h0.8v0.8h-0.8zM184.2 330.9h0.8v0.8h-0.8zM164.3 325.9h0.8v0.8h-0.8zM201.3 339.7h0.8v0.8h-0.8zM177.8 333.1h0.8v0.8h-0.8zM213.2 316.1h0.8v0.8h-0.8zM170.7 328.9h0.8v0.8h-0.8zM201.3 337.4h0.8v0.8h-0.8zM168.0 330.2h0.8v0.8h-0.8zM187.0 331.1h0.8v0.8h-0.8zM181.7 330.8h0.8v0.8h-0.8zM168.8 316.7h0.8v0.8h-0.8zM211.1 322.9h0.8v0.8h-0.8zM168.7 317.7h0.8v0.8h-0.8zM168.9 326.2h0.8v0.8h-0.8zM180.4 332.5h0.8v0.8h-0.8zM165.3 324.5h0.8v0.8h-0.8zM158.6 321.1h0.8v0.8h-0.8zM213.4 324.1h0.8v0.8h-0.8zM204.4 324.6h0.8v0.8h-0.8zM166.5 317.5h0.8v0.8h-0.8zM165.9 328.0h0.8v0.8h-0.8zM191.9 350.4h0.8v0.8h-0.8zM168.7 326.1h0.8v0.8h-0.8zM170.0 345.4h0.8v0.8h-0.8zM173.6 335.2h0.8v0.8h-0.8zM161.6 331.7h0.8v0.8h-0.8zM164.0 321.1h0.8v0.8h-0.8zM190.6 326.3h0.8v0.8h-0.8zM186.2 324.5h0.8v0.8h-0.8zM170.9 324.1h0.8v0.8h-0.8zM186.0 317.0h0.8v0.8h-0.8zM198.2 326.6h0.8v0.8h-0.8zM172.9 336.3h0.8v0.8h-0.8zM211.5 321.8h0.8v0.8h-0.8zM215.4 328.8h0.8v0.8h-0.8zM170.3 334.7h0.8v0.8h-0.8zM196.2 333.1h0.8v0.8h-0.8zM188.1 338.5h0.8v0.8h-0.8zM205.1 322.2h0.8v0.8h-0.8zM158.6 324.7h0.8v0.8h-0.8zM188.7 316.6h0.8v0.8h-0.8zM183.7 338.0h0.8v0.8h-0.8zM178.3 334.8h0.8v0.8h-0.8zM169.5 316.7h0.8v0.8h-0.8zM205.3 323.6h0.8v0.8h-0.8zM191.5 334.0h0.8v0.8h-0.8zM198.5 327.0h0.8v0.8h-0.8zM190.1 340.6h0.8v0.8h-0.8zM182.7 319.9h0.8v0.8h-0.8zM194.4 317.4h0.8v0.8h-0.8zM193.5 318.7h0.8v0.8h-0.8zM197.0 322.9h0.8v0.8h-0.8zM173.6 329.8h0.8v0.8h-0.8zM162.7 322.8h0.8v0.8h-0.8zM180.0 336.6h0.8v0.8h-0.8zM208.2 322.3h0.8v0.8h-0.8zM161.2 327.7h0.8v0.8h-0.8zM192.2 335.1h0.8v0.8h-0.8zM183.4 329.3h0.8v0.8h-0.8zM183.2 320.7h0.8v0.8h-0.8zM188.8 323.4h0.8v0.8h-0.8zM213.9 313.7h0.8v0.8h-0.8zM186.5 328.9h0.8v0.8h-0.8zM193.7 327.7h0.8v0.8h-0.8zM172.9 312.5h0.8v0.8h-0.8zM205.5 322.0h0.8v0.8h-0.8zM161.0 338.5h0.8v0.8h-0.8zM193.5 335.9h0.8v0.8h-0.8zM184.1 321.3h0.8v0.8h-0.8zM192.8 323.5h0.8v0.8h-0.8zM198.0 314.5h0.8v0.8h-0.8zM176.8 320.6h0.8v0.8h-0.8zM187.2 345.7h0.8v0.8h-0.8zM189.1 333.7h0.8v0.8h-0.8zM188.2 327.3h0.8v0.8h-0.8zM194.2 329.0h0.8v0.8h-0.8zM164.2 323.9h0.8v0.8h-0.8zM171.0 316.8h0.8v0.8h-0.8zM183.9 334.3h0.8v0.8h-0.8zM204.8 320.0h0.8v0.8h-0.8zM215.6 330.9h0.8v0.8h-0.8zM198.6 330.0h0.8v0.8h-0.8zM214.8 315.1h0.8v0.8h-0.8zM177.3 325.0h0.8v0.8h-0.8zM186.8 324.5h0.8v0.8h-0.8zM183.4 324.0h0.8v0.8h-0.8zM180.6 312.7h0.8v0.8h-0.8zM208.7 325.2h0.8v0.8h-0.8zM194.1 325.4h0.8v0.8h-0.8zM181.7 329.7h0.8v0.8h-0.8zM184.8 331.4h0.8v0.8h-0.8zM172.0 322.5h0.8v0.8h-0.8zM190.0 324.2h0.8v0.8h-0.8zM190.5 337.5h0.8v0.8h-0.8zM179.1 326.2h0.8v0.8h-0.8zM174.7 329.8h0.8v0.8h-0.8zM191.4 318.6h0.8v0.8h-0.8zM167.8 314.6h0.8v0.8h-0.8zM181.7 326.4h0.8v0.8h-0.8zM177.7 324.1h0.8v0.8h-0.8zM189.7 345.4h0.8v0.8h-0.8zM209.7 345.2h0.8v0.8h-0.8zM189.7 326.9h0.8v0.8h-0.8zM199.7 320.6h0.8v0.8h-0.8zM176.7 331.8h0.8v0.8h-0.8zM175.6 319.3h0.8v0.8h-0.8zM158.5 327.6h0.8v0.8h-0.8zM185.3 329.8h0.8v0.8h-0.8zM170.5 314.3h0.8v0.8h-0.8zM208.3 325.2h0.8v0.8h-0.8zM202.3 315.1h0.8v0.8h-0.8zM192.8 333.6h0.8v0.8h-0.8zM212.6 340.4h0.8v0.8h-0.8zM177.0 318.2h0.8v0.8h-0.8zM183.1 318.1h0.8v0.8h-0.8zM158.9 324.7h0.8v0.8h-0.8zM189.5 318.3h0.8v0.8h-0.8zM187.7 313.7h0.8v0.8h-0.8zM180.8 322.1h0.8v0.8h-0.8zM178.3 324.4h0.8v0.8h-0.8zM162.7 313.4h0.8v0.8h-0.8zM171.1 331.4h0.8v0.8h-0.8zM168.8 316.9h0.8v0.8h-0.8zM179.7 317.3h0.8v0.8h-0.8zM215.3 329.6h0.8v0.8h-0.8zM192.1 338.9h0.8v0.8h-0.8zM208.4 328.8h0.8v0.8h-0.8zM177.2 331.9h0.8v0.8h-0.8zM185.2 342.0h0.8v0.8h-0.8zM162.7 328.1h0.8v0.8h-0.8zM205.8 332.7h0.8v0.8h-0.8zM180.1 321.6h0.8v0.8h-0.8zM178.7 331.0h0.8v0.8h-0.8zM179.3 323.8h0.8v0.8h-0.8zM206.7 324.0h0.8v0.8h-0.8zM191.7 323.9h0.8v0.8h-0.8zM169.0 328.2h0.8v0.8h-0.8zM174.7 319.7h0.8v0.8h-0.8zM188.0 344.9h0.8v0.8h-0.8zM172.4 316.7h0.8v0.8h-0.8zM185.9 317.7h0.8v0.8h-0.8zM179.1 333.5h0.8v0.8h-0.8zM206.6 328.2h0.8v0.8h-0.8zM209.2 333.8h0.8v0.8h-0.8zM178.2 331.9h0.8v0.8h-0.8zM190.0 331.7h0.8v0.8h-0.8zM192.4 343.6h0.8v0.8h-0.8zM162.9 328.2h0.8v0.8h-0.8zM166.2 345.2h0.8v0.8h-0.8zM177.1 321.8h0.8v0.8h-0.8zM186.6 324.6h0.8v0.8h-0.8zM191.8 334.3h0.8v0.8h-0.8zM216.0 316.6h0.8v0.8h-0.8zM192.9 313.4h0.8v0.8h-0.8zM196.5 337.4h0.8v0.8h-0.8zM176.9 322.6h0.8v0.8h-0.8zM209.9 328.8h0.8v0.8h-0.8zM202.5 321.0h0.8v0.8h-0.8zM180.9 321.8h0.8v0.8h-0.8zM177.0 338.6h0.8v0.8h-0.8zM185.6 315.5h0.8v0.8h-0.8zM191.5 323.1h0.8v0.8h-0.8zM184.6 329.4h0.8v0.8h-0.8zM190.8 338.1h0.8v0.8h-0.8zM161.2 324.2h0.8v0.8h-0.8zM164.6 330.8h0.8v0.8h-0.8zM170.7 322.1h0.8v0.8h-0.8zM179.0 329.0h0.8v0.8h-0.8zM161.8 312.8h0.8v0.8h-0.8zM190.6 336.9h0.8v0.8h-0.8zM177.3 328.6h0.8v0.8h-0.8zM192.1 325.9h0.8v0.8h-0.8zM186.6 320.2h0.8v0.8h-0.8zM182.3 335.5h0.8v0.8h-0.8zM195.5 336.2h0.8v0.8h-0.8zM173.0 326.0h0.8v0.8h-0.8zM174.6 313.4h0.8v0.8h-0.8zM204.2 322.5h0.8v0.8h-0.8zM191.6 312.6h0.8v0.8h-0.8zM182.1 323.9h0.8v0.8h-0.8zM179.5 333.9h0.8v0.8h-0.8zM195.8 326.2h0.8v0.8h-0.8zM191.4 321.1h0.8v0.8h-0.8zM173.3 322.5h0.8v0.8h-0.8zM167.3 323.5h0.8v0.8h-0.8zM184.8 334.9h0.8v0.8h-0.8zM178.6 346.3h0.8v0.8h-0.8zM176.9 326.2h0.8v0.8h-0.8zM186.4 319.6h0.8v0.8h-0.8zM208.4 319.9h0.8v0.8h-0.8zM197.8 313.7h0.8v0.8h-0.8zM213.0 315.8h0.8v0.8h-0.8zM172.8 330.8h0.8v0.8h-0.8zM178.5 331.1h0.8v0.8h-0.8zM179.4 338.3h0.8v0.8h-0.8zM173.2 326.5h0.8v0.8h-0.8zM209.1 338.0h0.8v0.8h-0.8zM191.5 330.1h0.8v0.8h-0.8zM180.4 324.4h0.8v0.8h-0.8zM175.9 328.4h0.8v0.8h-0.8zM203.1 316.1h0.8v0.8h-0.8zM164.5 325.4h0.8v0.8h-0.8zM189.4 324.6h0.8v0.8h-0.8zM215.6 323.8h0.8v0.8h-0.8zM198.2 320.1h0.8v0.8h-0.8zM178.2 326.8h0.8v0.8h-0.8zM180.8 315.4h0.8v0.8h-0.8zM181.5 330.7h0.8v0.8h-0.8zM172.1 328.2h0.8v0.8h-0.8zM161.0 325.8h0.8v0.8h-0.8zM164.8 331.8h0.8v0.8h-0.8zM166.9 330.4h0.8v0.8h-0.8zM207.9 317.7h0.8v0.8h-0.8zM187.9 317.4h0.8v0.8h-0.8zM196.0 331.7h0.8v0.8h-0.8zM208.9 336.8h0.8v0.8h-0.8zM211.8 318.5h0.8v0.8h-0.8zM189.1 329.7h0.8v0.8h-0.8zM190.5 313.3h0.8v0.8h-0.8zM196.9 332.0h0.8v0.8h-0.8zM159.3 322.0h0.8v0.8h-0.8zM196.2 330.8h0.8v0.8h-0.8zM194.4 333.2h0.8v0.8h-0.8zM192.0 321.0h0.8v0.8h-0.8zM185.0 323.2h0.8v0.8h-0.8zM184.6 327.7h0.8v0.8h-0.8zM176.6 324.7h0.8v0.8h-0.8zM176.0 317.2h0.8v0.8h-0.8zM193.5 317.6h0.8v0.8h-0.8zM197.0 324.7h0.8v0.8h-0.8zM207.5 330.2h0.8v0.8h-0.8zM199.5 325.9h0.8v0.8h-0.8zM187.6 334.6h0.8v0.8h-0.8zM199.8 313.0h0.8v0.8h-0.8zM188.6 333.9h0.8v0.8h-0.8zM189.8 313.6h0.8v0.8h-0.8zM201.7 330.3h0.8v0.8h-0.8zM208.8 326.5h0.8v0.8h-0.8zM189.0 332.6h0.8v0.8h-0.8zM165.7 340.2h0.8v0.8h-0.8zM194.5 326.9h0.8v0.8h-0.8zM201.3 332.0h0.8v0.8h-0.8zM184.7 318.0h0.8v0.8h-0.8zM204.1 333.3h0.8v0.8h-0.8zM194.1 319.4h0.8v0.8h-0.8zM188.8 316.5h0.8v0.8h-0.8zM203.6 339.5h0.8v0.8h-0.8zM170.3 320.2h0.8v0.8h-0.8zM161.4 326.4h0.8v0.8h-0.8zM182.5 325.1h0.8v0.8h-0.8zM187.5 320.8h0.8v0.8h-0.8zM188.9 324.4h0.8v0.8h-0.8zM173.0 322.2h0.8v0.8h-0.8zM175.8 313.4h0.8v0.8h-0.8zM196.9 324.7h0.8v0.8h-0.8zM189.9 335.3h0.8v0.8h-0.8zM205.1 321.0h0.8v0.8h-0.8zM193.4 335.6h0.8v0.8h-0.8zM183.8 328.3h0.8v0.8h-0.8zM194.8 315.7h0.8v0.8h-0.8zM192.2 321.5h0.8v0.8h-0.8zM181.8 328.8h0.8v0.8h-0.8zM199.3 316.9h0.8v0.8h-0.8zM181.9 323.2h0.8v0.8h-0.8zM168.6 328.3h0.8v0.8h-0.8zM182.8 318.7h0.8v0.8h-0.8zM204.8 324.2h0.8v0.8h-0.8zM164.5 324.1h0.8v0.8h-0.8zM183.2 327.6h0.8v0.8h-0.8zM214.4 323.4h0.8v0.8h-0.8zM195.8 329.4h0.8v0.8h-0.8zM184.8 327.1h0.8v0.8h-0.8zM178.1 331.1h0.8v0.8h-0.8zM169.4 340.2h0.8v0.8h-0.8zM184.3 328.2h0.8v0.8h-0.8zM194.9 317.1h0.8v0.8h-0.8zM190.6 321.2h0.8v0.8h-0.8zM161.7 320.0h0.8v0.8h-0.8zM166.3 327.1h0.8v0.8h-0.8zM160.0 326.9h0.8v0.8h-0.8zM197.3 318.3h0.8v0.8h-0.8zM168.4 321.9h0.8v0.8h-0.8zM201.8 337.4h0.8v0.8h-0.8zM198.6 326.7h0.8v0.8h-0.8zM186.4 315.4h0.8v0.8h-0.8zM179.9 334.9h0.8v0.8h-0.8zM213.2 319.6h0.8v0.8h-0.8zM187.3 329.0h0.8v0.8h-0.8zM192.7 316.3h0.8v0.8h-0.8zM181.3 319.4h0.8v0.8h-0.8zM181.7 346.4h0.8v0.8h-0.8zM157.2 320.5h0.8v0.8h-0.8zM174.0 331.9h0.8v0.8h-0.8zM216.7 318.4h0.8v0.8h-0.8zM197.6 323.1h0.8v0.8h-0.8zM198.8 320.4h0.8v0.8h-0.8zM184.9 320.9h0.8v0.8h-0.8zM184.0 325.4h0.8v0.8h-0.8zM175.0 327.4h0.8v0.8h-0.8zM161.9 332.2h0.8v0.8h-0.8zM202.7 321.9h0.8v0.8h-0.8zM176.5 333.1h0.8v0.8h-0.8zM186.1 342.3h0.8v0.8h-0.8zM177.1 319.0h0.8v0.8h-0.8zM181.2 340.0h0.8v0.8h-0.8zM195.4 329.9h0.8v0.8h-0.8zM213.4 342.7h0.8v0.8h-0.8zM176.7 324.7h0.8v0.8h-0.8zM173.1 323.1h0.8v0.8h-0.8zM170.1 314.9h0.8v0.8h-0.8zM206.5 314.7h0.8v0.8h-0.8zM199.2 316.0h0.8v0.8h-0.8zM191.5 330.9h0.8v0.8h-0.8zM168.1 317.6h0.8v0.8h-0.8zM166.2 329.9h0.8v0.8h-0.8zM192.4 334.0h0.8v0.8h-0.8zM159.2 316.7h0.8v0.8h-0.8zM184.5 321.0h0.8v0.8h-0.8zM192.7 335.0h0.8v0.8h-0.8zM189.3 317.8h0.8v0.8h-0.8zM185.9 318.5h0.8v0.8h-0.8zM174.2 341.6h0.8v0.8h-0.8zM199.7 341.3h0.8v0.8h-0.8zM182.7 324.4h0.8v0.8h-0.8zM162.5 327.1h0.8v0.8h-0.8zM200.7 331.1h0.8v0.8h-0.8zM164.4 325.9h0.8v0.8h-0.8zM204.4 320.8h0.8v0.8h-0.8zM200.2 320.5h0.8v0.8h-0.8zM186.7 319.8h0.8v0.8h-0.8zM158.3 317.5h0.8v0.8h-0.8zM190.0 322.4h0.8v0.8h-0.8zM186.6 319.8h0.8v0.8h-0.8zM203.7 323.4h0.8v0.8h-0.8zM194.3 320.7h0.8v0.8h-0.8zM211.8 324.1h0.8v0.8h-0.8zM195.1 344.7h0.8v0.8h-0.8zM173.9 327.9h0.8v0.8h-0.8zM207.6 328.8h0.8v0.8h-0.8zM180.7 335.8h0.8v0.8h-0.8zM173.7 314.4h0.8v0.8h-0.8zM204.1 325.1h0.8v0.8h-0.8zM182.4 334.2h0.8v0.8h-0.8zM184.1 330.7h0.8v0.8h-0.8zM191.0 335.3h0.8v0.8h-0.8zM197.3 320.8h0.8v0.8h-0.8zM215.6 321.8h0.8v0.8h-0.8zM196.8 336.9h0.8v0.8h-0.8zM179.3 329.2h0.8v0.8h-0.8zM182.5 337.8h0.8v0.8h-0.8zM193.3 328.1h0.8v0.8h-0.8zM200.1 326.2h0.8v0.8h-0.8zM211.7 325.2h0.8v0.8h-0.8zM198.4 324.5h0.8v0.8h-0.8zM167.9 320.5h0.8v0.8h-0.8zM183.4 313.1h0.8v0.8h-0.8zM186.0 320.8h0.8v0.8h-0.8zM189.2 325.8h0.8v0.8h-0.8zM170.8 317.0h0.8v0.8h-0.8zM209.3 327.6h0.8v0.8h-0.8zM171.5 331.6h0.8v0.8h-0.8zM165.2 339.5h0.8v0.8h-0.8zM180.9 328.0h0.8v0.8h-0.8zM186.7 342.1h0.8v0.8h-0.8zM168.5 324.1h0.8v0.8h-0.8zM177.5 327.5h0.8v0.8h-0.8zM182.8 329.0h0.8v0.8h-0.8zM209.1 314.9h0.8v0.8h-0.8zM174.4 336.7h0.8v0.8h-0.8zM197.2 333.9h0.8v0.8h-0.8zM174.0 317.2h0.8v0.8h-0.8zM165.3 323.2h0.8v0.8h-0.8zM165.0 331.3h0.8v0.8h-0.8zM173.7 329.6h0.8v0.8h-0.8zM156.9 332.9h0.8v0.8h-0.8zM199.8 333.4h0.8v0.8h-0.8zM192.1 345.5h0.8v0.8h-0.8zM205.5 325.4h0.8v0.8h-0.8zM189.9 339.6h0.8v0.8h-0.8zM178.1 325.0h0.8v0.8h-0.8zM191.8 326.6h0.8v0.8h-0.8zM182.5 334.0h0.8v0.8h-0.8zM158.8 320.8h0.8v0.8h-0.8zM160.4 313.7h0.8v0.8h-0.8zM167.1 334.5h0.8v0.8h-0.8zM189.9 331.3h0.8v0.8h-0.8zM184.9 334.1h0.8v0.8h-0.8zM179.2 336.6h0.8v0.8h-0.8zM203.9 327.0h0.8v0.8h-0.8zM158.9 315.2h0.8v0.8h-0.8zM192.0 315.7h0.8v0.8h-0.8zM183.7 323.6h0.8v0.8h-0.8zM213.4 318.9h0.8v0.8h-0.8zM189.5 320.9h0.8v0.8h-0.8zM172.6 328.9h0.8v0.8h-0.8zM205.6 312.3h0.8v0.8h-0.8zM215.7 344.9h0.8v0.8h-0.8zM190.0 329.6h0.8v0.8h-0.8zM167.1 321.4h0.8v0.8h-0.8zM192.9 324.2h0.8v0.8h-0.8zM213.4 317.2h0.8v0.8h-0.8zM182.3 329.7h0.8v0.8h-0.8zM185.6 322.8h0.8v0.8h-0.8zM184.8 328.6h0.8v0.8h-0.8zM201.3 315.6h0.8v0.8h-0.8zM169.7 314.9h0.8v0.8h-0.8zM160.1 343.4h0.8v0.8h-0.8zM186.9 329.4h0.8v0.8h-0.8zM183.4 322.7h0.8v0.8h-0.8zM192.0 318.4h0.8v0.8h-0.8zM180.5 324.5h0.8v0.8h-0.8zM190.9 330.0h0.8v0.8h-0.8zM175.6 331.6h0.8v0.8h-0.8zM178.1 331.9h0.8v0.8h-0.8zM212.9 330.6h0.8v0.8h-0.8zM159.5 325.7h0.8v0.8h-0.8zM167.3 342.3h0.8v0.8h-0.8zM190.9 313.7h0.8v0.8h-0.8zM157.9 336.8h0.8v0.8h-0.8zM167.9 328.7h0.8v0.8h-0.8zM180.8 323.7h0.8v0.8h-0.8zM178.7 325.1h0.8v0.8h-0.8zM196.9 329.3h0.8v0.8h-0.8zM174.2 315.3h0.8v0.8h-0.8zM170.0 330.1h0.8v0.8h-0.8zM190.1 334.1h0.8v0.8h-0.8zM194.1 326.1h0.8v0.8h-0.8zM187.4 327.1h0.8v0.8h-0.8zM188.0 331.0h0.8v0.8h-0.8zM170.6 334.5h0.8v0.8h-0.8z" fill="#000" fill-opacity="0.4"/>
<path d="M210.5 322.3h0.8v0.8h-0.8zM206.0 319.5h0.8v0.8h-0.8zM214.5 335.6h0.8v0.8h-0.8zM215.4 347.3h0.8v0.8h-0.8zM198.0 343.9h0.8v0.8h-0.8zM204.1 340.9h0.8v0.8h-0.8zM199.0 341.9h0.8v0.8h-0.8zM210.8 350.7h0.8v0.8h-0.8zM203.6 335.7h0.8v0.8h-0.8zM209.8 333.2h0.8v0.8h-0.8zM188.7 329.6h0.8v0.8h-0.8zM211.7 335.3h0.8v0.8h-0.8zM209.1 318.7h0.8v0.8h-0.8zM210.8 340.9h0.8v0.8h-0.8zM199.2 327.1h0.8v0.8h-0.8zM194.2 329.8h0.8v0.8h-0.8zM204.1 348.6h0.8v0.8h-0.8zM210.8 333.3h0.8v0.8h-0.8zM192.7 340.8h0.8v0.8h-0.8zM198.1 317.7h0.8v0.8h-0.8zM197.0 351.1h0.8v0.8h-0.8zM194.0 349.8h0.8v0.8h-0.8zM192.0 334.3h0.8v0.8h-0.8zM209.9 330.8h0.8v0.8h-0.8zM195.8 335.1h0.8v0.8h-0.8zM207.0 341.2h0.8v0.8h-0.8zM216.4 349.4h0.8v0.8h-0.8zM202.5 325.6h0.8v0.8h-0.8zM195.6 335.7h0.8v0.8h-0.8zM202.2 335.1h0.8v0.8h-0.8zM199.1 361.9h0.8v0.8h-0.8zM198.4 350.5h0.8v0.8h-0.8zM196.8 326.6h0.8v0.8h-0.8zM193.8 323.3h0.8v0.8h-0.8zM189.4 326.2h0.8v0.8h-0.8zM202.8 342.6h0.8v0.8h-0.8zM187.9 339.8h0.8v0.8h-0.8zM204.0 335.0h0.8v0.8h-0.8zM184.3 340.3h0.8v0.8h-0.8zM211.5 347.4h0.8v0.8h-0.8zM202.3 348.4h0.8v0.8h-0.8zM205.7 325.2h0.8v0.8h-0.8zM210.1 345.6h0.8v0.8h-0.8zM207.3 334.7h0.8v0.8h-0.8zM202.7 342.3h0.8v0.8h-0.8zM187.7 338.3h0.8v0.8h-0.8zM192.7 329.5h0.8v0.8h-0.8zM207.0 348.4h0.8v0.8h-0.8zM204.9 325.1h0.8v0.8h-0.8zM179.0 334.0h0.8v0.8h-0.8zM198.0 328.6h0.8v0.8h-0.8zM215.2 358.0h0.8v0.8h-0.8zM206.0 320.6h0.8v0.8h-0.8zM213.4 336.1h0.8v0.8h-0.8zM201.1 337.3h0.8v0.8h-0.8zM193.9 337.2h0.8v0.8h-0.8zM208.5 347.9h0.8v0.8h-0.8zM208.7 326.6h0.8v0.8h-0.8zM206.2 347.5h0.8v0.8h-0.8zM211.3 331.9h0.8v0.8h-0.8zM216.9 336.0h0.8v0.8h-0.8zM213.5 335.5h0.8v0.8h-0.8zM205.0 318.4h0.8v0.8h-0.8zM214.6 341.3h0.8v0.8h-0.8zM199.0 335.8h0.8v0.8h-0.8zM210.9 341.9h0.8v0.8h-0.8zM185.0 351.1h0.8v0.8h-0.8zM195.1 355.6h0.8v0.8h-0.8zM216.1 336.6h0.8v0.8h-0.8zM207.1 338.1h0.8v0.8h-0.8zM201.1 351.4h0.8v0.8h-0.8zM198.6 329.4h0.8v0.8h-0.8zM202.8 318.0h0.8v0.8h-0.8zM215.1 322.4h0.8v0.8h-0.8zM202.1 330.2h0.8v0.8h-0.8zM212.8 325.4h0.8v0.8h-0.8zM205.5 337.3h0.8v0.8h-0.8zM214.5 341.2h0.8v0.8h-0.8zM213.7 323.2h0.8v0.8h-0.8zM171.2 329.9h0.8v0.8h-0.8zM214.5 336.9h0.8v0.8h-0.8zM198.3 330.7h0.8v0.8h-0.8zM180.6 338.0h0.8v0.8h-0.8zM208.3 351.5h0.8v0.8h-0.8zM212.2 334.7h0.8v0.8h-0.8zM199.5 315.2h0.8v0.8h-0.8zM210.2 328.5h0.8v0.8h-0.8zM201.3 338.6h0.8v0.8h-0.8zM185.1 334.2h0.8v0.8h-0.8zM199.0 356.7h0.8v0.8h-0.8zM203.9 347.3h0.8v0.8h-0.8zM195.4 317.9h0.8v0.8h-0.8zM213.8 331.3h0.8v0.8h-0.8zM191.9 346.7h0.8v0.8h-0.8zM210.1 316.4h0.8v0.8h-0.8zM202.8 356.8h0.8v0.8h-0.8zM206.2 320.3h0.8v0.8h-0.8zM196.9 350.2h0.8v0.8h-0.8zM190.3 344.1h0.8v0.8h-0.8zM197.0 329.6h0.8v0.8h-0.8zM200.2 346.9h0.8v0.8h-0.8zM210.1 341.4h0.8v0.8h-0.8zM200.7 329.5h0.8v0.8h-0.8zM215.7 328.4h0.8v0.8h-0.8zM202.3 341.2h0.8v0.8h-0.8zM203.3 345.9h0.8v0.8h-0.8zM210.6 342.1h0.8v0.8h-0.8zM198.5 326.3h0.8v0.8h-0.8zM212.1 349.0h0.8v0.8h-0.8zM215.7 333.0h0.8v0.8h-0.8zM201.6 313.7h0.8v0.8h-0.8zM213.7 324.8h0.8v0.8h-0.8zM211.6 327.7h0.8v0.8h-0.8zM209.9 324.6h0.8v0.8h-0.8zM209.1 355.1h0.8v0.8h-0.8zM208.8 319.9h0.8v0.8h-0.8zM197.3 336.6h0.8v0.8h-0.8zM213.1 321.4h0.8v0.8h-0.8zM196.1 317.1h0.8v0.8h-0.8zM208.3 330.2h0.8v0.8h-0.8zM204.1 348.6h0.8v0.8h-0.8zM210.9 331.9h0.8v0.8h-0.8zM201.5 335.1h0.8v0.8h-0.8zM188.6 342.6h0.8v0.8h-0.8zM215.6 351.2h0.8v0.8h-0.8zM210.8 318.4h0.8v0.8h-0.8zM213.2 336.9h0.8v0.8h-0.8zM195.1 317.3h0.8v0.8h-0.8zM189.8 335.8h0.8v0.8h-0.8zM192.3 339.0h0.8v0.8h-0.8zM203.6 342.2h0.8v0.8h-0.8zM213.7 324.9h0.8v0.8h-0.8zM201.4 343.3h0.8v0.8h-0.8zM198.7 346.4h0.8v0.8h-0.8zM211.0 345.1h0.8v0.8h-0.8zM199.2 343.8h0.8v0.8h-0.8zM203.0 337.5h0.8v0.8h-0.8zM211.4 328.8h0.8v0.8h-0.8zM198.2 341.9h0.8v0.8h-0.8zM190.9 331.7h0.8v0.8h-0.8zM211.7 341.0h0.8v0.8h-0.8zM191.0 339.5h0.8v0.8h-0.8zM193.0 347.2h0.8v0.8h-0.8zM209.0 327.9h0.8v0.8h-0.8zM200.5 334.2h0.8v0.8h-0.8zM199.4 348.1h0.8v0.8h-0.8zM208.1 328.7h0.8v0.8h-0.8zM209.6 319.6h0.8v0.8h-0.8zM206.6 331.4h0.8v0.8h-0.8zM199.4 334.4h0.8v0.8h-0.8zM207.3 318.6h0.8v0.8h-0.8zM208.7 368.1h0.8v0.8h-0.8zM212.9 328.4h0.8v0.8h-0.8zM208.6 353.6h0.8v0.8h-0.8zM194.5 353.5h0.8v0.8h-0.8zM201.6 356.2h0.8v0.8h-0.8zM196.9 346.7h0.8v0.8h-0.8zM199.5 349.1h0.8v0.8h-0.8zM213.8 338.8h0.8v0.8h-0.8zM196.9 346.7h0.8v0.8h-0.8zM208.7 322.9h0.8v0.8h-0.8zM210.5 333.1h0.8v0.8h-0.8zM203.9 324.0h0.8v0.8h-0.8zM207.1 344.6h0.8v0.8h-0.8zM196.9 344.0h0.8v0.8h-0.8zM187.3 336.2h0.8v0.8h-0.8zM207.7 324.3h0.8v0.8h-0.8zM206.6 320.3h0.8v0.8h-0.8zM215.7 324.6h0.8v0.8h-0.8zM183.1 334.0h0.8v0.8h-0.8zM216.3 339.5h0.8v0.8h-0.8zM208.3 346.8h0.8v0.8h-0.8zM199.3 330.4h0.8v0.8h-0.8zM215.7 340.1h0.8v0.8h-0.8zM199.8 322.8h0.8v0.8h-0.8zM213.9 333.3h0.8v0.8h-0.8zM192.5 339.5h0.8v0.8h-0.8zM209.7 360.6h0.8v0.8h-0.8zM196.1 343.5h0.8v0.8h-0.8zM200.4 334.3h0.8v0.8h-0.8zM204.3 351.1h0.8v0.8h-0.8zM208.2 333.2h0.8v0.8h-0.8zM198.9 346.3h0.8v0.8h-0.8zM198.4 339.6h0.8v0.8h-0.8zM209.1 343.4h0.8v0.8h-0.8zM212.6 338.1h0.8v0.8h-0.8zM197.8 324.8h0.8v0.8h-0.8zM198.4 349.9h0.8v0.8h-0.8zM194.6 352.6h0.8v0.8h-0.8zM209.1 328.4h0.8v0.8h-0.8zM195.6 333.9h0.8v0.8h-0.8zM212.3 334.2h0.8v0.8h-0.8zM211.9 336.9h0.8v0.8h-0.8zM203.8 322.3h0.8v0.8h-0.8zM202.0 323.8h0.8v0.8h-0.8zM190.7 332.5h0.8v0.8h-0.8zM193.0 319.3h0.8v0.8h-0.8zM208.6 341.3h0.8v0.8h-0.8zM208.1 332.9h0.8v0.8h-0.8zM197.8 337.1h0.8v0.8h-0.8zM196.8 332.4h0.8v0.8h-0.8zM208.9 332.1h0.8v0.8h-0.8zM190.0 346.2h0.8v0.8h-0.8zM199.7 329.7h0.8v0.8h-0.8zM199.8 334.3h0.8v0.8h-0.8zM203.6 339.0h0.8v0.8h-0.8zM213.8 355.7h0.8v0.8h-0.8zM185.0 333.7h0.8v0.8h-0.8zM196.7 337.4h0.8v0.8h-0.8zM195.6 335.7h0.8v0.8h-0.8zM207.7 334.5h0.8v0.8h-0.8zM207.3 342.3h0.8v0.8h-0.8zM195.1 334.4h0.8v0.8h-0.8zM214.9 345.4h0.8v0.8h-0.8zM214.3 325.7h0.8v0.8h-0.8zM198.8 346.0h0.8v0.8h-0.8zM205.1 338.3h0.8v0.8h-0.8zM201.7 345.2h0.8v0.8h-0.8zM206.7 323.9h0.8v0.8h-0.8zM208.5 331.1h0.8v0.8h-0.8zM202.6 341.3h0.8v0.8h-0.8zM206.4 328.6h0.8v0.8h-0.8zM194.1 330.0h0.8v0.8h-0.8zM203.8 321.6h0.8v0.8h-0.8zM199.2 361.0h0.8v0.8h-0.8zM199.0 335.7h0.8v0.8h-0.8zM193.5 331.4h0.8v0.8h-0.8zM207.4 336.8h0.8v0.8h-0.8zM189.1 335.4h0.8v0.8h-0.8zM195.8 347.2h0.8v0.8h-0.8zM204.1 352.7h0.8v0.8h-0.8zM208.4 321.9h0.8v0.8h-0.8zM214.0 329.5h0.8v0.8h-0.8zM204.0 336.1h0.8v0.8h-0.8zM192.8 348.1h0.8v0.8h-0.8zM206.5 323.4h0.8v0.8h-0.8zM192.2 340.1h0.8v0.8h-0.8zM216.4 339.5h0.8v0.8h-0.8zM208.0 330.3h0.8v0.8h-0.8zM215.3 341.1h0.8v0.8h-0.8zM197.5 328.1h0.8v0.8h-0.8zM184.7 347.9h0.8v0.8h-0.8zM209.1 343.5h0.8v0.8h-0.8zM203.0 358.9h0.8v0.8h-0.8zM195.5 325.6h0.8v0.8h-0.8zM212.1 333.8h0.8v0.8h-0.8zM204.6 336.6h0.8v0.8h-0.8zM209.0 328.3h0.8v0.8h-0.8zM214.8 354.5h0.8v0.8h-0.8zM200.1 324.4h0.8v0.8h-0.8zM206.2 362.5h0.8v0.8h-0.8zM196.0 350.0h0.8v0.8h-0.8zM198.7 326.6h0.8v0.8h-0.8zM215.2 333.1h0.8v0.8h-0.8zM204.6 342.9h0.8v0.8h-0.8zM215.7 337.7h0.8v0.8h-0.8zM200.1 342.7h0.8v0.8h-0.8zM211.2 315.7h0.8v0.8h-0.8zM202.1 342.7h0.8v0.8h-0.8zM203.6 355.1h0.8v0.8h-0.8zM190.2 337.3h0.8v0.8h-0.8zM197.1 317.3h0.8v0.8h-0.8zM202.8 334.4h0.8v0.8h-0.8zM201.1 328.0h0.8v0.8h-0.8zM213.1 323.5h0.8v0.8h-0.8zM199.2 319.5h0.8v0.8h-0.8zM216.0 318.7h0.8v0.8h-0.8zM204.6 353.2h0.8v0.8h-0.8zM195.0 349.8h0.8v0.8h-0.8zM192.8 329.9h0.8v0.8h-0.8zM210.3 338.9h0.8v0.8h-0.8zM208.2 338.6h0.8v0.8h-0.8zM198.5 344.8h0.8v0.8h-0.8zM191.2 327.4h0.8v0.8h-0.8zM209.8 336.0h0.8v0.8h-0.8zM203.5 325.3h0.8v0.8h-0.8zM196.8 324.2h0.8v0.8h-0.8zM193.0 336.6h0.8v0.8h-0.8zM209.0 324.7h0.8v0.8h-0.8zM206.3 320.4h0.8v0.8h-0.8zM208.5 331.6h0.8v0.8h-0.8zM204.4 337.3h0.8v0.8h-0.8zM217.3 337.5h0.8v0.8h-0.8zM198.9 336.9h0.8v0.8h-0.8zM208.7 341.1h0.8v0.8h-0.8zM214.9 326.1h0.8v0.8h-0.8zM193.8 342.1h0.8v0.8h-0.8zM194.4 340.2h0.8v0.8h-0.8zM191.2 326.0h0.8v0.8h-0.8zM208.7 332.0h0.8v0.8h-0.8zM211.6 337.9h0.8v0.8h-0.8zM208.2 341.4h0.8v0.8h-0.8zM190.3 347.9h0.8v0.8h-0.8zM191.6 325.4h0.8v0.8h-0.8zM182.2 335.2h0.8v0.8h-0.8zM208.8 331.0h0.8v0.8h-0.8zM210.3 322.4h0.8v0.8h-0.8zM201.6 337.9h0.8v0.8h-0.8zM204.4 339.8h0.8v0.8h-0.8zM195.4 334.7h0.8v0.8h-0.8zM202.9 325.7h0.8v0.8h-0.8zM211.2 330.9h0.8v0.8h-0.8zM207.3 342.4h0.8v0.8h-0.8zM211.9 359.1h0.8v0.8h-0.8zM198.1 337.0h0.8v0.8h-0.8zM199.1 330.6h0.8v0.8h-0.8zM188.7 332.0h0.8v0.8h-0.8zM186.0 346.2h0.8v0.8h-0.8zM210.0 330.7h0.8v0.8h-0.8zM205.4 336.6h0.8v0.8h-0.8zM202.6 338.5h0.8v0.8h-0.8zM203.4 340.3h0.8v0.8h-0.8zM197.3 336.0h0.8v0.8h-0.8zM197.4 345.8h0.8v0.8h-0.8zM208.1 337.0h0.8v0.8h-0.8zM206.8 330.7h0.8v0.8h-0.8zM200.0 341.0h0.8v0.8h-0.8zM206.7 342.5h0.8v0.8h-0.8zM209.3 360.2h0.8v0.8h-0.8zM205.9 350.9h0.8v0.8h-0.8zM206.5 360.4h0.8v0.8h-0.8zM214.4 326.9h0.8v0.8h-0.8zM214.7 326.9h0.8v0.8h-0.8zM208.5 337.1h0.8v0.8h-0.8zM186.8 346.3h0.8v0.8h-0.8zM212.2 329.7h0.8v0.8h-0.8zM206.0 315.9h0.8v0.8h-0.8zM201.4 328.0h0.8v0.8h-0.8zM213.5 338.2h0.8v0.8h-0.8zM203.6 348.3h0.8v0.8h-0.8zM198.9 343.9h0.8v0.8h-0.8zM202.9 340.5h0.8v0.8h-0.8zM202.3 351.0h0.8v0.8h-0.8zM200.9 357.9h0.8v0.8h-0.8zM212.7 326.2h0.8v0.8h-0.8zM200.8 350.4h0.8v0.8h-0.8zM206.7 342.4h0.8v0.8h-0.8zM203.2 345.8h0.8v0.8h-0.8zM205.9 325.9h0.8v0.8h-0.8zM204.7 333.0h0.8v0.8h-0.8zM203.0 336.4h0.8v0.8h-0.8zM208.5 326.8h0.8v0.8h-0.8zM211.5 318.0h0.8v0.8h-0.8zM211.5 341.0h0.8v0.8h-0.8zM209.1 318.9h0.8v0.8h-0.8zM200.3 337.8h0.8v0.8h-0.8zM209.5 343.9h0.8v0.8h-0.8zM190.5 335.8h0.8v0.8h-0.8zM215.4 322.6h0.8v0.8h-0.8zM193.5 330.4h0.8v0.8h-0.8z" fill="#000" fill-opacity="0.35"/>
</g>
<rect x="156.6" y="312.2" width="61.80" height="58.40" fill="none" stroke="#222" stroke-width="1"/>
<line x1="185.8" y1="335.8" x2="185.8" y2="370.6" stroke="#999" stroke-width="0.9" stroke-linecap="butt"/>
<line x1="185.8" y1="312.2" x2="185.8" y2="335.8" stroke="#777" stroke-width="0.7" stroke-linecap="butt"/>
<line x1="156.6" y1="335.8" x2="218.4" y2="335.8" stroke="#444" stroke-width="0.9" stroke-linecap="butt"/>
<text x="171.2" y="321.78" font-size="8.5" text-anchor="start" fill="#fff" stroke="#fff" stroke-width="0.2" textLength="8.6" lengthAdjust="spacingAndGlyphs">55</text>
<text x="213.6" y="334.88" font-size="8.5" text-anchor="end" fill="#fff" stroke="#fff" stroke-width="0.2" textLength="7.8" lengthAdjust="spacingAndGlyphs">32</text>
<text x="162.7" y="369.68" font-size="8.5" text-anchor="start" fill="#111" stroke="#111" stroke-width="0.2" textLength="3.6" lengthAdjust="spacingAndGlyphs">5</text>
<text x="215.1" y="369.68" font-size="8.5" text-anchor="end" fill="#111" stroke="#111" stroke-width="0.2" textLength="4.0" lengthAdjust="spacingAndGlyphs">8</text>
<text transform="translate(146.2,337.7) rotate(-90)" x="0" y="2.62" font-size="7.5" text-anchor="middle" fill="#222" stroke="#222" stroke-width="0.2" textLength="30.6" lengthAdjust="spacingAndGlyphs">CD41 PE</text>
<text x="171.9" y="386.52" font-size="7.5" text-anchor="start" fill="#222" stroke="#222" stroke-width="0.2" textLength="35.4" lengthAdjust="spacingAndGlyphs">CD34 APC</text>
<text transform="translate(155.3,318.5) rotate(0)" x="0" y="1.2" font-size="3.4" fill="#555" stroke="#555" stroke-width="0.1" text-anchor="end">10<tspan font-size="2.4" dy="-1.2">4</tspan></text>
<text transform="translate(155.3,331.2) rotate(0)" x="0" y="1.2" font-size="3.4" fill="#555" stroke="#555" stroke-width="0.1" text-anchor="end">10<tspan font-size="2.4" dy="-1.2">3</tspan></text>
<text transform="translate(155.3,343.8) rotate(0)" x="0" y="1.2" font-size="3.4" fill="#555" stroke="#555" stroke-width="0.1" text-anchor="end">10<tspan font-size="2.4" dy="-1.2">2</tspan></text>
<text transform="translate(155.3,358) rotate(0)" x="0" y="1.2" font-size="3.4" fill="#555" stroke="#555" stroke-width="0.1" text-anchor="end">10<tspan font-size="2.4" dy="-1.2">1</tspan></text>
<text transform="translate(155.3,364.3) rotate(0)" x="0" y="1.2" font-size="3.4" fill="#555" stroke="#555" stroke-width="0.1" text-anchor="end">0</text>
<text transform="translate(163.8,376) rotate(0)" x="0" y="1.2" font-size="3.4" fill="#555" stroke="#555" stroke-width="0.1" text-anchor="middle">0</text>
<text transform="translate(169.5,376) rotate(0)" x="0" y="1.2" font-size="3.4" fill="#555" stroke="#555" stroke-width="0.1" text-anchor="middle">10<tspan font-size="2.4" dy="-1.2">1</tspan></text>
<text transform="translate(184.6,376) rotate(0)" x="0" y="1.2" font-size="3.4" fill="#555" stroke="#555" stroke-width="0.1" text-anchor="middle">10<tspan font-size="2.4" dy="-1.2">2</tspan></text>
<text transform="translate(198.8,376) rotate(0)" x="0" y="1.2" font-size="3.4" fill="#555" stroke="#555" stroke-width="0.1" text-anchor="middle">10<tspan font-size="2.4" dy="-1.2">3</tspan></text>
<text transform="translate(213.1,376) rotate(0)" x="0" y="1.2" font-size="3.4" fill="#555" stroke="#555" stroke-width="0.1" text-anchor="middle">10<tspan font-size="2.4" dy="-1.2">4</tspan></text>
<text x="226.9" y="296.5" font-size="11" font-weight="bold" fill="#111" stroke="#111" stroke-width="0.35">H</text>
<rect x="251.2" y="307.4" width="118.40" height="64.60" fill="none" stroke="#222" stroke-width="1.3"/>
<text x="246.6" y="315.16" font-size="5.3" text-anchor="end" fill="#555" stroke="#555" stroke-width="0.08">100</text>
<text x="246.6" y="326.46" font-size="5.3" text-anchor="end" fill="#555" stroke="#555" stroke-width="0.08">80</text>
<text x="246.6" y="338.16" font-size="5.3" text-anchor="end" fill="#555" stroke="#555" stroke-width="0.08">60</text>
<text x="246.6" y="350.06" font-size="5.3" text-anchor="end" fill="#555" stroke="#555" stroke-width="0.08">40</text>
<text x="246.6" y="361.75" font-size="5.3" text-anchor="end" fill="#555" stroke="#555" stroke-width="0.08">20</text>
<text x="246.6" y="373.06" font-size="5.3" text-anchor="end" fill="#555" stroke="#555" stroke-width="0.08">0</text>
<text x="251.5" y="379.16" font-size="5.3" text-anchor="middle" fill="#555" stroke="#555" stroke-width="0.08">0</text>
<text x="264.72" y="379.16" font-size="5.3" text-anchor="middle" fill="#555" stroke="#555" stroke-width="0.08">10</text>
<text x="277.94" y="379.16" font-size="5.3" text-anchor="middle" fill="#555" stroke="#555" stroke-width="0.08">20</text>
<text x="291.16" y="379.16" font-size="5.3" text-anchor="middle" fill="#555" stroke="#555" stroke-width="0.08">30</text>
<text x="304.38" y="379.16" font-size="5.3" text-anchor="middle" fill="#555" stroke="#555" stroke-width="0.08">40</text>
<text x="317.6" y="379.16" font-size="5.3" text-anchor="middle" fill="#555" stroke="#555" stroke-width="0.08">50</text>
<text x="330.82" y="379.16" font-size="5.3" text-anchor="middle" fill="#555" stroke="#555" stroke-width="0.08">60</text>
<text x="344.04" y="379.16" font-size="5.3" text-anchor="middle" fill="#555" stroke="#555" stroke-width="0.08">70</text>
<text x="357.26" y="379.16" font-size="5.3" text-anchor="middle" fill="#555" stroke="#555" stroke-width="0.08">80</text>
<text x="370.48" y="379.16" font-size="5.3" text-anchor="middle" fill="#555" stroke="#555" stroke-width="0.08">90</text>
<polyline points="251.2,313.1 258.5,313.1 258.5,319.0 267.1,319.0 267.1,337.0 268.3,339.0 268.3,352.0 272.0,352.0 272.0,364.9 275.8,364.9 275.8,372" fill="none" stroke="#333" stroke-width="1.2" stroke-linejoin="miter"/>
<polyline points="251.2,313.0 266.9,313.0 266.9,319.0" fill="none" stroke="#999" stroke-width="1.2" stroke-linejoin="miter"/>
<polyline points="269,319.0 360.3,319.0 360.3,326.6" fill="none" stroke="#aaa" stroke-width="1.2" stroke-linejoin="miter"/>
<line x1="360.3" y1="326.6" x2="369.6" y2="326.6" stroke="#777" stroke-width="1.0" stroke-linecap="butt"/>
<circle cx="266.6" cy="319" r="1.4" fill="#fff" stroke="#111" stroke-width="0.8"/>
<circle cx="273.4" cy="319" r="1.4" fill="#fff" stroke="#111" stroke-width="0.8"/>
<line x1="328.3" y1="336.5" x2="339.9" y2="336.5" stroke="#999" stroke-width="1.2" stroke-linecap="butt"/>
<line x1="328.3" y1="345.1" x2="339.9" y2="345.1" stroke="#222" stroke-width="1.8" stroke-linecap="butt"/>
<text x="345.4" y="338.80" font-size="6.0" text-anchor="start" fill="#222" stroke="#222" stroke-width="0.1" textLength="16.9" lengthAdjust="spacingAndGlyphs">CD34-</text>
<text x="345.4" y="347.20" font-size="6.0" text-anchor="start" fill="#222" stroke="#222" stroke-width="0.1" textLength="16.9" lengthAdjust="spacingAndGlyphs">CD34+</text>
<text x="336.0" y="367.90" font-size="6.0" text-anchor="start" fill="#222" stroke="#222" stroke-width="0.1" textLength="26.3" lengthAdjust="spacingAndGlyphs"><tspan font-style="italic">P</tspan> =  .0002</text>
<text x="287.8" y="386.71" font-size="6.6" text-anchor="start" fill="#222" stroke="#222" stroke-width="0.1" textLength="53.4" lengthAdjust="spacingAndGlyphs">Days after transplant</text>
<text transform="translate(236.0,338.5) rotate(-90)" x="0" y="2.03" font-size="5.8" text-anchor="middle" fill="#222" stroke="#222" stroke-width="0.2" textLength="25.7" lengthAdjust="spacingAndGlyphs">% survival</text>
<rect x="376.9" y="288.8" width="2.6" height="8.7" fill="#111"/>
<line x1="401.9" y1="318.2" x2="499.5" y2="318.2" stroke="#c8c8c8" stroke-width="0.9" stroke-linecap="butt"/>
<line x1="401.9" y1="326.1" x2="499.5" y2="326.1" stroke="#c8c8c8" stroke-width="0.9" stroke-linecap="butt"/>
<line x1="401.9" y1="334.0" x2="499.5" y2="334.0" stroke="#c8c8c8" stroke-width="0.9" stroke-linecap="butt"/>
<line x1="401.9" y1="341.90000000000003" x2="499.5" y2="341.90000000000003" stroke="#c8c8c8" stroke-width="0.9" stroke-linecap="butt"/>
<line x1="401.9" y1="349.8" x2="499.5" y2="349.8" stroke="#c8c8c8" stroke-width="0.9" stroke-linecap="butt"/>
<line x1="401.9" y1="357.70000000000005" x2="499.5" y2="357.70000000000005" stroke="#c8c8c8" stroke-width="0.9" stroke-linecap="butt"/>
<text x="400.6" y="312.01" font-size="4.9" text-anchor="end" fill="#555" stroke="#555" stroke-width="0.08">120</text>
<text x="400.6" y="319.91" font-size="4.9" text-anchor="end" fill="#555" stroke="#555" stroke-width="0.08">100</text>
<text x="400.6" y="327.81" font-size="4.9" text-anchor="end" fill="#555" stroke="#555" stroke-width="0.08">80</text>
<text x="400.6" y="335.71" font-size="4.9" text-anchor="end" fill="#555" stroke="#555" stroke-width="0.08">60</text>
<text x="400.6" y="343.62" font-size="4.9" text-anchor="end" fill="#555" stroke="#555" stroke-width="0.08">40</text>
<text x="400.6" y="351.51" font-size="4.9" text-anchor="end" fill="#555" stroke="#555" stroke-width="0.08">20</text>
<text x="400.6" y="359.42" font-size="4.9" text-anchor="end" fill="#555" stroke="#555" stroke-width="0.08">0</text>
<text x="400.6" y="367.31" font-size="4.9" text-anchor="end" fill="#555" stroke="#555" stroke-width="0.08">-20</text>
<line x1="414.4" y1="319.6" x2="414.4" y2="322.2" stroke="#999" stroke-width="0.7" stroke-linecap="butt"/>
<line x1="413.4" y1="319.6" x2="415.4" y2="319.6" stroke="#999" stroke-width="0.7" stroke-linecap="butt"/>
<line x1="413.4" y1="322.2" x2="415.4" y2="322.2" stroke="#999" stroke-width="0.7" stroke-linecap="butt"/>
<line x1="438.8" y1="320.6" x2="438.8" y2="330.6" stroke="#999" stroke-width="0.7" stroke-linecap="butt"/>
<line x1="437.8" y1="320.6" x2="439.8" y2="320.6" stroke="#999" stroke-width="0.7" stroke-linecap="butt"/>
<line x1="437.8" y1="330.6" x2="439.8" y2="330.6" stroke="#999" stroke-width="0.7" stroke-linecap="butt"/>
<line x1="462.9" y1="320.0" x2="462.9" y2="328.5" stroke="#999" stroke-width="0.7" stroke-linecap="butt"/>
<line x1="461.9" y1="320.0" x2="463.9" y2="320.0" stroke="#999" stroke-width="0.7" stroke-linecap="butt"/>
<line x1="461.9" y1="328.5" x2="463.9" y2="328.5" stroke="#999" stroke-width="0.7" stroke-linecap="butt"/>
<line x1="487.3" y1="326.2" x2="487.3" y2="361.6" stroke="#999" stroke-width="0.7" stroke-linecap="butt"/>
<line x1="486.3" y1="326.2" x2="488.3" y2="326.2" stroke="#999" stroke-width="0.7" stroke-linecap="butt"/>
<line x1="486.3" y1="361.6" x2="488.3" y2="361.6" stroke="#999" stroke-width="0.7" stroke-linecap="butt"/>
<polyline points="414.4,320.9 438.8,325.4 462.9,324.4 487.3,343.0" fill="none" stroke="#111" stroke-width="1.7" stroke-linejoin="miter"/>
<rect x="401.9" y="310.3" width="97.60" height="55.30" fill="none" stroke="#333" stroke-width="1.3"/>
<text x="414.4" y="375.67" font-size="6.5" text-anchor="middle" fill="#222" stroke="#222" stroke-width="0.1">4</text>
<text x="436.5" y="375.67" font-size="6.5" text-anchor="middle" fill="#222" stroke="#222" stroke-width="0.1">8</text>
<text x="460.6" y="375.67" font-size="6.5" text-anchor="middle" fill="#222" stroke="#222" stroke-width="0.1">14</text>
<text x="486.2" y="375.67" font-size="6.5" text-anchor="middle" fill="#222" stroke="#222" stroke-width="0.1">18</text>
<text x="415.0" y="385.90" font-size="8" text-anchor="start" fill="#222" stroke="#222" stroke-width="0.2" textLength="71.5" lengthAdjust="spacingAndGlyphs">Weeks after transplant</text>
<text transform="translate(379.9,336.0) rotate(-90)" x="0" y="2.45" font-size="7" text-anchor="middle" fill="#222" stroke="#222" stroke-width="0.12" textLength="50" lengthAdjust="spacingAndGlyphs">% EPOCH-derived</text>
<text transform="translate(386.9,334.9) rotate(-90)" x="0" y="2.45" font-size="7" text-anchor="middle" fill="#222" stroke="#222" stroke-width="0.12" textLength="43.7" lengthAdjust="spacingAndGlyphs">peripheral blood</text>
<text transform="translate(515.8,336.4) rotate(90)" x="0" y="3.01" font-size="8.6" text-anchor="middle" fill="#222" stroke="#222" stroke-width="0.2" textLength="41.2" lengthAdjust="spacingAndGlyphs">CD34- donor</text>
<text transform="translate(506.6,336.9) rotate(90)" x="0" y="2.45" font-size="7" text-anchor="middle" fill="#222" stroke="#222" stroke-width="0.2" textLength="13.5" lengthAdjust="spacingAndGlyphs">cells</text>
</svg></body></html>
